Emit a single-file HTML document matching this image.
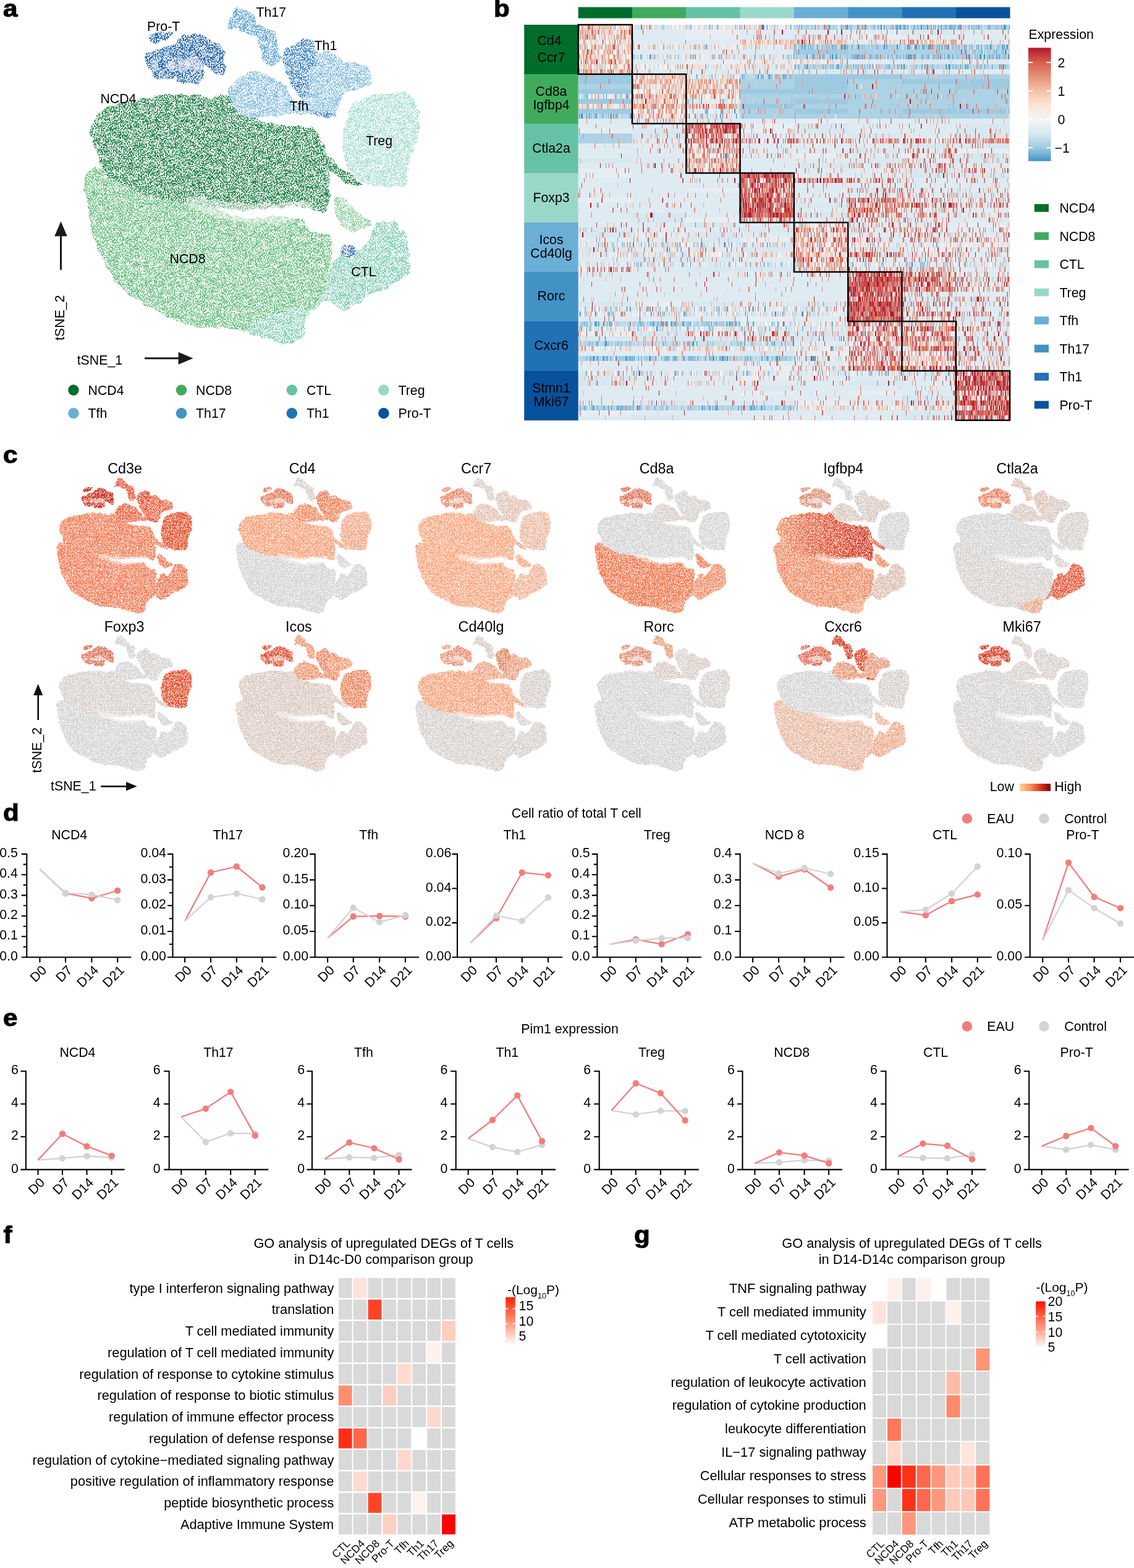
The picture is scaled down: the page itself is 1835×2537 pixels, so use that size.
<!DOCTYPE html><html><head><meta charset="utf-8"><title>Figure</title><style>
html,body{margin:0;padding:0;background:#fff;}body{width:1835px;height:2537px;overflow:hidden;}svg{display:block;}text{font-family:"Liberation Sans",Arial,Helvetica,sans-serif;fill:#000;}
</style></head><body>
<svg width="1835" height="2537" viewBox="0 0 1835 2537">
<defs>
<path id="s_ncd8" d="M136.0,298.0C135.5,288.3 137.3,286.3 140.0,282.0C142.7,277.7 146.7,273.0 152.0,272.0C157.3,271.0 164.0,273.0 172.0,276.0C180.0,279.0 190.3,285.5 200.0,290.0C209.7,294.5 219.2,299.3 230.0,303.0C240.8,306.7 253.3,309.5 265.0,312.0C276.7,314.5 287.5,315.7 300.0,318.0C312.5,320.3 330.7,322.3 340.0,326.0C349.3,329.7 346.0,335.5 356.0,340.0C366.0,344.5 386.0,351.2 400.0,353.0C414.0,354.8 428.3,351.2 440.0,351.0C451.7,350.8 461.7,351.3 470.0,352.0C478.3,352.7 485.5,352.3 490.0,355.0C494.5,357.7 493.7,364.5 497.0,368.0C500.3,371.5 504.5,374.3 510.0,376.0C515.5,377.7 525.7,375.7 530.0,378.0C534.3,380.3 534.8,384.7 536.0,390.0C537.2,395.3 537.7,401.7 537.0,410.0C536.3,418.3 533.5,430.8 532.0,440.0C530.5,449.2 530.3,456.7 528.0,465.0C525.7,473.3 522.7,483.2 518.0,490.0C513.3,496.8 504.3,499.8 500.0,506.0C495.7,512.2 493.7,520.5 492.0,527.0C490.3,533.5 495.0,540.2 490.0,545.0C485.0,549.8 470.8,555.3 462.0,556.0C453.2,556.7 445.0,551.2 437.0,549.0C429.0,546.8 423.8,545.7 414.0,543.0C404.2,540.3 390.3,535.2 378.0,533.0C365.7,530.8 351.3,530.8 340.0,530.0C328.7,529.2 320.3,530.3 310.0,528.0C299.7,525.7 288.3,520.7 278.0,516.0C267.7,511.3 258.0,505.3 248.0,500.0C238.0,494.7 227.2,490.2 218.0,484.0C208.8,477.8 200.2,471.2 193.0,463.0C185.8,454.8 180.5,444.7 175.0,435.0C169.5,425.3 164.5,415.5 160.0,405.0C155.5,394.5 150.8,382.8 148.0,372.0C145.2,361.2 145.0,352.3 143.0,340.0C141.0,327.7 136.5,307.7 136.0,298.0Z"/>
<path id="s_ncd8b" d="M540.0,322.0C541.3,318.0 546.7,317.3 550.0,318.0C553.3,318.7 555.8,322.3 560.0,326.0C564.2,329.7 570.0,335.7 575.0,340.0C580.0,344.3 585.5,349.0 590.0,352.0C594.5,355.0 600.7,355.7 602.0,358.0C603.3,360.3 601.7,363.7 598.0,366.0C594.3,368.3 586.0,371.0 580.0,372.0C574.0,373.0 567.0,374.0 562.0,372.0C557.0,370.0 553.3,365.0 550.0,360.0C546.7,355.0 543.7,348.3 542.0,342.0C540.3,335.7 538.7,326.0 540.0,322.0Z"/>
<path id="s_ctlb" d="M398.0,532.0C399.0,527.8 411.3,522.5 420.0,518.0C428.7,513.5 440.0,508.3 450.0,505.0C460.0,501.7 471.7,497.8 480.0,498.0C488.3,498.2 498.0,501.2 500.0,506.0C502.0,510.8 493.7,520.5 492.0,527.0C490.3,533.5 495.0,540.2 490.0,545.0C485.0,549.8 470.8,555.3 462.0,556.0C453.2,556.7 445.0,551.2 437.0,549.0C429.0,546.8 420.5,545.8 414.0,543.0C407.5,540.2 397.0,536.2 398.0,532.0Z"/>
<path id="s_ctl" d="M530.0,450.0C533.0,441.7 537.0,427.0 542.0,420.0C547.0,413.0 553.2,411.0 560.0,408.0C566.8,405.0 577.3,404.8 583.0,402.0C588.7,399.2 590.2,396.7 594.0,391.0C597.8,385.3 602.3,373.5 606.0,368.0C609.7,362.5 610.7,359.3 616.0,358.0C621.3,356.7 632.7,358.0 638.0,360.0C643.3,362.0 644.8,367.2 648.0,370.0C651.2,372.8 654.7,370.3 657.0,377.0C659.3,383.7 661.0,399.7 662.0,410.0C663.0,420.3 664.0,432.8 663.0,439.0C662.0,445.2 659.7,444.0 656.0,447.0C652.3,450.0 645.7,453.8 641.0,457.0C636.3,460.2 634.0,463.2 628.0,466.0C622.0,468.8 611.0,471.2 605.0,474.0C599.0,476.8 596.8,479.7 592.0,483.0C587.2,486.3 582.0,490.8 576.0,494.0C570.0,497.2 561.7,502.0 556.0,502.0C550.3,502.0 546.7,496.8 542.0,494.0C537.3,491.2 532.5,484.5 528.0,485.0C523.5,485.5 519.2,493.8 515.0,497.0C510.8,500.2 503.5,505.2 503.0,504.0C502.5,502.8 508.5,495.7 512.0,490.0C515.5,484.3 521.0,476.7 524.0,470.0C527.0,463.3 527.0,458.3 530.0,450.0Z"/>
<path id="s_ncd4" d="M147.0,215.0C147.0,209.7 147.8,205.0 150.0,200.0C152.2,195.0 155.8,189.5 160.0,185.0C164.2,180.5 168.0,176.3 175.0,173.0C182.0,169.7 192.0,167.2 202.0,165.0C212.0,162.8 225.0,161.8 235.0,160.0C245.0,158.2 254.8,155.3 262.0,154.0C269.2,152.7 271.7,152.0 278.0,152.0C284.3,152.0 292.7,153.7 300.0,154.0C307.3,154.3 315.3,152.8 322.0,154.0C328.7,155.2 335.3,160.8 340.0,161.0C344.7,161.2 346.3,156.3 350.0,155.0C353.7,153.7 358.0,152.2 362.0,153.0C366.0,153.8 370.0,156.8 374.0,160.0C378.0,163.2 381.8,168.2 386.0,172.0C390.2,175.8 394.0,179.7 399.0,183.0C404.0,186.3 409.8,189.2 416.0,192.0C422.2,194.8 428.7,198.2 436.0,200.0C443.3,201.8 451.7,202.2 460.0,203.0C468.3,203.8 478.3,204.0 486.0,205.0C493.7,206.0 501.0,207.0 506.0,209.0C511.0,211.0 513.0,212.7 516.0,217.0C519.0,221.3 521.7,228.7 524.0,235.0C526.3,241.3 528.7,247.5 530.0,255.0C531.3,262.5 531.5,271.7 532.0,280.0C532.5,288.3 533.0,296.7 533.0,305.0C533.0,313.3 533.2,323.7 532.0,330.0C530.8,336.3 528.8,340.8 526.0,343.0C523.2,345.2 521.7,344.7 515.0,343.0C508.3,341.3 496.8,334.3 486.0,333.0C475.2,331.7 462.2,334.2 450.0,335.0C437.8,335.8 424.7,337.3 413.0,338.0C401.3,338.7 392.2,339.7 380.0,339.0C367.8,338.3 353.3,336.0 340.0,334.0C326.7,332.0 312.5,329.0 300.0,327.0C287.5,325.0 276.7,324.2 265.0,322.0C253.3,319.8 240.8,317.7 230.0,314.0C219.2,310.3 209.7,305.0 200.0,300.0C190.3,295.0 178.2,289.3 172.0,284.0C165.8,278.7 165.2,273.7 163.0,268.0C160.8,262.3 161.2,256.0 159.0,250.0C156.8,244.0 152.0,237.8 150.0,232.0C148.0,226.2 147.0,220.3 147.0,215.0Z"/>
<path id="s_ncd4b" d="M512.0,246.0C513.3,243.8 516.3,241.7 522.0,245.0C527.7,248.3 537.7,259.2 546.0,266.0C554.3,272.8 565.7,280.8 572.0,286.0C578.3,291.2 583.3,294.5 584.0,297.0C584.7,299.5 581.3,302.2 576.0,301.0C570.7,299.8 560.0,294.8 552.0,290.0C544.0,285.2 534.3,277.3 528.0,272.0C521.7,266.7 516.7,262.3 514.0,258.0C511.3,253.7 510.7,248.2 512.0,246.0Z"/>
<path id="s_treg" d="M556.0,210.0C557.3,202.0 559.3,195.0 562.0,188.0C564.7,181.0 567.3,172.8 572.0,168.0C576.7,163.2 584.2,161.5 590.0,159.0C595.8,156.5 600.0,154.5 607.0,153.0C614.0,151.5 623.5,150.5 632.0,150.0C640.5,149.5 651.3,147.7 658.0,150.0C664.7,152.3 668.7,157.7 672.0,164.0C675.3,170.3 677.2,178.7 678.0,188.0C678.8,197.3 678.3,211.3 677.0,220.0C675.7,228.7 672.5,233.7 670.0,240.0C667.5,246.3 663.7,251.0 662.0,258.0C660.3,265.0 660.8,275.0 660.0,282.0C659.2,289.0 660.3,296.5 657.0,300.0C653.7,303.5 647.2,302.7 640.0,303.0C632.8,303.3 621.7,303.0 614.0,302.0C606.3,301.0 599.7,299.0 594.0,297.0C588.3,295.0 584.7,293.2 580.0,290.0C575.3,286.8 569.8,283.3 566.0,278.0C562.2,272.7 559.0,265.0 557.0,258.0C555.0,251.0 554.2,244.0 554.0,236.0C553.8,228.0 554.7,218.0 556.0,210.0Z"/>
<path id="s_tfh" d="M370.0,143.0C371.2,140.2 373.0,141.2 376.0,138.0C379.0,134.8 382.7,127.7 388.0,124.0C393.3,120.3 402.2,117.2 408.0,116.0C413.8,114.8 417.3,115.2 423.0,117.0C428.7,118.8 436.2,124.0 442.0,127.0C447.8,130.0 453.7,131.2 458.0,135.0C462.3,138.8 464.3,145.0 468.0,150.0C471.7,155.0 475.5,160.2 480.0,165.0C484.5,169.8 493.3,175.7 495.0,179.0C496.7,182.3 494.0,184.3 490.0,185.0C486.0,185.7 476.8,182.7 471.0,183.0C465.2,183.3 463.0,186.0 455.0,187.0C447.0,188.0 430.8,188.5 423.0,189.0C415.2,189.5 413.2,190.3 408.0,190.0C402.8,189.7 396.8,189.7 392.0,187.0C387.2,184.3 382.8,179.3 379.0,174.0C375.2,168.7 370.5,160.2 369.0,155.0C367.5,149.8 368.8,145.8 370.0,143.0Z"/>
<path id="s_tfh2" d="M505.0,110.0C507.5,103.2 511.5,93.7 515.0,89.0C518.5,84.3 521.5,82.0 526.0,82.0C530.5,82.0 536.7,85.8 542.0,89.0C547.3,92.2 551.8,99.0 558.0,101.0C564.2,103.0 572.8,99.3 579.0,101.0C585.2,102.7 591.2,107.0 595.0,111.0C598.8,115.0 601.5,120.8 602.0,125.0C602.5,129.2 601.3,133.0 598.0,136.0C594.7,139.0 587.8,140.8 582.0,143.0C576.2,145.2 567.8,146.5 563.0,149.0C558.2,151.5 555.2,154.3 553.0,158.0C550.8,161.7 551.8,166.7 550.0,171.0C548.2,175.3 546.0,180.8 542.0,184.0C538.0,187.2 531.2,189.5 526.0,190.0C520.8,190.5 516.2,188.8 511.0,187.0C505.8,185.2 499.3,181.8 495.0,179.0C490.7,176.2 485.0,174.8 485.0,170.0C485.0,165.2 492.5,156.7 495.0,150.0C497.5,143.3 498.3,136.7 500.0,130.0C501.7,123.3 502.5,116.8 505.0,110.0Z"/>
<path id="s_th17" d="M368.0,48.0C366.7,46.5 369.7,41.0 371.0,37.0C372.3,33.0 374.2,28.0 376.0,24.0C377.8,20.0 379.3,14.7 382.0,13.0C384.7,11.3 387.7,12.5 392.0,14.0C396.3,15.5 403.8,18.3 408.0,22.0C412.2,25.7 413.2,32.0 417.0,36.0C420.8,40.0 426.5,43.5 431.0,46.0C435.5,48.5 441.0,47.5 444.0,51.0C447.0,54.5 448.0,61.5 449.0,67.0C450.0,72.5 449.0,79.5 450.0,84.0C451.0,88.5 455.7,91.0 455.0,94.0C454.3,97.0 449.7,100.2 446.0,102.0C442.3,103.8 436.5,106.2 433.0,105.0C429.5,103.8 426.7,98.8 425.0,95.0C423.3,91.2 424.3,86.0 423.0,82.0C421.7,78.0 418.5,74.8 417.0,71.0C415.5,67.2 416.2,61.5 414.0,59.0C411.8,56.5 408.0,57.7 404.0,56.0C400.0,54.3 394.2,50.7 390.0,49.0C385.8,47.3 382.7,46.2 379.0,46.0C375.3,45.8 369.3,49.5 368.0,48.0Z"/>
<path id="s_th1" d="M460.0,82.0C462.2,78.3 466.5,75.8 471.0,73.0C475.5,70.2 482.8,66.7 487.0,65.0C491.2,63.3 492.7,62.2 496.0,63.0C499.3,63.8 504.0,65.7 507.0,70.0C510.0,74.3 513.3,83.2 514.0,89.0C514.7,94.8 512.8,101.3 511.0,105.0C509.2,108.7 504.8,107.3 503.0,111.0C501.2,114.7 500.5,121.7 500.0,127.0C499.5,132.3 500.7,138.3 500.0,143.0C499.3,147.7 498.2,152.7 496.0,155.0C493.8,157.3 490.2,158.5 487.0,157.0C483.8,155.5 480.2,151.0 477.0,146.0C473.8,141.0 470.5,132.8 468.0,127.0C465.5,121.2 463.7,116.3 462.0,111.0C460.3,105.7 458.3,99.8 458.0,95.0C457.7,90.2 457.8,85.7 460.0,82.0Z"/>
<path id="s_prot" d="M234.0,96.0C233.8,92.8 235.5,89.2 238.0,87.0C240.5,84.8 244.7,84.8 249.0,83.0C253.3,81.2 258.8,78.0 264.0,76.0C269.2,74.0 275.7,73.3 280.0,71.0C284.3,68.7 287.0,64.5 290.0,62.0C293.0,59.5 294.3,57.2 298.0,56.0C301.7,54.8 307.2,54.8 312.0,55.0C316.8,55.2 322.0,55.0 327.0,57.0C332.0,59.0 337.5,64.5 342.0,67.0C346.5,69.5 350.5,69.7 354.0,72.0C357.5,74.3 361.7,77.2 363.0,81.0C364.3,84.8 361.7,90.5 362.0,95.0C362.3,99.5 365.0,104.2 365.0,108.0C365.0,111.8 363.5,115.8 362.0,118.0C360.5,120.2 359.0,121.7 356.0,121.0C353.0,120.3 348.2,116.5 344.0,114.0C339.8,111.5 333.5,105.3 331.0,106.0C328.5,106.7 329.7,113.8 329.0,118.0C328.3,122.2 329.7,128.2 327.0,131.0C324.3,133.8 319.5,134.5 313.0,135.0C306.5,135.5 292.5,136.2 288.0,134.0C283.5,131.8 287.3,123.5 286.0,122.0C284.7,120.5 282.8,124.0 280.0,125.0C277.2,126.0 273.0,127.7 269.0,128.0C265.0,128.3 259.8,128.7 256.0,127.0C252.2,125.3 248.8,121.5 246.0,118.0C243.2,114.5 241.0,109.7 239.0,106.0C237.0,102.3 234.2,99.2 234.0,96.0Z"/>
<path id="s_prot2" d="M242.0,58.0C243.2,55.8 246.7,54.2 250.0,53.0C253.3,51.8 257.7,51.5 262.0,51.0C266.3,50.5 273.0,49.2 276.0,50.0C279.0,50.8 280.7,54.0 280.0,56.0C279.3,58.0 275.0,60.2 272.0,62.0C269.0,63.8 265.7,65.7 262.0,67.0C258.3,68.3 253.2,70.2 250.0,70.0C246.8,69.8 244.3,68.0 243.0,66.0C241.7,64.0 240.8,60.2 242.0,58.0Z"/>
<path id="h_0" d="M288.0,98.0C290.0,95.0 295.5,94.8 300.0,94.0C304.5,93.2 310.3,92.0 315.0,93.0C319.7,94.0 325.2,97.5 328.0,100.0C330.8,102.5 332.3,105.8 332.0,108.0C331.7,110.2 329.7,112.3 326.0,113.0C322.3,113.7 315.0,111.5 310.0,112.0C305.0,112.5 299.7,116.0 296.0,116.0C292.3,116.0 289.3,115.0 288.0,112.0C286.7,109.0 286.0,101.0 288.0,98.0Z"/>
<path id="h_1" d="M246.0,101.0C247.0,99.5 250.2,98.5 252.0,99.0C253.8,99.5 256.3,101.8 257.0,104.0C257.7,106.2 257.2,110.5 256.0,112.0C254.8,113.5 251.7,113.7 250.0,113.0C248.3,112.3 246.7,110.0 246.0,108.0C245.3,106.0 245.0,102.5 246.0,101.0Z"/>
<path id="h_2" d="M271.0,101.0C272.5,99.5 276.7,98.5 279.0,99.0C281.3,99.5 284.3,101.8 285.0,104.0C285.7,106.2 284.7,110.5 283.0,112.0C281.3,113.5 277.2,113.7 275.0,113.0C272.8,112.3 270.7,110.0 270.0,108.0C269.3,106.0 269.5,102.5 271.0,101.0Z"/>
<path id="e_th1s" d="M508.0,181.0C510.8,180.3 519.3,181.2 525.0,182.0C530.7,182.8 539.5,184.7 542.0,186.0C544.5,187.3 543.0,189.3 540.0,190.0C537.0,190.7 529.3,190.7 524.0,190.0C518.7,189.3 510.7,187.5 508.0,186.0C505.3,184.5 505.2,181.7 508.0,181.0Z"/>
<path id="f_0" d="M305.0,318.0C311.7,316.0 334.2,321.8 350.0,324.0C365.8,326.2 383.3,330.2 400.0,331.0C416.7,331.8 434.2,329.8 450.0,329.0C465.8,328.2 485.8,323.3 495.0,326.0C504.2,328.7 510.8,339.7 505.0,345.0C499.2,350.3 477.5,355.2 460.0,358.0C442.5,360.8 418.3,363.3 400.0,362.0C381.7,360.7 365.0,354.3 350.0,350.0C335.0,345.7 317.5,341.3 310.0,336.0C302.5,330.7 298.3,320.0 305.0,318.0Z" fill-opacity="0.45"/>
<path id="f_1" d="M492.0,352.0C494.5,347.5 508.7,345.3 515.0,345.0C521.3,344.7 526.8,345.5 530.0,350.0C533.2,354.5 535.7,367.3 534.0,372.0C532.3,376.7 525.7,378.0 520.0,378.0C514.3,378.0 504.7,376.3 500.0,372.0C495.3,367.7 489.5,356.5 492.0,352.0Z" fill-opacity="0.55"/>
<ellipse id="e_th1b" cx="563" cy="406" rx="13" ry="10"/>
<filter id="spkA" filterUnits="userSpaceOnUse" x="120" y="0" width="580" height="580" color-interpolation-filters="sRGB"><feTurbulence type="fractalNoise" baseFrequency="0.12" numOctaves="2" seed="5" result="lo"/><feTurbulence type="fractalNoise" baseFrequency="0.55" numOctaves="1" seed="9" result="hi"/><feColorMatrix in="lo" type="matrix" values="0 0 0 0 0 0 0 0 0 0 0 0 0 0 0 1 0 0 0 0" result="la"/><feColorMatrix in="hi" type="matrix" values="0 0 0 0 0 0 0 0 0 0 0 0 0 0 0 1 0 0 0 0" result="ha"/><feComposite in="la" in2="ha" operator="arithmetic" k2="0.18" k3="0.82" result="s"/><feComponentTransfer in="s" result="m"><feFuncA type="linear" slope="11" intercept="-5.0"/></feComponentTransfer><feTurbulence type="fractalNoise" baseFrequency="0.09" numOctaves="2" seed="2" result="dn"/><feDisplacementMap in="SourceGraphic" in2="dn" scale="9" xChannelSelector="R" yChannelSelector="G" result="disp"/><feComposite in="disp" in2="m" operator="in" result="o"/><feGaussianBlur in="o" stdDeviation="0.55"/></filter>
<filter id="spkC" filterUnits="userSpaceOnUse" x="80" y="760" width="1700" height="500" color-interpolation-filters="sRGB"><feTurbulence type="fractalNoise" baseFrequency="0.3" numOctaves="1" seed="4" result="lo"/><feTurbulence type="fractalNoise" baseFrequency="1.2" numOctaves="1" seed="8" result="hi"/><feColorMatrix in="lo" type="matrix" values="0 0 0 0 0 0 0 0 0 0 0 0 0 0 0 1 0 0 0 0" result="la"/><feColorMatrix in="hi" type="matrix" values="0 0 0 0 0 0 0 0 0 0 0 0 0 0 0 1 0 0 0 0" result="ha"/><feComposite in="la" in2="ha" operator="arithmetic" k2="0.15" k3="0.85" result="s"/><feComponentTransfer in="s" result="m"><feFuncA type="linear" slope="10" intercept="-4.0"/></feComponentTransfer><feTurbulence type="fractalNoise" baseFrequency="0.2" numOctaves="2" seed="2" result="dn"/><feDisplacementMap in="SourceGraphic" in2="dn" scale="4" xChannelSelector="R" yChannelSelector="G" result="disp"/><feComposite in="disp" in2="m" operator="in" result="o"/><feGaussianBlur in="o" stdDeviation="0.4"/></filter>

<linearGradient id="gExpr" x1="0" y1="0" x2="0" y2="1"><stop offset="0" stop-color="#B2182B"/><stop offset="0.129" stop-color="#D6604D"/><stop offset="0.38" stop-color="#F8C1A6"/><stop offset="0.506" stop-color="#FBE3D6"/><stop offset="0.632" stop-color="#F5F5F5"/><stop offset="0.757" stop-color="#D8E8F1"/><stop offset="0.883" stop-color="#9ECAE1"/><stop offset="1" stop-color="#4393C3"/></linearGradient>
<linearGradient id="gF" x1="0" y1="0" x2="0" y2="1"><stop offset="0" stop-color="#FF2010"/><stop offset="0.07" stop-color="#FF3018"/><stop offset="0.245" stop-color="#FE5A3E"/><stop offset="0.45" stop-color="#FE8468"/><stop offset="0.555" stop-color="#FE9A80"/><stop offset="0.73" stop-color="#FEC0AE"/><stop offset="0.87" stop-color="#FEDED4"/><stop offset="1" stop-color="#FFFAF8"/></linearGradient>
<linearGradient id="gG" x1="0" y1="0" x2="0" y2="1"><stop offset="0" stop-color="#FF1008"/><stop offset="0.33" stop-color="#FE6446"/><stop offset="0.66" stop-color="#FEA890"/><stop offset="1" stop-color="#FFF6F2"/></linearGradient>
<linearGradient id="gIgN4" x1="0" x2="1" y1="0" y2="0"><stop offset="0" stop-color="#F3966C"/><stop offset="0.45" stop-color="#E45A38"/><stop offset="1" stop-color="#CF3320"/></linearGradient>
<linearGradient id="gLH" x1="0" x2="1" y1="0" y2="0"><stop offset="0" stop-color="#FDD49E"/><stop offset="0.35" stop-color="#FC8D59"/><stop offset="0.7" stop-color="#D7301F"/><stop offset="1" stop-color="#7F0000"/></linearGradient>
</defs>
<rect width="1835" height="2537" fill="#fff"/>
<text transform="translate(5 27.3) scale(1.08 0.975)" font-size="39" font-weight="bold" stroke="#000" stroke-width="1.1">a</text>
<text transform="translate(799 27.3) scale(1.08 0.975)" font-size="39" font-weight="bold" stroke="#000" stroke-width="1.1">b</text>
<text transform="translate(5 748.5) scale(1.08 0.975)" font-size="39" font-weight="bold" stroke="#000" stroke-width="1.1">c</text>
<text transform="translate(5 1328.3) scale(1.08 0.975)" font-size="39" font-weight="bold" stroke="#000" stroke-width="1.1">d</text>
<text transform="translate(5 1659.8) scale(1.08 0.975)" font-size="39" font-weight="bold" stroke="#000" stroke-width="1.1">e</text>
<text transform="translate(5.5 2010.5) scale(1.08 0.975)" font-size="39" font-weight="bold" stroke="#000" stroke-width="1.1">f</text>
<text transform="translate(1026 2011) scale(1.08 0.975)" font-size="39" font-weight="bold" stroke="#000" stroke-width="1.1">g</text>
<g filter="url(#spkA)">
<use href="#s_ncd8" fill="#67BC7D"/>
<use href="#s_ncd8b" fill="#8DCD9E"/>
<use href="#s_ctlb" fill="#7DCBB2"/>
<use href="#s_ctl" fill="#7DCBB2"/>
<use href="#s_ncd4" fill="#1F7F45"/>
<use href="#s_ncd4b" fill="#1F7F45"/>
<use href="#s_treg" fill="#A3DCCE"/>
<use href="#s_tfh" fill="#81BADC"/>
<use href="#s_tfh2" fill="#81BADC"/>
<use href="#s_th17" fill="#599FCD"/>
<use href="#s_th1" fill="#377FBC"/>
<use href="#s_prot" fill="#1C5FA4"/>
<use href="#s_prot2" fill="#1C5FA4"/>
<use href="#e_th1s" fill="#377FBC"/>
<use href="#h_0" fill="#8AA9D6"/>
<use href="#h_1" fill="#8AA9D6"/>
<use href="#h_2" fill="#8AA9D6"/>
<use href="#e_th1b" fill="#3767AC"/>
<use href="#f_0" fill="#FFFFFF"/>
<use href="#f_1" fill="#FFFFFF"/>
</g>
<text x="238" y="49.9" font-size="21.3">Pro-T</text>
<text x="414.5" y="27.4" font-size="21.3">Th17</text>
<text x="508.6" y="80.5" font-size="21.3">Th1</text>
<text x="468.7" y="179.3" font-size="21.3">Tfh</text>
<text x="162.4" y="167.4" font-size="21.3">NCD4</text>
<text x="592" y="234.8" font-size="21.3">Treg</text>
<text x="274.6" y="426.3" font-size="21.3">NCD8</text>
<text x="568.3" y="447.2" font-size="21.3">CTL</text>
<path d="M98.5,436.7V378" stroke="#1a1a1a" stroke-width="3" fill="none"/>
<path d="M98.5,358.2L88.2,382.3L108.8,382.3Z" fill="#1a1a1a"/>
<path d="M234.1,579.7H292" stroke="#1a1a1a" stroke-width="3" fill="none"/>
<path d="M312.5,579.7L288.6,569.7L288.6,589.7Z" fill="#1a1a1a"/>
<text x="124.7" y="589.7" font-size="21.3">tSNE_1</text>
<text x="103.6" y="550.8" font-size="21.3" transform="rotate(-90 103.6 550.8)">tSNE_2</text>
<circle cx="118.9" cy="631.1" r="8.8" fill="#006D2C"/>
<text x="142.5" y="638.6" font-size="21.3">NCD4</text>
<circle cx="293.5" cy="631.1" r="8.8" fill="#41AB5D"/>
<text x="317.1" y="638.6" font-size="21.3">NCD8</text>
<circle cx="472.3" cy="631.1" r="8.8" fill="#66C2A4"/>
<text x="495.9" y="638.6" font-size="21.3">CTL</text>
<circle cx="620.9" cy="631.1" r="8.8" fill="#99D8C9"/>
<text x="644.5" y="638.6" font-size="21.3">Treg</text>
<circle cx="118.9" cy="668.6" r="8.8" fill="#6BAED6"/>
<text x="142.5" y="676.1" font-size="21.3">Tfh</text>
<circle cx="293.5" cy="668.6" r="8.8" fill="#4292C6"/>
<text x="317.1" y="676.1" font-size="21.3">Th17</text>
<circle cx="472.3" cy="668.6" r="8.8" fill="#2171B5"/>
<text x="495.9" y="676.1" font-size="21.3">Th1</text>
<circle cx="620.9" cy="668.6" r="8.8" fill="#08519C"/>
<text x="644.5" y="676.1" font-size="21.3">Pro-T</text>
<rect x="935.7" y="11.5" width="87.7" height="18" fill="#006D2C"/>
<rect x="1023" y="11.5" width="87.7" height="18" fill="#41AB5D"/>
<rect x="1110.3" y="11.5" width="87.7" height="18" fill="#66C2A4"/>
<rect x="1197.6" y="11.5" width="87.7" height="18" fill="#99D8C9"/>
<rect x="1284.9" y="11.5" width="87.7" height="18" fill="#6BAED6"/>
<rect x="1372.2" y="11.5" width="87.7" height="18" fill="#4292C6"/>
<rect x="1459.5" y="11.5" width="87.7" height="18" fill="#2171B5"/>
<rect x="1546.8" y="11.5" width="87.7" height="18" fill="#08519C"/>
<rect x="848.2" y="40" width="87.5" height="80.3" fill="#006D2C"/>
<rect x="848.2" y="120" width="87.5" height="80.3" fill="#41AB5D"/>
<rect x="848.2" y="200" width="87.5" height="80.3" fill="#66C2A4"/>
<rect x="848.2" y="280" width="87.5" height="80.3" fill="#99D8C9"/>
<rect x="848.2" y="360" width="87.5" height="80.3" fill="#6BAED6"/>
<rect x="848.2" y="440" width="87.5" height="80.3" fill="#4292C6"/>
<rect x="848.2" y="520" width="87.5" height="80.3" fill="#2171B5"/>
<rect x="848.2" y="600" width="87.5" height="80.3" fill="#08519C"/>
<text x="889" y="73" font-size="21.3" text-anchor="middle">Cd4</text>
<text x="892" y="99.8" font-size="21.3" text-anchor="middle">Ccr7</text>
<text x="892" y="155.2" font-size="21.3" text-anchor="middle">Cd8a</text>
<text x="892" y="176.7" font-size="21.3" text-anchor="middle">Igfbp4</text>
<text x="892" y="247" font-size="21.3" text-anchor="middle">Ctla2a</text>
<text x="892" y="326.5" font-size="21.3" text-anchor="middle">Foxp3</text>
<text x="892" y="394.7" font-size="21.3" text-anchor="middle">Icos</text>
<text x="892" y="417" font-size="21.3" text-anchor="middle">Cd40lg</text>
<text x="892" y="486.1" font-size="21.3" text-anchor="middle">Rorc</text>
<text x="892" y="565.9" font-size="21.3" text-anchor="middle">Cxcr6</text>
<text x="892" y="634.9" font-size="21.3" text-anchor="middle">Stmn1</text>
<text x="892" y="656.6" font-size="21.3" text-anchor="middle">Mki67</text>
<rect x="936" y="40" width="87" height="8" fill="#EEF2F4"/>
<rect x="1023" y="40" width="87" height="8" fill="#D8E8F1"/>
<rect x="1110" y="40" width="175" height="8" fill="#DFEBF2"/>
<rect x="1285" y="40" width="87" height="8" fill="#BBD9E9"/>
<rect x="1372" y="40" width="175" height="8" fill="#ACD2E5"/>
<rect x="1547" y="40" width="87" height="8" fill="#BBD9E9"/>
<rect x="936" y="48" width="87" height="8" fill="#E6EEF3"/>
<rect x="1023" y="48" width="87" height="8" fill="#DFEBF2"/>
<rect x="1110" y="48" width="88" height="8" fill="#E6EEF3"/>
<rect x="1198" y="48" width="262" height="8" fill="#DFEBF2"/>
<rect x="1460" y="48" width="87" height="8" fill="#D8E8F1"/>
<rect x="1547" y="48" width="87" height="8" fill="#DFEBF2"/>
<rect x="936" y="56" width="87" height="8" fill="#E6EEF3"/>
<rect x="1023" y="56" width="87" height="8" fill="#DFEBF2"/>
<rect x="1110" y="56" width="88" height="8" fill="#E6EEF3"/>
<rect x="1198" y="56" width="87" height="8" fill="#DFEBF2"/>
<rect x="1285" y="56" width="87" height="8" fill="#D8E8F1"/>
<rect x="1372" y="56" width="88" height="8" fill="#E6EEF3"/>
<rect x="1460" y="56" width="174" height="8" fill="#DFEBF2"/>
<rect x="936" y="64" width="87" height="8" fill="#EEF2F4"/>
<rect x="1023" y="64" width="262" height="8" fill="#DFEBF2"/>
<rect x="1285" y="64" width="87" height="8" fill="#E6EEF3"/>
<rect x="1372" y="64" width="88" height="8" fill="#DFEBF2"/>
<rect x="1460" y="64" width="87" height="8" fill="#E6EEF3"/>
<rect x="1547" y="64" width="87" height="8" fill="#DFEBF2"/>
<rect x="936" y="72" width="87" height="8" fill="#EEF2F4"/>
<rect x="1023" y="72" width="262" height="8" fill="#DFEBF2"/>
<rect x="1285" y="72" width="262" height="8" fill="#ACD2E5"/>
<rect x="1547" y="72" width="87" height="8" fill="#BBD9E9"/>
<rect x="936" y="80" width="87" height="8" fill="#F5F5F5"/>
<rect x="1023" y="80" width="262" height="8" fill="#DFEBF2"/>
<rect x="1285" y="80" width="87" height="8" fill="#9ECAE1"/>
<rect x="1372" y="80" width="262" height="8" fill="#ACD2E5"/>
<rect x="936" y="88" width="87" height="8" fill="#EEF2F4"/>
<rect x="1023" y="88" width="87" height="8" fill="#DFEBF2"/>
<rect x="1110" y="88" width="175" height="8" fill="#D8E8F1"/>
<rect x="1285" y="88" width="87" height="8" fill="#BBD9E9"/>
<rect x="1372" y="88" width="262" height="8" fill="#ACD2E5"/>
<rect x="936" y="96" width="87" height="8" fill="#EEF2F4"/>
<rect x="1023" y="96" width="87" height="8" fill="#DFEBF2"/>
<rect x="1110" y="96" width="88" height="8" fill="#E6EEF3"/>
<rect x="1198" y="96" width="262" height="8" fill="#DFEBF2"/>
<rect x="1460" y="96" width="87" height="8" fill="#D8E8F1"/>
<rect x="1547" y="96" width="87" height="8" fill="#DFEBF2"/>
<rect x="936" y="104" width="87" height="8" fill="#EEF2F4"/>
<rect x="1023" y="104" width="175" height="8" fill="#DFEBF2"/>
<rect x="1198" y="104" width="87" height="8" fill="#D8E8F1"/>
<rect x="1285" y="104" width="349" height="8" fill="#BBD9E9"/>
<rect x="936" y="112" width="87" height="8" fill="#EEF2F4"/>
<rect x="1023" y="112" width="262" height="8" fill="#DFEBF2"/>
<rect x="1285" y="112" width="175" height="8" fill="#D8E8F1"/>
<rect x="1460" y="112" width="174" height="8" fill="#DFEBF2"/>
<rect x="936" y="120" width="87" height="8" fill="#9ECAE1"/>
<rect x="1023" y="120" width="87" height="8" fill="#E6EEF3"/>
<rect x="1110" y="120" width="88" height="8" fill="#D8E8F1"/>
<rect x="1198" y="120" width="87" height="8" fill="#BBD9E9"/>
<rect x="1285" y="120" width="175" height="8" fill="#9ECAE1"/>
<rect x="1460" y="120" width="174" height="8" fill="#ACD2E5"/>
<rect x="936" y="128" width="87" height="8" fill="#9ECAE1"/>
<rect x="1023" y="128" width="175" height="8" fill="#E6EEF3"/>
<rect x="1198" y="128" width="87" height="8" fill="#ACD2E5"/>
<rect x="1285" y="128" width="87" height="8" fill="#9ECAE1"/>
<rect x="1372" y="128" width="88" height="8" fill="#ACD2E5"/>
<rect x="1460" y="128" width="174" height="8" fill="#9ECAE1"/>
<rect x="936" y="136" width="87" height="8" fill="#ACD2E5"/>
<rect x="1023" y="136" width="175" height="8" fill="#E6EEF3"/>
<rect x="1198" y="136" width="87" height="8" fill="#ACD2E5"/>
<rect x="1285" y="136" width="87" height="8" fill="#9ECAE1"/>
<rect x="1372" y="136" width="175" height="8" fill="#ACD2E5"/>
<rect x="1547" y="136" width="87" height="8" fill="#9ECAE1"/>
<rect x="936" y="144" width="87" height="8" fill="#9ECAE1"/>
<rect x="1023" y="144" width="175" height="8" fill="#EEF2F4"/>
<rect x="1198" y="144" width="174" height="8" fill="#9ECAE1"/>
<rect x="1372" y="144" width="262" height="8" fill="#ACD2E5"/>
<rect x="936" y="152" width="87" height="8" fill="#D8E8F1"/>
<rect x="1023" y="152" width="175" height="8" fill="#EEF2F4"/>
<rect x="1198" y="152" width="436" height="8" fill="#ACD2E5"/>
<rect x="936" y="160" width="87" height="8" fill="#9ECAE1"/>
<rect x="1023" y="160" width="87" height="8" fill="#EEF2F4"/>
<rect x="1110" y="160" width="88" height="8" fill="#DFEBF2"/>
<rect x="1198" y="160" width="87" height="8" fill="#ACD2E5"/>
<rect x="1285" y="160" width="87" height="8" fill="#9ECAE1"/>
<rect x="1372" y="160" width="262" height="8" fill="#ACD2E5"/>
<rect x="936" y="168" width="87" height="8" fill="#E6EEF3"/>
<rect x="1023" y="168" width="87" height="8" fill="#EEF2F4"/>
<rect x="1110" y="168" width="88" height="8" fill="#E6EEF3"/>
<rect x="1198" y="168" width="87" height="8" fill="#9ECAE1"/>
<rect x="1285" y="168" width="349" height="8" fill="#ACD2E5"/>
<rect x="936" y="176" width="87" height="8" fill="#9ECAE1"/>
<rect x="1023" y="176" width="87" height="8" fill="#EEF2F4"/>
<rect x="1110" y="176" width="88" height="8" fill="#DFEBF2"/>
<rect x="1198" y="176" width="87" height="8" fill="#ACD2E5"/>
<rect x="1285" y="176" width="87" height="8" fill="#9ECAE1"/>
<rect x="1372" y="176" width="88" height="8" fill="#ACD2E5"/>
<rect x="1460" y="176" width="174" height="8" fill="#9ECAE1"/>
<rect x="936" y="184" width="87" height="8" fill="#BBD9E9"/>
<rect x="1023" y="184" width="87" height="8" fill="#E6EEF3"/>
<rect x="1110" y="184" width="88" height="8" fill="#DFEBF2"/>
<rect x="1198" y="184" width="436" height="8" fill="#ACD2E5"/>
<rect x="936" y="192" width="349" height="8" fill="#DFEBF2"/>
<rect x="1285" y="192" width="87" height="8" fill="#E6EEF3"/>
<rect x="1372" y="192" width="262" height="8" fill="#DFEBF2"/>
<rect x="936" y="200" width="174" height="8" fill="#DFEBF2"/>
<rect x="1110" y="200" width="88" height="8" fill="#F5F5F5"/>
<rect x="1198" y="200" width="87" height="8" fill="#E6EEF3"/>
<rect x="1285" y="200" width="87" height="8" fill="#D8E8F1"/>
<rect x="1372" y="200" width="175" height="8" fill="#DFEBF2"/>
<rect x="1547" y="200" width="87" height="8" fill="#D8E8F1"/>
<rect x="936" y="208" width="87" height="8" fill="#E6EEF3"/>
<rect x="1023" y="208" width="87" height="8" fill="#D8E8F1"/>
<rect x="1110" y="208" width="88" height="8" fill="#F6F0ED"/>
<rect x="1198" y="208" width="87" height="8" fill="#E6EEF3"/>
<rect x="1285" y="208" width="87" height="8" fill="#D8E8F1"/>
<rect x="1372" y="208" width="175" height="8" fill="#DFEBF2"/>
<rect x="1547" y="208" width="87" height="8" fill="#D8E8F1"/>
<rect x="936" y="216" width="87" height="8" fill="#ACD2E5"/>
<rect x="1023" y="216" width="87" height="8" fill="#D8E8F1"/>
<rect x="1110" y="216" width="88" height="8" fill="#E6EEF3"/>
<rect x="1198" y="216" width="174" height="8" fill="#DFEBF2"/>
<rect x="1372" y="216" width="88" height="8" fill="#D8E8F1"/>
<rect x="1460" y="216" width="87" height="8" fill="#DFEBF2"/>
<rect x="1547" y="216" width="87" height="8" fill="#D8E8F1"/>
<rect x="936" y="224" width="87" height="8" fill="#ACD2E5"/>
<rect x="1023" y="224" width="87" height="8" fill="#DFEBF2"/>
<rect x="1110" y="224" width="524" height="8" fill="#E6EEF3"/>
<rect x="936" y="232" width="174" height="8" fill="#DFEBF2"/>
<rect x="1110" y="232" width="88" height="8" fill="#E6EEF3"/>
<rect x="1198" y="232" width="262" height="8" fill="#DFEBF2"/>
<rect x="1460" y="232" width="174" height="8" fill="#D8E8F1"/>
<rect x="936" y="240" width="174" height="8" fill="#DFEBF2"/>
<rect x="1110" y="240" width="88" height="8" fill="#E6EEF3"/>
<rect x="1198" y="240" width="174" height="8" fill="#DFEBF2"/>
<rect x="1372" y="240" width="88" height="8" fill="#D8E8F1"/>
<rect x="1460" y="240" width="87" height="8" fill="#DFEBF2"/>
<rect x="1547" y="240" width="87" height="8" fill="#E6EEF3"/>
<rect x="936" y="248" width="174" height="8" fill="#DFEBF2"/>
<rect x="1110" y="248" width="88" height="8" fill="#E6EEF3"/>
<rect x="1198" y="248" width="87" height="8" fill="#DFEBF2"/>
<rect x="1285" y="248" width="87" height="8" fill="#E6EEF3"/>
<rect x="1372" y="248" width="88" height="8" fill="#DFEBF2"/>
<rect x="1460" y="248" width="87" height="8" fill="#E6EEF3"/>
<rect x="1547" y="248" width="87" height="8" fill="#D8E8F1"/>
<rect x="936" y="256" width="87" height="8" fill="#D8E8F1"/>
<rect x="1023" y="256" width="87" height="8" fill="#DFEBF2"/>
<rect x="1110" y="256" width="88" height="8" fill="#EEF2F4"/>
<rect x="1198" y="256" width="174" height="8" fill="#DFEBF2"/>
<rect x="1372" y="256" width="88" height="8" fill="#D8E8F1"/>
<rect x="1460" y="256" width="87" height="8" fill="#DFEBF2"/>
<rect x="1547" y="256" width="87" height="8" fill="#D8E8F1"/>
<rect x="936" y="264" width="174" height="8" fill="#DFEBF2"/>
<rect x="1110" y="264" width="88" height="8" fill="#EEF2F4"/>
<rect x="1198" y="264" width="87" height="8" fill="#DFEBF2"/>
<rect x="1285" y="264" width="87" height="8" fill="#D8E8F1"/>
<rect x="1372" y="264" width="262" height="8" fill="#DFEBF2"/>
<rect x="936" y="272" width="87" height="8" fill="#E6EEF3"/>
<rect x="1023" y="272" width="87" height="8" fill="#DFEBF2"/>
<rect x="1110" y="272" width="88" height="8" fill="#E6EEF3"/>
<rect x="1198" y="272" width="262" height="8" fill="#DFEBF2"/>
<rect x="1460" y="272" width="87" height="8" fill="#D8E8F1"/>
<rect x="1547" y="272" width="87" height="8" fill="#DFEBF2"/>
<rect x="936" y="280" width="87" height="8" fill="#E6EEF3"/>
<rect x="1023" y="280" width="175" height="8" fill="#DFEBF2"/>
<rect x="1198" y="280" width="87" height="8" fill="#F8ECE6"/>
<rect x="1285" y="280" width="175" height="8" fill="#DFEBF2"/>
<rect x="1460" y="280" width="174" height="8" fill="#D8E8F1"/>
<rect x="936" y="288" width="262" height="8" fill="#DFEBF2"/>
<rect x="1198" y="288" width="87" height="8" fill="#F6F0ED"/>
<rect x="1285" y="288" width="87" height="8" fill="#E6EEF3"/>
<rect x="1372" y="288" width="262" height="8" fill="#DFEBF2"/>
<rect x="936" y="296" width="262" height="8" fill="#DFEBF2"/>
<rect x="1198" y="296" width="87" height="8" fill="#F8ECE6"/>
<rect x="1285" y="296" width="349" height="8" fill="#DFEBF2"/>
<rect x="936" y="304" width="174" height="8" fill="#DFEBF2"/>
<rect x="1110" y="304" width="88" height="8" fill="#E6EEF3"/>
<rect x="1198" y="304" width="87" height="8" fill="#F8ECE6"/>
<rect x="1285" y="304" width="87" height="8" fill="#DFEBF2"/>
<rect x="1372" y="304" width="88" height="8" fill="#D8E8F1"/>
<rect x="1460" y="304" width="174" height="8" fill="#DFEBF2"/>
<rect x="936" y="312" width="262" height="8" fill="#DFEBF2"/>
<rect x="1198" y="312" width="87" height="8" fill="#F6F0ED"/>
<rect x="1285" y="312" width="262" height="8" fill="#DFEBF2"/>
<rect x="1547" y="312" width="87" height="8" fill="#D8E8F1"/>
<rect x="936" y="320" width="87" height="8" fill="#E6EEF3"/>
<rect x="1023" y="320" width="175" height="8" fill="#DFEBF2"/>
<rect x="1198" y="320" width="87" height="8" fill="#F5F5F5"/>
<rect x="1285" y="320" width="87" height="8" fill="#DFEBF2"/>
<rect x="1372" y="320" width="88" height="8" fill="#E6EEF3"/>
<rect x="1460" y="320" width="174" height="8" fill="#DFEBF2"/>
<rect x="936" y="328" width="262" height="8" fill="#DFEBF2"/>
<rect x="1198" y="328" width="87" height="8" fill="#F5F5F5"/>
<rect x="1285" y="328" width="87" height="8" fill="#D8E8F1"/>
<rect x="1372" y="328" width="88" height="8" fill="#E6EEF3"/>
<rect x="1460" y="328" width="174" height="8" fill="#DFEBF2"/>
<rect x="936" y="336" width="262" height="8" fill="#DFEBF2"/>
<rect x="1198" y="336" width="87" height="8" fill="#F6F0ED"/>
<rect x="1285" y="336" width="87" height="8" fill="#DFEBF2"/>
<rect x="1372" y="336" width="88" height="8" fill="#E6EEF3"/>
<rect x="1460" y="336" width="174" height="8" fill="#DFEBF2"/>
<rect x="936" y="344" width="87" height="8" fill="#DFEBF2"/>
<rect x="1023" y="344" width="87" height="8" fill="#D8E8F1"/>
<rect x="1110" y="344" width="88" height="8" fill="#DFEBF2"/>
<rect x="1198" y="344" width="87" height="8" fill="#F6F0ED"/>
<rect x="1285" y="344" width="87" height="8" fill="#D8E8F1"/>
<rect x="1372" y="344" width="88" height="8" fill="#E6EEF3"/>
<rect x="1460" y="344" width="174" height="8" fill="#DFEBF2"/>
<rect x="936" y="352" width="87" height="8" fill="#DFEBF2"/>
<rect x="1023" y="352" width="87" height="8" fill="#D8E8F1"/>
<rect x="1110" y="352" width="88" height="8" fill="#E6EEF3"/>
<rect x="1198" y="352" width="436" height="8" fill="#DFEBF2"/>
<rect x="936" y="360" width="174" height="8" fill="#DFEBF2"/>
<rect x="1110" y="360" width="88" height="8" fill="#D8E8F1"/>
<rect x="1198" y="360" width="87" height="8" fill="#DFEBF2"/>
<rect x="1285" y="360" width="87" height="8" fill="#EEF2F4"/>
<rect x="1372" y="360" width="175" height="8" fill="#DFEBF2"/>
<rect x="1547" y="360" width="87" height="8" fill="#E6EEF3"/>
<rect x="936" y="368" width="87" height="8" fill="#D8E8F1"/>
<rect x="1023" y="368" width="175" height="8" fill="#DFEBF2"/>
<rect x="1198" y="368" width="87" height="8" fill="#D8E8F1"/>
<rect x="1285" y="368" width="87" height="8" fill="#EEF2F4"/>
<rect x="1372" y="368" width="88" height="8" fill="#DFEBF2"/>
<rect x="1460" y="368" width="87" height="8" fill="#E6EEF3"/>
<rect x="1547" y="368" width="87" height="8" fill="#DFEBF2"/>
<rect x="936" y="376" width="87" height="8" fill="#D8E8F1"/>
<rect x="1023" y="376" width="87" height="8" fill="#E6EEF3"/>
<rect x="1110" y="376" width="88" height="8" fill="#D8E8F1"/>
<rect x="1198" y="376" width="87" height="8" fill="#DFEBF2"/>
<rect x="1285" y="376" width="87" height="8" fill="#EEF2F4"/>
<rect x="1372" y="376" width="262" height="8" fill="#DFEBF2"/>
<rect x="936" y="384" width="174" height="8" fill="#DFEBF2"/>
<rect x="1110" y="384" width="88" height="8" fill="#D8E8F1"/>
<rect x="1198" y="384" width="87" height="8" fill="#E6EEF3"/>
<rect x="1285" y="384" width="87" height="8" fill="#EEF2F4"/>
<rect x="1372" y="384" width="262" height="8" fill="#DFEBF2"/>
<rect x="936" y="392" width="87" height="8" fill="#D8E8F1"/>
<rect x="1023" y="392" width="175" height="8" fill="#DFEBF2"/>
<rect x="1198" y="392" width="87" height="8" fill="#D8E8F1"/>
<rect x="1285" y="392" width="175" height="8" fill="#E6EEF3"/>
<rect x="1460" y="392" width="174" height="8" fill="#DFEBF2"/>
<rect x="936" y="400" width="87" height="8" fill="#D8E8F1"/>
<rect x="1023" y="400" width="175" height="8" fill="#DFEBF2"/>
<rect x="1198" y="400" width="87" height="8" fill="#D8E8F1"/>
<rect x="1285" y="400" width="87" height="8" fill="#EEF2F4"/>
<rect x="1372" y="400" width="88" height="8" fill="#D8E8F1"/>
<rect x="1460" y="400" width="87" height="8" fill="#E6EEF3"/>
<rect x="1547" y="400" width="87" height="8" fill="#DFEBF2"/>
<rect x="936" y="408" width="349" height="8" fill="#DFEBF2"/>
<rect x="1285" y="408" width="87" height="8" fill="#EEF2F4"/>
<rect x="1372" y="408" width="262" height="8" fill="#DFEBF2"/>
<rect x="936" y="416" width="87" height="8" fill="#DFEBF2"/>
<rect x="1023" y="416" width="175" height="8" fill="#D8E8F1"/>
<rect x="1198" y="416" width="87" height="8" fill="#DFEBF2"/>
<rect x="1285" y="416" width="87" height="8" fill="#F5F5F5"/>
<rect x="1372" y="416" width="262" height="8" fill="#DFEBF2"/>
<rect x="936" y="424" width="87" height="8" fill="#DFEBF2"/>
<rect x="1023" y="424" width="87" height="8" fill="#D8E8F1"/>
<rect x="1110" y="424" width="175" height="8" fill="#DFEBF2"/>
<rect x="1285" y="424" width="87" height="8" fill="#EEF2F4"/>
<rect x="1372" y="424" width="88" height="8" fill="#DFEBF2"/>
<rect x="1460" y="424" width="174" height="8" fill="#D8E8F1"/>
<rect x="936" y="432" width="87" height="8" fill="#E6EEF3"/>
<rect x="1023" y="432" width="87" height="8" fill="#DFEBF2"/>
<rect x="1110" y="432" width="175" height="8" fill="#D8E8F1"/>
<rect x="1285" y="432" width="87" height="8" fill="#EEF2F4"/>
<rect x="1372" y="432" width="88" height="8" fill="#DFEBF2"/>
<rect x="1460" y="432" width="87" height="8" fill="#D8E8F1"/>
<rect x="1547" y="432" width="87" height="8" fill="#DFEBF2"/>
<rect x="936" y="440" width="436" height="8" fill="#DFEBF2"/>
<rect x="1372" y="440" width="88" height="8" fill="#F6F0ED"/>
<rect x="1460" y="440" width="87" height="8" fill="#E6EEF3"/>
<rect x="1547" y="440" width="87" height="8" fill="#DFEBF2"/>
<rect x="936" y="448" width="436" height="8" fill="#DFEBF2"/>
<rect x="1372" y="448" width="88" height="8" fill="#F8ECE6"/>
<rect x="1460" y="448" width="87" height="8" fill="#E6EEF3"/>
<rect x="1547" y="448" width="87" height="8" fill="#D8E8F1"/>
<rect x="936" y="456" width="436" height="8" fill="#DFEBF2"/>
<rect x="1372" y="456" width="88" height="8" fill="#F8ECE6"/>
<rect x="1460" y="456" width="174" height="8" fill="#DFEBF2"/>
<rect x="936" y="464" width="436" height="8" fill="#DFEBF2"/>
<rect x="1372" y="464" width="88" height="8" fill="#F6F0ED"/>
<rect x="1460" y="464" width="174" height="8" fill="#E6EEF3"/>
<rect x="936" y="472" width="436" height="8" fill="#DFEBF2"/>
<rect x="1372" y="472" width="88" height="8" fill="#F6F0ED"/>
<rect x="1460" y="472" width="174" height="8" fill="#DFEBF2"/>
<rect x="936" y="480" width="436" height="8" fill="#DFEBF2"/>
<rect x="1372" y="480" width="88" height="8" fill="#F8ECE6"/>
<rect x="1460" y="480" width="87" height="8" fill="#D8E8F1"/>
<rect x="1547" y="480" width="87" height="8" fill="#DFEBF2"/>
<rect x="936" y="488" width="87" height="8" fill="#D8E8F1"/>
<rect x="1023" y="488" width="87" height="8" fill="#E6EEF3"/>
<rect x="1110" y="488" width="88" height="8" fill="#D8E8F1"/>
<rect x="1198" y="488" width="87" height="8" fill="#DFEBF2"/>
<rect x="1285" y="488" width="87" height="8" fill="#D8E8F1"/>
<rect x="1372" y="488" width="88" height="8" fill="#F6F0ED"/>
<rect x="1460" y="488" width="87" height="8" fill="#D8E8F1"/>
<rect x="1547" y="488" width="87" height="8" fill="#DFEBF2"/>
<rect x="936" y="496" width="262" height="8" fill="#D8E8F1"/>
<rect x="1198" y="496" width="174" height="8" fill="#DFEBF2"/>
<rect x="1372" y="496" width="88" height="8" fill="#F8ECE6"/>
<rect x="1460" y="496" width="174" height="8" fill="#DFEBF2"/>
<rect x="936" y="504" width="262" height="8" fill="#DFEBF2"/>
<rect x="1198" y="504" width="87" height="8" fill="#D8E8F1"/>
<rect x="1285" y="504" width="87" height="8" fill="#DFEBF2"/>
<rect x="1372" y="504" width="88" height="8" fill="#F6F0ED"/>
<rect x="1460" y="504" width="87" height="8" fill="#E6EEF3"/>
<rect x="1547" y="504" width="87" height="8" fill="#DFEBF2"/>
<rect x="936" y="512" width="262" height="8" fill="#DFEBF2"/>
<rect x="1198" y="512" width="87" height="8" fill="#E6EEF3"/>
<rect x="1285" y="512" width="87" height="8" fill="#DFEBF2"/>
<rect x="1372" y="512" width="88" height="8" fill="#F8ECE6"/>
<rect x="1460" y="512" width="87" height="8" fill="#DFEBF2"/>
<rect x="1547" y="512" width="87" height="8" fill="#D8E8F1"/>
<rect x="936" y="520" width="174" height="8" fill="#BBD9E9"/>
<rect x="1110" y="520" width="88" height="8" fill="#ACD2E5"/>
<rect x="1198" y="520" width="174" height="8" fill="#DFEBF2"/>
<rect x="1372" y="520" width="88" height="8" fill="#E6EEF3"/>
<rect x="1460" y="520" width="87" height="8" fill="#EEF2F4"/>
<rect x="1547" y="520" width="87" height="8" fill="#DFEBF2"/>
<rect x="936" y="528" width="436" height="8" fill="#D8E8F1"/>
<rect x="1372" y="528" width="175" height="8" fill="#E6EEF3"/>
<rect x="1547" y="528" width="87" height="8" fill="#DFEBF2"/>
<rect x="936" y="536" width="87" height="8" fill="#E6EEF3"/>
<rect x="1023" y="536" width="87" height="8" fill="#D8E8F1"/>
<rect x="1110" y="536" width="88" height="8" fill="#E6EEF3"/>
<rect x="1198" y="536" width="87" height="8" fill="#DFEBF2"/>
<rect x="1285" y="536" width="87" height="8" fill="#D8E8F1"/>
<rect x="1372" y="536" width="88" height="8" fill="#DFEBF2"/>
<rect x="1460" y="536" width="87" height="8" fill="#E6EEF3"/>
<rect x="1547" y="536" width="87" height="8" fill="#DFEBF2"/>
<rect x="936" y="544" width="262" height="8" fill="#D8E8F1"/>
<rect x="1198" y="544" width="87" height="8" fill="#DFEBF2"/>
<rect x="1285" y="544" width="87" height="8" fill="#D8E8F1"/>
<rect x="1372" y="544" width="175" height="8" fill="#E6EEF3"/>
<rect x="1547" y="544" width="87" height="8" fill="#D8E8F1"/>
<rect x="936" y="552" width="87" height="8" fill="#BBD9E9"/>
<rect x="1023" y="552" width="262" height="8" fill="#CAE0ED"/>
<rect x="1285" y="552" width="87" height="8" fill="#DFEBF2"/>
<rect x="1372" y="552" width="88" height="8" fill="#E6EEF3"/>
<rect x="1460" y="552" width="87" height="8" fill="#EEF2F4"/>
<rect x="1547" y="552" width="87" height="8" fill="#DFEBF2"/>
<rect x="936" y="560" width="87" height="8" fill="#D8E8F1"/>
<rect x="1023" y="560" width="349" height="8" fill="#DFEBF2"/>
<rect x="1372" y="560" width="175" height="8" fill="#E6EEF3"/>
<rect x="1547" y="560" width="87" height="8" fill="#DFEBF2"/>
<rect x="936" y="568" width="262" height="8" fill="#DFEBF2"/>
<rect x="1198" y="568" width="87" height="8" fill="#D8E8F1"/>
<rect x="1285" y="568" width="175" height="8" fill="#E6EEF3"/>
<rect x="1460" y="568" width="87" height="8" fill="#EEF2F4"/>
<rect x="1547" y="568" width="87" height="8" fill="#D8E8F1"/>
<rect x="936" y="576" width="87" height="8" fill="#ACD2E5"/>
<rect x="1023" y="576" width="262" height="8" fill="#BBD9E9"/>
<rect x="1285" y="576" width="87" height="8" fill="#D8E8F1"/>
<rect x="1372" y="576" width="88" height="8" fill="#E6EEF3"/>
<rect x="1460" y="576" width="87" height="8" fill="#EEF2F4"/>
<rect x="1547" y="576" width="87" height="8" fill="#DFEBF2"/>
<rect x="936" y="584" width="436" height="8" fill="#DFEBF2"/>
<rect x="1372" y="584" width="88" height="8" fill="#E6EEF3"/>
<rect x="1460" y="584" width="87" height="8" fill="#EEF2F4"/>
<rect x="1547" y="584" width="87" height="8" fill="#DFEBF2"/>
<rect x="936" y="592" width="262" height="8" fill="#DFEBF2"/>
<rect x="1198" y="592" width="87" height="8" fill="#E6EEF3"/>
<rect x="1285" y="592" width="175" height="8" fill="#DFEBF2"/>
<rect x="1460" y="592" width="87" height="8" fill="#E6EEF3"/>
<rect x="1547" y="592" width="87" height="8" fill="#DFEBF2"/>
<rect x="936" y="600" width="87" height="8" fill="#D8E8F1"/>
<rect x="1023" y="600" width="175" height="8" fill="#DFEBF2"/>
<rect x="1198" y="600" width="174" height="8" fill="#D8E8F1"/>
<rect x="1372" y="600" width="88" height="8" fill="#DFEBF2"/>
<rect x="1460" y="600" width="87" height="8" fill="#D8E8F1"/>
<rect x="1547" y="600" width="87" height="8" fill="#F5F5F5"/>
<rect x="936" y="608" width="87" height="8" fill="#D8E8F1"/>
<rect x="1023" y="608" width="175" height="8" fill="#DFEBF2"/>
<rect x="1198" y="608" width="87" height="8" fill="#E6EEF3"/>
<rect x="1285" y="608" width="262" height="8" fill="#DFEBF2"/>
<rect x="1547" y="608" width="87" height="8" fill="#F5F5F5"/>
<rect x="936" y="616" width="87" height="8" fill="#D8E8F1"/>
<rect x="1023" y="616" width="349" height="8" fill="#DFEBF2"/>
<rect x="1372" y="616" width="88" height="8" fill="#D8E8F1"/>
<rect x="1460" y="616" width="87" height="8" fill="#DFEBF2"/>
<rect x="1547" y="616" width="87" height="8" fill="#F5F5F5"/>
<rect x="936" y="624" width="262" height="8" fill="#DFEBF2"/>
<rect x="1198" y="624" width="87" height="8" fill="#D8E8F1"/>
<rect x="1285" y="624" width="262" height="8" fill="#DFEBF2"/>
<rect x="1547" y="624" width="87" height="8" fill="#F8ECE6"/>
<rect x="936" y="632" width="262" height="8" fill="#DFEBF2"/>
<rect x="1198" y="632" width="87" height="8" fill="#E6EEF3"/>
<rect x="1285" y="632" width="87" height="8" fill="#DFEBF2"/>
<rect x="1372" y="632" width="88" height="8" fill="#E6EEF3"/>
<rect x="1460" y="632" width="87" height="8" fill="#DFEBF2"/>
<rect x="1547" y="632" width="87" height="8" fill="#F6F0ED"/>
<rect x="936" y="640" width="524" height="8" fill="#DFEBF2"/>
<rect x="1460" y="640" width="87" height="8" fill="#D8E8F1"/>
<rect x="1547" y="640" width="87" height="8" fill="#F6F0ED"/>
<rect x="936" y="648" width="87" height="8" fill="#DFEBF2"/>
<rect x="1023" y="648" width="87" height="8" fill="#D8E8F1"/>
<rect x="1110" y="648" width="88" height="8" fill="#DFEBF2"/>
<rect x="1198" y="648" width="87" height="8" fill="#D8E8F1"/>
<rect x="1285" y="648" width="87" height="8" fill="#E6EEF3"/>
<rect x="1372" y="648" width="88" height="8" fill="#DFEBF2"/>
<rect x="1460" y="648" width="87" height="8" fill="#D8E8F1"/>
<rect x="1547" y="648" width="87" height="8" fill="#F6F0ED"/>
<rect x="936" y="656" width="87" height="8" fill="#ACD2E5"/>
<rect x="1023" y="656" width="87" height="8" fill="#BBD9E9"/>
<rect x="1110" y="656" width="88" height="8" fill="#ACD2E5"/>
<rect x="1198" y="656" width="87" height="8" fill="#BBD9E9"/>
<rect x="1285" y="656" width="262" height="8" fill="#DFEBF2"/>
<rect x="1547" y="656" width="87" height="8" fill="#F6F0ED"/>
<rect x="936" y="664" width="87" height="8" fill="#E6EEF3"/>
<rect x="1023" y="664" width="437" height="8" fill="#DFEBF2"/>
<rect x="1460" y="664" width="87" height="8" fill="#D8E8F1"/>
<rect x="1547" y="664" width="87" height="8" fill="#F6F0ED"/>
<rect x="936" y="672" width="87" height="8" fill="#DFEBF2"/>
<rect x="1023" y="672" width="87" height="8" fill="#D8E8F1"/>
<rect x="1110" y="672" width="350" height="8" fill="#DFEBF2"/>
<rect x="1460" y="672" width="87" height="8" fill="#D8E8F1"/>
<rect x="1547" y="672" width="87" height="8" fill="#F8ECE6"/>
<g stroke-width="1" shape-rendering="crispEdges" fill="none">
<path stroke="#D6887E" d="M936.5 40v8m1-8v8m215-8v8m246-8v8M964.5 48v8m624-8v8M960.5 56v8m232-8v8m1-8v8m31-8v8m1-8v8m62-8v8m12-8v8m63-8v8m189-8v8m1-8v8M945.5 64v8m360-8v8m82-8v8M963.5 72v8m1-8v8m522-8v8M987.5 80v8m1-8v8M1322.5 88v8m4-8v8m1-8v8m97-8v8m1-8v8M1075.5 96v8M1029.5 104v8m75-8v8m476-8v8m42-8v8M971.5 112v8m35-8v8m13-8v8m2-8v8m1-8v8m113-8v8m392-8v8M1031.5 120v8m426-8v8m1-8v8M985.5 128v8m1-8v8M1032.5 136v8m51-8v8m60-8v8M1141.5 144v8m1-8v8m433-8v8M1037.5 152v8m68-8v8m363-8v8m33-8v8m119-8v8m1-8v8M1051.5 160v8M1056.5 168v8m2-8v8m14-8v8m508-8v8M1231.5 176v8M1286.5 184v8m184-8v8m1-8v8M1402.5 192v8m2-8v8m131-8v8M1045.5 200v8m26-8v8m52-8v8m34-8v8m36-8v8m1-8v8m229-8v8m1-8v8m36-8v8M1124.5 208v8m1-8v8m1-8v8m1-8v8m51-8v8m1-8v8m37-8v8M1417.5 216v8M1117.5 224v8m18-8v8m13-8v8m8-8v8m48-8v8m107-8v8m36-8v8m17-8v8m16-8v8m33-8v8m22-8v8m30-8v8m16-8v8m17-8v8m28-8v8m11-8v8m1-8v8m89-8v8m4-8v8M1098.5 232v8m65-8v8m8-8v8m14-8v8m1-8v8m1-8v8m5-8v8m340-8v8M1213.5 240v8m54-8v8m50-8v8m1-8v8m113-8v8m1-8v8m95-8v8M1197.5 248v8m370-8v8m56-8v8M1122.5 256v8m33-8v8m12-8v8m295-8v8m4-8v8m17-8v8m130-8v8M980.5 264v8m474-8v8m62-8v8m22-8v8M1085.5 272v8m1-8v8m24-8v8m1-8v8m66-8v8m14-8v8m158-8v8m215-8v8m40-8v8M1258.5 280v8m14-8v8m175-8v8M1205.5 288v8m4-8v8m6-8v8m1-8v8m7-8v8m16-8v8m39-8v8m1-8v8m12-8v8m44-8v8m34-8v8m21-8v8m1-8v8m18-8v8m168-8v8m1-8v8m3-8v8M1222.5 296v8m24-8v8m5-8v8m148-8v8m1-8v8M1198.5 304v8m20-8v8m26-8v8m157-8v8m39-8v8m70-8v8M1229.5 312v8m4-8v8m3-8v8m171-8v8m1-8v8m48-8v8m31-8v8m1-8v8m1-8v8m4-8v8M1050.5 320v8m151-8v8m18-8v8m29-8v8m5-8v8m14-8v8m1-8v8m8-8v8m6-8v8m72-8v8m25-8v8m9-8v8m10-8v8m1-8v8m3-8v8m1-8v8m18-8v8m12-8v8m1-8v8m4-8v8m1-8v8m30-8v8m72-8v8m44-8v8m3-8v8m42-8v8M1209.5 328v8m1-8v8m7-8v8m5-8v8m25-8v8m4-8v8m28-8v8m116-8v8m37-8v8m1-8v8m1-8v8m7-8v8m48-8v8m13-8v8m6-8v8m22-8v8m79-8v8M1219.5 336v8m4-8v8m13-8v8m1-8v8m2-8v8m25-8v8m175-8v8m7-8v8m45-8v8m28-8v8M1224.5 344v8m25-8v8m34-8v8m103-8v8m22-8v8m171-8v8m1-8v8m8-8v8m1-8v8m3-8v8M1033.5 352v8m59-8v8m112-8v8m1-8v8m12-8v8m1-8v8m47-8v8m177-8v8m1-8v8M1041.5 360v8m34-8v8m212-8v8m94-8v8m24-8v8M978.5 368v8m5-8v8m349-8v8m1-8v8m274-8v8m16-8v8M1395.5 376v8m27-8v8m1-8v8M1439.5 384v8m1-8v8m184-8v8m1-8v8M1245.5 392v8m61-8v8m56-8v8m176-8v8M1192.5 400v8m30-8v8m69-8v8m25-8v8m21-8v8m23-8v8m186-8v8m57-8v8m16-8v8M1379.5 408v8m76-8v8m6-8v8m97-8v8m47-8v8m1-8v8M1196.5 416v8m99-8v8m1-8v8m67-8v8m191-8v8m78-8v8M1299.5 424v8m1-8v8m30-8v8m8-8v8M998.5 432v8m343-8v8m4-8v8m16-8v8m41-8v8m87-8v8m1-8v8m8-8v8m98-8v8M1318.5 440v8m66-8v8m3-8v8m2-8v8m6-8v8m16-8v8m16-8v8m11-8v8m30-8v8m70-8v8m28-8v8M1374.5 448v8m19-8v8m4-8v8m4-8v8m7-8v8m13-8v8m35-8v8m7-8v8m73-8v8m49-8v8M1238.5 456v8m68-8v8m1-8v8m13-8v8m73-8v8m2-8v8m5-8v8m13-8v8m26-8v8m1-8v8m1-8v8m1-8v8m6-8v8m85-8v8m20-8v8m68-8v8m3-8v8M1330.5 464v8m60-8v8m29-8v8m3-8v8m16-8v8m19-8v8m20-8v8m24-8v8m20-8v8m1-8v8m11-8v8m1-8v8m24-8v8m8-8v8m17-8v8m1-8v8M995.5 472v8m379-8v8m82-8v8m14-8v8M1379.5 480v8m1-8v8m1-8v8m137-8v8M1235.5 488v8m137-8v8m32-8v8m1-8v8M957.5 496v8m41-8v8m394-8v8m17-8v8m37-8v8m3-8v8m9-8v8m1-8v8m80-8v8m49-8v8M1010.5 504v8m1-8v8m361-8v8m5-8v8m70-8v8m3-8v8m4-8v8M1390.5 512v8m44-8v8m27-8v8m1-8v8m47-8v8m92-8v8M1286.5 520v8m98-8v8m98-8v8m3-8v8m39-8v8m1-8v8m62-8v8m1-8v8m10-8v8M1546.5 528v8M964.5 536v8m1-8v8m39-8v8m106-8v8m37-8v8m59-8v8m244-8v8m1-8v8m1-8v8m118-8v8m3-8v8m35-8v8M1211.5 544v8m11-8v8m7-8v8m7-8v8m141-8v8m76-8v8m8-8v8m1-8v8m75-8v8m9-8v8M1368.5 552v8m69-8v8m12-8v8m1-8v8m2-8v8m4-8v8m17-8v8m1-8v8m51-8v8m19-8v8m78-8v8M1109.5 560v8m35-8v8m244-8v8m12-8v8m12-8v8m66-8v8m2-8v8m101-8v8m34-8v8M1389.5 568v8m1-8v8m29-8v8m1-8v8M1050.5 576v8m6-8v8m62-8v8m152-8v8m103-8v8m3-8v8m44-8v8m29-8v8m6-8v8m1-8v8m89-8v8m15-8v8m10-8v8m1-8v8m4-8v8m23-8v8M1204.5 584v8m120-8v8m49-8v8m1-8v8m11-8v8m15-8v8m1-8v8m27-8v8m26-8v8m85-8v8m93-8v8M1032.5 592v8m287-8v8m6-8v8m51-8v8m30-8v8m12-8v8m2-8v8m44-8v8m29-8v8m26-8v8m5-8v8m14-8v8m1-8v8m24-8v8m1-8v8M1570.5 600v8m22-8v8m32-8v8m1-8v8m6-8v8m1-8v8M1230.5 608v8m317-8v8m37-8v8m13-8v8m6-8v8m1-8v8m14-8v8m15-8v8M1300.5 616v8m1-8v8m2-8v8m297-8v8m3-8v8M1505.5 624v8m109-8v8m1-8v8m16-8v8M1484.5 632v8m1-8v8m71-8v8m1-8v8m9-8v8m8-8v8m18-8v8M1173.5 640v8m1-8v8m184-8v8m218-8v8M1037.5 648v8m265-8v8m199-8v8m16-8v8m27-8v8m8-8v8m28-8v8m40-8v8M1541.5 656v8m1-8v8m16-8v8m2-8v8m28-8v8m9-8v8M1560.5 664v8m10-8v8m8-8v8m51-8v8M1492.5 672v8m76-8v8m19-8v8m11-8v8m1-8v8"/>
<path stroke="#E7D4CB" d="M938.5 40v8m75-8v8m205-8v8M983.5 48v8m5-8v8M1622.5 64v8m1-8v8M1010.5 72v8m38-8v8m1-8v8m15-8v8m138-8v8M1003.5 80v8m6-8v8m15-8v8M956.5 88v8m35-8v8M945.5 96v8m61-8v8m243-8v8M1207.5 104v8m408-8v8M1025.5 120v8m42-8v8M1039.5 128v8m10-8v8m47-8v8m46-8v8M1080.5 136v8m1-8v8m114-8v8m1-8v8M1099.5 144v8m76-8v8M1175.5 152v8M1025.5 160v8m28-8v8M980.5 168v8m120-8v8m18-8v8m1-8v8m28-8v8m9-8v8m17-8v8M1088.5 176v8m20-8v8M1093.5 184v8M1129.5 208v8M1452.5 224v8m169-8v8M1146.5 240v8m166-8v8M1195.5 256v8m1-8v8M1129.5 272v8M1314.5 312v8m1-8v8m310-8v8M1610.5 320v8m1-8v8M1448.5 344v8m1-8v8M1294.5 368v8m4-8v8M1403.5 376v8M1329.5 384v8M1137.5 392v8m242-8v8m74-8v8m1-8v8m1-8v8m1-8v8M1290.5 400v8M1068.5 408v8m10-8v8m95-8v8m445-8v8m1-8v8M1474.5 416v8m1-8v8M1288.5 424v8M1231.5 432v8m1-8v8m67-8v8m24-8v8m14-8v8m1-8v8M1404.5 448v8m171-8v8M1176.5 464v8M998.5 488v8M1087.5 504v8m185-8v8M1465.5 512v8M1153.5 520v8m140-8v8m174-8v8m1-8v8m28-8v8m1-8v8m3-8v8m21-8v8M1433.5 536v8m60-8v8M1452.5 544v8M1446.5 552v8m1-8v8M1161.5 560v8m90-8v8M1331.5 576v8m151-8v8m76-8v8m59-8v8m1-8v8M1060.5 600v8m55-8v8m188-8v8m240-8v8M1283.5 608v8m259-8v8M1235.5 656v8m82-8v8m174-8v8m1-8v8"/>
<path stroke="#DE7863" d="M941.5 40v8m10-8v8m1-8v8m43-8v8m9-8v8m16-8v8m170-8v8m40-8v8m107-8v8M943.5 48v8m62-8v8m5-8v8m1-8v8m213-8v8m3-8v8m25-8v8m1-8v8M946.5 56v8m5-8v8m7-8v8m5-8v8m35-8v8m6-8v8m306-8v8m14-8v8m1-8v8m103-8v8m1-8v8m197-8v8m1-8v8M994.5 64v8m1-8v8m28-8v8m1-8v8m85-8v8m143-8v8m3-8v8m1-8v8m34-8v8m1-8v8m10-8v8m1-8v8m8-8v8m25-8v8m1-8v8m74-8v8m65-8v8m2-8v8m1-8v8m28-8v8m3-8v8m46-8v8m1-8v8M992.5 72v8m8-8v8m16-8v8m3-8v8m79-8v8m27-8v8m6-8v8m25-8v8m352-8v8m1-8v8m38-8v8M951.5 80v8m1-8v8m33-8v8m6-8v8m10-8v8m16-8v8m167-8v8m11-8v8m324-8v8M949.5 88v8m5-8v8m1-8v8m20-8v8m3-8v8m15-8v8m1-8v8m64-8v8m340-8v8m1-8v8m79-8v8M950.5 96v8m6-8v8m23-8v8m15-8v8m369-8v8m219-8v8M956.5 104v8m39-8v8m24-8v8m101-8v8m92-8v8M956.5 112v8m1-8v8m17-8v8m9-8v8m3-8v8m32-8v8m13-8v8m19-8v8m191-8v8m1-8v8m127-8v8m27-8v8m1-8v8m78-8v8m97-8v8m4-8v8m1-8v8M1060.5 120v8m27-8v8m1-8v8m18-8v8m63-8v8M947.5 128v8m77-8v8m14-8v8m72-8v8m6-8v8m4-8v8m23-8v8m4-8v8m45-8v8M1027.5 136v8m1-8v8m6-8v8m80-8v8m17-8v8m43-8v8m19-8v8m63-8v8m343-8v8m1-8v8M1067.5 144v8m46-8v8m17-8v8m28-8v8m9-8v8m282-8v8m29-8v8m16-8v8m1-8v8M968.5 152v8m47-8v8m9-8v8m1-8v8m4-8v8m2-8v8m1-8v8m17-8v8m12-8v8m29-8v8m1-8v8m2-8v8m18-8v8m14-8v8m1-8v8m52-8v8m1-8v8m5-8v8m2-8v8m280-8v8m1-8v8M1091.5 160v8m93-8v8m72-8v8m371-8v8M972.5 168v8m11-8v8m70-8v8m6-8v8m1-8v8m21-8v8m5-8v8m9-8v8m12-8v8m3-8v8m32-8v8m1-8v8m24-8v8m1-8v8m3-8v8m10-8v8m218-8v8m86-8v8M1047.5 176v8m3-8v8m44-8v8m50-8v8m93-8v8m153-8v8m1-8v8m57-8v8m150-8v8m1-8v8M996.5 184v8m75-8v8m15-8v8m38-8v8m1-8v8m50-8v8m1-8v8m26-8v8M949.5 192v8m109-8v8m109-8v8m1-8v8m273-8v8m1-8v8m45-8v8M1039.5 200v8m75-8v8m3-8v8m1-8v8m13-8v8m18-8v8m20-8v8m36-8v8m348-8v8M1078.5 208v8m1-8v8m27-8v8m10-8v8m15-8v8m32-8v8m32-8v8m1-8v8m39-8v8m158-8v8m156-8v8M990.5 216v8m1-8v8m139-8v8m36-8v8m18-8v8m2-8v8m1-8v8m17-8v8m147-8v8m8-8v8m245-8v8M1025.5 224v8m62-8v8m36-8v8m7-8v8m8-8v8m37-8v8m27-8v8m74-8v8m1-8v8m1-8v8m1-8v8m5-8v8m23-8v8m67-8v8m1-8v8m58-8v8m7-8v8m1-8v8m3-8v8m31-8v8m27-8v8m27-8v8m4-8v8m14-8v8m1-8v8m47-8v8m17-8v8M1001.5 232v8m74-8v8m75-8v8m62-8v8m233-8v8m1-8v8m95-8v8M1119.5 240v8m34-8v8m1-8v8m4-8v8m18-8v8m4-8v8m1-8v8m9-8v8m29-8v8m5-8v8m86-8v8m1-8v8m20-8v8m1-8v8m169-8v8m1-8v8m27-8v8m8-8v8m1-8v8M1123.5 248v8m16-8v8m1-8v8m36-8v8m82-8v8m44-8v8m68-8v8m1-8v8m28-8v8m1-8v8m14-8v8m19-8v8m102-8v8m1-8v8m24-8v8M1153.5 256v8m32-8v8m7-8v8m59-8v8m218-8v8m1-8v8m24-8v8m19-8v8m29-8v8m1-8v8M985.5 264v8m6-8v8m91-8v8m55-8v8m10-8v8m1-8v8m269-8v8m27-8v8m61-8v8m13-8v8m11-8v8m91-8v8M997.5 272v8m90-8v8m1-8v8m81-8v8m6-8v8m1-8v8m2-8v8m10-8v8m7-8v8m1-8v8m300-8v8m12-8v8m68-8v8M948.5 280v8m11-8v8m41-8v8m121-8v8m84-8v8m9-8v8m2-8v8m49-8v8m1-8v8m11-8v8m183-8v8m80-8v8m4-8v8M1214.5 288v8m34-8v8m6-8v8m13-8v8m76-8v8m65-8v8m5-8v8m1-8v8m27-8v8m26-8v8m10-8v8m115-8v8m1-8v8m14-8v8M1200.5 296v8m2-8v8m48-8v8m3-8v8m1-8v8m26-8v8m26-8v8m9-8v8m1-8v8m148-8v8m89-8v8m59-8v8M938.5 304v8m266-8v8m28-8v8m74-8v8m1-8v8m25-8v8m59-8v8m2-8v8m39-8v8m1-8v8m106-8v8m1-8v8m62-8v8M1015.5 312v8m260-8v8m1-8v8m59-8v8m6-8v8m78-8v8m1-8v8m76-8v8m108-8v8M1166.5 320v8m39-8v8m11-8v8m1-8v8m10-8v8m10-8v8m3-8v8m1-8v8m11-8v8m10-8v8m110-8v8m8-8v8m1-8v8m9-8v8m5-8v8m1-8v8m34-8v8m10-8v8m6-8v8m1-8v8m1-8v8m1-8v8m63-8v8m5-8v8m53-8v8m1-8v8m3-8v8m31-8v8m18-8v8M1224.5 328v8m42-8v8m10-8v8m122-8v8m5-8v8m48-8v8m2-8v8m1-8v8m37-8v8m31-8v8m1-8v8m22-8v8m9-8v8m1-8v8m8-8v8m1-8v8m16-8v8m5-8v8m1-8v8m12-8v8m21-8v8m9-8v8m1-8v8M1212.5 336v8m45-8v8m1-8v8m2-8v8m12-8v8m7-8v8m94-8v8m9-8v8m6-8v8m2-8v8m42-8v8m4-8v8m7-8v8m1-8v8m19-8v8m3-8v8m57-8v8m4-8v8m1-8v8M1176.5 344v8m47-8v8m7-8v8m6-8v8m3-8v8m26-8v8m4-8v8m1-8v8m4-8v8m1-8v8m1-8v8m4-8v8m1-8v8m91-8v8m1-8v8m28-8v8m6-8v8m29-8v8m1-8v8m5-8v8m37-8v8m6-8v8m1-8v8m2-8v8m5-8v8m1-8v8m1-8v8m9-8v8m30-8v8m1-8v8m10-8v8M1257.5 352v8m3-8v8m1-8v8m8-8v8m1-8v8m6-8v8m22-8v8m39-8v8m16-8v8m6-8v8m40-8v8m1-8v8m11-8v8m1-8v8m3-8v8m75-8v8m35-8v8M1189.5 360v8m22-8v8m27-8v8m5-8v8m121-8v8m58-8v8m60-8v8m42-8v8m7-8v8M1310.5 368v8m1-8v8m10-8v8m8-8v8m2-8v8m25-8v8m77-8v8m12-8v8m1-8v8m1-8v8m27-8v8m7-8v8m1-8v8m1-8v8m67-8v8m18-8v8m1-8v8m22-8v8m38-8v8M1114.5 376v8m57-8v8m48-8v8m76-8v8m42-8v8m1-8v8m70-8v8m33-8v8m5-8v8m28-8v8m11-8v8m1-8v8m22-8v8m55-8v8m10-8v8m17-8v8M978.5 384v8m21-8v8m26-8v8m110-8v8m157-8v8m60-8v8m2-8v8m34-8v8m4-8v8m50-8v8m34-8v8m23-8v8m48-8v8m41-8v8m21-8v8M1057.5 392v8m151-8v8m115-8v8m37-8v8m18-8v8m43-8v8M979.5 400v8m2-8v8m19-8v8m22-8v8m266-8v8m4-8v8m7-8v8m6-8v8m64-8v8m23-8v8m64-8v8m5-8v8m1-8v8m87-8v8m22-8v8m46-8v8m4-8v8m8-8v8m1-8v8M1224.5 408v8m1-8v8m55-8v8m14-8v8m1-8v8m25-8v8m80-8v8m3-8v8m133-8v8m64-8v8M998.5 416v8m46-8v8m68-8v8m181-8v8m36-8v8m3-8v8m12-8v8m1-8v8m42-8v8m13-8v8m8-8v8m10-8v8m1-8v8m9-8v8m87-8v8m18-8v8m1-8v8m42-8v8M1015.5 424v8m308-8v8m82-8v8m110-8v8m23-8v8m23-8v8m1-8v8M953.5 432v8m24-8v8m1-8v8m14-8v8m295-8v8m6-8v8m1-8v8m20-8v8m147-8v8m1-8v8m22-8v8m39-8v8m94-8v8m8-8v8m1-8v8M970.5 440v8m224-8v8m11-8v8m17-8v8m1-8v8m21-8v8m53-8v8m115-8v8m1-8v8m33-8v8m15-8v8m14-8v8m1-8v8m13-8v8m6-8v8m1-8v8m22-8v8m5-8v8m4-8v8m17-8v8m1-8v8m24-8v8m24-8v8m22-8v8m1-8v8M1330.5 448v8m42-8v8m22-8v8m37-8v8m22-8v8m1-8v8m11-8v8m1-8v8m12-8v8m39-8v8m28-8v8m26-8v8M1222.5 456v8m1-8v8m152-8v8m7-8v8m27-8v8m1-8v8m14-8v8m1-8v8m1-8v8m44-8v8m1-8v8m46-8v8m76-8v8M1045.5 464v8m166-8v8m1-8v8m174-8v8m1-8v8m26-8v8m22-8v8m9-8v8m20-8v8m1-8v8m17-8v8m13-8v8m7-8v8m3-8v8m22-8v8m1-8v8m7-8v8m57-8v8m41-8v8M1372.5 472v8m11-8v8m8-8v8m39-8v8m1-8v8m17-8v8m1-8v8m4-8v8m10-8v8m12-8v8m13-8v8m47-8v8m95-8v8M1222.5 480v8m166-8v8m10-8v8m40-8v8m5-8v8m14-8v8m15-8v8m81-8v8m34-8v8m1-8v8m4-8v8m25-8v8m9-8v8m4-8v8M1006.5 488v8m58-8v8m56-8v8m80-8v8m27-8v8m105-8v8m43-8v8m15-8v8m11-8v8m16-8v8m32-8v8m130-8v8m46-8v8M1051.5 496v8m342-8v8m1-8v8m9-8v8m15-8v8m1-8v8m5-8v8m2-8v8m7-8v8m5-8v8m9-8v8m9-8v8m14-8v8m15-8v8m1-8v8m3-8v8m8-8v8m1-8v8m49-8v8M948.5 504v8m57-8v8m48-8v8m196-8v8m130-8v8m40-8v8m1-8v8m17-8v8m11-8v8m11-8v8m10-8v8m23-8v8m7-8v8m1-8v8m68-8v8m52-8v8M1136.5 512v8m231-8v8m3-8v8m6-8v8m12-8v8m1-8v8m3-8v8m22-8v8m8-8v8m16-8v8m15-8v8m83-8v8m23-8v8m18-8v8m29-8v8m1-8v8M1089.5 520v8m180-8v8m106-8v8m12-8v8m12-8v8m12-8v8m43-8v8m1-8v8m34-8v8m1-8v8m1-8v8m10-8v8m30-8v8m26-8v8m33-8v8m4-8v8M973.5 528v8m1-8v8m68-8v8m30-8v8m327-8v8m7-8v8m13-8v8m6-8v8m64-8v8m3-8v8m27-8v8m1-8v8m3-8v8m5-8v8m2-8v8m3-8v8m11-8v8m36-8v8m2-8v8m1-8v8m30-8v8m1-8v8M1027.5 536v8m111-8v8m15-8v8m22-8v8m54-8v8m24-8v8m20-8v8m33-8v8m23-8v8m18-8v8m29-8v8m5-8v8m19-8v8m21-8v8m1-8v8m15-8v8m1-8v8m5-8v8m1-8v8m3-8v8m15-8v8m3-8v8m1-8v8m9-8v8m1-8v8m31-8v8m21-8v8m3-8v8m1-8v8m2-8v8m1-8v8M1023.5 544v8m39-8v8m180-8v8m116-8v8m14-8v8m18-8v8m2-8v8m68-8v8m4-8v8m2-8v8m1-8v8m32-8v8m1-8v8m52-8v8m17-8v8M1114.5 552v8m1-8v8m155-8v8m152-8v8m29-8v8m10-8v8m8-8v8m11-8v8m22-8v8m33-8v8m7-8v8m8-8v8m46-8v8m15-8v8m1-8v8m9-8v8M947.5 560v8m115-8v8m21-8v8m24-8v8m35-8v8m38-8v8m22-8v8m69-8v8m103-8v8m23-8v8m79-8v8m22-8v8m2-8v8m21-8v8m4-8v8m8-8v8m28-8v8m1-8v8m3-8v8m9-8v8m1-8v8m16-8v8m28-8v8m4-8v8M993.5 568v8m72-8v8m378-8v8m61-8v8m75-8v8m22-8v8m16-8v8m1-8v8M1187.5 576v8m1-8v8m180-8v8m1-8v8m8-8v8m67-8v8m2-8v8m7-8v8m8-8v8m10-8v8m71-8v8m1-8v8m70-8v8M1058.5 584v8m149-8v8m79-8v8m1-8v8m10-8v8m105-8v8m27-8v8m96-8v8M1022.5 592v8m240-8v8m33-8v8m1-8v8m33-8v8m8-8v8m26-8v8m1-8v8m2-8v8m18-8v8m11-8v8m17-8v8m12-8v8m4-8v8m9-8v8m3-8v8m1-8v8m4-8v8m1-8v8m19-8v8m2-8v8m12-8v8m1-8v8m7-8v8m1-8v8m79-8v8m16-8v8m38-8v8M956.5 600v8m191-8v8m332-8v8m18-8v8m20-8v8m1-8v8m2-8v8m34-8v8m59-8v8m1-8v8m4-8v8m1-8v8m11-8v8M1004.5 608v8m4-8v8m10-8v8m261-8v8m95-8v8m86-8v8m36-8v8m15-8v8m2-8v8m35-8v8m26-8v8m17-8v8m28-8v8M997.5 616v8m78-8v8m80-8v8m49-8v8m1-8v8m276-8v8m63-8v8m17-8v8m34-8v8m23-8v8M1023.5 624v8m258-8v8m1-8v8m110-8v8m147-8v8m25-8v8m1-8v8m8-8v8m12-8v8M1234.5 632v8m213-8v8m34-8v8m126-8v8m2-8v8m21-8v8m1-8v8M973.5 640v8m266-8v8m149-8v8m80-8v8m21-8v8m11-8v8m65-8v8m7-8v8m14-8v8m24-8v8m1-8v8m14-8v8M943.5 648v8m30-8v8m144-8v8m3-8v8m1-8v8m328-8v8m2-8v8m9-8v8m88-8v8m3-8v8m6-8v8m1-8v8m28-8v8m11-8v8m1-8v8m24-8v8m1-8v8M1079.5 656v8m228-8v8m93-8v8m23-8v8m191-8v8M1004.5 664v8m554-8v8m16-8v8m8-8v8m3-8v8m3-8v8m14-8v8m5-8v8m2-8v8m8-8v8M1276.5 672v8m42-8v8m64-8v8m42-8v8m1-8v8m76-8v8m14-8v8m33-8v8m9-8v8m1-8v8m37-8v8m6-8v8m13-8v8m6-8v8m1-8v8"/>
<path stroke="#E2AA9D" d="M942.5 40v8m37-8v8m2-8v8m607-8v8m32-8v8M956.5 48v8m1-8v8m6-8v8m592-8v8M993.5 56v8m156-8v8m170-8v8m18-8v8m220-8v8M977.5 64v8m227-8v8m1-8v8m37-8v8m29-8v8m72-8v8m133-8v8m16-8v8m23-8v8M1122.5 72v8m1-8v8m70-8v8m412-8v8M942.5 80v8m2-8v8m1-8v8m62-8v8m277-8v8M985.5 88v8m132-8v8m128-8v8m1-8v8m382-8v8M1209.5 96v8m67-8v8M988.5 104v8m275-8v8M949.5 112v8m28-8v8m2-8v8m32-8v8m5-8v8m344-8v8m131-8v8m41-8v8M955.5 120v8m390-8v8m55-8v8M1043.5 128v8m8-8v8m1-8v8m6-8v8m2-8v8m1-8v8m15-8v8m21-8v8m64-8v8m30-8v8m374-8v8M1061.5 136v8m10-8v8m2-8v8m28-8v8m54-8v8m4-8v8M1042.5 144v8m85-8v8m12-8v8m1-8v8m25-8v8m328-8v8m46-8v8m6-8v8m1-8v8m2-8v8m62-8v8M1165.5 152v8m15-8v8m160-8v8M1061.5 160v8m1-8v8m17-8v8m2-8v8m378-8v8M973.5 168v8m30-8v8m35-8v8m7-8v8m38-8v8m75-8v8m18-8v8m276-8v8m1-8v8m23-8v8M1049.5 176v8m557-8v8M987.5 184v8m50-8v8m64-8v8m7-8v8m388-8v8M1090.5 192v8m1-8v8m12-8v8m1-8v8m520-8v8M1139.5 200v8m58-8v8m148-8v8m67-8v8M1139.5 208v8m1-8v8m15-8v8m122-8v8M1113.5 216v8m37-8v8m39-8v8M1111.5 224v8m9-8v8m179-8v8m1-8v8m14-8v8m1-8v8m133-8v8m16-8v8M1130.5 232v8m64-8v8m70-8v8m249-8v8M1128.5 240v8m130-8v8m145-8v8m17-8v8m1-8v8m43-8v8m80-8v8M1144.5 248v8m1-8v8m33-8v8m1-8v8m22-8v8m66-8v8m65-8v8m179-8v8m97-8v8M1128.5 256v8m40-8v8m18-8v8m278-8v8m152-8v8M1050.5 264v8m21-8v8m42-8v8m1-8v8m6-8v8m344-8v8m1-8v8M1012.5 272v8m158-8v8m1-8v8m189-8v8m83-8v8m113-8v8M1199.5 280v8m318-8v8m58-8v8m33-8v8M1212.5 288v8m6-8v8m69-8v8m133-8v8m50-8v8M1616.5 296v8m16-8v8M1208.5 304v8m1-8v8m247-8v8m37-8v8m1-8v8m40-8v8M1207.5 312v8m10-8v8M1107.5 320v8m189-8v8m13-8v8M1052.5 328v8M1318.5 336v8m35-8v8m52-8v8m1-8v8m128-8v8m81-8v8M1397.5 344v8m7-8v8M1057.5 352v8m215-8v8m1-8v8m110-8v8m116-8v8m106-8v8m1-8v8M1391.5 360v8m132-8v8M1143.5 368v8m150-8v8m44-8v8m8-8v8m10-8v8M1187.5 376v8m115-8v8m153-8v8m49-8v8m29-8v8m1-8v8m78-8v8m1-8v8M1031.5 384v8m1-8v8m23-8v8m223-8v8m10-8v8m19-8v8m1-8v8m14-8v8m97-8v8m118-8v8m47-8v8M1127.5 392v8m37-8v8m90-8v8m56-8v8m1-8v8m4-8v8m194-8v8M1027.5 400v8m47-8v8m27-8v8m100-8v8m1-8v8m91-8v8m35-8v8m65-8v8m75-8v8M1141.5 408v8m141-8v8m3-8v8m71-8v8m19-8v8M1309.5 416v8m33-8v8m7-8v8m52-8v8m47-8v8M1342.5 424v8m1-8v8m78-8v8m24-8v8M974.5 432v8m25-8v8m296-8v8m1-8v8m12-8v8m3-8v8m15-8v8m49-8v8m26-8v8m49-8v8m1-8v8m83-8v8M939.5 440v8m1-8v8m484-8v8m21-8v8m4-8v8m1-8v8M1476.5 448v8m1-8v8m12-8v8m26-8v8m19-8v8M1474.5 456v8m3-8v8m16-8v8m1-8v8m89-8v8m2-8v8m29-8v8m16-8v8M1550.5 464v8m49-8v8m24-8v8M1031.5 472v8m1-8v8m232-8v8m1-8v8m236-8v8M1529.5 480v8m16-8v8M1572.5 488v8M978.5 496v8m385-8v8m17-8v8M1192.5 504v8m195-8v8m169-8v8m1-8v8M1099.5 512v8m404-8v8M1471.5 520v8m40-8v8m59-8v8M1320.5 528v8m52-8v8m2-8v8m1-8v8m95-8v8m44-8v8m8-8v8M939.5 536v8m143-8v8m41-8v8m184-8v8m1-8v8m7-8v8m1-8v8m3-8v8m14-8v8m44-8v8m1-8v8m7-8v8m12-8v8m8-8v8m3-8v8m1-8v8m27-8v8m54-8v8M970.5 544v8m165-8v8m52-8v8m4-8v8m1-8v8m67-8v8m20-8v8m169-8v8m21-8v8m8-8v8m6-8v8m136-8v8m1-8v8M950.5 552v8m361-8v8m1-8v8m100-8v8M1128.5 560v8m261-8v8m1-8v8m79-8v8m71-8v8m53-8v8m13-8v8m12-8v8M1295.5 568v8m9-8v8m80-8v8m21-8v8m9-8v8m114-8v8M1084.5 576v8m238-8v8m58-8v8m17-8v8m40-8v8m41-8v8m25-8v8m6-8v8m84-8v8M1399.5 584v8m46-8v8m39-8v8m12-8v8m63-8v8m1-8v8m55-8v8m4-8v8M1359.5 592v8M1556.5 600v8M964.5 608v8m483-8v8m1-8v8m158-8v8M951.5 616v8m53-8v8m355-8v8M1482.5 624v8M1093.5 632v8m458-8v8m1-8v8m80-8v8m1-8v8M1175.5 640v8m332-8v8m42-8v8m64-8v8m17-8v8M1049.5 648v8m42-8v8m223-8v8m304-8v8M1278.5 656v8m124-8v8m58-8v8M1504.5 664v8M979.5 672v8m501-8v8m91-8v8m20-8v8"/>
<path stroke="#E3C8C0" d="M943.5 40v8m1-8v8m10-8v8M1016.5 48v8M1351.5 56v8M964.5 64v8m26-8v8m1-8v8m26-8v8m1-8v8m341-8v8m176-8v8m42-8v8M1053.5 72v8M948.5 80v8m35-8v8m1-8v8M961.5 88v8m1-8v8m423-8v8M951.5 96v8m1-8v8m22-8v8m33-8v8m399-8v8M941.5 104v8m28-8v8m3-8v8m1-8v8m4-8v8m198-8v8m105-8v8m144-8v8m1-8v8M1002.5 112v8M1036.5 120v8m1-8v8m71-8v8M1095.5 128v8m284-8v8M1026.5 136v8m118-8v8M1101.5 144v8m63-8v8m6-8v8m1-8v8m290-8v8M1167.5 152v8m239-8v8M1030.5 160v8m33-8v8m10-8v8m439-8v8M953.5 168v8m14-8v8m76-8v8m1-8v8M1048.5 176v8m56-8v8M1024.5 184v8M1397.5 200v8M996.5 224v8m258-8v8m338-8v8m7-8v8M1039.5 232v8M1113.5 240v8M1449.5 248v8M1125.5 256v8m68-8v8M1162.5 264v8m1-8v8m278-8v8M1109.5 272v8m303-8v8m7-8v8M1274.5 288v8m147-8v8M1368.5 296v8M1428.5 304v8m69-8v8M1066.5 312v8M1257.5 328v8m97-8v8M1293.5 336v8m71-8v8M1029.5 344v8m415-8v8m1-8v8M1009.5 360v8m53-8v8m106-8v8m182-8v8M970.5 376v8m126-8v8m271-8v8m1-8v8m177-8v8M1299.5 384v8m18-8v8M1279.5 392v8m50-8v8m1-8v8M1544.5 400v8M1022.5 408v8m108-8v8m353-8v8M1090.5 424v8m225-8v8m250-8v8M1592.5 440v8M1518.5 448v8M1579.5 456v8M1547.5 472v8M1340.5 504v8M1522.5 512v8M1250.5 520v8m237-8v8m136-8v8m1-8v8M1201.5 528v8m1-8v8m28-8v8M1507.5 544v8M983.5 560v8m12-8v8m1-8v8m16-8v8m17-8v8m59-8v8m1-8v8m3-8v8m1-8v8m225-8v8m73-8v8m1-8v8m82-8v8m67-8v8m66-8v8m1-8v8M1231.5 568v8m1-8v8m148-8v8m141-8v8m103-8v8M1501.5 576v8m124-8v8m6-8v8M1412.5 584v8m96-8v8M1477.5 592v8m35-8v8m29-8v8M1043.5 608v8M1062.5 616v8m117-8v8M1456.5 624v8M1064.5 664v8"/>
<path stroke="#E8E4E3" d="M945.5 40v8m117-8v8m1-8v8m66-8v8m80-8v8M959.5 64v8m294-8v8m15-8v8M937.5 72v8m38-8v8m7-8v8m29-8v8m143-8v8m63-8v8m1-8v8m35-8v8M1006.5 80v8M997.5 88v8m69-8v8m8-8v8m124-8v8m1-8v8m48-8v8M1020.5 96v8m1-8v8m271-8v8M1127.5 104v8m34-8v8M1041.5 112v8M1158.5 136v8m235-8v8m1-8v8M1047.5 144v8M1000.5 152v8m88-8v8m13-8v8M1173.5 176v8m456-8v8M1059.5 184v8m22-8v8m172-8v8M1129.5 240v8M1154.5 264v8m17-8v8m23-8v8m347-8v8M1438.5 272v8M1335.5 328v8M1271.5 352v8M1056.5 392v8m105-8v8m1-8v8m170-8v8m37-8v8m40-8v8m201-8v8m21-8v8m1-8v8M1097.5 408v8m138-8v8m35-8v8M1121.5 424v8M960.5 496v8m78-8v8m118-8v8m208-8v8M1215.5 520v8m108-8v8m17-8v8M1356.5 528v8m1-8v8M1091.5 560v8m63-8v8m108-8v8m106-8v8M1509.5 568v8M1347.5 576v8m1-8v8m128-8v8M1504.5 584v8m24-8v8m8-8v8M1059.5 600v8m186-8v8M1425.5 656v8m88-8v8"/>
<path stroke="#D8E8F1" d="M946.5 40v8m45-8v8m3-8v8m41-8v8m12-8v8m7-8v8m1-8v8m10-8v8m1-8v8m4-8v8m5-8v8m2-8v8m14-8v8m9-8v8m1-8v8m10-8v8m46-8v8m1-8v8m8-8v8m1-8v8m29-8v8m19-8v8m1-8v8m6-8v8m7-8v8m15-8v8m15-8v8m4-8v8m12-8v8m23-8v8m4-8v8m7-8v8m18-8v8m1-8v8m12-8v8m15-8v8m1-8v8m1-8v8m1-8v8m23-8v8m12-8v8m25-8v8m14-8v8m1-8v8m37-8v8m1-8v8m1-8v8m1-8v8m91-8v8m9-8v8m17-8v8M964.5 56v8m1-8v8M967.5 64v8m1-8v8M956.5 72v8m41-8v8m1-8v8m28-8v8m24-8v8m16-8v8m19-8v8m18-8v8m12-8v8m37-8v8m9-8v8m6-8v8m3-8v8m25-8v8m15-8v8m11-8v8m98-8v8m50-8v8m15-8v8m73-8v8m3-8v8m1-8v8m71-8v8m4-8v8m1-8v8m40-8v8m1-8v8m3-8v8m26-8v8m4-8v8M1548.5 80v8m22-8v8m6-8v8m14-8v8m1-8v8m4-8v8M947.5 88v8m24-8v8m1-8v8m59-8v8m2-8v8m2-8v8m4-8v8m4-8v8m19-8v8m5-8v8m23-8v8m11-8v8m10-8v8m1-8v8m29-8v8m14-8v8m17-8v8m22-8v8m1-8v8m2-8v8m10-8v8m7-8v8m6-8v8m14-8v8m15-8v8m1-8v8m19-8v8m1-8v8m1-8v8m1-8v8m4-8v8m20-8v8m11-8v8m1-8v8m16-8v8m95-8v8m14-8v8m1-8v8m30-8v8m20-8v8m21-8v8m15-8v8m50-8v8m5-8v8m9-8v8m38-8v8m8-8v8M1221.5 96v8m5-8v8m16-8v8m9-8v8m15-8v8m14-8v8m20-8v8m1-8v8m24-8v8m24-8v8m8-8v8m4-8v8m1-8v8m2-8v8M954.5 104v8m163-8v8m32-8v8m3-8v8m1-8v8m80-8v8m117-8v8m15-8v8m104-8v8m18-8v8m85-8v8m1-8v8m27-8v8M1110.5 120v8m7-8v8m13-8v8m18-8v8m2-8v8m5-8v8m7-8v8m6-8v8m2-8v8m2-8v8m1-8v8m30-8v8m9-8v8m16-8v8m1-8v8m7-8v8m1-8v8m2-8v8M1039.5 136v8M1079.5 144v8M960.5 152v8m1-8v8m9-8v8m1-8v8m1-8v8m5-8v8m15-8v8m9-8v8m7-8v8m1-8v8m1-8v8m6-8v8m17-8v8M1034.5 160v8m25-8v8m53-8v8m2-8v8m3-8v8m12-8v8m21-8v8m32-8v8m6-8v8m6-8v8m1-8v8M1046.5 176v8m72-8v8m2-8v8m7-8v8m4-8v8m1-8v8m5-8v8m5-8v8m33-8v8M939.5 184v8m28-8v8m35-8v8m1-8v8m125-8v8m1-8v8m3-8v8m20-8v8m2-8v8m2-8v8m1-8v8m14-8v8m8-8v8m5-8v8m6-8v8m5-8v8m1-8v8M1571.5 224v8M1159.5 240v8M1164.5 248v8m23-8v8M1117.5 264v8M1493.5 328v8m1-8v8M1449.5 336v8M1314.5 360v8m1-8v8M1327.5 368v8m35-8v8M1306.5 376v8m8-8v8M1290.5 384v8m38-8v8M944.5 392v8m9-8v8m1-8v8m2-8v8m3-8v8m7-8v8m20-8v8m8-8v8m1-8v8m19-8v8m3-8v8m55-8v8m4-8v8m5-8v8m1-8v8m16-8v8m27-8v8m7-8v8m1-8v8m13-8v8m3-8v8m7-8v8m32-8v8m8-8v8m2-8v8m16-8v8m10-8v8m3-8v8m2-8v8m11-8v8m30-8v8m4-8v8m20-8v8m9-8v8m90-8v8m27-8v8m24-8v8m1-8v8m35-8v8m1-8v8m2-8v8m20-8v8m1-8v8m13-8v8m66-8v8M1361.5 400v8m1-8v8M958.5 408v8m8-8v8m29-8v8m26-8v8m22-8v8m1-8v8m20-8v8m67-8v8m24-8v8m6-8v8m10-8v8m8-8v8m133-8v8m19-8v8M936.5 424v8m1-8v8m1-8v8m14-8v8m10-8v8m9-8v8m14-8v8m1-8v8m14-8v8m18-8v8m7-8v8m2-8v8m11-8v8m4-8v8m13-8v8m34-8v8m3-8v8m7-8v8m26-8v8m8-8v8m3-8v8m22-8v8m3-8v8m1-8v8m4-8v8m1-8v8m5-8v8m3-8v8m21-8v8m1-8v8m4-8v8m2-8v8m1-8v8m4-8v8m8-8v8m1-8v8m5-8v8m15-8v8m1-8v8m5-8v8m3-8v8m7-8v8m17-8v8m12-8v8m7-8v8m42-8v8m1-8v8m56-8v8m3-8v8m3-8v8m10-8v8m11-8v8m12-8v8m26-8v8m1-8v8m12-8v8m7-8v8m21-8v8m18-8v8m30-8v8m1-8v8m2-8v8m6-8v8m2-8v8m6-8v8m25-8v8m1-8v8m14-8v8m1-8v8m20-8v8m3-8v8m2-8v8m3-8v8m1-8v8m2-8v8M948.5 496v8m1-8v8m3-8v8m40-8v8m3-8v8m8-8v8m7-8v8m14-8v8m4-8v8m6-8v8m25-8v8m1-8v8m11-8v8m1-8v8m35-8v8m13-8v8m1-8v8m6-8v8m18-8v8m5-8v8m1-8v8m15-8v8m27-8v8m9-8v8m6-8v8m12-8v8m1-8v8m6-8v8m14-8v8m8-8v8m1-8v8m7-8v8m24-8v8m8-8v8m1-8v8m11-8v8m16-8v8m22-8v8m17-8v8m1-8v8M940.5 504v8m2-8v8m29-8v8m5-8v8m6-8v8m35-8v8m27-8v8m17-8v8m12-8v8m10-8v8m5-8v8m4-8v8m1-8v8m3-8v8m1-8v8m2-8v8m1-8v8m21-8v8m1-8v8m2-8v8m5-8v8m10-8v8m1-8v8m1-8v8m6-8v8m9-8v8m6-8v8m28-8v8m22-8v8m21-8v8m9-8v8m1-8v8m52-8v8m39-8v8M936.5 520v8m2-8v8m33-8v8m1-8v8m12-8v8m9-8v8m20-8v8m8-8v8m38-8v8m6-8v8m2-8v8m48-8v8m7-8v8m27-8v8m3-8v8m21-8v8m26-8v8m1-8v8m3-8v8m9-8v8m1-8v8m1-8v8m15-8v8m7-8v8m29-8v8m7-8v8m2-8v8m1-8v8m1-8v8m1-8v8m4-8v8m1-8v8m17-8v8m4-8v8m17-8v8m21-8v8m23-8v8m99-8v8m21-8v8m2-8v8M944.5 528v8m45-8v8m1-8v8m2-8v8m5-8v8m12-8v8m7-8v8m8-8v8m2-8v8m2-8v8m2-8v8m9-8v8m31-8v8m1-8v8m4-8v8m7-8v8m3-8v8m17-8v8m3-8v8m6-8v8m3-8v8m1-8v8m9-8v8m5-8v8m1-8v8m3-8v8m9-8v8m29-8v8m1-8v8m2-8v8m2-8v8m22-8v8m1-8v8m8-8v8m1-8v8m4-8v8m19-8v8m1-8v8m11-8v8m6-8v8m1-8v8m12-8v8m3-8v8m8-8v8m1-8v8m10-8v8m6-8v8m3-8v8m1-8v8m1-8v8m6-8v8m1-8v8m13-8v8m3-8v8m4-8v8m1-8v8m14-8v8m1-8v8m1-8v8m1-8v8m8-8v8m1-8v8m10-8v8m10-8v8M942.5 552v8m156-8v8m79-8v8m1-8v8m29-8v8m1-8v8m28-8v8m1-8v8m278-8v8M971.5 560v8m3-8v8m2-8v8m12-8v8m14-8v8m7-8v8m9-8v8m13-8v8m10-8v8m13-8v8m80-8v8m6-8v8m15-8v8m54-8v8m1-8v8m3-8v8m11-8v8m6-8v8m23-8v8m14-8v8m10-8v8m1-8v8m5-8v8m1-8v8m18-8v8m51-8v8m1-8v8M1491.5 568v8m20-8v8M938.5 576v8m3-8v8m17-8v8m15-8v8m11-8v8m1-8v8m8-8v8m1-8v8m1-8v8m32-8v8m7-8v8m10-8v8m41-8v8m5-8v8m32-8v8m3-8v8m11-8v8m7-8v8m9-8v8m11-8v8m12-8v8m69-8v8m1-8v8m26-8v8m11-8v8m13-8v8m1-8v8m2-8v8m1-8v8m31-8v8m21-8v8m1-8v8m9-8v8m5-8v8m68-8v8m1-8v8m51-8v8M1392.5 584v8m19-8v8m60-8v8m14-8v8m16-8v8m25-8v8M937.5 600v8m1-8v8m6-8v8m1-8v8m1-8v8m1-8v8m4-8v8m7-8v8m1-8v8m1-8v8m19-8v8m9-8v8m1-8v8m1-8v8m14-8v8m1-8v8m6-8v8m35-8v8m2-8v8m9-8v8m1-8v8m7-8v8m1-8v8m3-8v8m7-8v8m21-8v8m4-8v8m1-8v8m5-8v8m3-8v8m18-8v8m4-8v8m39-8v8m3-8v8m9-8v8m16-8v8m11-8v8m4-8v8m9-8v8m3-8v8m3-8v8m3-8v8m6-8v8m1-8v8m15-8v8m40-8v8m4-8v8m4-8v8m5-8v8m28-8v8m13-8v8m15-8v8m1-8v8m5-8v8m1-8v8m15-8v8m1-8v8m6-8v8m1-8v8m10-8v8m17-8v8m27-8v8m1-8v8m28-8v8m1-8v8m1-8v8m2-8v8m6-8v8m5-8v8m12-8v8m1-8v8m3-8v8m22-8v8m4-8v8M952.5 656v8m1-8v8m55-8v8m2-8v8m18-8v8m14-8v8m6-8v8m7-8v8m19-8v8m9-8v8m24-8v8m21-8v8m10-8v8m12-8v8m1-8v8m11-8v8m18-8v8m8-8v8m4-8v8m5-8v8m62-8v8m29-8v8m21-8v8m46-8v8m2-8v8m19-8v8m16-8v8m12-8v8m60-8v8m5-8v8m12-8v8m3-8v8m21-8v8m32-8v8m3-8v8"/>
<path stroke="#F8C1A6" d="M947.5 40v8m39-8v8m22-8v8m108-8v8m59-8v8m39-8v8m172-8v8m5-8v8m1-8v8M959.5 48v8m30-8v8m1-8v8m10-8v8m7-8v8m10-8v8m573-8v8M947.5 56v8m2-8v8m38-8v8m2-8v8m443-8v8M1009.5 64v8m2-8v8m1-8v8m58-8v8m177-8v8m18-8v8m1-8v8m16-8v8m5-8v8m1-8v8m53-8v8m11-8v8m1-8v8m8-8v8m3-8v8m110-8v8m47-8v8m1-8v8m5-8v8m1-8v8m16-8v8m1-8v8M946.5 72v8m12-8v8m1-8v8m8-8v8m1-8v8m3-8v8m1-8v8m9-8v8m4-8v8m5-8v8m9-8v8m5-8v8m20-8v8m13-8v8m79-8v8m1-8v8m12-8v8m74-8v8m1-8v8m3-8v8m5-8v8m39-8v8m1-8v8m90-8v8m196-8v8m15-8v8M943.5 80v8m3-8v8m35-8v8m9-8v8m367-8v8m6-8v8M966.5 88v8m2-8v8m1-8v8m44-8v8m166-8v8m213-8v8M969.5 96v8m45-8v8m8-8v8m212-8v8m6-8v8m59-8v8m8-8v8M947.5 104v8m23-8v8m1-8v8m47-8v8m5-8v8m41-8v8m70-8v8m22-8v8m85-8v8M1010.5 112v8m7-8v8M966.5 120v8m64-8v8m10-8v8m7-8v8m6-8v8m1-8v8m16-8v8m8-8v8m5-8v8m12-8v8m5-8v8m1-8v8m13-8v8m1-8v8m25-8v8m39-8v8m335-8v8m1-8v8M1046.5 128v8m9-8v8m1-8v8m8-8v8m11-8v8m6-8v8m2-8v8m7-8v8m10-8v8m2-8v8m31-8v8m13-8v8m23-8v8m6-8v8m13-8v8m1-8v8m378-8v8M1069.5 136v8m39-8v8m5-8v8m7-8v8m1-8v8m2-8v8m11-8v8m14-8v8m5-8v8m11-8v8m25-8v8m1-8v8m2-8v8M1041.5 144v8m22-8v8m42-8v8m38-8v8m1-8v8m5-8v8m3-8v8m7-8v8m3-8v8m1-8v8m3-8v8m281-8v8m105-8v8M957.5 152v8m1-8v8m105-8v8m1-8v8m11-8v8m21-8v8m1-8v8m19-8v8m36-8v8m21-8v8m4-8v8M1031.5 160v8m1-8v8m16-8v8m1-8v8m9-8v8m2-8v8m5-8v8M936.5 168v8m1-8v8m28-8v8m1-8v8m21-8v8m4-8v8m11-8v8m20-8v8m11-8v8m1-8v8m3-8v8m67-8v8m1-8v8m27-8v8m12-8v8m357-8v8m112-8v8M1064.5 176v8m1-8v8m15-8v8m176-8v8M1049.5 184v8m1-8v8m33-8v8m1-8v8m76-8v8m352-8v8M1133.5 192v8M1603.5 200v8M1093.5 216v8m377-8v8m17-8v8m128-8v8M1007.5 224v8m38-8v8m385-8v8m1-8v8m46-8v8m1-8v8m10-8v8m71-8v8m65-8v8m1-8v8M979.5 232v8m137-8v8m1-8v8M1120.5 240v8m7-8v8m45-8v8M1167.5 248v8m1-8v8m161-8v8m33-8v8m76-8v8m172-8v8M1124.5 256v8m11-8v8m8-8v8m27-8v8m1-8v8M1110.5 264v8m11-8v8m3-8v8m29-8v8m29-8v8M1150.5 272v8M1425.5 280v8M1372.5 288v8m1-8v8m52-8v8M1375.5 304v8m70-8v8m150-8v8M957.5 312v8m4-8v8m1-8v8m510-8v8m1-8v8M1020.5 328v8m67-8v8m1-8v8m305-8v8M1423.5 336v8m1-8v8M1301.5 344v8m46-8v8M982.5 360v8m1-8v8m9-8v8m1-8v8m310-8v8m33-8v8m20-8v8m56-8v8m217-8v8M947.5 368v8m1-8v8m353-8v8m51-8v8m117-8v8m115-8v8m20-8v8M1094.5 376v8m191-8v8m28-8v8m42-8v8m150-8v8M1107.5 384v8m5-8v8m1-8v8m183-8v8m13-8v8m1-8v8m13-8v8m3-8v8m59-8v8m132-8v8M972.5 392v8m116-8v8m1-8v8m199-8v8m29-8v8m18-8v8m28-8v8m7-8v8m1-8v8m21-8v8m7-8v8m20-8v8m19-8v8m1-8v8m21-8v8m5-8v8m127-8v8m23-8v8m18-8v8M1128.5 400v8m211-8v8m97-8v8M948.5 408v8m5-8v8m96-8v8m33-8v8m27-8v8m15-8v8m5-8v8m18-8v8m142-8v8m26-8v8m14-8v8m36-8v8m3-8v8M1292.5 416v8m18-8v8m1-8v8m260-8v8m25-8v8M1051.5 424v8m1-8v8m267-8v8m20-8v8m10-8v8m257-8v8M1347.5 432v8m21-8v8m137-8v8M944.5 448v8m625-8v8m12-8v8M1495.5 456v8m40-8v8M1509.5 464v8m110-8v8m1-8v8M1008.5 472v8m1-8v8m566-8v8M987.5 480v8m413-8v8M1028.5 488v8m231-8v8m16-8v8m287-8v8m1-8v8M977.5 496v8m134-8v8m163-8v8m40-8v8M955.5 504v8m589-8v8m1-8v8M994.5 520v8m1-8v8m306-8v8m54-8v8m1-8v8m93-8v8m1-8v8m15-8v8m12-8v8m3-8v8m34-8v8m26-8v8m70-8v8m1-8v8M982.5 528v8m1-8v8m201-8v8m368-8v8M1137.5 536v8M1027.5 544v8m1-8v8m13-8v8m13-8v8m1-8v8m120-8v8m420-8v8M938.5 552v8m111-8v8m366-8v8m51-8v8m15-8v8m8-8v8m2-8v8m7-8v8m15-8v8m8-8v8m5-8v8m6-8v8m5-8v8m6-8v8M1017.5 560v8m18-8v8m98-8v8m3-8v8m30-8v8m34-8v8m33-8v8m1-8v8m45-8v8m18-8v8m283-8v8M1404.5 568v8m56-8v8m9-8v8m54-8v8M1309.5 576v8m85-8v8m1-8v8m5-8v8m1-8v8m14-8v8m1-8v8m77-8v8m32-8v8m2-8v8m1-8v8m8-8v8m74-8v8m22-8v8M1386.5 584v8m1-8v8m81-8v8m1-8v8m13-8v8m1-8v8m31-8v8m3-8v8m75-8v8M1463.5 592v8m36-8v8M984.5 600v8m38-8v8m324-8v8M1336.5 608v8m262-8v8M1515.5 624v8M1137.5 640v8m1-8v8M990.5 648v8m435-8v8m18-8v8m16-8v8m72-8v8m71-8v8M1126.5 656v8m39-8v8m125-8v8m13-8v8m18-8v8m65-8v8m12-8v8m34-8v8m35-8v8M1182.5 664v8"/>
<path stroke="#FBE3D6" d="M948.5 40v8m8-8v8m43-8v8m17-8v8m77-8v8m37-8v8m3-8v8m39-8v8m7-8v8m70-8v8m1-8v8m6-8v8m1-8v8M937.5 56v8m58-8v8m1-8v8m26-8v8m83-8v8M1213.5 64v8m1-8v8m25-8v8m21-8v8m105-8v8M1044.5 72v8m45-8v8m38-8v8m3-8v8m28-8v8m22-8v8m1-8v8m32-8v8M1013.5 80v8M946.5 88v8m14-8v8m17-8v8m5-8v8m1-8v8m9-8v8m11-8v8m6-8v8m10-8v8m9-8v8m1-8v8m97-8v8m2-8v8m1-8v8m33-8v8m20-8v8m1-8v8m42-8v8m1-8v8m7-8v8M937.5 96v8m1-8v8m44-8v8m16-8v8m1-8v8m263-8v8m9-8v8m1-8v8m13-8v8m1-8v8m42-8v8m8-8v8m1-8v8m9-8v8m23-8v8M940.5 104v8m41-8v8m67-8v8m5-8v8m19-8v8m1-8v8m1-8v8m4-8v8m7-8v8m17-8v8m1-8v8m16-8v8m19-8v8m38-8v8m1-8v8m1-8v8m21-8v8m5-8v8m43-8v8m6-8v8m25-8v8M936.5 112v8m44-8v8M1043.5 120v8m122-8v8M1067.5 128v8m20-8v8m86-8v8M1088.5 136v8M1070.5 144v8m36-8v8m75-8v8m1-8v8m7-8v8m5-8v8m1-8v8M947.5 152v8m43-8v8m29-8v8m48-8v8m61-8v8M1035.5 160v8m34-8v8m1-8v8m74-8v8m12-8v8m1-8v8m7-8v8M996.5 168v8m50-8v8m3-8v8m14-8v8m36-8v8m61-8v8M1090.5 176v8m1-8v8m14-8v8m1-8v8m65-8v8M1054.5 184v8m1-8v8m40-8v8m2-8v8m254-8v8m1-8v8m280-8v8M1484.5 192v8M1434.5 224v8M1140.5 232v8M1122.5 240v8m35-8v8m20-8v8m1-8v8M1129.5 248v8m51-8v8M1178.5 256v8M1138.5 264v8m1-8v8M1145.5 272v8M1412.5 312v8m32-8v8m1-8v8m152-8v8M1387.5 320v8M1301.5 360v8M1240.5 368v8m75-8v8m48-8v8M1296.5 376v8m39-8v8m10-8v8m21-8v8m99-8v8M1305.5 384v8m60-8v8m1-8v8M943.5 392v8m75-8v8m241-8v8m36-8v8m29-8v8m1-8v8m14-8v8m26-8v8m29-8v8m1-8v8m21-8v8m36-8v8m22-8v8m58-8v8m4-8v8m1-8v8m8-8v8m1-8v8m9-8v8m15-8v8m9-8v8m17-8v8m16-8v8m8-8v8m1-8v8m6-8v8m1-8v8M1286.5 400v8m9-8v8m43-8v8M978.5 408v8m55-8v8m22-8v8m6-8v8m25-8v8m4-8v8m58-8v8m2-8v8m1-8v8m9-8v8m49-8v8m4-8v8m20-8v8m35-8v8m22-8v8m44-8v8m23-8v8m71-8v8M1326.5 416v8m1-8v8m13-8v8m17-8v8m1-8v8M983.5 424v8m95-8v8m45-8v8m63-8v8m33-8v8m125-8v8m11-8v8m45-8v8m6-8v8m14-8v8m36-8v8m52-8v8m2-8v8m104-8v8m1-8v8M938.5 432v8m1-8v8m29-8v8m384-8v8m12-8v8M1021.5 440v8M1541.5 456v8M951.5 496v8m30-8v8m109-8v8m14-8v8m81-8v8m6-8v8m1-8v8m13-8v8m9-8v8m45-8v8m33-8v8m29-8v8M943.5 504v8m34-8v8m20-8v8m1-8v8m25-8v8m15-8v8m67-8v8m6-8v8m31-8v8m187-8v8m143-8v8M1065.5 512v8M1226.5 520v8m83-8v8m7-8v8M936.5 528v8m17-8v8m59-8v8m1-8v8m34-8v8m57-8v8m50-8v8m1-8v8m25-8v8m11-8v8m150-8v8m3-8v8m22-8v8m1-8v8M1426.5 544v8m1-8v8m47-8v8m157-8v8M1462.5 552v8m45-8v8m1-8v8m31-8v8M953.5 560v8m10-8v8m7-8v8m40-8v8m6-8v8m24-8v8m5-8v8m18-8v8m11-8v8m22-8v8m4-8v8m68-8v8m3-8v8m1-8v8m21-8v8m39-8v8m27-8v8m56-8v8m1-8v8m132-8v8m1-8v8m15-8v8m73-8v8M1409.5 568v8m1-8v8m75-8v8m17-8v8m12-8v8m21-8v8m5-8v8M1097.5 576v8m407-8v8m1-8v8m1-8v8m29-8v8M1542.5 584v8m2-8v8M1508.5 592v8m18-8v8m1-8v8M1012.5 600v8m9-8v8m85-8v8m47-8v8m78-8v8m45-8v8m1-8v8m42-8v8m1-8v8m1-8v8m50-8v8m129-8v8m9-8v8m14-8v8m1-8v8M1129.5 608v8M970.5 648v8m52-8v8M1292.5 656v8m40-8v8m1-8v8m33-8v8m18-8v8m72-8v8m1-8v8m15-8v8m13-8v8m1-8v8m42-8v8"/>
<path stroke="#EECCBC" d="M949.5 40v8m1-8v8m24-8v8m1-8v8m3-8v8m2-8v8m10-8v8m2-8v8m1-8v8m66-8v8m292-8v8M948.5 48v8m1-8v8m13-8v8m20-8v8m16-8v8m1-8v8M977.5 56v8m13-8v8m7-8v8M956.5 64v8m1-8v8m9-8v8m245-8v8m52-8v8m4-8v8m8-8v8m20-8v8m38-8v8m132-8v8m24-8v8m16-8v8M1051.5 72v8m40-8v8m20-8v8m26-8v8m91-8v8m11-8v8m39-8v8m3-8v8m1-8v8M937.5 80v8m16-8v8M1177.5 88v8M941.5 96v8m14-8v8m35-8v8m270-8v8m37-8v8M939.5 104v8m59-8v8m1-8v8m9-8v8m250-8v8m6-8v8m1-8v8M952.5 112v8m1-8v8m5-8v8m11-8v8m6-8v8m1-8v8m2-8v8m23-8v8m585-8v8M1063.5 120v8m1-8v8m1-8v8m39-8v8M1070.5 128v8m12-8v8m9-8v8m1-8v8m58-8v8M1072.5 136v8m50-8v8m3-8v8m1-8v8m3-8v8m1-8v8m11-8v8m30-8v8M1131.5 144v8m45-8v8m8-8v8m1-8v8M993.5 152v8m35-8v8m17-8v8m1-8v8m24-8v8m40-8v8m28-8v8m26-8v8m17-8v8m216-8v8m21-8v8m59-8v8m1-8v8M1037.5 160v8m3-8v8m27-8v8m491-8v8m1-8v8M949.5 168v8m35-8v8m22-8v8m1-8v8m6-8v8m10-8v8m1-8v8m4-8v8m1-8v8m19-8v8m76-8v8m66-8v8M1058.5 176v8m44-8v8m82-8v8M1038.5 184v8m1-8v8m5-8v8M1237.5 200v8m327-8v8M1591.5 216v8M1096.5 224v8m515-8v8M1168.5 232v8m1-8v8m99-8v8M1155.5 240v8M1181.5 248v8m15-8v8m25-8v8M1112.5 256v8m25-8v8m331-8v8M1119.5 264v8m10-8v8m31-8v8m18-8v8m422-8v8M1104.5 272v8m453-8v8M937.5 280v8M1247.5 296v8m364-8v8M1274.5 312v8M1597.5 320v8M1521.5 328v8m35-8v8M936.5 336v8M1034.5 360v8m231-8v8M1350.5 368v8M1050.5 376v8m253-8v8m1-8v8m19-8v8M1030.5 384v8m163-8v8m18-8v8m216-8v8m75-8v8M1301.5 392v8m1-8v8m43-8v8m86-8v8m1-8v8m54-8v8M964.5 408v8m60-8v8m98-8v8m1-8v8m53-8v8m1-8v8m1-8v8m165-8v8m1-8v8M1288.5 416v8m27-8v8m26-8v8m127-8v8M1329.5 424v8m29-8v8m1-8v8M1331.5 432v8m23-8v8M965.5 440v8m532-8v8M1446.5 480v8M1395.5 488v8M1188.5 496v8m1-8v8m156-8v8m122-8v8m1-8v8M1075.5 504v8m45-8v8M1492.5 520v8M1056.5 528v8m257-8v8m208-8v8m11-8v8M1188.5 536v8m396-8v8M1251.5 544v8m25-8v8m180-8v8M1471.5 552v8m1-8v8m39-8v8m1-8v8m21-8v8M1006.5 560v8m64-8v8m106-8v8m1-8v8m114-8v8m12-8v8m54-8v8m1-8v8M1493.5 568v8m1-8v8m119-8v8M1137.5 576v8m254-8v8m123-8v8m17-8v8m25-8v8m1-8v8M1325.5 584v8m82-8v8m68-8v8M1498.5 592v8M986.5 600v8m28-8v8m141-8v8m1-8v8m26-8v8m77-8v8m1-8v8m251-8v8m11-8v8M1152.5 608v8m1-8v8m91-8v8M1575.5 624v8M991.5 648v8M1323.5 656v8m74-8v8m124-8v8"/>
<path stroke="#B31A2C" d="M953.5 40v8M958.5 48v8m307-8v8m1-8v8m73-8v8m1-8v8m21-8v8m1-8v8m89-8v8m26-8v8m40-8v8m1-8v8M1231.5 56v8m171-8v8m15-8v8m72-8v8M975.5 64v8m322-8v8m1-8v8m11-8v8m164-8v8M950.5 80v8m225-8v8m452-8v8M965.5 96v8m1-8v8m23-8v8m580-8v8M1500.5 104v8M1388.5 112v8m27-8v8m96-8v8M1411.5 136v8m1-8v8M1109.5 144v8m389-8v8m9-8v8m29-8v8m94-8v8M1051.5 152v8m316-8v8m150-8v8M1044.5 160v8m1-8v8m427-8v8m1-8v8M1089.5 168v8m57-8v8m56-8v8m98-8v8m253-8v8m1-8v8m10-8v8M1574.5 176v8M1031.5 192v8m222-8v8m246-8v8M1155.5 200v8m19-8v8m1-8v8m6-8v8m3-8v8m3-8v8m1-8v8m134-8v8m39-8v8m129-8v8M1115.5 208v8m15-8v8m11-8v8m2-8v8m5-8v8m5-8v8m4-8v8m4-8v8m5-8v8m5-8v8m2-8v8m1-8v8m1-8v8m11-8v8m1-8v8m1-8v8m2-8v8m56-8v8m1-8v8m272-8v8M1112.5 216v8m8-8v8m13-8v8m9-8v8m1-8v8m2-8v8m22-8v8m88-8v8m298-8v8m56-8v8M1114.5 224v8m4-8v8m4-8v8m21-8v8m15-8v8m1-8v8m1-8v8m5-8v8m25-8v8m1-8v8m1-8v8m2-8v8m13-8v8m5-8v8m2-8v8m14-8v8m1-8v8m12-8v8m12-8v8m5-8v8m1-8v8m24-8v8m5-8v8m34-8v8m5-8v8m27-8v8m7-8v8m1-8v8m28-8v8m22-8v8m2-8v8m10-8v8m38-8v8m1-8v8m5-8v8m14-8v8m4-8v8m3-8v8m64-8v8m9-8v8m1-8v8m39-8v8m2-8v8M1118.5 232v8m25-8v8m1-8v8m20-8v8m1-8v8m92-8v8m58-8v8m36-8v8m222-8v8M1067.5 240v8m38-8v8m11-8v8m23-8v8m6-8v8m3-8v8m13-8v8m23-8v8m8-8v8m5-8v8m5-8v8m134-8v8m133-8v8m25-8v8m42-8v8m11-8v8m57-8v8M1005.5 248v8m105-8v8m1-8v8m55-8v8m75-8v8m150-8v8m87-8v8m29-8v8M1110.5 256v8m1-8v8m4-8v8m210-8v8m171-8v8m45-8v8m23-8v8m66-8v8M971.5 264v8m88-8v8m1-8v8m108-8v8m252-8v8m28-8v8m27-8v8m22-8v8m27-8v8m4-8v8M1124.5 272v8m23-8v8m18-8v8m1-8v8m122-8v8m210-8v8m21-8v8m54-8v8m6-8v8m51-8v8M1198.5 280v8m6-8v8m6-8v8m1-8v8m1-8v8m5-8v8m2-8v8m8-8v8m10-8v8m1-8v8m11-8v8m1-8v8m4-8v8m1-8v8m4-8v8m8-8v8m1-8v8m6-8v8m2-8v8m2-8v8m137-8v8m111-8v8m1-8v8M1019.5 288v8m169-8v8m1-8v8m10-8v8m22-8v8m1-8v8m6-8v8m12-8v8m1-8v8m3-8v8m11-8v8m1-8v8m3-8v8m11-8v8m1-8v8m1-8v8m11-8v8m12-8v8m6-8v8m1-8v8m20-8v8m1-8v8m4-8v8m1-8v8m4-8v8m1-8v8m6-8v8m13-8v8m1-8v8m4-8v8m4-8v8m10-8v8m46-8v8m5-8v8m15-8v8m8-8v8m119-8v8M1196.5 296v8m8-8v8m12-8v8m1-8v8m4-8v8m12-8v8m12-8v8m4-8v8m6-8v8m10-8v8m2-8v8m1-8v8m13-8v8m167-8v8m26-8v8M1217.5 304v8m4-8v8m1-8v8m6-8v8m1-8v8m17-8v8m4-8v8m1-8v8m5-8v8m7-8v8m17-8v8m4-8v8m134-8v8m90-8v8M1081.5 312v8m123-8v8m24-8v8m13-8v8m1-8v8m1-8v8m5-8v8m2-8v8m8-8v8m15-8v8m9-8v8m128-8v8m6-8v8m13-8v8m3-8v8m1-8v8m27-8v8m73-8v8m30-8v8m30-8v8m26-8v8M1072.5 320v8m126-8v8m4-8v8m4-8v8m12-8v8m4-8v8m7-8v8m2-8v8m1-8v8m6-8v8m7-8v8m1-8v8m1-8v8m12-8v8m22-8v8m31-8v8m30-8v8m1-8v8m8-8v8m11-8v8m12-8v8m15-8v8m8-8v8m7-8v8m1-8v8m21-8v8m6-8v8m64-8v8m116-8v8m20-8v8M955.5 328v8m1-8v8m242-8v8m1-8v8m3-8v8m4-8v8m1-8v8m4-8v8m7-8v8m1-8v8m6-8v8m1-8v8m3-8v8m5-8v8m1-8v8m4-8v8m6-8v8m1-8v8m12-8v8m5-8v8m6-8v8m1-8v8m1-8v8m107-8v8m5-8v8m35-8v8m1-8v8m40-8v8m6-8v8m3-8v8m7-8v8m1-8v8m7-8v8m1-8v8m8-8v8m6-8v8m16-8v8m12-8v8m1-8v8m8-8v8m1-8v8m1-8v8m1-8v8m5-8v8m65-8v8m9-8v8M1198.5 336v8m9-8v8m6-8v8m1-8v8m7-8v8m1-8v8m22-8v8m1-8v8m1-8v8m8-8v8m16-8v8m1-8v8m2-8v8m2-8v8m1-8v8m20-8v8m78-8v8m24-8v8m5-8v8m18-8v8m1-8v8m70-8v8m50-8v8m16-8v8m1-8v8M1052.5 344v8m1-8v8m1-8v8m1-8v8m149-8v8m1-8v8m4-8v8m2-8v8m1-8v8m1-8v8m1-8v8m1-8v8m10-8v8m3-8v8m5-8v8m14-8v8m3-8v8m1-8v8m5-8v8m1-8v8m1-8v8m1-8v8m4-8v8m1-8v8m9-8v8m5-8v8m34-8v8m10-8v8m60-8v8m1-8v8m6-8v8m1-8v8m22-8v8m21-8v8m72-8v8m42-8v8m72-8v8m12-8v8M1200.5 352v8m8-8v8m35-8v8m6-8v8m14-8v8m15-8v8m86-8v8m15-8v8m1-8v8m7-8v8m32-8v8m45-8v8m136-8v8M1005.5 360v8m8-8v8m61-8v8m289-8v8m27-8v8m6-8v8m42-8v8m6-8v8m1-8v8m28-8v8m28-8v8m13-8v8m4-8v8m64-8v8M987.5 368v8m4-8v8m1-8v8m105-8v8m11-8v8m41-8v8m22-8v8m131-8v8m46-8v8m1-8v8m5-8v8m12-8v8m1-8v8m63-8v8m69-8v8m12-8v8m5-8v8M942.5 376v8m1-8v8m343-8v8m50-8v8m36-8v8m73-8v8m25-8v8m58-8v8M1077.5 384v8m204-8v8m31-8v8m1-8v8m44-8v8m12-8v8m10-8v8m4-8v8m19-8v8m1-8v8m3-8v8m5-8v8m13-8v8m49-8v8m2-8v8m11-8v8m57-8v8M960.5 400v8m1-8v8m118-8v8m252-8v8m22-8v8m58-8v8m5-8v8m135-8v8M1288.5 408v8m36-8v8m34-8v8m1-8v8m18-8v8m8-8v8m1-8v8m10-8v8m5-8v8m1-8v8m4-8v8m1-8v8m16-8v8m12-8v8m1-8v8m6-8v8m34-8v8m51-8v8m10-8v8m41-8v8M1123.5 416v8m77-8v8m99-8v8m13-8v8m1-8v8m9-8v8m21-8v8m4-8v8m15-8v8m35-8v8m90-8v8m19-8v8m92-8v8M1552.5 424v8M959.5 432v8m29-8v8m1-8v8m26-8v8m2-8v8m308-8v8m48-8v8m1-8v8m83-8v8m36-8v8m60-8v8M1047.5 440v8m107-8v8m55-8v8m55-8v8m51-8v8m12-8v8m64-8v8m1-8v8m7-8v8m1-8v8m5-8v8m10-8v8m4-8v8m2-8v8m1-8v8m1-8v8m3-8v8m5-8v8m1-8v8m1-8v8m8-8v8m1-8v8m32-8v8m26-8v8m1-8v8m14-8v8m20-8v8m1-8v8m61-8v8M1143.5 448v8m80-8v8m161-8v8m1-8v8m5-8v8m9-8v8m1-8v8m7-8v8m2-8v8m7-8v8m2-8v8m1-8v8m1-8v8m5-8v8m2-8v8m1-8v8m7-8v8m1-8v8m4-8v8m2-8v8m4-8v8m11-8v8m1-8v8m23-8v8m6-8v8m1-8v8m3-8v8m3-8v8m4-8v8m1-8v8m8-8v8m49-8v8m2-8v8m6-8v8m36-8v8m15-8v8m11-8v8M1140.5 456v8m250-8v8m4-8v8m7-8v8m2-8v8m1-8v8m1-8v8m1-8v8m8-8v8m5-8v8m1-8v8m1-8v8m8-8v8m17-8v8m10-8v8m27-8v8m8-8v8m1-8v8m8-8v8m1-8v8m1-8v8m30-8v8m4-8v8m1-8v8m9-8v8m2-8v8m9-8v8m11-8v8M1090.5 464v8m53-8v8m230-8v8m1-8v8m1-8v8m2-8v8m6-8v8m1-8v8m4-8v8m8-8v8m5-8v8m1-8v8m4-8v8m1-8v8m14-8v8m13-8v8m13-8v8m1-8v8m5-8v8m1-8v8m1-8v8m5-8v8m3-8v8m24-8v8m13-8v8m25-8v8m11-8v8m13-8v8m6-8v8M1377.5 472v8m4-8v8m1-8v8m3-8v8m15-8v8m9-8v8m2-8v8m9-8v8m1-8v8m5-8v8m1-8v8m10-8v8m4-8v8m2-8v8m7-8v8m57-8v8m8-8v8M1317.5 480v8m56-8v8m16-8v8m1-8v8m1-8v8m1-8v8m7-8v8m7-8v8m2-8v8m6-8v8m6-8v8m13-8v8m2-8v8m7-8v8m12-8v8m1-8v8m4-8v8m57-8v8m18-8v8m47-8v8m1-8v8m1-8v8M958.5 488v8m415-8v8m1-8v8m3-8v8m4-8v8m4-8v8m1-8v8m22-8v8m1-8v8m3-8v8m1-8v8m9-8v8m1-8v8m1-8v8m1-8v8m8-8v8m2-8v8m1-8v8m3-8v8m2-8v8m33-8v8m15-8v8m1-8v8m24-8v8m14-8v8m5-8v8m1-8v8m56-8v8m28-8v8m12-8v8M1365.5 496v8m12-8v8m1-8v8m3-8v8m7-8v8m1-8v8m9-8v8m16-8v8m1-8v8m1-8v8m9-8v8m2-8v8m2-8v8m2-8v8m21-8v8m40-8v8m1-8v8m97-8v8m1-8v8m30-8v8M963.5 504v8m425-8v8m7-8v8m1-8v8m11-8v8m3-8v8m1-8v8m5-8v8m1-8v8m1-8v8m5-8v8m8-8v8m1-8v8m9-8v8m1-8v8m1-8v8m1-8v8m1-8v8m23-8v8m67-8v8m12-8v8m1-8v8m4-8v8m1-8v8m26-8v8M993.5 512v8m42-8v8m324-8v8m14-8v8m2-8v8m3-8v8m1-8v8m3-8v8m21-8v8m22-8v8m20-8v8m6-8v8m4-8v8m1-8v8m16-8v8m36-8v8m34-8v8m1-8v8M1267.5 520v8m105-8v8m8-8v8m1-8v8m1-8v8m1-8v8m58-8v8m57-8v8m94-8v8m22-8v8M1385.5 528v8m2-8v8m1-8v8m1-8v8m23-8v8m18-8v8m8-8v8m36-8v8m1-8v8m10-8v8m8-8v8m4-8v8m3-8v8m1-8v8m8-8v8m33-8v8m23-8v8m1-8v8M974.5 536v8m50-8v8m109-8v8m1-8v8m34-8v8m5-8v8m16-8v8m15-8v8m9-8v8m181-8v8m22-8v8m1-8v8m32-8v8m29-8v8m120-8v8m17-8v8m1-8v8M1092.5 544v8m46-8v8m1-8v8m66-8v8m12-8v8m1-8v8m49-8v8m65-8v8m33-8v8m40-8v8m1-8v8m16-8v8m1-8v8m27-8v8m1-8v8m36-8v8m8-8v8m22-8v8m12-8v8m11-8v8m27-8v8m5-8v8m36-8v8m24-8v8M1055.5 552v8m337-8v8m1-8v8m12-8v8m1-8v8m30-8v8m86-8v8m75-8v8m34-8v8M1398.5 560v8m16-8v8m73-8v8m27-8v8m14-8v8m1-8v8m9-8v8m6-8v8m15-8v8m1-8v8m10-8v8m6-8v8m27-8v8M1266.5 568v8m112-8v8m4-8v8m6-8v8m5-8v8m43-8v8m126-8v8m1-8v8m43-8v8m16-8v8M1398.5 576v8m7-8v8m22-8v8m6-8v8m7-8v8m7-8v8m13-8v8m78-8v8m35-8v8m46-8v8m1-8v8M1426.5 584v8m1-8v8m8-8v8m35-8v8m22-8v8m1-8v8M1380.5 592v8m2-8v8m5-8v8m18-8v8m2-8v8m16-8v8m6-8v8m1-8v8m1-8v8m7-8v8m14-8v8m2-8v8m4-8v8m10-8v8m10-8v8m26-8v8m1-8v8m6-8v8m5-8v8m5-8v8m1-8v8m8-8v8m1-8v8m13-8v8m46-8v8M1000.5 600v8m143-8v8m405-8v8m1-8v8m9-8v8m1-8v8m1-8v8m4-8v8m9-8v8m1-8v8m2-8v8m1-8v8m5-8v8m5-8v8m2-8v8m7-8v8m1-8v8m8-8v8m1-8v8m14-8v8m1-8v8m1-8v8m1-8v8M1048.5 608v8m102-8v8m167-8v8m1-8v8m51-8v8m189-8v8m4-8v8m1-8v8m5-8v8m2-8v8m5-8v8m1-8v8m1-8v8m1-8v8m9-8v8m1-8v8m8-8v8m3-8v8m3-8v8m3-8v8m18-8v8m8-8v8M966.5 616v8m47-8v8m1-8v8m63-8v8m148-8v8m1-8v8m122-8v8m89-8v8m1-8v8m109-8v8m1-8v8m2-8v8m1-8v8m1-8v8m11-8v8m1-8v8m4-8v8m1-8v8m8-8v8m1-8v8m3-8v8m5-8v8m2-8v8m3-8v8m1-8v8m5-8v8m12-8v8m4-8v8m1-8v8m1-8v8m1-8v8m1-8v8m7-8v8m1-8v8m2-8v8M1185.5 624v8m366-8v8m5-8v8m11-8v8m7-8v8m8-8v8m1-8v8m8-8v8m1-8v8m3-8v8m5-8v8m1-8v8m4-8v8m1-8v8m10-8v8m2-8v8m1-8v8m5-8v8m5-8v8m1-8v8m2-8v8M1066.5 632v8m494-8v8m8-8v8m8-8v8m5-8v8m1-8v8m1-8v8m5-8v8m6-8v8m1-8v8m5-8v8m19-8v8m4-8v8m3-8v8M1552.5 640v8m6-8v8m1-8v8m4-8v8m1-8v8m3-8v8m12-8v8m8-8v8m14-8v8m1-8v8m14-8v8m1-8v8m2-8v8M1062.5 648v8m123-8v8m33-8v8m170-8v8m86-8v8m1-8v8m11-8v8m10-8v8m19-8v8m41-8v8m3-8v8m1-8v8m1-8v8m13-8v8m1-8v8m4-8v8m8-8v8m1-8v8m3-8v8m1-8v8m9-8v8m3-8v8m6-8v8m1-8v8m10-8v8m7-8v8m1-8v8m1-8v8M1031.5 656v8m544-8v8m1-8v8m10-8v8m12-8v8m5-8v8m1-8v8m3-8v8m10-8v8m3-8v8m1-8v8m4-8v8m5-8v8m1-8v8M985.5 664v8m122-8v8m440-8v8m1-8v8m4-8v8m7-8v8m10-8v8m2-8v8m1-8v8m11-8v8m6-8v8m6-8v8m4-8v8m6-8v8m5-8v8m1-8v8m2-8v8m15-8v8m5-8v8M1443.5 672v8m85-8v8m11-8v8m11-8v8m6-8v8m3-8v8m22-8v8m15-8v8m1-8v8m6-8v8m13-8v8m6-8v8"/>
<path stroke="#DC998D" d="M955.5 40v8m21-8v8m70-8v8m395-8v8m143-8v8M939.5 48v8m34-8v8m13-8v8m520-8v8M1238.5 56v8m1-8v8m69-8v8m1-8v8m6-8v8m1-8v8m59-8v8m18-8v8m40-8v8m1-8v8M999.5 64v8m318-8v8m8-8v8m115-8v8m90-8v8m74-8v8M962.5 72v8m18-8v8m4-8v8m73-8v8m1-8v8m294-8v8m1-8v8M998.5 80v8m171-8v8M950.5 88v8M961.5 96v8m1-8v8m50-8v8m3-8v8m430-8v8m1-8v8m152-8v8M993.5 104v8m4-8v8m99-8v8m1-8v8m405-8v8M955.5 112v8m18-8v8m34-8v8m1-8v8m170-8v8m300-8v8m1-8v8m21-8v8m1-8v8m2-8v8M1029.5 120v8m206-8v8M1104.5 128v8m11-8v8M1033.5 136v8m44-8v8m25-8v8m71-8v8M1050.5 144v8m1-8v8m27-8v8m2-8v8m1-8v8m6-8v8m41-8v8m1-8v8m24-8v8m33-8v8m1-8v8m9-8v8m1-8v8M1076.5 152v8m3-8v8m29-8v8m11-8v8m2-8v8m269-8v8m19-8v8M1489.5 160v8m53-8v8m1-8v8M1017.5 168v8m8-8v8m36-8v8m26-8v8m7-8v8m9-8v8m83-8v8m1-8v8m2-8v8m46-8v8m36-8v8m71-8v8m194-8v8m6-8v8M1033.5 176v8m21-8v8m142-8v8m65-8v8M1051.5 184v8m1-8v8m338-8v8m137-8v8M1046.5 192v8m54-8v8m82-8v8m55-8v8m13-8v8m88-8v8m85-8v8m58-8v8m48-8v8M1104.5 200v8m1-8v8m49-8v8m17-8v8m24-8v8m95-8v8m225-8v8M1107.5 208v8m3-8v8m37-8v8m311-8v8M1285.5 216v8m114-8v8m117-8v8m1-8v8m52-8v8M1001.5 224v8m118-8v8m5-8v8m8-8v8m22-8v8m7-8v8m17-8v8m43-8v8m49-8v8m1-8v8m30-8v8m5-8v8m37-8v8m20-8v8m127-8v8m3-8v8m11-8v8m70-8v8M1089.5 232v8m190-8v8m1-8v8m70-8v8m122-8v8m1-8v8M1064.5 240v8m4-8v8m46-8v8m57-8v8m359-8v8m1-8v8M1159.5 248v8m1-8v8m119-8v8m75-8v8m13-8v8m85-8v8m48-8v8m43-8v8M1030.5 256v8m6-8v8m38-8v8m68-8v8m20-8v8m1-8v8m213-8v8m251-8v8m1-8v8M1083.5 264v8m98-8v8m2-8v8m110-8v8m89-8v8m55-8v8m118-8v8M1193.5 272v8m23-8v8m182-8v8m134-8v8m12-8v8m81-8v8M1203.5 280v8m42-8v8m37-8v8m1-8v8m111-8v8m80-8v8m45-8v8m84-8v8M1127.5 288v8m41-8v8m1-8v8m60-8v8m29-8v8m18-8v8m23-8v8m1-8v8m6-8v8m12-8v8m1-8v8m18-8v8m11-8v8m39-8v8m16-8v8m24-8v8m1-8v8m144-8v8m1-8v8m1-8v8M1138.5 296v8m91-8v8m33-8v8M1235.5 304v8m17-8v8m2-8v8m6-8v8m1-8v8m20-8v8m1-8v8m121-8v8m56-8v8m19-8v8m75-8v8M986.5 312v8m297-8v8m9-8v8m1-8v8m65-8v8m99-8v8m5-8v8m86-8v8m1-8v8M1204.5 320v8m4-8v8m61-8v8m142-8v8m18-8v8m22-8v8m1-8v8m2-8v8m46-8v8m50-8v8m36-8v8m33-8v8m7-8v8M1255.5 328v8m1-8v8m5-8v8m121-8v8m26-8v8m1-8v8m3-8v8m1-8v8m11-8v8m4-8v8m35-8v8m25-8v8m126-8v8M1416.5 336v8m21-8v8m1-8v8M1203.5 344v8m125-8v8m67-8v8m1-8v8m60-8v8m1-8v8M1178.5 352v8m53-8v8m1-8v8m35-8v8m1-8v8m179-8v8m7-8v8m11-8v8m19-8v8m1-8v8m28-8v8M1139.5 360v8m1-8v8m2-8v8m65-8v8m95-8v8m30-8v8m5-8v8m80-8v8m134-8v8m59-8v8m1-8v8M944.5 368v8m382-8v8m4-8v8m58-8v8m12-8v8m57-8v8m5-8v8m1-8v8m13-8v8m1-8v8M1300.5 376v8m1-8v8m70-8v8m35-8v8m4-8v8m1-8v8m139-8v8m73-8v8m1-8v8M1178.5 384v8m109-8v8m10-8v8m65-8v8m6-8v8m54-8v8m74-8v8m1-8v8m65-8v8m35-8v8m6-8v8M1099.5 392v8m1-8v8m185-8v8m1-8v8m18-8v8M1055.5 400v8m40-8v8m1-8v8m201-8v8m5-8v8m8-8v8m39-8v8m126-8v8m9-8v8m46-8v8m79-8v8M1293.5 408v8m13-8v8m16-8v8m1-8v8m102-8v8m6-8v8m9-8v8m5-8v8m89-8v8m1-8v8m81-8v8M1138.5 416v8m285-8v8m10-8v8m68-8v8M993.5 424v8m325-8v8m7-8v8m130-8v8m16-8v8M952.5 432v8m106-8v8m234-8v8m91-8v8m9-8v8m111-8v8m1-8v8m4-8v8m10-8v8m11-8v8M972.5 440v8m341-8v8m1-8v8m88-8v8m52-8v8m1-8v8m49-8v8m90-8v8m28-8v8m8-8v8m1-8v8M1376.5 448v8m6-8v8m35-8v8m43-8v8m19-8v8m51-8v8m1-8v8m47-8v8M1377.5 456v8m177-8v8m23-8v8m55-8v8M1398.5 464v8m1-8v8m18-8v8m22-8v8m1-8v8m33-8v8m1-8v8m17-8v8m1-8v8m21-8v8m13-8v8m71-8v8m9-8v8m1-8v8m5-8v8M1134.5 472v8m88-8v8m180-8v8m14-8v8m123-8v8M1376.5 480v8m61-8v8m56-8v8m79-8v8m55-8v8M1106.5 488v8m79-8v8m26-8v8m27-8v8m26-8v8m96-8v8m19-8v8m37-8v8m52-8v8m71-8v8m1-8v8m45-8v8M1134.5 496v8m1-8v8m84-8v8m154-8v8m28-8v8m9-8v8m10-8v8m37-8v8m43-8v8m27-8v8m49-8v8m17-8v8M1091.5 504v8m7-8v8m226-8v8m65-8v8m23-8v8m37-8v8m6-8v8m1-8v8m24-8v8m104-8v8m41-8v8M1134.5 512v8m150-8v8m20-8v8m90-8v8m15-8v8m7-8v8m2-8v8m1-8v8m1-8v8m19-8v8m1-8v8m86-8v8m30-8v8M1093.5 520v8m1-8v8m296-8v8m54-8v8m1-8v8m96-8v8m1-8v8m58-8v8m31-8v8m1-8v8M988.5 528v8m438-8v8m73-8v8m35-8v8m63-8v8M1080.5 536v8m15-8v8m48-8v8m243-8v8m77-8v8m74-8v8M1071.5 544v8m415-8v8m4-8v8m21-8v8m1-8v8m53-8v8m1-8v8M1048.5 552v8m271-8v8m53-8v8m41-8v8m1-8v8m64-8v8m19-8v8m21-8v8m1-8v8m1-8v8m18-8v8M1198.5 560v8m217-8v8m13-8v8m14-8v8m2-8v8m1-8v8m56-8v8m101-8v8M1153.5 568v8m239-8v8m30-8v8m29-8v8m59-8v8m34-8v8m40-8v8m1-8v8M1096.5 576v8m54-8v8m1-8v8m294-8v8m27-8v8m27-8v8m24-8v8m46-8v8m64-8v8M1256.5 584v8m77-8v8m1-8v8m71-8v8m1-8v8m13-8v8m1-8v8m61-8v8m96-8v8m28-8v8M1362.5 592v8m46-8v8m11-8v8m54-8v8m3-8v8m18-8v8m1-8v8m52-8v8m52-8v8M1280.5 600v8m62-8v8m67-8v8m208-8v8M952.5 608v8m38-8v8m63-8v8m118-8v8m202-8v8m141-8v8m69-8v8M1043.5 616v8m12-8v8m88-8v8M1621.5 624v8M1586.5 632v8m25-8v8m1-8v8m1-8v8M1025.5 640v8m14-8v8M938.5 648v8m515-8v8m1-8v8m23-8v8m37-8v8m33-8v8m35-8v8m11-8v8m6-8v8m17-8v8m9-8v8M1470.5 656v8m107-8v8m31-8v8M1178.5 664v8m383-8v8m32-8v8m1-8v8m24-8v8M1043.5 672v8m536-8v8"/>
<path stroke="#E7907A" d="M957.5 40v8m1-8v8m1-8v8m3-8v8m7-8v8m50-8v8m34-8v8m563-8v8M947.5 48v8m6-8v8m14-8v8m18-8v8m21-8v8m179-8v8m106-8v8m1-8v8M939.5 56v8m3-8v8m19-8v8m1-8v8m47-8v8m1-8v8m1-8v8m1-8v8m7-8v8m200-8v8m201-8v8m1-8v8m2-8v8m94-8v8m36-8v8M944.5 64v8m58-8v8m1-8v8m199-8v8m4-8v8m9-8v8m8-8v8m4-8v8m1-8v8m2-8v8m31-8v8m1-8v8m17-8v8m1-8v8m3-8v8m16-8v8m15-8v8m31-8v8m72-8v8m16-8v8m1-8v8m65-8v8m5-8v8m114-8v8M957.5 72v8m4-8v8m27-8v8m3-8v8m32-8v8m37-8v8m13-8v8m1-8v8m32-8v8m116-8v8m1-8v8m47-8v8m2-8v8m65-8v8m168-8v8m23-8v8m1-8v8M967.5 80v8m15-8v8M936.5 88v8m1-8v8m47-8v8m20-8v8m88-8v8m18-8v8m65-8v8m12-8v8m44-8v8M944.5 96v8m15-8v8m5-8v8m11-8v8m10-8v8m1-8v8m30-8v8m1-8v8m193-8v8m150-8v8m220-8v8m17-8v8M966.5 104v8m21-8v8m57-8v8m57-8v8m91-8v8m76-8v8m149-8v8m1-8v8m41-8v8M940.5 112v8m3-8v8m1-8v8m1-8v8m3-8v8m2-8v8m16-8v8m37-8v8m1-8v8m1-8v8m9-8v8m1-8v8m69-8v8m28-8v8m83-8v8m88-8v8m117-8v8m62-8v8m45-8v8m44-8v8m1-8v8M1039.5 120v8m2-8v8m1-8v8m33-8v8m16-8v8m1-8v8m11-8v8m84-8v8m68-8v8m1-8v8m4-8v8m120-8v8m213-8v8M1028.5 128v8m8-8v8m12-8v8m20-8v8m1-8v8m10-8v8m32-8v8m18-8v8m1-8v8m5-8v8m1-8v8m3-8v8m20-8v8m7-8v8m10-8v8m1-8v8m2-8v8m1-8v8m1-8v8m1-8v8m8-8v8m6-8v8m65-8v8m1-8v8m36-8v8m119-8v8m1-8v8m43-8v8M1037.5 136v8m6-8v8m8-8v8m31-8v8m5-8v8m6-8v8m25-8v8m1-8v8m26-8v8m30-8v8m36-8v8m1-8v8m206-8v8m172-8v8M1024.5 144v8m24-8v8m4-8v8m30-8v8m39-8v8m1-8v8m15-8v8m17-8v8m336-8v8m86-8v8M937.5 152v8m58-8v8m1-8v8m17-8v8m21-8v8m1-8v8m17-8v8m3-8v8m2-8v8m5-8v8m6-8v8m41-8v8m11-8v8m3-8v8m73-8v8m1-8v8m175-8v8m162-8v8M988.5 160v8m69-8v8m17-8v8m31-8v8m154-8v8m232-8v8M942.5 168v8m8-8v8m1-8v8m18-8v8m5-8v8m56-8v8m5-8v8m1-8v8m6-8v8m5-8v8m10-8v8m12-8v8m40-8v8m24-8v8m26-8v8m10-8v8m1-8v8m9-8v8m1-8v8m2-8v8m1-8v8m1-8v8m8-8v8m78-8v8m145-8v8m89-8v8m1-8v8m61-8v8m13-8v8M1039.5 176v8m2-8v8m30-8v8m1-8v8m5-8v8m1-8v8m7-8v8m1-8v8m82-8v8m98-8v8m57-8v8m102-8v8m1-8v8m93-8v8m2-8v8m98-8v8M1063.5 184v8m3-8v8m67-8v8m201-8v8M1044.5 192v8m1-8v8m23-8v8m19-8v8m200-8v8m37-8v8m193-8v8M1042.5 200v8m47-8v8m33-8v8m10-8v8m30-8v8m10-8v8m11-8v8m125-8v8m99-8v8M1113.5 208v8m72-8v8m209-8v8m80-8v8m4-8v8m35-8v8m88-8v8m10-8v8m7-8v8M944.5 216v8m109-8v8m11-8v8m15-8v8m48-8v8m5-8v8m3-8v8m1-8v8m28-8v8m13-8v8m17-8v8m89-8v8m35-8v8m1-8v8m24-8v8m20-8v8m265-8v8m1-8v8M1136.5 224v8m3-8v8m16-8v8m33-8v8m21-8v8m28-8v8m140-8v8m20-8v8m6-8v8m82-8v8m85-8v8m3-8v8m6-8v8m6-8v8m6-8v8m17-8v8m7-8v8m1-8v8m1-8v8m15-8v8M992.5 232v8m88-8v8m58-8v8m1-8v8m19-8v8m257-8v8m59-8v8m1-8v8m10-8v8m70-8v8m1-8v8m30-8v8M1031.5 240v8m53-8v8m24-8v8m13-8v8m9-8v8m3-8v8m17-8v8m14-8v8m77-8v8m33-8v8m127-8v8m28-8v8m1-8v8m115-8v8M1120.5 248v8m18-8v8m32-8v8m1-8v8m19-8v8m3-8v8m34-8v8m132-8v8m143-8v8m21-8v8m80-8v8m3-8v8m22-8v8M1113.5 256v8m4-8v8m13-8v8m9-8v8m1-8v8m21-8v8m28-8v8m2-8v8m145-8v8m13-8v8m217-8v8m29-8v8M1047.5 264v8m43-8v8m44-8v8m6-8v8m10-8v8m9-8v8m6-8v8m1-8v8m8-8v8m11-8v8m1-8v8m157-8v8m1-8v8m41-8v8m3-8v8m65-8v8m4-8v8m16-8v8m7-8v8m50-8v8M1159.5 272v8m1-8v8m21-8v8m121-8v8m1-8v8m128-8v8m3-8v8m39-8v8m1-8v8m104-8v8m9-8v8m21-8v8m1-8v8M1279.5 280v8m1-8v8m62-8v8m1-8v8m94-8v8m152-8v8m1-8v8M1120.5 288v8m194-8v8m31-8v8m31-8v8m40-8v8m214-8v8M1257.5 296v8m21-8v8M961.5 304v8m468-8v8m31-8v8m17-8v8m92-8v8m22-8v8m22-8v8M938.5 312v8m36-8v8m1-8v8m196-8v8m73-8v8m12-8v8m8-8v8m8-8v8m210-8v8m28-8v8m26-8v8m4-8v8m6-8v8m26-8v8m35-8v8m14-8v8m1-8v8M1393.5 320v8m17-8v8m8-8v8m1-8v8m22-8v8m1-8v8m78-8v8m47-8v8M1035.5 328v8m177-8v8m4-8v8m92-8v8m68-8v8m59-8v8m1-8v8m21-8v8m42-8v8m42-8v8m1-8v8m25-8v8m1-8v8M1123.5 336v8m1-8v8m86-8v8m52-8v8m115-8v8m1-8v8m26-8v8m13-8v8m1-8v8m17-8v8m23-8v8m29-8v8m22-8v8m21-8v8m79-8v8M1208.5 344v8m26-8v8m6-8v8m1-8v8m104-8v8M1102.5 352v8m1-8v8m37-8v8m84-8v8m1-8v8m113-8v8m56-8v8m44-8v8m53-8v8m1-8v8m19-8v8m90-8v8m1-8v8m6-8v8M1153.5 360v8m1-8v8m118-8v8m1-8v8m20-8v8m4-8v8m1-8v8m26-8v8m19-8v8m97-8v8m56-8v8m17-8v8m52-8v8m67-8v8M938.5 368v8m50-8v8m44-8v8m58-8v8m9-8v8m112-8v8m86-8v8m8-8v8m3-8v8m1-8v8m60-8v8m2-8v8m96-8v8M1053.5 376v8m33-8v8m114-8v8m31-8v8m1-8v8m73-8v8m16-8v8m1-8v8m26-8v8m6-8v8m6-8v8m1-8v8m131-8v8m9-8v8m6-8v8m54-8v8m65-8v8M970.5 384v8m9-8v8m319-8v8m21-8v8m39-8v8m85-8v8m75-8v8m10-8v8m27-8v8m1-8v8m17-8v8m1-8v8m20-8v8M982.5 392v8m1-8v8m307-8v8m9-8v8m35-8v8m27-8v8m21-8v8m95-8v8m1-8v8m13-8v8m113-8v8M1016.5 400v8m64-8v8m62-8v8m14-8v8m133-8v8m20-8v8m21-8v8m11-8v8m22-8v8m38-8v8m33-8v8m149-8v8m1-8v8m21-8v8m3-8v8M999.5 408v8m217-8v8m1-8v8m79-8v8m8-8v8m4-8v8m13-8v8m4-8v8m87-8v8m6-8v8m62-8v8m50-8v8m15-8v8m4-8v8m5-8v8M1050.5 416v8m51-8v8m1-8v8m185-8v8m7-8v8m9-8v8m27-8v8m3-8v8m22-8v8m1-8v8m30-8v8m10-8v8m10-8v8m1-8v8m39-8v8m178-8v8m2-8v8M1026.5 424v8m197-8v8m1-8v8m81-8v8m1-8v8m6-8v8m24-8v8m4-8v8m5-8v8m12-8v8m13-8v8m219-8v8m30-8v8M1032.5 432v8m286-8v8m9-8v8m7-8v8m1-8v8m43-8v8m52-8v8m1-8v8m64-8v8m15-8v8m11-8v8m1-8v8m3-8v8m17-8v8m1-8v8m50-8v8m26-8v8M990.5 440v8m259-8v8m29-8v8m123-8v8m19-8v8m39-8v8m50-8v8m115-8v8M1262.5 448v8m78-8v8m48-8v8m3-8v8m39-8v8m42-8v8m1-8v8m1-8v8m8-8v8m1-8v8m43-8v8m13-8v8m1-8v8m3-8v8m6-8v8m4-8v8m66-8v8M1438.5 456v8m24-8v8m1-8v8m2-8v8m10-8v8m50-8v8m2-8v8m13-8v8m31-8v8M1063.5 464v8m6-8v8m351-8v8m55-8v8m6-8v8m5-8v8m22-8v8m65-8v8m28-8v8M1392.5 472v8m90-8v8m5-8v8m29-8v8M1394.5 480v8m13-8v8m9-8v8m1-8v8m39-8v8m25-8v8m1-8v8m64-8v8m2-8v8M1034.5 488v8m384-8v8m81-8v8m4-8v8m50-8v8m1-8v8m24-8v8M1056.5 496v8m5-8v8m49-8v8m227-8v8m1-8v8m64-8v8m15-8v8m19-8v8m42-8v8m1-8v8m70-8v8m31-8v8M951.5 504v8m143-8v8m12-8v8m69-8v8m93-8v8m37-8v8m80-8v8m1-8v8m11-8v8m1-8v8m8-8v8m28-8v8m4-8v8m19-8v8m4-8v8m32-8v8m18-8v8m17-8v8m100-8v8m1-8v8M1383.5 512v8m1-8v8m48-8v8m4-8v8m89-8v8m20-8v8M1353.5 520v8m40-8v8m33-8v8m31-8v8m5-8v8m41-8v8m27-8v8m2-8v8m40-8v8m19-8v8m38-8v8M954.5 528v8m256-8v8m1-8v8m4-8v8m1-8v8m180-8v8m1-8v8m91-8v8m15-8v8m1-8v8m47-8v8m11-8v8m27-8v8m15-8v8M991.5 536v8m67-8v8m1-8v8m134-8v8m39-8v8m4-8v8m90-8v8m5-8v8m1-8v8m42-8v8m19-8v8m18-8v8m16-8v8m4-8v8m1-8v8m3-8v8m7-8v8m37-8v8m12-8v8m1-8v8m29-8v8m72-8v8m2-8v8M937.5 544v8m32-8v8m60-8v8m1-8v8m12-8v8m34-8v8m144-8v8m20-8v8m1-8v8m43-8v8m90-8v8m17-8v8m43-8v8m31-8v8m10-8v8m48-8v8m59-8v8m8-8v8M1145.5 552v8m150-8v8m113-8v8m1-8v8m12-8v8m46-8v8m1-8v8m24-8v8m54-8v8M942.5 560v8m37-8v8m137-8v8m30-8v8m17-8v8m58-8v8m99-8v8m43-8v8m24-8v8m7-8v8m41-8v8m56-8v8m1-8v8m15-8v8m23-8v8m41-8v8m28-8v8m1-8v8m27-8v8M1103.5 568v8m1-8v8m297-8v8m26-8v8m13-8v8m1-8v8m65-8v8M1293.5 576v8m12-8v8m163-8v8m22-8v8m17-8v8m1-8v8m10-8v8m1-8v8m84-8v8M941.5 584v8m284-8v8m93-8v8m90-8v8m1-8v8m38-8v8m1-8v8m42-8v8m16-8v8m17-8v8m11-8v8m22-8v8m51-8v8m5-8v8m1-8v8M1195.5 592v8m89-8v8m20-8v8m110-8v8m39-8v8m31-8v8m88-8v8m8-8v8m1-8v8m13-8v8M1038.5 600v8m254-8v8m39-8v8m92-8v8m128-8v8m47-8v8M1080.5 608v8m148-8v8m7-8v8m18-8v8m68-8v8m11-8v8m123-8v8m13-8v8m69-8v8m79-8v8m1-8v8M1002.5 616v8m132-8v8m12-8v8m52-8v8m19-8v8m259-8v8m34-8v8m1-8v8m34-8v8m53-8v8m1-8v8M1491.5 624v8m119-8v8m23-8v8M1205.5 632v8m12-8v8m325-8v8m55-8v8M1485.5 640v8m39-8v8m56-8v8m26-8v8M1024.5 648v8m1-8v8m61-8v8m1-8v8m58-8v8m12-8v8m218-8v8m23-8v8m70-8v8m50-8v8m1-8v8m50-8v8m12-8v8m25-8v8m1-8v8m10-8v8M1011.5 656v8m4-8v8m314-8v8m31-8v8m61-8v8m6-8v8m8-8v8m71-8v8m3-8v8m1-8v8m8-8v8m4-8v8M1200.5 664v8m75-8v8m290-8v8m31-8v8m1-8v8M1248.5 672v8m1-8v8m97-8v8m220-8v8"/>
<path stroke="#F0E4DE" d="M963.5 40v8m39-8v8m7-8v8m83-8v8m12-8v8m19-8v8m9-8v8m56-8v8m15-8v8m71-8v8M942.5 64v8m79-8v8m251-8v8m40-8v8m155-8v8m5-8v8m64-8v8m1-8v8M1013.5 72v8m87-8v8m1-8v8m17-8v8m31-8v8m25-8v8m1-8v8m3-8v8m9-8v8m58-8v8m1-8v8m9-8v8M994.5 80v8M1017.5 88v8m1-8v8m80-8v8m36-8v8m129-8v8M976.5 96v8m271-8v8m42-8v8m14-8v8m51-8v8m5-8v8M968.5 104v8m114-8v8m9-8v8m1-8v8m41-8v8m90-8v8m14-8v8m2-8v8m13-8v8m24-8v8m8-8v8M1077.5 120v8m54-8v8m1-8v8m44-8v8M1089.5 128v8m32-8v8m51-8v8M1151.5 144v8M1026.5 152v8M1041.5 160v8m1-8v8M1042.5 176v8M1140.5 184v8m1-8v8M1365.5 224v8M1120.5 232v8M1151.5 240v8m34-8v8M1118.5 248v8m71-8v8M1179.5 264v8m8-8v8M1131.5 272v8M1501.5 280v8M1409.5 304v8m1-8v8M1438.5 344v8M1251.5 352v8m1-8v8M1317.5 360v8m1-8v8M1342.5 368v8m1-8v8M1127.5 376v8m205-8v8M996.5 392v8m106-8v8m41-8v8m1-8v8m99-8v8m19-8v8m87-8v8m40-8v8m46-8v8m49-8v8m16-8v8m1-8v8m33-8v8m47-8v8m41-8v8M1317.5 400v8M1054.5 408v8m57-8v8m73-8v8m30-8v8m87-8v8m1-8v8M941.5 424v8m64-8v8m91-8v8m58-8v8m29-8v8m168-8v8m63-8v8m22-8v8m121-8v8M936.5 432v8m383-8v8m1-8v8M944.5 496v8m6-8v8m356-8v8m16-8v8M1066.5 504v8m78-8v8m1-8v8M1283.5 520v8m1-8v8m215-8v8m19-8v8M975.5 528v8m206-8v8m53-8v8m75-8v8m143-8v8M1418.5 536v8M1475.5 552v8m12-8v8m36-8v8M987.5 560v8m79-8v8m16-8v8m21-8v8m82-8v8m14-8v8m6-8v8m42-8v8m35-8v8m48-8v8m31-8v8m165-8v8m1-8v8M1470.5 576v8m7-8v8M974.5 600v8m18-8v8m11-8v8m20-8v8m146-8v8m59-8v8m36-8v8m17-8v8m1-8v8m51-8v8m1-8v8m24-8v8m1-8v8m168-8v8M1297.5 656v8m65-8v8m7-8v8m169-8v8m1-8v8"/>
<path stroke="#DEBBB5" d="M965.5 40v8M960.5 48v8m1-8v8m247-8v8m1-8v8M957.5 56v8m37-8v8m12-8v8m317-8v8m92-8v8M1344.5 64v8m71-8v8m132-8v8M1276.5 72v8M1321.5 80v8M952.5 88v8m69-8v8m16-8v8m223-8v8M977.5 96v8M1024.5 104v8m136-8v8m82-8v8m1-8v8M985.5 112v8m173-8v8M1035.5 120v8m27-8v8m47-8v8M1078.5 128v8m54-8v8m61-8v8m59-8v8M1042.5 136v8m53-8v8m8-8v8m51-8v8m12-8v8M1084.5 144v8m106-8v8M1065.5 152v8m27-8v8m10-8v8m271-8v8m102-8v8M986.5 168v8m79-8v8m23-8v8m40-8v8m46-8v8m1-8v8m16-8v8M1093.5 176v8m14-8v8m141-8v8m160-8v8M1023.5 184v8m83-8v8m366-8v8M1082.5 192v8m55-8v8m349-8v8M1127.5 200v8m17-8v8m179-8v8m1-8v8M1125.5 216v8m211-8v8m102-8v8m126-8v8M1047.5 224v8m1-8v8m168-8v8m1-8v8m1-8v8m184-8v8m185-8v8M1175.5 232v8m202-8v8M1416.5 240v8m101-8v8m47-8v8m18-8v8M1254.5 248v8M1144.5 256v8m1-8v8m343-8v8M1151.5 264v8m21-8v8m314-8v8m5-8v8M1137.5 272v8M1218.5 280v8m57-8v8m345-8v8M1238.5 288v8m14-8v8m37-8v8m113-8v8M1163.5 296v8M962.5 304v8m252-8v8M1439.5 312v8M1301.5 320v8m114-8v8m188-8v8m1-8v8M1201.5 336v8M1235.5 344v8m135-8v8m1-8v8m51-8v8m1-8v8m201-8v8M1048.5 352v8m1-8v8m207-8v8m256-8v8M1234.5 360v8M1287.5 368v8m27-8v8m8-8v8m1-8v8m35-8v8M1126.5 376v8m161-8v8m77-8v8M1295.5 384v8m29-8v8m1-8v8m137-8v8m1-8v8M1494.5 392v8M1021.5 400v8m346-8v8m1-8v8M942.5 408v8m445-8v8m60-8v8m1-8v8M1328.5 416v8m231-8v8m28-8v8M993.5 432v8m1-8v8m365-8v8m1-8v8m5-8v8m91-8v8m79-8v8M1234.5 440v8m313-8v8M1234.5 448v8m177-8v8m1-8v8m194-8v8M1454.5 456v8m1-8v8M1611.5 464v8M1075.5 472v8m371-8v8M1007.5 480v8m562-8v8M1471.5 488v8M1405.5 504v8m34-8v8m14-8v8m166-8v8M1385.5 512v8m14-8v8m93-8v8M1328.5 520v8m109-8v8m73-8v8M1400.5 528v8m64-8v8m49-8v8m116-8v8M970.5 536v8m81-8v8m94-8v8m1-8v8M1088.5 544v8m121-8v8m4-8v8m275-8v8m1-8v8M1228.5 560v8m1-8v8m152-8v8m1-8v8m69-8v8m150-8v8m28-8v8M1457.5 568v8m1-8v8m5-8v8M1174.5 576v8m24-8v8m1-8v8m264-8v8m145-8v8M1379.5 584v8M1209.5 592v8m40-8v8m139-8v8M1052.5 600v8m374-8v8m1-8v8M996.5 608v8m73-8v8m128-8v8M1127.5 616v8m3-8v8m1-8v8m159-8v8m266-8v8M1350.5 632v8m153-8v8m84-8v8M1633.5 640v8M939.5 648v8M1388.5 656v8m74-8v8m1-8v8M1444.5 664v8m159-8v8M1295.5 672v8m1-8v8"/>
<path stroke="#E8BBAD" d="M967.5 40v8m6-8v8m11-8v8m77-8v8m159-8v8m87-8v8m296-8v8m1-8v8M975.5 48v8m39-8v8m6-8v8m2-8v8m377-8v8M962.5 64v8m239-8v8m42-8v8m1-8v8m59-8v8m13-8v8m22-8v8m20-8v8m102-8v8m1-8v8m18-8v8m11-8v8m1-8v8m20-8v8M941.5 72v8m1-8v8M958.5 80v8m1-8v8m17-8v8m1-8v8m1-8v8m43-8v8m1-8v8m551-8v8m1-8v8M974.5 88v8m632-8v8M946.5 96v8m45-8v8m22-8v8m185-8v8m340-8v8m52-8v8m1-8v8M937.5 104v8m106-8v8m140-8v8m1-8v8m120-8v8M960.5 112v8m1-8v8m179-8v8m97-8v8m1-8v8M1072.5 120v8m27-8v8m474-8v8M1053.5 128v8m72-8v8m1-8v8M1046.5 136v8m78-8v8m13-8v8m1-8v8m22-8v8m37-8v8M995.5 144v8m66-8v8m49-8v8m58-8v8m25-8v8m317-8v8m114-8v8m1-8v8M1041.5 152v8m30-8v8m6-8v8m7-8v8m22-8v8m24-8v8m10-8v8m9-8v8m209-8v8m43-8v8m6-8v8m159-8v8M1024.5 160v8m14-8v8m1-8v8m15-8v8m232-8v8m15-8v8M947.5 168v8m61-8v8m23-8v8m19-8v8m5-8v8m22-8v8m68-8v8M1185.5 176v8M1025.5 184v8m15-8v8m49-8v8m1-8v8m1-8v8m18-8v8M1145.5 192v8m1-8v8m15-8v8M1278.5 208v8m1-8v8M1020.5 224v8m29-8v8m49-8v8m1-8v8m10-8v8m180-8v8m252-8v8m52-8v8M1132.5 232v8m469-8v8M1110.5 240v8m375-8v8m122-8v8M1114.5 248v8m500-8v8M1116.5 256v8m7-8v8m6-8v8m52-8v8M1116.5 264v8m11-8v8m1-8v8m3-8v8m1-8v8m64-8v8m423-8v8M1138.5 272v8m412-8v8m36-8v8M1449.5 280v8M1264.5 288v8M1236.5 296v8m25-8v8m102-8v8m118-8v8m124-8v8M1227.5 304v8m11-8v8m135-8v8m1-8v8m231-8v8M1435.5 312v8m1-8v8M1361.5 320v8m17-8v8m120-8v8m80-8v8m9-8v8M1373.5 328v8m228-8v8M1544.5 336v8m1-8v8M1188.5 344v8m132-8v8m213-8v8M1277.5 352v8m174-8v8m2-8v8m18-8v8m3-8v8m144-8v8M1105.5 360v8m191-8v8m13-8v8m20-8v8m24-8v8M1299.5 368v8m1-8v8M1228.5 376v8m116-8v8m124-8v8m72-8v8m85-8v8M1243.5 384v8m91-8v8m5-8v8m144-8v8m109-8v8m1-8v8M1060.5 392v8m205-8v8m1-8v8m21-8v8m68-8v8m176-8v8m59-8v8M954.5 400v8m63-8v8m1-8v8m334-8v8m68-8v8m40-8v8m122-8v8M1091.5 408v8m1-8v8m104-8v8m49-8v8m62-8v8m10-8v8m1-8v8m102-8v8M1297.5 416v8m41-8v8m109-8v8m63-8v8m123-8v8M1132.5 424v8m38-8v8m171-8v8m200-8v8M1324.5 432v8m18-8v8m1-8v8m10-8v8m13-8v8M986.5 440v8m146-8v8m69-8v8m264-8v8m72-8v8m47-8v8M1492.5 448v8M1060.5 456v8m450-8v8m1-8v8M1614.5 464v8m1-8v8M1406.5 472v8m84-8v8M1577.5 480v8m1-8v8M1172.5 488v8M1162.5 496v8m34-8v8m329-8v8m28-8v8M1323.5 504v8m198-8v8M1615.5 512v8M1385.5 520v8m57-8v8m1-8v8m27-8v8M1089.5 528v8M979.5 536v8m58-8v8m431-8v8M1496.5 544v8M1418.5 552v8m1-8v8m110-8v8M945.5 560v8m1-8v8m96-8v8m125-8v8m77-8v8m70-8v8m45-8v8m1-8v8m53-8v8m52-8v8m37-8v8m1-8v8M1259.5 568v8m202-8v8m34-8v8m46-8v8M1192.5 576v8m225-8v8m1-8v8m77-8v8m29-8v8m8-8v8m19-8v8M1376.5 584v8m86-8v8m24-8v8M1326.5 592v8m134-8v8m23-8v8M968.5 600v8m8-8v8m1-8v8m47-8v8m211-8v8m116-8v8m163-8v8m22-8v8m1-8v8M1322.5 608v8m1-8v8M1008.5 616v8m1-8v8m115-8v8M1509.5 624v8M1462.5 640v8m35-8v8m125-8v8M1056.5 648v8m439-8v8M1459.5 656v8m167-8v8"/>
<path stroke="#E8DCD7" d="M968.5 40v8m352-8v8m1-8v8M970.5 48v8M1240.5 64v8M1006.5 72v8m236-8v8m29-8v8M970.5 80v8M939.5 88v8M1019.5 96v8m200-8v8m100-8v8m1-8v8m2-8v8M964.5 104v8m1-8v8m271-8v8m214-8v8M991.5 112v8m5-8v8M1079.5 120v8m1-8v8M1045.5 128v8M1032.5 144v8M1023.5 152v8m55-8v8M1087.5 160v8m16-8v8m1-8v8M944.5 168v8m1-8v8m322-8v8M1550.5 176v8M1045.5 184v8m31-8v8m46-8v8m1-8v8M1387.5 216v8M1123.5 240v8m1-8v8m72-8v8M1147.5 256v8M1431.5 288v8M1070.5 328v8M1111.5 376v8m208-8v8M1321.5 384v8M1548.5 392v8m1-8v8m74-8v8M1151.5 400v8m1-8v8M943.5 408v8m34-8v8m57-8v8m38-8v8m65-8v8m45-8v8m1-8v8m16-8v8m43-8v8m91-8v8M947.5 424v8m1-8v8m163-8v8m1-8v8m108-8v8m100-8v8m220-8v8M1477.5 432v8m1-8v8M1468.5 448v8M1600.5 464v8M1532.5 488v8M1108.5 496v8M1138.5 504v8m208-8v8m1-8v8m124-8v8M1307.5 520v8m1-8v8m175-8v8m36-8v8M962.5 528v8m414-8v8m1-8v8m176-8v8M1056.5 560v8m48-8v8m1-8v8m47-8v8m1-8v8m54-8v8m56-8v8M1422.5 584v8M1372.5 592v8M1482.5 656v8m13-8v8"/>
<path stroke="#F0A990" d="M970.5 40v8m13-8v8m34-8v8m25-8v8m151-8v8m78-8v8m1-8v8M936.5 48v8m1-8v8m3-8v8m1-8v8m5-8v8m4-8v8m1-8v8m18-8v8m8-8v8m1-8v8m9-8v8m17-8v8m5-8v8m4-8v8m413-8v8m133-8v8M943.5 56v8m1-8v8m26-8v8m4-8v8m4-8v8m1-8v8m5-8v8m32-8v8m229-8v8m93-8v8m57-8v8M947.5 64v8m69-8v8m182-8v8m22-8v8m13-8v8m40-8v8m19-8v8m1-8v8m1-8v8m34-8v8m4-8v8m17-8v8m6-8v8m1-8v8m1-8v8m3-8v8m2-8v8m4-8v8m2-8v8m38-8v8m41-8v8m35-8v8m56-8v8m1-8v8M938.5 72v8m7-8v8m5-8v8m19-8v8m4-8v8m6-8v8m17-8v8m18-8v8m7-8v8m1-8v8m3-8v8m59-8v8m59-8v8m1-8v8m18-8v8m30-8v8m33-8v8m4-8v8m50-8v8M962.5 80v8m6-8v8m11-8v8m41-8v8m307-8v8m63-8v8m115-8v8M938.5 88v8m3-8v8m22-8v8m10-8v8m25-8v8m1-8v8m13-8v8m52-8v8m87-8v8m324-8v8m1-8v8M973.5 96v8m11-8v8m3-8v8m5-8v8m9-8v8m1-8v8m1-8v8m1-8v8m291-8v8m1-8v8m183-8v8M944.5 104v8m1-8v8m3-8v8m4-8v8m1-8v8m2-8v8m7-8v8m49-8v8m82-8v8m48-8v8m18-8v8m30-8v8m55-8v8m128-8v8m54-8v8M954.5 112v8m9-8v8m1-8v8m20-8v8m6-8v8m40-8v8m22-8v8m167-8v8m1-8v8m73-8v8m43-8v8m135-8v8m86-8v8m64-8v8m1-8v8M957.5 120v8m98-8v8m6-8v8m5-8v8m7-8v8m25-8v8m84-8v8m1-8v8m74-8v8m1-8v8m8-8v8m14-8v8m1-8v8M1005.5 128v8m29-8v8m1-8v8m2-8v8m4-8v8m13-8v8m3-8v8m2-8v8m3-8v8m9-8v8m6-8v8m3-8v8m4-8v8m19-8v8m4-8v8m6-8v8m21-8v8m6-8v8m1-8v8m12-8v8m1-8v8m334-8v8m138-8v8M1074.5 136v8m1-8v8m1-8v8m13-8v8m1-8v8m8-8v8m35-8v8m2-8v8m26-8v8m16-8v8m14-8v8m267-8v8m87-8v8m50-8v8M1033.5 144v8m13-8v8m44-8v8m7-8v8m10-8v8m10-8v8m21-8v8m12-8v8m6-8v8m1-8v8m12-8v8m11-8v8m3-8v8m116-8v8m314-8v8M1047.5 152v8m7-8v8m35-8v8m28-8v8m5-8v8m10-8v8m19-8v8m34-8v8m5-8v8m152-8v8m79-8v8m105-8v8m12-8v8M1026.5 160v8m20-8v8m9-8v8m28-8v8m5-8v8M959.5 168v8m1-8v8m52-8v8m8-8v8m6-8v8m13-8v8m15-8v8m10-8v8m16-8v8m2-8v8m2-8v8m14-8v8m8-8v8m7-8v8m8-8v8m1-8v8m1-8v8m3-8v8m26-8v8m33-8v8m11-8v8M1023.5 176v8m1-8v8m45-8v8m23-8v8m495-8v8M1026.5 184v8m36-8v8m7-8v8m1-8v8m37-8v8m28-8v8M1505.5 192v8M1313.5 200v8m1-8v8m233-8v8M1164.5 208v8m73-8v8m44-8v8m3-8v8m80-8v8m34-8v8M1215.5 216v8m143-8v8m107-8v8m118-8v8M1030.5 224v8m7-8v8m137-8v8m2-8v8m1-8v8m12-8v8m150-8v8m1-8v8m195-8v8m16-8v8m15-8v8m28-8v8m2-8v8m1-8v8m1-8v8M1154.5 232v8m262-8v8M1138.5 240v8m37-8v8m4-8v8m8-8v8m286-8v8M1136.5 248v8m107-8v8m165-8v8m104-8v8m60-8v8m16-8v8M1119.5 256v8m12-8v8m2-8v8m32-8v8m23-8v8m114-8v8m158-8v8m137-8v8M1152.5 264v8m17-8v8m8-8v8m184-8v8m118-8v8m21-8v8m118-8v8M1100.5 272v8m349-8v8m1-8v8m16-8v8M1231.5 280v8m1-8v8m152-8v8m28-8v8m211-8v8M1438.5 288v8M999.5 296v8m270-8v8m13-8v8m153-8v8m136-8v8M1201.5 304v8m1-8v8m229-8v8m68-8v8m50-8v8m81-8v8M1112.5 312v8m1-8v8m118-8v8m1-8v8m226-8v8m19-8v8M1239.5 320v8m63-8v8m1-8v8m46-8v8m123-8v8m1-8v8m11-8v8m23-8v8m26-8v8m1-8v8m56-8v8M1138.5 328v8m220-8v8m69-8v8m33-8v8m6-8v8m1-8v8m7-8v8m7-8v8M1164.5 336v8m212-8v8M956.5 344v8m1-8v8m89-8v8m173-8v8m127-8v8m32-8v8m1-8v8m110-8v8m64-8v8m14-8v8m34-8v8M1239.5 352v8m167-8v8m10-8v8M1069.5 360v8m273-8v8m57-8v8m10-8v8m10-8v8m197-8v8M1182.5 368v8m110-8v8m44-8v8m186-8v8m45-8v8M1017.5 376v8m15-8v8m257-8v8m5-8v8m30-8v8m2-8v8m8-8v8m25-8v8m192-8v8m1-8v8M1285.5 384v8m4-8v8m42-8v8m6-8v8m34-8v8m143-8v8m1-8v8m65-8v8M949.5 392v8m25-8v8m35-8v8m1-8v8m82-8v8m1-8v8m137-8v8m1-8v8m67-8v8m18-8v8m50-8v8m38-8v8m33-8v8m73-8v8m79-8v8M1342.5 400v8m1-8v8m7-8v8m1-8v8m74-8v8m32-8v8m55-8v8m29-8v8m1-8v8M1014.5 408v8m1-8v8m10-8v8m35-8v8m7-8v8m20-8v8m136-8v8m14-8v8m2-8v8m1-8v8m8-8v8m1-8v8m7-8v8m16-8v8m6-8v8m49-8v8m9-8v8m3-8v8m42-8v8m1-8v8m11-8v8m2-8v8m13-8v8m1-8v8m99-8v8M1072.5 416v8m1-8v8m9-8v8m47-8v8m224-8v8m1-8v8m170-8v8m16-8v8m46-8v8M1020.5 424v8m186-8v8m1-8v8m18-8v8m62-8v8m3-8v8m156-8v8m2-8v8m81-8v8M1059.5 432v8m1-8v8m246-8v8m40-8v8m88-8v8m1-8v8m8-8v8m16-8v8m41-8v8M1237.5 440v8m89-8v8m16-8v8m169-8v8m18-8v8m1-8v8M980.5 448v8m465-8v8m60-8v8m1-8v8m73-8v8m1-8v8m48-8v8M1594.5 456v8M1009.5 464v8m1-8v8m245-8v8m211-8v8m30-8v8m36-8v8m6-8v8M1046.5 472v8m1-8v8M957.5 480v8m3-8v8m195-8v8m249-8v8m1-8v8m170-8v8m9-8v8m38-8v8M1103.5 488v8m1-8v8m5-8v8m205-8v8m181-8v8m5-8v8m1-8v8M1037.5 496v8m75-8v8m2-8v8m376-8v8m1-8v8M1262.5 504v8m267-8v8m1-8v8m16-8v8m52-8v8m1-8v8M1479.5 512v8m68-8v8M1165.5 520v8m46-8v8m133-8v8m53-8v8m32-8v8m1-8v8m10-8v8m48-8v8m5-8v8m34-8v8m1-8v8m10-8v8m82-8v8M996.5 528v8m50-8v8m129-8v8m44-8v8m40-8v8m32-8v8m246-8v8m6-8v8M1013.5 536v8m79-8v8m29-8v8m230-8v8m163-8v8M948.5 544v8m218-8v8m49-8v8m1-8v8m7-8v8m32-8v8m1-8v8m24-8v8m33-8v8m37-8v8m53-8v8m107-8v8m26-8v8M1099.5 552v8m121-8v8m308-8v8M936.5 560v8m23-8v8m1-8v8m104-8v8m1-8v8m19-8v8m1-8v8m36-8v8m29-8v8m19-8v8m1-8v8m91-8v8m91-8v8m65-8v8m22-8v8m33-8v8m7-8v8m10-8v8m1-8v8m6-8v8M1481.5 568v8m1-8v8m4-8v8m1-8v8m2-8v8m18-8v8m49-8v8M1317.5 576v8m115-8v8m37-8v8m6-8v8m9-8v8m1-8v8m27-8v8m1-8v8m74-8v8M955.5 584v8m261-8v8m93-8v8m66-8v8m49-8v8m1-8v8m18-8v8m7-8v8m1-8v8m1-8v8m59-8v8m1-8v8m87-8v8m34-8v8M1351.5 592v8m48-8v8m157-8v8M1127.5 600v8m53-8v8m150-8v8m101-8v8m13-8v8m27-8v8M945.5 608v8m11-8v8m70-8v8m1-8v8m453-8v8m101-8v8M964.5 616v8m62-8v8m93-8v8m78-8v8m223-8v8M944.5 632v8m448-8v8m1-8v8M1389.5 640v8m1-8v8m233-8v8M1077.5 648v8m147-8v8m127-8v8m1-8v8m30-8v8m1-8v8m179-8v8m1-8v8M1118.5 656v8m206-8v8m57-8v8m68-8v8m34-8v8m48-8v8M1562.5 664v8m14-8v8m1-8v8M1088.5 672v8m494-8v8"/>
<path stroke="#FAD2BE" d="M971.5 40v8m1-8v8m15-8v8m14-8v8m5-8v8m6-8v8m28-8v8m1-8v8m45-8v8m56-8v8m1-8v8m11-8v8m327-8v8M942.5 48v8m2-8v8m1-8v8m31-8v8m15-8v8m1-8v8M941.5 64v8m7-8v8m6-8v8m1-8v8m30-8v8m22-8v8m227-8v8m2-8v8m1-8v8m78-8v8m14-8v8m1-8v8m39-8v8m1-8v8M970.5 72v8m50-8v8m48-8v8m80-8v8m29-8v8m57-8v8m35-8v8m106-8v8m33-8v8M941.5 80v8m13-8v8m6-8v8m1-8v8m376-8v8m293-8v8M945.5 88v8m35-8v8m15-8v8m10-8v8m17-8v8M983.5 96v8m223-8v8m8-8v8m1-8v8m26-8v8m36-8v8m1-8v8m27-8v8m1-8v8m15-8v8m20-8v8m2-8v8m1-8v8m148-8v8M936.5 104v8m73-8v8m25-8v8m71-8v8m9-8v8m4-8v8m5-8v8m1-8v8m5-8v8m56-8v8m10-8v8m15-8v8m6-8v8m4-8v8m8-8v8m7-8v8m39-8v8M995.5 112v8m5-8v8m210-8v8M1048.5 120v8m3-8v8m30-8v8m1-8v8m2-8v8m1-8v8m4-8v8M1025.5 128v8m1-8v8m4-8v8m17-8v8m19-8v8m56-8v8m1-8v8m32-8v8m12-8v8m1-8v8m3-8v8m12-8v8m40-8v8M1050.5 136v8m6-8v8m1-8v8m90-8v8m10-8v8M1085.5 144v8m1-8v8m9-8v8m3-8v8m2-8v8m26-8v8M1053.5 152v8m41-8v8m1-8v8m36-8v8m273-8v8m47-8v8m1-8v8M1092.5 160v8m1-8v8m16-8v8m109-8v8m112-8v8M952.5 168v8m16-8v8m2-8v8m109-8v8m6-8v8m32-8v8m38-8v8m142-8v8M1032.5 176v8m49-8v8m3-8v8M1060.5 184v8m18-8v8m1-8v8m23-8v8m37-8v8m33-8v8M1250.5 200v8m1-8v8m187-8v8M980.5 224v8m47-8v8m504-8v8M1136.5 232v8m278-8v8M1019.5 240v8m128-8v8m46-8v8m1-8v8M1143.5 248v8m133-8v8M1183.5 256v8m173-8v8m146-8v8M1167.5 264v8m17-8v8M1361.5 272v8M1297.5 288v8m1-8v8m43-8v8m59-8v8m62-8v8M1431.5 312v8M1151.5 328v8M1412.5 336v8M1546.5 344v8M1241.5 352v8m45-8v8m131-8v8M1300.5 360v8m7-8v8m3-8v8m36-8v8m20-8v8M1286.5 368v8m18-8v8m53-8v8m27-8v8m28-8v8M1260.5 376v8m87-8v8M1306.5 384v8m50-8v8M1044.5 392v8m43-8v8m134-8v8m4-8v8m96-8v8m1-8v8m25-8v8m20-8v8m1-8v8m54-8v8m6-8v8m51-8v8m8-8v8m1-8v8m55-8v8m44-8v8m19-8v8m1-8v8M1312.5 400v8m1-8v8M937.5 408v8m45-8v8m1-8v8m20-8v8m4-8v8m33-8v8m62-8v8m1-8v8m97-8v8m1-8v8m49-8v8m5-8v8m50-8v8m9-8v8m12-8v8M1301.5 416v8m1-8v8m22-8v8m1-8v8m42-8v8m1-8v8m13-8v8M950.5 424v8m1-8v8m21-8v8m69-8v8m18-8v8m1-8v8m67-8v8m54-8v8m46-8v8m119-8v8m1-8v8m9-8v8m28-8v8m1-8v8m228-8v8M1310.5 432v8M1189.5 440v8m188-8v8M1149.5 448v8m388-8v8m1-8v8M1514.5 456v8M1562.5 464v8M1019.5 480v8M1335.5 488v8m1-8v8M1091.5 496v8m25-8v8m115-8v8m66-8v8m52-8v8M988.5 504v8m249-8v8m226-8v8M1230.5 520v8m105-8v8m7-8v8m19-8v8m1-8v8m268-8v8M943.5 528v8m24-8v8m151-8v8m136-8v8m7-8v8M1196.5 536v8m285-8v8m2-8v8m36-8v8M1414.5 544v8M1490.5 552v8m6-8v8m10-8v8m10-8v8m1-8v8m17-8v8m6-8v8M1013.5 560v8m7-8v8m30-8v8m1-8v8m27-8v8m34-8v8m50-8v8m34-8v8m56-8v8m71-8v8m55-8v8m58-8v8M1462.5 568v8m10-8v8M1144.5 576v8m119-8v8m94-8v8m52-8v8m55-8v8m1-8v8m15-8v8m1-8v8M1244.5 584v8m1-8v8m231-8v8M1591.5 592v8M955.5 600v8m16-8v8m12-8v8m98-8v8m1-8v8m16-8v8m118-8v8m120-8v8m114-8v8m10-8v8m12-8v8m1-8v8m52-8v8M1163.5 608v8m1-8v8M1186.5 616v8M947.5 648v8M1302.5 656v8m24-8v8m15-8v8m1-8v8m3-8v8m2-8v8m1-8v8m8-8v8m3-8v8m8-8v8m1-8v8m22-8v8m4-8v8m2-8v8m14-8v8m8-8v8m16-8v8m2-8v8m44-8v8m28-8v8m9-8v8m28-8v8M1342.5 664v8"/>
<path stroke="#D6604D" d="M988.5 40v8m382-8v8m1-8v8m130-8v8M968.5 48v8m262-8v8m147-8v8m9-8v8M948.5 56v8m6-8v8m46-8v8m302-8v8m25-8v8m194-8v8m71-8v8m6-8v8m1-8v8M1022.5 64v8m317-8v8m92-8v8m32-8v8m21-8v8m1-8v8m41-8v8m17-8v8M947.5 72v8m613-8v8M956.5 80v8m1-8v8m214-8v8m121-8v8m46-8v8m109-8v8m68-8v8M944.5 88v8m4-8v8m103-8v8m102-8v8m254-8v8m13-8v8m49-8v8m49-8v8m45-8v8m1-8v8M940.5 96v8m7-8v8m1-8v8m40-8v8m7-8v8m1-8v8m174-8v8M1017.5 104v8m188-8v8m13-8v8m177-8v8m96-8v8M947.5 112v8m25-8v8m16-8v8m1-8v8m217-8v8m93-8v8m22-8v8m44-8v8M1278.5 120v8m320-8v8M1085.5 128v8m99-8v8m13-8v8m174-8v8m228-8v8M971.5 136v8m53-8v8m1-8v8m86-8v8m75-8v8m310-8v8m23-8v8M1071.5 144v8m1-8v8m21-8v8m23-8v8M1043.5 152v8m113-8v8m1-8v8m227-8v8m99-8v8m143-8v8M987.5 160v8m88-8v8m1-8v8m19-8v8m1-8v8m69-8v8m247-8v8m86-8v8m131-8v8M1027.5 168v8m89-8v8m4-8v8m7-8v8m4-8v8m6-8v8m1-8v8m1-8v8m26-8v8m1-8v8m37-8v8m149-8v8M1066.5 176v8m75-8v8m28-8v8m58-8v8m114-8v8m242-8v8M1087.5 184v8m1-8v8M1048.5 192v8m1-8v8m14-8v8m14-8v8M964.5 200v8m164-8v8m2-8v8m20-8v8m2-8v8m1-8v8m10-8v8m10-8v8m16-8v8m12-8v8m14-8v8m218-8v8M1060.5 208v8m52-8v8m11-8v8m9-8v8m3-8v8m1-8v8m13-8v8m1-8v8m10-8v8m5-8v8m16-8v8m1-8v8m93-8v8m16-8v8m11-8v8m300-8v8m1-8v8M1080.5 216v8m19-8v8m23-8v8m7-8v8m8-8v8m14-8v8m1-8v8m2-8v8m1-8v8m7-8v8m3-8v8m27-8v8m1-8v8m26-8v8m111-8v8m1-8v8m60-8v8m1-8v8m15-8v8m56-8v8m1-8v8m81-8v8m2-8v8m55-8v8M1063.5 224v8m1-8v8m46-8v8m5-8v8m14-8v8m13-8v8m21-8v8m22-8v8m1-8v8m11-8v8m25-8v8m20-8v8m25-8v8m7-8v8m1-8v8m38-8v8m8-8v8m48-8v8m3-8v8m75-8v8m14-8v8m12-8v8m1-8v8m31-8v8m14-8v8m33-8v8m23-8v8m1-8v8m2-8v8m4-8v8m8-8v8m29-8v8m3-8v8m6-8v8M962.5 232v8m93-8v8m45-8v8m1-8v8m9-8v8m36-8v8m239-8v8m149-8v8m48-8v8m8-8v8M1170.5 240v8m18-8v8m7-8v8m41-8v8m144-8v8m7-8v8m91-8v8m6-8v8m2-8v8m1-8v8m59-8v8M1121.5 248v8m16-8v8m78-8v8m44-8v8m133-8v8m90-8v8m46-8v8m1-8v8m10-8v8m1-8v8m25-8v8m34-8v8M1132.5 256v8m16-8v8m8-8v8m18-8v8m336-8v8m28-8v8m15-8v8m1-8v8m38-8v8M1057.5 264v8m13-8v8m34-8v8m11-8v8m61-8v8m19-8v8m97-8v8m33-8v8m66-8v8m80-8v8m1-8v8m22-8v8m27-8v8m1-8v8m54-8v8m3-8v8M1011.5 272v8m27-8v8m77-8v8m1-8v8m14-8v8m23-8v8m1-8v8m1-8v8m28-8v8m7-8v8m377-8v8m1-8v8m9-8v8m13-8v8m41-8v8M1201.5 280v8m1-8v8m24-8v8m27-8v8m7-8v8m31-8v8m37-8v8m16-8v8m188-8v8M1117.5 288v8m44-8v8m39-8v8m3-8v8m14-8v8m3-8v8m53-8v8m21-8v8m2-8v8m7-8v8m37-8v8m6-8v8m1-8v8m11-8v8m23-8v8m1-8v8m54-8v8m3-8v8m1-8v8m16-8v8m43-8v8m1-8v8m7-8v8M1203.5 296v8m4-8v8m8-8v8m10-8v8m1-8v8m22-8v8m4-8v8m4-8v8m29-8v8m47-8v8m5-8v8m68-8v8M1169.5 304v8m36-8v8m1-8v8m18-8v8m1-8v8m8-8v8m1-8v8m3-8v8m36-8v8m123-8v8m56-8v8m3-8v8m171-8v8M1020.5 312v8m192-8v8m1-8v8m2-8v8m6-8v8m5-8v8m4-8v8m4-8v8m12-8v8m1-8v8m14-8v8m10-8v8m10-8v8m82-8v8m1-8v8m89-8v8m18-8v8M1199.5 320v8m1-8v8m3-8v8m4-8v8m16-8v8m26-8v8m11-8v8m1-8v8m13-8v8m1-8v8m102-8v8m17-8v8m34-8v8m3-8v8m29-8v8m28-8v8m33-8v8m2-8v8M999.5 328v8m92-8v8m117-8v8m20-8v8m2-8v8m2-8v8m10-8v8m7-8v8m128-8v8m34-8v8m44-8v8m6-8v8m18-8v8m1-8v8m31-8v8m2-8v8m59-8v8m16-8v8m1-8v8m23-8v8m10-8v8M1199.5 336v8m1-8v8m4-8v8m2-8v8m2-8v8m8-8v8m10-8v8m1-8v8m8-8v8m3-8v8m4-8v8m1-8v8m13-8v8m3-8v8m2-8v8m19-8v8m1-8v8m91-8v8m8-8v8m1-8v8m5-8v8m5-8v8m5-8v8m3-8v8m1-8v8m2-8v8m6-8v8m1-8v8m1-8v8m1-8v8m22-8v8m1-8v8m7-8v8m10-8v8m63-8v8m77-8v8M1031.5 344v8m53-8v8m25-8v8m91-8v8m17-8v8m28-8v8m10-8v8m11-8v8m6-8v8m10-8v8m106-8v8m46-8v8m16-8v8m1-8v8m2-8v8m1-8v8m1-8v8m3-8v8m56-8v8m1-8v8m100-8v8m1-8v8m10-8v8m2-8v8M1203.5 352v8m17-8v8m185-8v8m2-8v8m11-8v8m97-8v8m19-8v8m1-8v8M1125.5 360v8m62-8v8m141-8v8m99-8v8m16-8v8M979.5 368v8m42-8v8m1-8v8m18-8v8m1-8v8m9-8v8m126-8v8m114-8v8m1-8v8m69-8v8m22-8v8m32-8v8m44-8v8m6-8v8m4-8v8m21-8v8m25-8v8m10-8v8m32-8v8m29-8v8M976.5 376v8m26-8v8m7-8v8m1-8v8m49-8v8m84-8v8m174-8v8m8-8v8m117-8v8m38-8v8m1-8v8m19-8v8m86-8v8m42-8v8m4-8v8m1-8v8M1048.5 384v8m1-8v8m55-8v8m207-8v8m21-8v8m1-8v8m15-8v8m1-8v8m33-8v8M978.5 392v8m1-8v8m45-8v8m1-8v8m85-8v8m24-8v8m100-8v8m112-8v8m2-8v8m5-8v8m55-8v8m197-8v8M1042.5 400v8m72-8v8m1-8v8m26-8v8m13-8v8m1-8v8m28-8v8m213-8v8m1-8v8m11-8v8m71-8v8m76-8v8m59-8v8m6-8v8M971.5 408v8m143-8v8m19-8v8m2-8v8m1-8v8m145-8v8m28-8v8m64-8v8m10-8v8m1-8v8m4-8v8m16-8v8m1-8v8m10-8v8m24-8v8m14-8v8m1-8v8m2-8v8m36-8v8m10-8v8m39-8v8m5-8v8m7-8v8M1057.5 416v8m1-8v8m17-8v8m9-8v8m68-8v8m34-8v8m121-8v8m1-8v8m38-8v8m13-8v8m1-8v8m89-8v8m65-8v8m32-8v8m42-8v8m23-8v8m20-8v8M1294.5 424v8m13-8v8m1-8v8m42-8v8m4-8v8m6-8v8m1-8v8m143-8v8M996.5 432v8m12-8v8m12-8v8m61-8v8m240-8v8m1-8v8m41-8v8m43-8v8m67-8v8m46-8v8m8-8v8m11-8v8M1049.5 440v8m66-8v8m115-8v8m76-8v8m1-8v8m5-8v8m29-8v8m18-8v8m13-8v8m7-8v8m2-8v8m16-8v8m1-8v8m5-8v8m6-8v8m7-8v8m12-8v8m1-8v8m8-8v8m10-8v8m15-8v8m8-8v8m18-8v8m4-8v8m1-8v8m15-8v8m14-8v8m58-8v8M1057.5 448v8m121-8v8m106-8v8m91-8v8m8-8v8m12-8v8m28-8v8m1-8v8m2-8v8m17-8v8m1-8v8m5-8v8m1-8v8m5-8v8m25-8v8m4-8v8m9-8v8m3-8v8m1-8v8m4-8v8m2-8v8m6-8v8m1-8v8m1-8v8m2-8v8m1-8v8m5-8v8m9-8v8m14-8v8m49-8v8m23-8v8m16-8v8m1-8v8M1184.5 456v8m99-8v8m119-8v8m9-8v8m1-8v8m3-8v8m1-8v8m1-8v8m1-8v8m4-8v8m8-8v8m6-8v8m1-8v8m27-8v8m40-8v8m1-8v8m8-8v8m18-8v8m78-8v8M1385.5 464v8m7-8v8m1-8v8m1-8v8m3-8v8m12-8v8m6-8v8m3-8v8m7-8v8m3-8v8m1-8v8m3-8v8m11-8v8m60-8v8m1-8v8m26-8v8m14-8v8m1-8v8m18-8v8m1-8v8m27-8v8M1384.5 472v8m11-8v8m12-8v8m1-8v8m9-8v8m34-8v8m3-8v8m1-8v8m25-8v8m4-8v8m33-8v8m1-8v8m67-8v8M944.5 480v8m457-8v8m27-8v8m1-8v8m15-8v8m57-8v8m19-8v8m15-8v8m1-8v8m22-8v8m2-8v8m11-8v8m20-8v8m21-8v8M1214.5 488v8m32-8v8m10-8v8m62-8v8m79-8v8m1-8v8m12-8v8m5-8v8m12-8v8m1-8v8m2-8v8m12-8v8m2-8v8m2-8v8m1-8v8m12-8v8m26-8v8m1-8v8m34-8v8m1-8v8m73-8v8M1055.5 496v8m163-8v8m70-8v8m65-8v8m19-8v8m2-8v8m1-8v8m4-8v8m8-8v8m4-8v8m8-8v8m1-8v8m4-8v8m7-8v8m1-8v8m36-8v8m68-8v8M1006.5 504v8m68-8v8m132-8v8m104-8v8m70-8v8m4-8v8m16-8v8m15-8v8m11-8v8m1-8v8m8-8v8m1-8v8m22-8v8m9-8v8m11-8v8m9-8v8m7-8v8m10-8v8m13-8v8m6-8v8m9-8v8m1-8v8m36-8v8m13-8v8M954.5 512v8m31-8v8m204-8v8m218-8v8m1-8v8m3-8v8m2-8v8m4-8v8m4-8v8m8-8v8m8-8v8m15-8v8m7-8v8m17-8v8m6-8v8m2-8v8m39-8v8m11-8v8m1-8v8M1020.5 520v8m164-8v8m152-8v8m41-8v8m18-8v8m5-8v8m6-8v8m1-8v8m18-8v8m8-8v8m19-8v8m29-8v8m25-8v8m42-8v8m54-8v8M938.5 528v8m441-8v8m1-8v8m40-8v8m13-8v8m1-8v8m13-8v8m20-8v8m2-8v8m9-8v8m1-8v8m11-8v8m6-8v8m14-8v8m21-8v8m4-8v8m3-8v8m1-8v8m18-8v8m1-8v8m11-8v8m1-8v8m21-8v8M963.5 536v8m3-8v8m57-8v8m139-8v8m14-8v8m1-8v8m4-8v8m37-8v8m1-8v8m38-8v8m1-8v8m18-8v8m111-8v8m17-8v8m54-8v8m1-8v8m39-8v8m14-8v8m1-8v8m5-8v8m4-8v8m75-8v8m30-8v8m1-8v8M1210.5 544v8m21-8v8m37-8v8m30-8v8m85-8v8m12-8v8m23-8v8m1-8v8m12-8v8m7-8v8m16-8v8m19-8v8m3-8v8m4-8v8m1-8v8m25-8v8m14-8v8m12-8v8m1-8v8m59-8v8m5-8v8m12-8v8m1-8v8m20-8v8M1094.5 552v8m18-8v8m271-8v8m11-8v8m3-8v8m27-8v8m1-8v8m2-8v8m13-8v8m23-8v8m101-8v8m11-8v8m6-8v8m18-8v8M1174.5 560v8m1-8v8m200-8v8m9-8v8m1-8v8m11-8v8m28-8v8m6-8v8m2-8v8m1-8v8m1-8v8m24-8v8m1-8v8m25-8v8m2-8v8m7-8v8m4-8v8m2-8v8m9-8v8m4-8v8m3-8v8m2-8v8m1-8v8m59-8v8m44-8v8M1237.5 568v8m142-8v8m4-8v8m24-8v8m23-8v8m2-8v8m1-8v8m1-8v8m5-8v8m3-8v8m3-8v8m7-8v8m18-8v8m5-8v8m76-8v8m26-8v8m1-8v8M1339.5 576v8m1-8v8m41-8v8m3-8v8m2-8v8m16-8v8m12-8v8m5-8v8m10-8v8m13-8v8m1-8v8m15-8v8m1-8v8m51-8v8m23-8v8m1-8v8m32-8v8m22-8v8M1000.5 584v8m1-8v8m37-8v8m343-8v8m12-8v8m1-8v8m24-8v8m3-8v8m19-8v8m1-8v8m1-8v8m67-8v8m6-8v8m36-8v8m49-8v8M1315.5 592v8m59-8v8m15-8v8m1-8v8m6-8v8m1-8v8m3-8v8m1-8v8m20-8v8m5-8v8m10-8v8m11-8v8m1-8v8m3-8v8m5-8v8m1-8v8m9-8v8m40-8v8m1-8v8m25-8v8m10-8v8m4-8v8m20-8v8M978.5 600v8m162-8v8m1-8v8m86-8v8m289-8v8m46-8v8m23-8v8m14-8v8m10-8v8m1-8v8M1090.5 608v8m194-8v8m12-8v8m31-8v8m138-8v8m42-8v8m36-8v8m18-8v8m19-8v8m27-8v8m1-8v8m2-8v8m18-8v8M990.5 616v8m66-8v8m57-8v8m107-8v8m1-8v8m142-8v8m174-8v8m18-8v8m10-8v8m1-8v8m8-8v8m1-8v8m9-8v8m6-8v8m4-8v8m11-8v8m15-8v8m2-8v8m4-8v8M1049.5 624v8m523-8v8m14-8v8m42-8v8M1321.5 632v8m113-8v8m109-8v8m1-8v8m5-8v8m1-8v8m11-8v8m1-8v8m5-8v8m53-8v8m1-8v8M1548.5 640v8m12-8v8m1-8v8m47-8v8M957.5 648v8m97-8v8m20-8v8m86-8v8m104-8v8m5-8v8m17-8v8m41-8v8m5-8v8m24-8v8m62-8v8m1-8v8m71-8v8m36-8v8m41-8v8m1-8v8m9-8v8m18-8v8m10-8v8m8-8v8M1380.5 656v8m119-8v8m73-8v8m1-8v8m1-8v8m7-8v8m15-8v8m10-8v8m4-8v8m18-8v8M969.5 664v8m361-8v8m1-8v8m135-8v8m73-8v8m16-8v8m1-8v8m25-8v8m3-8v8m2-8v8m1-8v8m5-8v8m8-8v8m1-8v8m3-8v8m11-8v8m6-8v8m1-8v8m5-8v8m3-8v8m1-8v8m1-8v8M1236.5 672v8m9-8v8m206-8v8m1-8v8m100-8v8m15-8v8m51-8v8m6-8v8m7-8v8"/>
<path stroke="#E6EEF3" d="M996.5 40v8m1-8v8m13-8v8m4-8v8m1-8v8m42-8v8m1-8v8m18-8v8m11-8v8m2-8v8m1-8v8m12-8v8m12-8v8m6-8v8m1-8v8m4-8v8m20-8v8m18-8v8m1-8v8m6-8v8m17-8v8m4-8v8m4-8v8m26-8v8m3-8v8m19-8v8m11-8v8m30-8v8m118-8v8m45-8v8m61-8v8m1-8v8m6-8v8m54-8v8M946.5 64v8m6-8v8m13-8v8m6-8v8m13-8v8m16-8v8m5-8v8M1039.5 72v8m8-8v8m47-8v8m1-8v8m10-8v8m4-8v8m12-8v8m15-8v8m5-8v8m5-8v8m1-8v8m24-8v8m5-8v8m6-8v8m4-8v8m4-8v8m1-8v8m7-8v8m1-8v8m6-8v8m6-8v8m38-8v8m1-8v8m6-8v8m3-8v8m30-8v8m1-8v8m20-8v8m17-8v8m30-8v8m120-8v8m1-8v8m12-8v8m58-8v8m42-8v8M1012.5 80v8m585-8v8m14-8v8M1002.5 88v8m6-8v8m2-8v8m13-8v8m11-8v8m14-8v8m17-8v8m10-8v8m1-8v8m12-8v8m60-8v8m9-8v8m13-8v8m40-8v8m1-8v8m1-8v8m6-8v8m23-8v8m1-8v8m6-8v8m9-8v8m17-8v8m185-8v8M978.5 96v8m19-8v8m13-8v8m194-8v8m1-8v8m12-8v8m1-8v8m6-8v8m3-8v8m2-8v8m1-8v8m2-8v8m16-8v8m15-8v8m5-8v8m26-8v8m15-8v8m20-8v8m2-8v8m19-8v8m3-8v8m2-8v8m1-8v8M946.5 104v8m79-8v8m24-8v8m1-8v8m1-8v8m17-8v8m2-8v8m17-8v8m26-8v8m31-8v8m23-8v8m1-8v8m5-8v8m6-8v8m21-8v8m1-8v8m7-8v8m1-8v8m10-8v8m32-8v8m3-8v8m43-8v8m81-8v8m1-8v8m17-8v8m9-8v8m9-8v8m56-8v8m20-8v8m43-8v8m27-8v8m43-8v8M1129.5 120v8m24-8v8m1-8v8m30-8v8M1146.5 136v8M939.5 152v8m1-8v8m3-8v8m8-8v8m2-8v8m27-8v8m5-8v8m36-8v8m37-8v8m1-8v8m1-8v8m38-8v8m73-8v8M1089.5 160v8m34-8v8m7-8v8m6-8v8m1-8v8m18-8v8m8-8v8m4-8v8m1-8v8m13-8v8m4-8v8m5-8v8m1-8v8M982.5 168v8M1056.5 176v8m19-8v8m14-8v8m8-8v8m16-8v8m10-8v8m2-8v8m3-8v8m10-8v8m11-8v8m1-8v8m1-8v8m10-8v8m11-8v8m18-8v8m2-8v8m5-8v8M1028.5 184v8m1-8v8m1-8v8m34-8v8m8-8v8m38-8v8m3-8v8m3-8v8m1-8v8m30-8v8m20-8v8m14-8v8m1-8v8M1121.5 224v8m109-8v8m95-8v8m1-8v8m30-8v8M1174.5 240v8M1124.5 248v8m2-8v8m20-8v8m15-8v8m1-8v8m1-8v8m20-8v8M1133.5 264v8m42-8v8M1317.5 288v8M1268.5 312v8M1471.5 328v8M1321.5 360v8m30-8v8M1295.5 368v8m22-8v8m11-8v8m6-8v8m6-8v8M1329.5 376v8M992.5 384v8m309-8v8M941.5 392v8m10-8v8m1-8v8m8-8v8m3-8v8m36-8v8m1-8v8m1-8v8m1-8v8m9-8v8m1-8v8m4-8v8m16-8v8m10-8v8m4-8v8m5-8v8m13-8v8m10-8v8m5-8v8m26-8v8m1-8v8m12-8v8m1-8v8m7-8v8m4-8v8m48-8v8m7-8v8m1-8v8m1-8v8m3-8v8m4-8v8m7-8v8m5-8v8m1-8v8m31-8v8m6-8v8m17-8v8m2-8v8m28-8v8m86-8v8m6-8v8m22-8v8m8-8v8m29-8v8m1-8v8m59-8v8m9-8v8m1-8v8m1-8v8m31-8v8m3-8v8m12-8v8m1-8v8m24-8v8m1-8v8m32-8v8m1-8v8M957.5 408v8m5-8v8m1-8v8m6-8v8m10-8v8m6-8v8m1-8v8m5-8v8m1-8v8m1-8v8m20-8v8m39-8v8m1-8v8m26-8v8m27-8v8m2-8v8m24-8v8m22-8v8m4-8v8m40-8v8m9-8v8m21-8v8m4-8v8m41-8v8m2-8v8m17-8v8m21-8v8m15-8v8M1316.5 416v8m19-8v8M940.5 424v8m3-8v8m2-8v8m1-8v8m9-8v8m3-8v8m3-8v8m7-8v8m1-8v8m20-8v8m1-8v8m17-8v8m32-8v8m5-8v8m21-8v8m3-8v8m15-8v8m12-8v8m18-8v8m9-8v8m2-8v8m4-8v8m10-8v8m3-8v8m2-8v8m1-8v8m5-8v8m3-8v8m1-8v8m23-8v8m8-8v8m4-8v8m5-8v8m6-8v8m3-8v8m13-8v8m3-8v8m10-8v8m1-8v8m26-8v8m3-8v8m1-8v8m2-8v8m1-8v8m54-8v8m1-8v8m4-8v8m47-8v8m1-8v8m3-8v8m1-8v8m1-8v8m7-8v8m2-8v8m19-8v8m1-8v8m6-8v8m4-8v8m3-8v8m1-8v8m25-8v8m1-8v8m19-8v8m15-8v8m7-8v8m1-8v8m17-8v8m12-8v8m20-8v8m29-8v8m28-8v8m3-8v8m15-8v8m9-8v8m12-8v8M1288.5 432v8m10-8v8m59-8v8M1498.5 440v8m1-8v8M943.5 496v8m20-8v8m8-8v8m4-8v8m1-8v8m21-8v8m2-8v8m5-8v8m4-8v8m1-8v8m16-8v8m41-8v8m7-8v8m2-8v8m8-8v8m11-8v8m6-8v8m9-8v8m13-8v8m2-8v8m4-8v8m1-8v8m24-8v8m12-8v8m22-8v8m11-8v8m1-8v8m1-8v8m1-8v8m32-8v8m6-8v8m1-8v8m6-8v8m1-8v8m1-8v8m16-8v8m1-8v8m1-8v8m1-8v8m10-8v8m1-8v8m16-8v8m6-8v8m10-8v8m6-8v8m7-8v8m4-8v8m1-8v8m1-8v8m1-8v8m5-8v8m7-8v8m1-8v8m9-8v8M985.5 504v8m5-8v8m3-8v8m7-8v8m1-8v8m1-8v8m1-8v8m12-8v8m4-8v8m1-8v8m5-8v8m4-8v8m2-8v8m1-8v8m1-8v8m3-8v8m6-8v8m6-8v8m1-8v8m9-8v8m1-8v8m8-8v8m13-8v8m38-8v8m7-8v8m11-8v8m1-8v8m16-8v8m13-8v8m4-8v8m1-8v8m11-8v8m1-8v8m2-8v8m16-8v8m7-8v8m14-8v8m2-8v8m22-8v8m1-8v8m3-8v8m1-8v8m14-8v8m16-8v8m15-8v8m5-8v8m1-8v8m9-8v8m30-8v8m1-8v8m1-8v8m1-8v8m4-8v8m6-8v8m1-8v8m9-8v8M959.5 520v8m1-8v8m62-8v8m22-8v8m38-8v8m1-8v8m5-8v8m31-8v8m1-8v8m82-8v8m3-8v8m1-8v8m22-8v8m4-8v8m1-8v8m1-8v8m3-8v8m36-8v8m12-8v8m2-8v8m1-8v8m23-8v8m6-8v8m4-8v8m29-8v8m4-8v8m119-8v8m21-8v8m1-8v8M945.5 528v8m2-8v8m3-8v8m1-8v8m13-8v8m12-8v8m1-8v8m4-8v8m23-8v8m29-8v8m11-8v8m1-8v8m10-8v8m5-8v8m31-8v8m17-8v8m8-8v8m5-8v8m6-8v8m5-8v8m24-8v8m6-8v8m1-8v8m6-8v8m10-8v8m11-8v8m4-8v8m1-8v8m33-8v8m12-8v8m1-8v8m12-8v8m13-8v8m1-8v8m16-8v8m59-8v8m1-8v8m2-8v8m20-8v8m40-8v8M1382.5 536v8M1417.5 544v8m87-8v8m14-8v8m1-8v8M1102.5 552v8m132-8v8m1-8v8m195-8v8m63-8v8m31-8v8M937.5 560v8m6-8v8m1-8v8m34-8v8m21-8v8m1-8v8m1-8v8m4-8v8m27-8v8m1-8v8m5-8v8m57-8v8m3-8v8m1-8v8m30-8v8m1-8v8m5-8v8m3-8v8m11-8v8m24-8v8m13-8v8m8-8v8m3-8v8m4-8v8m17-8v8m9-8v8m4-8v8m11-8v8m16-8v8m2-8v8m5-8v8m11-8v8m10-8v8m1-8v8m40-8v8m4-8v8m4-8v8m15-8v8m21-8v8m99-8v8m75-8v8m1-8v8M1431.5 568v8m42-8v8m1-8v8m6-8v8M1064.5 576v8m2-8v8m1-8v8m33-8v8m56-8v8m48-8v8m17-8v8m5-8v8m62-8v8m1-8v8m2-8v8m6-8v8m9-8v8m14-8v8m12-8v8m12-8v8m6-8v8m20-8v8m169-8v8m1-8v8M940.5 600v8m1-8v8m24-8v8m5-8v8m2-8v8m44-8v8m1-8v8m15-8v8m17-8v8m7-8v8m15-8v8m1-8v8m8-8v8m6-8v8m9-8v8m17-8v8m1-8v8m1-8v8m11-8v8m5-8v8m1-8v8m14-8v8m12-8v8m13-8v8m7-8v8m1-8v8m11-8v8m1-8v8m5-8v8m11-8v8m18-8v8m6-8v8m19-8v8m9-8v8m8-8v8m1-8v8m1-8v8m1-8v8m18-8v8m1-8v8m7-8v8m31-8v8m17-8v8m1-8v8m1-8v8m5-8v8m7-8v8m4-8v8m1-8v8m4-8v8m6-8v8m5-8v8m2-8v8m1-8v8m2-8v8m15-8v8m1-8v8m4-8v8m51-8v8m2-8v8m2-8v8m6-8v8m2-8v8m2-8v8m2-8v8m14-8v8m9-8v8m7-8v8m13-8v8m1-8v8M1578.5 632v8M987.5 656v8m54-8v8m23-8v8m34-8v8m12-8v8m31-8v8m31-8v8m80-8v8m54-8v8m4-8v8m3-8v8m1-8v8m16-8v8m19-8v8m25-8v8m1-8v8m41-8v8m1-8v8m7-8v8m14-8v8m1-8v8m12-8v8m1-8v8m37-8v8m4-8v8m8-8v8m14-8v8m1-8v8m9-8v8m1-8v8m6-8v8m2-8v8m1-8v8M1628.5 672v8m1-8v8"/>
<path stroke="#F5F5F5" d="M998.5 40v8m24-8v8m2-8v8m1-8v8m6-8v8m12-8v8m41-8v8m4-8v8m8-8v8m1-8v8m1-8v8m5-8v8m16-8v8m3-8v8m4-8v8m1-8v8m8-8v8m1-8v8m2-8v8m3-8v8m3-8v8m9-8v8m2-8v8m14-8v8m2-8v8m2-8v8m12-8v8m9-8v8m8-8v8m5-8v8m6-8v8m6-8v8m23-8v8m10-8v8m9-8v8m1-8v8m6-8v8m138-8v8m21-8v8M953.5 64v8m384-8v8m161-8v8M936.5 72v8m66-8v8m6-8v8m1-8v8m21-8v8m5-8v8m1-8v8m16-8v8m15-8v8m2-8v8m1-8v8m7-8v8m9-8v8m10-8v8m1-8v8m2-8v8m8-8v8m3-8v8m43-8v8m2-8v8m5-8v8m8-8v8m1-8v8m16-8v8m11-8v8m1-8v8m4-8v8m18-8v8m1-8v8m4-8v8m7-8v8m4-8v8m1-8v8m8-8v8m22-8v8m7-8v8m1-8v8m300-8v8M947.5 80v8m8-8v8m8-8v8m1-8v8M989.5 88v8m1-8v8m21-8v8m34-8v8m12-8v8m14-8v8m7-8v8m25-8v8m1-8v8m11-8v8m12-8v8m10-8v8m1-8v8m12-8v8m2-8v8m7-8v8m12-8v8m15-8v8m29-8v8m2-8v8m10-8v8m13-8v8m18-8v8m1-8v8m2-8v8m1-8v8M993.5 96v8m229-8v8m21-8v8m47-8v8m1-8v8m11-8v8m9-8v8m6-8v8m13-8v8m5-8v8M992.5 104v8m2-8v8m6-8v8m15-8v8m7-8v8m4-8v8m13-8v8m1-8v8m1-8v8m5-8v8m1-8v8m7-8v8m1-8v8m7-8v8m4-8v8m1-8v8m8-8v8m1-8v8m1-8v8m11-8v8m2-8v8m5-8v8m27-8v8m13-8v8m1-8v8m11-8v8m10-8v8m1-8v8m12-8v8m4-8v8m12-8v8m4-8v8m1-8v8m22-8v8m32-8v8m28-8v8m10-8v8m132-8v8m1-8v8M959.5 112v8M1026.5 120v8m1-8v8m5-8v8m1-8v8m79-8v8m1-8v8m8-8v8m12-8v8m8-8v8m4-8v8m13-8v8m31-8v8m5-8v8m1-8v8m56-8v8M1170.5 136v8M1177.5 144v8M938.5 152v8m24-8v8m24-8v8m3-8v8m5-8v8m56-8v8m30-8v8m7-8v8m61-8v8m13-8v8m362-8v8M1100.5 160v8m6-8v8m32-8v8m7-8v8m7-8v8m34-8v8m1-8v8m5-8v8M1067.5 168v8m1-8v8m33-8v8m24-8v8m16-8v8M1027.5 176v8m11-8v8m15-8v8m17-8v8m3-8v8m1-8v8m38-8v8m18-8v8m17-8v8m1-8v8m4-8v8m24-8v8m5-8v8m1-8v8m4-8v8m1-8v8M1048.5 184v8m27-8v8m24-8v8m1-8v8m19-8v8m7-8v8m35-8v8m2-8v8m30-8v8m1-8v8M1110.5 216v8M1157.5 224v8m78-8v8m11-8v8m82-8v8m108-8v8m20-8v8M1125.5 240v8m16-8v8M1182.5 248v8M1146.5 256v8M1125.5 264v8m1-8v8m67-8v8M1128.5 272v8M1477.5 328v8M1419.5 336v8m35-8v8M1305.5 360v8m30-8v8m35-8v8M1338.5 368v8m1-8v8M1293.5 376v8m53-8v8m16-8v8m1-8v8M936.5 392v8m9-8v8m16-8v8m1-8v8m3-8v8m15-8v8m5-8v8m2-8v8m21-8v8m15-8v8m6-8v8m2-8v8m4-8v8m6-8v8m44-8v8m12-8v8m6-8v8m1-8v8m10-8v8m1-8v8m33-8v8m4-8v8m1-8v8m7-8v8m22-8v8m17-8v8m11-8v8m1-8v8m1-8v8m20-8v8m20-8v8m28-8v8m56-8v8m1-8v8m38-8v8m1-8v8m4-8v8m18-8v8m9-8v8m10-8v8m1-8v8m11-8v8m32-8v8m1-8v8m14-8v8m19-8v8m13-8v8m16-8v8m1-8v8m4-8v8m1-8v8m9-8v8m1-8v8m1-8v8m15-8v8m9-8v8m6-8v8m3-8v8m6-8v8m13-8v8m1-8v8m5-8v8m1-8v8m11-8v8M1354.5 400v8m1-8v8M938.5 408v8m2-8v8m5-8v8m16-8v8m9-8v8m17-8v8m1-8v8m8-8v8m20-8v8m2-8v8m1-8v8m4-8v8m23-8v8m1-8v8m23-8v8m4-8v8m9-8v8m36-8v8m1-8v8m1-8v8m5-8v8m1-8v8m12-8v8m5-8v8m5-8v8m10-8v8m3-8v8m1-8v8m1-8v8m1-8v8m1-8v8m1-8v8m7-8v8m30-8v8m1-8v8m17-8v8m35-8v8m3-8v8m1-8v8m2-8v8m37-8v8m40-8v8m1-8v8m29-8v8m1-8v8m21-8v8m60-8v8M942.5 424v8m14-8v8m8-8v8m1-8v8m17-8v8m12-8v8m2-8v8m8-8v8m8-8v8m11-8v8m1-8v8m21-8v8m5-8v8m3-8v8m18-8v8m1-8v8m22-8v8m8-8v8m12-8v8m1-8v8m4-8v8m18-8v8m3-8v8m10-8v8m18-8v8m1-8v8m18-8v8m4-8v8m3-8v8m4-8v8m12-8v8m64-8v8m4-8v8m3-8v8m43-8v8m42-8v8m16-8v8m5-8v8m3-8v8m28-8v8m1-8v8m6-8v8m25-8v8m40-8v8m13-8v8m2-8v8m1-8v8m38-8v8m2-8v8m2-8v8m8-8v8m11-8v8m6-8v8m1-8v8m16-8v8m6-8v8m5-8v8m1-8v8m1-8v8m1-8v8m7-8v8m5-8v8m5-8v8m5-8v8M1303.5 432v8m6-8v8m7-8v8m20-8v8m8-8v8M937.5 496v8m5-8v8m23-8v8m1-8v8m1-8v8m17-8v8m16-8v8m1-8v8m10-8v8m63-8v8m7-8v8m55-8v8m10-8v8m15-8v8m19-8v8m1-8v8m16-8v8m12-8v8m1-8v8m5-8v8m9-8v8m1-8v8m7-8v8m4-8v8m25-8v8m1-8v8m13-8v8m1-8v8m17-8v8m26-8v8m1-8v8m13-8v8m21-8v8m4-8v8m1-8v8m2-8v8m1-8v8m6-8v8M941.5 504v8m3-8v8m1-8v8m2-8v8m11-8v8m14-8v8m37-8v8m3-8v8m12-8v8m16-8v8m7-8v8m8-8v8m9-8v8m38-8v8m24-8v8m23-8v8m8-8v8m1-8v8m23-8v8m8-8v8m4-8v8m10-8v8m11-8v8m11-8v8m7-8v8m12-8v8m29-8v8m7-8v8m23-8v8m1-8v8m41-8v8m5-8v8m7-8v8m10-8v8m4-8v8m145-8v8M992.5 520v8m140-8v8m69-8v8m3-8v8m34-8v8m1-8v8m1-8v8m1-8v8m3-8v8m2-8v8m18-8v8m25-8v8m1-8v8m16-8v8m20-8v8m6-8v8m7-8v8m4-8v8m6-8v8m9-8v8M939.5 528v8m3-8v8m16-8v8m1-8v8m1-8v8m6-8v8m4-8v8m8-8v8m1-8v8m14-8v8m5-8v8m1-8v8m8-8v8m7-8v8m1-8v8m7-8v8m14-8v8m4-8v8m3-8v8m7-8v8m1-8v8m1-8v8m17-8v8m11-8v8m4-8v8m9-8v8m3-8v8m1-8v8m6-8v8m16-8v8m15-8v8m1-8v8m26-8v8m4-8v8m1-8v8m19-8v8m18-8v8m14-8v8m1-8v8m2-8v8m1-8v8m1-8v8m14-8v8m10-8v8m29-8v8m7-8v8m5-8v8m1-8v8m4-8v8m18-8v8m4-8v8m7-8v8m3-8v8m1-8v8m1-8v8m3-8v8m21-8v8m32-8v8m1-8v8M1520.5 536v8m16-8v8M1396.5 544v8m1-8v8m111-8v8M955.5 560v8m1-8v8m5-8v8m3-8v8m1-8v8m3-8v8m5-8v8m8-8v8m1-8v8m2-8v8m1-8v8m1-8v8m6-8v8m1-8v8m37-8v8m4-8v8m10-8v8m2-8v8m2-8v8m1-8v8m8-8v8m1-8v8m1-8v8m17-8v8m51-8v8m21-8v8m9-8v8m25-8v8m1-8v8m4-8v8m2-8v8m17-8v8m5-8v8m1-8v8m5-8v8m3-8v8m3-8v8m14-8v8m2-8v8m1-8v8m10-8v8m24-8v8m1-8v8m18-8v8m1-8v8m10-8v8m1-8v8m14-8v8m22-8v8m1-8v8m23-8v8m102-8v8m1-8v8M1399.5 568v8m7-8v8m59-8v8M1157.5 576v8m168-8v8m3-8v8m6-8v8m30-8v8m1-8v8m126-8v8m20-8v8m5-8v8m1-8v8M1466.5 584v8m13-8v8m28-8v8m11-8v8m4-8v8m5-8v8M1517.5 592v8M936.5 600v8m17-8v8m1-8v8m7-8v8m12-8v8m20-8v8m2-8v8m1-8v8m14-8v8m17-8v8m37-8v8m10-8v8m16-8v8m10-8v8m19-8v8m1-8v8m24-8v8m7-8v8m15-8v8m1-8v8m37-8v8m21-8v8m30-8v8m1-8v8m6-8v8m10-8v8m1-8v8m2-8v8m26-8v8m10-8v8m6-8v8m1-8v8m14-8v8m6-8v8m1-8v8m1-8v8m1-8v8m6-8v8m31-8v8m11-8v8m30-8v8m20-8v8m4-8v8m53-8v8m30-8v8m6-8v8M1580.5 624v8m1-8v8M1319.5 632v8M1304.5 656v8m30-8v8m57-8v8m2-8v8m40-8v8m4-8v8m5-8v8m1-8v8m1-8v8m4-8v8m2-8v8m5-8v8m3-8v8m17-8v8m1-8v8m31-8v8m12-8v8"/>
<path stroke="#F8ECE6" d="M1000.5 40v8m23-8v8m7-8v8m14-8v8m1-8v8m4-8v8m7-8v8m4-8v8m34-8v8m1-8v8m10-8v8m23-8v8m37-8v8m33-8v8m12-8v8m1-8v8m20-8v8m29-8v8m9-8v8m4-8v8m8-8v8m1-8v8M1001.5 48v8m1-8v8M940.5 56v8m27-8v8M1014.5 64v8m1-8v8m194-8v8m1-8v8m71-8v8m32-8v8m11-8v8m2-8v8m14-8v8m124-8v8m38-8v8m1-8v8m26-8v8M960.5 72v8m17-8v8m51-8v8m1-8v8m13-8v8m1-8v8m11-8v8m5-8v8m33-8v8m1-8v8m15-8v8m4-8v8m1-8v8m6-8v8m13-8v8m2-8v8m1-8v8m37-8v8m16-8v8m1-8v8m71-8v8m1-8v8M940.5 80v8m49-8v8m13-8v8m3-8v8m3-8v8M958.5 88v8m1-8v8m5-8v8m12-8v8m20-8v8m11-8v8m8-8v8m29-8v8m6-8v8m30-8v8m1-8v8m6-8v8m13-8v8m7-8v8m6-8v8m1-8v8m16-8v8m5-8v8m1-8v8m3-8v8m1-8v8m2-8v8m1-8v8m1-8v8m2-8v8m45-8v8m5-8v8m4-8v8m30-8v8M943.5 96v8m10-8v8m1-8v8m6-8v8m58-8v8m184-8v8m1-8v8m4-8v8m1-8v8m3-8v8m35-8v8m10-8v8m3-8v8m2-8v8m6-8v8m6-8v8m10-8v8m1-8v8m26-8v8m17-8v8M961.5 104v8m29-8v8m11-8v8m1-8v8m18-8v8m8-8v8m3-8v8m6-8v8m5-8v8m27-8v8m2-8v8m15-8v8m30-8v8m5-8v8m27-8v8m32-8v8m1-8v8m6-8v8m11-8v8m26-8v8m3-8v8m2-8v8m30-8v8m1-8v8m2-8v8m9-8v8m1-8v8m3-8v8M987.5 112v8M1045.5 120v8m26-8v8m23-8v8m28-8v8m34-8v8m8-8v8m2-8v8m14-8v8m10-8v8m1-8v8M1029.5 128v8m127-8v8m39-8v8M1136.5 136v8m52-8v8M1049.5 144v8m65-8v8M954.5 152v8m1-8v8m4-8v8m6-8v8m1-8v8m16-8v8m1-8v8m4-8v8m20-8v8m13-8v8m2-8v8m20-8v8m39-8v8m1-8v8m63-8v8m272-8v8M1028.5 160v8m1-8v8m23-8v8m20-8v8m5-8v8m1-8v8m62-8v8m18-8v8m4-8v8m16-8v8m2-8v8m13-8v8M957.5 168v8m1-8v8m19-8v8m8-8v8m19-8v8m1-8v8m11-8v8m60-8v8m53-8v8m1-8v8m47-8v8M1029.5 176v8m1-8v8m4-8v8m1-8v8m17-8v8m7-8v8m9-8v8m27-8v8m1-8v8M1035.5 184v8m45-8v8m32-8v8m8-8v8m1-8v8m27-8v8m25-8v8m1-8v8M1184.5 224v8m111-8v8m1-8v8M1134.5 240v8m10-8v8m47-8v8M1134.5 248v8m1-8v8M1120.5 256v8m1-8v8m51-8v8M1197.5 264v8M1379.5 328v8m122-8v8M1398.5 344v8m18-8v8m1-8v8M1258.5 352v8m1-8v8M1290.5 360v8m22-8v8m1-8v8m9-8v8m18-8v8m1-8v8m17-8v8m1-8v8m8-8v8m1-8v8M1351.5 368v8m10-8v8M1356.5 376v8m9-8v8m5-8v8M1291.5 384v8m44-8v8M937.5 392v8m1-8v8m4-8v8m15-8v8m10-8v8m38-8v8m17-8v8m5-8v8m1-8v8m8-8v8m3-8v8m9-8v8m6-8v8m4-8v8m1-8v8m7-8v8m29-8v8m14-8v8m11-8v8m3-8v8m5-8v8m3-8v8m78-8v8m10-8v8m9-8v8m8-8v8m3-8v8m21-8v8m8-8v8m21-8v8m8-8v8m34-8v8m11-8v8m1-8v8m53-8v8m1-8v8m4-8v8m5-8v8m20-8v8m10-8v8m21-8v8m6-8v8m33-8v8m2-8v8m8-8v8m1-8v8m26-8v8m9-8v8m19-8v8m1-8v8m1-8v8m6-8v8m28-8v8m16-8v8m1-8v8M1287.5 400v8m49-8v8M951.5 408v8m4-8v8m10-8v8m2-8v8m1-8v8m26-8v8m3-8v8m1-8v8m8-8v8m50-8v8m3-8v8m17-8v8m1-8v8m16-8v8m3-8v8m42-8v8m2-8v8m12-8v8m1-8v8m3-8v8m1-8v8m13-8v8m15-8v8m5-8v8m16-8v8m20-8v8m1-8v8m14-8v8m2-8v8m1-8v8m27-8v8m5-8v8m1-8v8m60-8v8m12-8v8m1-8v8m4-8v8m1-8v8M1350.5 416v8m1-8v8M954.5 424v8m13-8v8m54-8v8m22-8v8m3-8v8m15-8v8m2-8v8m1-8v8m3-8v8m2-8v8m1-8v8m6-8v8m17-8v8m17-8v8m16-8v8m4-8v8m59-8v8m23-8v8m27-8v8m13-8v8m16-8v8m3-8v8m4-8v8m1-8v8m7-8v8m20-8v8m1-8v8m44-8v8m23-8v8m15-8v8m7-8v8m4-8v8m1-8v8m46-8v8m5-8v8m15-8v8m19-8v8m26-8v8m14-8v8m1-8v8m1-8v8m2-8v8m8-8v8m4-8v8m15-8v8m22-8v8m36-8v8M991.5 432v8m316-8v8m8-8v8m2-8v8m13-8v8M1543.5 440v8M1498.5 456v8m8-8v8M1559.5 488v8M955.5 496v8m1-8v8m3-8v8m9-8v8m4-8v8m14-8v8m1-8v8m45-8v8m1-8v8m12-8v8m9-8v8m10-8v8m5-8v8m1-8v8m6-8v8m8-8v8m1-8v8m2-8v8m9-8v8m29-8v8m1-8v8m11-8v8m11-8v8m1-8v8m21-8v8m5-8v8m7-8v8m1-8v8m11-8v8m1-8v8m9-8v8m49-8v8m3-8v8m26-8v8m2-8v8m7-8v8m7-8v8m10-8v8m3-8v8m56-8v8M960.5 504v8m1-8v8m3-8v8m5-8v8m1-8v8m3-8v8m23-8v8m26-8v8m4-8v8m20-8v8m57-8v8m29-8v8m16-8v8m24-8v8m15-8v8m9-8v8m1-8v8m2-8v8m1-8v8m28-8v8m1-8v8m50-8v8m4-8v8m42-8v8m2-8v8m1-8v8m23-8v8m1-8v8m13-8v8m3-8v8m1-8v8M974.5 520v8m289-8v8m31-8v8m19-8v8m1-8v8m1-8v8m3-8v8m7-8v8m4-8v8m4-8v8m15-8v8m12-8v8m156-8v8m1-8v8m9-8v8m3-8v8M948.5 528v8m8-8v8m30-8v8m14-8v8m3-8v8m50-8v8m20-8v8m1-8v8m2-8v8m1-8v8m1-8v8m3-8v8m25-8v8m14-8v8m6-8v8m11-8v8m1-8v8m1-8v8m2-8v8m10-8v8m6-8v8m1-8v8m15-8v8m4-8v8m15-8v8m14-8v8m17-8v8m2-8v8m17-8v8m9-8v8m1-8v8m8-8v8m17-8v8m8-8v8m11-8v8m11-8v8m12-8v8m13-8v8m1-8v8m19-8v8m6-8v8m6-8v8M1437.5 544v8m108-8v8M1457.5 552v8M949.5 560v8m1-8v8m19-8v8m11-8v8m17-8v8m1-8v8m9-8v8m1-8v8m3-8v8m13-8v8m1-8v8m3-8v8m9-8v8m16-8v8m15-8v8m1-8v8m3-8v8m1-8v8m29-8v8m8-8v8m8-8v8m1-8v8m1-8v8m17-8v8m4-8v8m2-8v8m8-8v8m8-8v8m5-8v8m20-8v8m42-8v8m12-8v8m3-8v8m8-8v8m15-8v8m17-8v8m20-8v8m9-8v8m1-8v8m2-8v8m15-8v8m4-8v8m1-8v8m5-8v8m1-8v8m30-8v8m1-8v8M1373.5 568v8m50-8v8m75-8v8m1-8v8m9-8v8m22-8v8M1040.5 576v8m286-8v8m10-8v8m9-8v8m1-8v8m3-8v8M1395.5 584v8m99-8v8m6-8v8m21-8v8M952.5 600v8m10-8v8m23-8v8m13-8v8m20-8v8m32-8v8m12-8v8m59-8v8m16-8v8m25-8v8m2-8v8m1-8v8m3-8v8m20-8v8m24-8v8m5-8v8m3-8v8m1-8v8m19-8v8m1-8v8m10-8v8m10-8v8m2-8v8m45-8v8m1-8v8m7-8v8m36-8v8m1-8v8m30-8v8m1-8v8m4-8v8m8-8v8m8-8v8m8-8v8m18-8v8m19-8v8m32-8v8m9-8v8m4-8v8m25-8v8m21-8v8M1585.5 640v8M1308.5 656v8m3-8v8m1-8v8m6-8v8m1-8v8m8-8v8m1-8v8m16-8v8m2-8v8m8-8v8m28-8v8m1-8v8m18-8v8m4-8v8m1-8v8m9-8v8m11-8v8m21-8v8m14-8v8m10-8v8m6-8v8m11-8v8m2-8v8m10-8v8m29-8v8m1-8v8m16-8v8m8-8v8M1547.5 672v8"/>
<path stroke="#EFD8CD" d="M1018.5 40v8m119-8v8M952.5 48v8M1008.5 56v8m372-8v8M987.5 64v8m19-8v8m219-8v8m1-8v8m48-8v8m72-8v8m185-8v8M983.5 72v8m58-8v8m15-8v8m82-8v8m146-8v8M966.5 80v8m450-8v8M1109.5 88v8m11-8v8m44-8v8m9-8v8m16-8v8m12-8v8m63-8v8m262-8v8M980.5 96v8m1-8v8m252-8v8m37-8v8m11-8v8m27-8v8m6-8v8m2-8v8m24-8v8M1014.5 104v8m101-8v8m15-8v8m1-8v8m6-8v8m60-8v8m72-8v8M939.5 112v8m58-8v8m1-8v8M1046.5 120v8M1040.5 128v8m146-8v8m1-8v8M1044.5 136v8m1-8v8m3-8v8m44-8v8m80-8v8m12-8v8m208-8v8M1111.5 144v8m12-8v8m1-8v8m9-8v8m1-8v8M1073.5 152v8m1-8v8m80-8v8m5-8v8m28-8v8m1-8v8m428-8v8M1064.5 160v8m4-8v8m16-8v8m1-8v8m23-8v8m31-8v8m364-8v8M1114.5 168v8m80-8v8m281-8v8M1051.5 176v8m31-8v8M1036.5 184v8m58-8v8m420-8v8M1153.5 192v8M1505.5 208v8M1335.5 216v8M1423.5 224v8M1066.5 232v8m1-8v8M1115.5 240v8m16-8v8M1117.5 248v8m77-8v8m269-8v8M1152.5 256v8M1415.5 264v8M1538.5 320v8M1528.5 328v8M1397.5 336v8M1362.5 360v8M1314.5 384v8m56-8v8m198-8v8M1062.5 392v8m219-8v8m1-8v8m108-8v8m1-8v8m12-8v8m65-8v8m46-8v8m68-8v8M1324.5 400v8m8-8v8M1069.5 408v8m124-8v8m1-8v8m25-8v8m11-8v8m1-8v8m7-8v8m8-8v8m153-8v8M1306.5 416v8m30-8v8m16-8v8M978.5 424v8m256-8v8m59-8v8m165-8v8m121-8v8M1329.5 432v8m38-8v8M1336.5 440v8M1088.5 496v8m17-8v8m236-8v8M1152.5 504v8m71-8v8M1486.5 512v8M1242.5 520v8m233-8v8M937.5 528v8m352-8v8m41-8v8m1-8v8m22-8v8M1464.5 552v8M952.5 560v8m119-8v8m51-8v8m1-8v8m67-8v8m1-8v8m55-8v8m54-8v8m7-8v8m10-8v8m29-8v8m9-8v8M1536.5 568v8M1462.5 576v8m35-8v8M1377.5 584v8m1-8v8m94-8v8m1-8v8M1001.5 600v8m30-8v8m128-8v8m1-8v8m16-8v8m17-8v8m1-8v8m197-8v8m60-8v8m34-8v8M1316.5 608v8m10-8v8M976.5 616v8m22-8v8m1-8v8M1603.5 640v8m1-8v8M1295.5 656v8m1-8v8m5-8v8m30-8v8m77-8v8m1-8v8m21-8v8m1-8v8"/>
<path stroke="#BBD9E9" d="M1028.5 40v8m1-8v8m4-8v8m52-8v8m14-8v8m7-8v8m6-8v8m1-8v8m2-8v8m16-8v8m8-8v8m1-8v8m6-8v8m3-8v8m37-8v8m20-8v8m42-8v8m7-8v8m25-8v8m6-8v8m8-8v8m1-8v8m4-8v8m23-8v8m9-8v8m14-8v8m2-8v8m5-8v8m20-8v8m10-8v8m1-8v8m1-8v8m23-8v8m3-8v8m1-8v8m2-8v8m10-8v8m5-8v8m7-8v8m1-8v8m1-8v8m1-8v8m1-8v8m1-8v8m52-8v8m1-8v8m10-8v8m9-8v8m2-8v8m5-8v8m26-8v8m2-8v8m16-8v8m13-8v8m6-8v8m5-8v8m5-8v8m1-8v8m1-8v8m11-8v8m10-8v8m16-8v8M938.5 64v8m66-8v8M949.5 72v8m37-8v8m1-8v8m20-8v8m73-8v8m1-8v8m6-8v8m1-8v8m45-8v8m18-8v8m55-8v8m9-8v8m1-8v8m21-8v8m27-8v8m31-8v8m4-8v8m1-8v8m4-8v8m1-8v8m12-8v8m1-8v8m6-8v8m1-8v8m23-8v8m7-8v8m1-8v8m20-8v8m1-8v8m3-8v8m14-8v8m7-8v8m17-8v8m3-8v8m16-8v8m10-8v8m17-8v8m2-8v8m13-8v8m47-8v8m1-8v8m13-8v8m9-8v8m2-8v8m4-8v8m3-8v8m7-8v8m5-8v8m17-8v8m9-8v8m3-8v8m19-8v8m9-8v8M949.5 80v8m611-8v8m6-8v8m5-8v8m1-8v8m10-8v8m17-8v8m5-8v8M1027.5 88v8m3-8v8m2-8v8m14-8v8m1-8v8m6-8v8m1-8v8m1-8v8m1-8v8m3-8v8m23-8v8m1-8v8m1-8v8m1-8v8m1-8v8m13-8v8m3-8v8m16-8v8m5-8v8m1-8v8m25-8v8m5-8v8m27-8v8m22-8v8m10-8v8m9-8v8m1-8v8m28-8v8m5-8v8m22-8v8m1-8v8m8-8v8m1-8v8m4-8v8m6-8v8m23-8v8m7-8v8m1-8v8m10-8v8m11-8v8m1-8v8m5-8v8m16-8v8m2-8v8m7-8v8m19-8v8m6-8v8m24-8v8m8-8v8m1-8v8m6-8v8m3-8v8m4-8v8m1-8v8m3-8v8m31-8v8m20-8v8m1-8v8m24-8v8m11-8v8m1-8v8m2-8v8m33-8v8m9-8v8m1-8v8m1-8v8m4-8v8m2-8v8m7-8v8m6-8v8m1-8v8m14-8v8m9-8v8M1244.5 96v8m6-8v8m2-8v8m36-8v8m38-8v8m12-8v8m9-8v8m1-8v8M974.5 104v8m1-8v8m77-8v8m5-8v8m8-8v8m35-8v8m65-8v8m1-8v8m45-8v8m27-8v8m60-8v8m1-8v8m2-8v8m8-8v8m1-8v8m10-8v8m1-8v8m1-8v8m1-8v8m50-8v8m9-8v8m49-8v8m3-8v8m37-8v8m1-8v8m2-8v8m6-8v8m4-8v8m2-8v8m7-8v8m1-8v8m1-8v8m11-8v8m8-8v8m1-8v8m2-8v8m10-8v8m36-8v8m5-8v8m10-8v8m1-8v8m5-8v8m8-8v8m12-8v8m5-8v8m1-8v8m3-8v8m1-8v8m2-8v8m5-8v8m10-8v8m1-8v8m1-8v8M1181.5 120v8m27-8v8m1-8v8m4-8v8m4-8v8m3-8v8m20-8v8m2-8v8m10-8v8m1-8v8m10-8v8m12-8v8m2-8v8M942.5 152v8m14-8v8m43-8v8m5-8v8m32-8v8m63-8v8M1066.5 160v8m24-8v8m26-8v8m5-8v8m1-8v8m9-8v8m1-8v8m2-8v8m37-8v8m1-8v8m4-8v8M1145.5 176v8m1-8v8m13-8v8m11-8v8m4-8v8m3-8v8m1-8v8m13-8v8M936.5 184v8m19-8v8m2-8v8m1-8v8m1-8v8m12-8v8m10-8v8m4-8v8m9-8v8m1-8v8m4-8v8m8-8v8m6-8v8m1-8v8m100-8v8m28-8v8m1-8v8m10-8v8m2-8v8m9-8v8m4-8v8m12-8v8m3-8v8M1130.5 248v8M1166.5 256v8m31-8v8M1122.5 264v8M1304.5 360v8m2-8v8M1324.5 368v8m44-8v8M1358.5 376v8M1364.5 384v8M939.5 392v8m1-8v8m35-8v8m2-8v8m11-8v8m4-8v8m1-8v8m27-8v8m13-8v8m1-8v8m31-8v8m10-8v8m2-8v8m1-8v8m5-8v8m3-8v8m22-8v8m30-8v8m7-8v8m30-8v8m17-8v8m11-8v8m1-8v8m22-8v8m7-8v8m2-8v8m7-8v8m5-8v8m9-8v8m27-8v8m61-8v8m28-8v8m9-8v8m3-8v8m66-8v8m1-8v8m137-8v8M952.5 408v8m8-8v8m48-8v8m1-8v8m2-8v8m16-8v8m1-8v8m53-8v8m26-8v8m21-8v8m6-8v8m8-8v8m33-8v8m37-8v8m8-8v8m77-8v8M1364.5 416v8m1-8v8M939.5 424v8m18-8v8m3-8v8m3-8v8m13-8v8m8-8v8m13-8v8m17-8v8m2-8v8m33-8v8m28-8v8m4-8v8m5-8v8m2-8v8m32-8v8m31-8v8m9-8v8m22-8v8m27-8v8m4-8v8m34-8v8m1-8v8m16-8v8m15-8v8m1-8v8m12-8v8m18-8v8m42-8v8m1-8v8m22-8v8m1-8v8m2-8v8m17-8v8m12-8v8m1-8v8m60-8v8m4-8v8m2-8v8m7-8v8m1-8v8m18-8v8m16-8v8m33-8v8m19-8v8m1-8v8m1-8v8m22-8v8m1-8v8m31-8v8M1369.5 432v8m1-8v8M1485.5 448v8M936.5 496v8m10-8v8m18-8v8m9-8v8m20-8v8m87-8v8m12-8v8m1-8v8m2-8v8m7-8v8m1-8v8m28-8v8m1-8v8m1-8v8m51-8v8m6-8v8m13-8v8m25-8v8m17-8v8m26-8v8m1-8v8m1-8v8m12-8v8m1-8v8m1-8v8m8-8v8m4-8v8m3-8v8m7-8v8m17-8v8m8-8v8m6-8v8m4-8v8m16-8v8m6-8v8M954.5 504v8m24-8v8m5-8v8m11-8v8m1-8v8m26-8v8m20-8v8m37-8v8m8-8v8m15-8v8m11-8v8m3-8v8m8-8v8m71-8v8m1-8v8m3-8v8m6-8v8m12-8v8m4-8v8m15-8v8m1-8v8m3-8v8m13-8v8m1-8v8m5-8v8m1-8v8m11-8v8m15-8v8m1-8v8m21-8v8m1-8v8m6-8v8m2-8v8m2-8v8m12-8v8m1-8v8m6-8v8M951.5 520v8m3-8v8m47-8v8m4-8v8m1-8v8m1-8v8m1-8v8m23-8v8m25-8v8m25-8v8m18-8v8m1-8v8m1-8v8m6-8v8m18-8v8m1-8v8m21-8v8m3-8v8m11-8v8m31-8v8m1-8v8m1-8v8m26-8v8m4-8v8m11-8v8m8-8v8m5-8v8m3-8v8m2-8v8m13-8v8m12-8v8m1-8v8m1-8v8m12-8v8m8-8v8m22-8v8m46-8v8m136-8v8m3-8v8m1-8v8M952.5 528v8m9-8v8m26-8v8m23-8v8m1-8v8m9-8v8m1-8v8m14-8v8m2-8v8m1-8v8m20-8v8m6-8v8m1-8v8m21-8v8m1-8v8m5-8v8m25-8v8m32-8v8m29-8v8m8-8v8m1-8v8m1-8v8m8-8v8m1-8v8m17-8v8m12-8v8m3-8v8m27-8v8m1-8v8m7-8v8m7-8v8m10-8v8m5-8v8m61-8v8m4-8v8m11-8v8m1-8v8m5-8v8M1489.5 536v8M959.5 552v8m11-8v8m1-8v8m1-8v8m1-8v8m1-8v8m3-8v8m26-8v8m3-8v8m6-8v8m3-8v8m1-8v8m1-8v8m34-8v8m1-8v8m33-8v8m7-8v8m1-8v8m7-8v8m18-8v8m13-8v8m25-8v8m5-8v8m9-8v8m1-8v8m11-8v8m7-8v8m22-8v8m21-8v8m36-8v8m10-8v8m3-8v8m1-8v8m121-8v8M939.5 560v8m104-8v8m37-8v8m1-8v8m107-8v8m15-8v8m51-8v8m1-8v8m40-8v8m1-8v8m2-8v8m1-8v8m7-8v8m160-8v8M937.5 576v8m8-8v8m5-8v8m30-8v8m11-8v8m1-8v8m25-8v8m30-8v8m7-8v8m1-8v8m7-8v8m1-8v8m39-8v8m1-8v8m5-8v8m4-8v8m4-8v8m14-8v8m2-8v8m29-8v8m11-8v8m11-8v8m11-8v8m7-8v8m1-8v8m13-8v8m19-8v8m1-8v8m3-8v8m1-8v8m35-8v8m2-8v8m9-8v8m9-8v8m13-8v8m4-8v8m22-8v8m2-8v8m23-8v8m2-8v8m66-8v8M1540.5 584v8m1-8v8M939.5 600v8m3-8v8m7-8v8m20-8v8m28-8v8m2-8v8m14-8v8m24-8v8m2-8v8m1-8v8m1-8v8m3-8v8m31-8v8m3-8v8m16-8v8m22-8v8m7-8v8m10-8v8m21-8v8m18-8v8m3-8v8m9-8v8m1-8v8m1-8v8m10-8v8m5-8v8m21-8v8m14-8v8m42-8v8m1-8v8m12-8v8m5-8v8m64-8v8m5-8v8m9-8v8m20-8v8m11-8v8m11-8v8m12-8v8m4-8v8m4-8v8m2-8v8m30-8v8m2-8v8m4-8v8m1-8v8m20-8v8m6-8v8m4-8v8m16-8v8m10-8v8m15-8v8M937.5 656v8m7-8v8m6-8v8m1-8v8m12-8v8m1-8v8m6-8v8m13-8v8m12-8v8m1-8v8m30-8v8m17-8v8m1-8v8m16-8v8m20-8v8m4-8v8m4-8v8m1-8v8m4-8v8m11-8v8m4-8v8m3-8v8m1-8v8m7-8v8m1-8v8m1-8v8m4-8v8m7-8v8m10-8v8m4-8v8m20-8v8m1-8v8m8-8v8m1-8v8m3-8v8m11-8v8m3-8v8m5-8v8m7-8v8m2-8v8m15-8v8m4-8v8m25-8v8m13-8v8m18-8v8m1-8v8m39-8v8m28-8v8m21-8v8m2-8v8m67-8v8m14-8v8m12-8v8m12-8v8m1-8v8m17-8v8m7-8v8m1-8v8m7-8v8m1-8v8m11-8v8"/>
<path stroke="#9ECAE1" d="M1032.5 40v8m18-8v8m21-8v8m2-8v8m1-8v8m43-8v8m44-8v8m1-8v8m46-8v8m15-8v8m13-8v8m15-8v8m7-8v8m27-8v8m5-8v8m11-8v8m2-8v8m1-8v8m2-8v8m2-8v8m5-8v8m1-8v8m10-8v8m2-8v8m6-8v8m1-8v8m2-8v8m13-8v8m1-8v8m4-8v8m16-8v8m4-8v8m17-8v8m7-8v8m15-8v8m3-8v8m15-8v8m13-8v8m1-8v8m19-8v8m4-8v8m7-8v8m12-8v8m10-8v8m8-8v8m1-8v8m15-8v8m8-8v8m1-8v8m2-8v8m1-8v8m2-8v8m5-8v8m3-8v8m1-8v8m19-8v8m4-8v8m15-8v8m5-8v8m16-8v8m4-8v8m3-8v8m1-8v8m1-8v8m1-8v8m7-8v8m8-8v8M979.5 64v8M974.5 72v8m57-8v8m95-8v8m13-8v8m1-8v8m147-8v8m5-8v8m36-8v8m1-8v8m1-8v8m1-8v8m8-8v8m11-8v8m9-8v8m39-8v8m1-8v8m6-8v8m4-8v8m3-8v8m1-8v8m3-8v8m6-8v8m10-8v8m4-8v8m8-8v8m2-8v8m9-8v8m1-8v8m7-8v8m2-8v8m7-8v8m15-8v8m1-8v8m1-8v8m9-8v8m1-8v8m2-8v8m9-8v8m1-8v8m14-8v8m17-8v8m15-8v8m4-8v8m1-8v8m9-8v8m8-8v8m14-8v8m1-8v8m6-8v8m1-8v8m3-8v8m4-8v8m6-8v8m3-8v8m6-8v8m3-8v8m2-8v8M1000.5 80v8m549-8v8m1-8v8m33-8v8m1-8v8m1-8v8m8-8v8m3-8v8m11-8v8m1-8v8m1-8v8m12-8v8m1-8v8m3-8v8m1-8v8m7-8v8M1026.5 88v8m34-8v8m12-8v8m47-8v8m3-8v8m10-8v8m33-8v8m23-8v8m18-8v8m10-8v8m12-8v8m7-8v8m38-8v8m7-8v8m14-8v8m1-8v8m2-8v8m2-8v8m4-8v8m6-8v8m21-8v8m12-8v8m6-8v8m1-8v8m14-8v8m4-8v8m6-8v8m3-8v8m14-8v8m3-8v8m15-8v8m2-8v8m2-8v8m1-8v8m8-8v8m5-8v8m3-8v8m21-8v8m4-8v8m1-8v8m3-8v8m10-8v8m4-8v8m8-8v8m2-8v8m17-8v8m1-8v8m3-8v8m1-8v8m8-8v8m1-8v8m1-8v8m1-8v8m1-8v8m1-8v8m2-8v8m4-8v8m1-8v8m12-8v8m1-8v8m15-8v8m1-8v8m2-8v8m3-8v8m1-8v8m1-8v8m23-8v8m15-8v8m1-8v8m1-8v8m2-8v8m2-8v8m4-8v8m3-8v8m3-8v8m1-8v8m5-8v8m1-8v8m6-8v8m2-8v8M1027.5 104v8m53-8v8m1-8v8m65-8v8m36-8v8m73-8v8m1-8v8m34-8v8m3-8v8m14-8v8m1-8v8m3-8v8m1-8v8m3-8v8m1-8v8m1-8v8m1-8v8m1-8v8m5-8v8m4-8v8m9-8v8m1-8v8m5-8v8m5-8v8m1-8v8m4-8v8m2-8v8m5-8v8m1-8v8m1-8v8m6-8v8m1-8v8m1-8v8m4-8v8m9-8v8m1-8v8m1-8v8m1-8v8m5-8v8m1-8v8m2-8v8m27-8v8m1-8v8m1-8v8m9-8v8m1-8v8m4-8v8m16-8v8m2-8v8m1-8v8m9-8v8m14-8v8m4-8v8m5-8v8m4-8v8m5-8v8m1-8v8m7-8v8m4-8v8m1-8v8m6-8v8m3-8v8m13-8v8m8-8v8m1-8v8m4-8v8m1-8v8m3-8v8m2-8v8m6-8v8m1-8v8m13-8v8m3-8v8m7-8v8m1-8v8m1-8v8m2-8v8m17-8v8m28-8v8M1128.5 120v8m6-8v8m3-8v8m10-8v8m4-8v8m26-8v8m9-8v8m12-8v8m13-8v8m19-8v8m1-8v8m15-8v8m3-8v8m5-8v8m5-8v8m2-8v8m1-8v8m6-8v8m8-8v8m6-8v8M941.5 152v8m3-8v8m1-8v8m1-8v8m2-8v8m19-8v8m30-8v8m5-8v8M1166.5 160v8m23-8v8M1055.5 176v8M952.5 184v8m8-8v8m1-8v8m1-8v8m4-8v8m7-8v8m7-8v8m21-8v8m5-8v8m16-8v8m105-8v8m7-8v8m3-8v8m7-8v8m1-8v8m4-8v8M1177.5 248v8M1138.5 256v8m35-8v8M1295.5 360v8M964.5 392v8m34-8v8m32-8v8m8-8v8m5-8v8m10-8v8m17-8v8m24-8v8m7-8v8m23-8v8m16-8v8m14-8v8m1-8v8m42-8v8m60-8v8m1-8v8m208-8v8m86-8v8M1325.5 400v8M980.5 408v8m1-8v8m90-8v8m13-8v8m1-8v8m20-8v8m10-8v8m1-8v8m52-8v8m1-8v8m11-8v8m54-8v8M1361.5 416v8M953.5 424v8m20-8v8m28-8v8m31-8v8m1-8v8m3-8v8m11-8v8m1-8v8m6-8v8m2-8v8m1-8v8m18-8v8m9-8v8m21-8v8m1-8v8m28-8v8m14-8v8m9-8v8m8-8v8m65-8v8m1-8v8m13-8v8m10-8v8m11-8v8m1-8v8m6-8v8m37-8v8m28-8v8m86-8v8m6-8v8m36-8v8m27-8v8m1-8v8m35-8v8m3-8v8m29-8v8m15-8v8m2-8v8m40-8v8m10-8v8M1313.5 432v8M985.5 496v8m28-8v8m18-8v8m18-8v8m16-8v8m2-8v8m1-8v8m33-8v8m37-8v8m21-8v8m12-8v8m1-8v8m45-8v8m5-8v8m90-8v8m1-8v8m11-8v8m1-8v8M937.5 504v8m19-8v8m1-8v8m32-8v8m15-8v8m39-8v8m20-8v8m8-8v8m1-8v8m10-8v8m26-8v8m8-8v8m27-8v8m11-8v8m6-8v8m7-8v8m42-8v8m21-8v8m52-8v8m6-8v8m78-8v8m4-8v8M939.5 520v8m2-8v8m1-8v8m1-8v8m1-8v8m1-8v8m5-8v8m5-8v8m1-8v8m5-8v8m8-8v8m1-8v8m28-8v8m1-8v8m18-8v8m9-8v8m6-8v8m1-8v8m9-8v8m5-8v8m14-8v8m7-8v8m8-8v8m9-8v8m10-8v8m1-8v8m7-8v8m7-8v8m1-8v8m1-8v8m5-8v8m1-8v8m3-8v8m16-8v8m2-8v8m1-8v8m16-8v8m1-8v8m1-8v8m10-8v8m1-8v8m1-8v8m5-8v8m8-8v8m2-8v8m1-8v8m1-8v8m1-8v8m7-8v8m57-8v8m7-8v8m1-8v8m8-8v8m59-8v8m40-8v8M957.5 528v8m8-8v8m3-8v8m50-8v8m7-8v8m69-8v8m1-8v8m5-8v8m22-8v8m1-8v8m8-8v8m9-8v8m42-8v8m22-8v8m1-8v8m22-8v8m6-8v8m4-8v8m2-8v8m16-8v8m21-8v8m23-8v8m12-8v8m1-8v8m15-8v8m8-8v8M945.5 552v8m9-8v8m1-8v8m9-8v8m18-8v8m7-8v8m7-8v8m2-8v8m1-8v8m5-8v8m17-8v8m1-8v8m4-8v8m6-8v8m1-8v8m5-8v8m18-8v8m4-8v8m1-8v8m4-8v8m7-8v8m2-8v8m2-8v8m1-8v8m2-8v8m8-8v8m4-8v8m15-8v8m11-8v8m27-8v8m5-8v8m3-8v8m1-8v8m30-8v8m1-8v8m4-8v8m4-8v8m1-8v8m22-8v8m1-8v8m23-8v8m3-8v8m6-8v8m2-8v8m15-8v8m9-8v8M1003.5 560v8m1-8v8m15-8v8m48-8v8m23-8v8m25-8v8m233-8v8M1538.5 568v8M939.5 576v8m3-8v8m11-8v8m1-8v8m8-8v8m2-8v8m1-8v8m9-8v8m5-8v8m7-8v8m1-8v8m11-8v8m3-8v8m1-8v8m1-8v8m1-8v8m1-8v8m1-8v8m1-8v8m1-8v8m1-8v8m2-8v8m13-8v8m1-8v8m12-8v8m1-8v8m1-8v8m14-8v8m12-8v8m5-8v8m1-8v8m3-8v8m1-8v8m2-8v8m17-8v8m1-8v8m24-8v8m1-8v8m6-8v8m7-8v8m6-8v8m26-8v8m2-8v8m13-8v8m1-8v8m1-8v8m3-8v8m6-8v8m2-8v8m14-8v8m1-8v8m8-8v8m6-8v8m3-8v8m12-8v8m16-8v8m7-8v8m4-8v8m9-8v8m5-8v8m1-8v8m45-8v8M957.5 600v8m34-8v8m38-8v8m1-8v8m21-8v8m41-8v8m11-8v8m1-8v8m1-8v8m47-8v8m6-8v8m23-8v8m30-8v8m2-8v8m29-8v8m1-8v8m1-8v8m45-8v8m1-8v8m33-8v8m4-8v8m46-8v8m22-8v8m11-8v8m1-8v8m1-8v8m2-8v8m1-8v8m10-8v8m1-8v8m32-8v8m44-8v8m12-8v8m32-8v8m3-8v8M954.5 656v8m2-8v8m5-8v8m1-8v8m5-8v8m8-8v8m1-8v8m4-8v8m17-8v8m4-8v8m1-8v8m14-8v8m1-8v8m1-8v8m2-8v8m1-8v8m4-8v8m7-8v8m3-8v8m15-8v8m12-8v8m4-8v8m2-8v8m2-8v8m8-8v8m3-8v8m21-8v8m22-8v8m6-8v8m13-8v8m2-8v8m8-8v8m2-8v8m1-8v8m12-8v8m1-8v8m1-8v8m1-8v8m7-8v8m3-8v8m3-8v8m7-8v8m11-8v8m12-8v8m15-8v8m8-8v8m1-8v8m8-8v8m3-8v8m8-8v8m3-8v8m10-8v8m2-8v8m64-8v8m28-8v8m1-8v8"/>
<path stroke="#4393C3" d="M1037.5 40v8m1-8v8m13-8v8m97-8v8m49-8v8m35-8v8m1-8v8m8-8v8m38-8v8m18-8v8m22-8v8m22-8v8m20-8v8m7-8v8m32-8v8m1-8v8m24-8v8m1-8v8m5-8v8m26-8v8m5-8v8m2-8v8m5-8v8m21-8v8m1-8v8m9-8v8m7-8v8m3-8v8m13-8v8m7-8v8m10-8v8m4-8v8m24-8v8m15-8v8m41-8v8m1-8v8m1-8v8m7-8v8M1142.5 72v8m143-8v8m13-8v8m13-8v8m50-8v8m1-8v8m5-8v8m1-8v8m10-8v8m10-8v8m31-8v8m11-8v8m1-8v8m20-8v8m1-8v8m16-8v8m3-8v8m9-8v8m1-8v8m1-8v8m20-8v8m2-8v8m2-8v8m18-8v8m7-8v8m2-8v8m1-8v8m39-8v8m15-8v8m9-8v8m5-8v8m1-8v8m19-8v8m7-8v8m1-8v8M1555.5 80v8m1-8v8m5-8v8m51-8v8M1052.5 88v8m27-8v8m46-8v8m31-8v8m11-8v8m54-8v8m54-8v8m9-8v8m21-8v8m1-8v8m9-8v8m1-8v8m27-8v8m3-8v8m1-8v8m5-8v8m1-8v8m33-8v8m1-8v8m2-8v8m2-8v8m60-8v8m19-8v8m1-8v8m2-8v8m1-8v8m5-8v8m2-8v8m40-8v8m14-8v8m32-8v8m1-8v8m1-8v8m16-8v8m1-8v8m1-8v8m5-8v8m1-8v8m8-8v8m30-8v8m1-8v8M1213.5 96v8m126-8v8M1112.5 104v8m190-8v8m3-8v8m1-8v8m48-8v8m2-8v8m24-8v8m27-8v8m5-8v8m40-8v8m6-8v8m4-8v8m1-8v8m33-8v8m35-8v8m4-8v8m1-8v8m18-8v8m8-8v8m2-8v8m2-8v8m21-8v8m6-8v8m12-8v8m18-8v8m1-8v8M1127.5 120v8m99-8v8m1-8v8m7-8v8m11-8v8m22-8v8m2-8v8M981.5 152v8m33-8v8M1113.5 160v8m7-8v8m15-8v8M1057.5 176v8m64-8v8m22-8v8m45-8v8m1-8v8M940.5 184v8m1-8v8m1-8v8m7-8v8m26-8v8m13-8v8m10-8v8m22-8v8m1-8v8m90-8v8m58-8v8M1173.5 248v8m1-8v8m1-8v8M968.5 392v8m39-8v8m12-8v8m77-8v8m76-8v8m1-8v8m32-8v8m13-8v8m23-8v8M1104.5 408v8m98-8v8m1-8v8M1037.5 424v8m80-8v8m97-8v8m22-8v8m165-8v8m66-8v8m8-8v8m1-8v8m13-8v8m6-8v8m31-8v8m84-8v8M980.5 496v8m8-8v8m26-8v8m34-8v8m38-8v8m54-8v8m23-8v8m74-8v8m1-8v8m30-8v8M984.5 504v8m51-8v8m33-8v8m39-8v8m147-8v8m1-8v8m11-8v8m32-8v8m1-8v8m7-8v8M964.5 520v8m4-8v8m8-8v8m1-8v8m9-8v8m3-8v8m63-8v8m3-8v8m2-8v8m1-8v8m6-8v8m6-8v8m7-8v8m9-8v8m1-8v8m19-8v8m10-8v8m35-8v8m25-8v8m4-8v8m1-8v8m9-8v8m20-8v8m9-8v8m39-8v8M949.5 528v8m68-8v8m15-8v8m30-8v8m1-8v8m50-8v8m34-8v8m6-8v8m47-8v8m45-8v8M980.5 552v8m1-8v8m140-8v8m1-8v8m5-8v8m71-8v8m55-8v8m30-8v8m1-8v8m204-8v8M1219.5 560v8m128-8v8M1533.5 568v8m1-8v8M959.5 576v8m1-8v8m1-8v8m6-8v8m10-8v8m4-8v8m2-8v8m13-8v8m1-8v8m15-8v8m1-8v8m13-8v8m7-8v8m18-8v8m1-8v8m26-8v8m3-8v8m8-8v8m2-8v8m30-8v8m3-8v8m5-8v8m19-8v8m5-8v8m1-8v8m1-8v8m3-8v8m6-8v8m4-8v8m1-8v8m4-8v8m3-8v8m1-8v8m28-8v8m9-8v8m43-8v8m1-8v8m3-8v8m25-8v8m32-8v8m1-8v8m22-8v8M948.5 600v8m19-8v8m41-8v8m85-8v8m25-8v8m85-8v8m5-8v8m179-8v8m50-8v8m47-8v8M959.5 656v8m1-8v8m17-8v8m7-8v8m23-8v8m5-8v8m22-8v8m25-8v8m77-8v8m1-8v8m3-8v8m9-8v8m9-8v8m1-8v8m40-8v8m16-8v8m18-8v8m35-8v8m11-8v8"/>
<path stroke="#D6A39E" d="M1110.5 40v8M1575.5 48v8m1-8v8M1226.5 56v8m144-8v8m99-8v8m1-8v8M986.5 64v8m395-8v8M939.5 72v8M999.5 80v8m11-8v8m1-8v8M957.5 88v8m43-8v8m1-8v8m490-8v8m66-8v8M1220.5 96v8m337-8v8M1010.5 104v8M1431.5 112v8m160-8v8M1502.5 120v8M1147.5 144v8m1-8v8M1511.5 152v8m30-8v8m1-8v8M1204.5 176v8m1-8v8M1158.5 184v8m1-8v8m298-8v8M1083.5 192v8m1-8v8M1096.5 200v8m39-8v8m101-8v8M1162.5 208v8M1062.5 216v8m46-8v8m62-8v8M1072.5 224v8m41-8v8m20-8v8m1-8v8m171-8v8m150-8v8m150-8v8M1191.5 232v8m110-8v8M1117.5 240v8m39-8v8m133-8v8m1-8v8M939.5 256v8m158-8v8m1-8v8m36-8v8M1049.5 264v8m81-8v8m288-8v8m5-8v8M1113.5 272v8m36-8v8m19-8v8m194-8v8m147-8v8m15-8v8m1-8v8M954.5 280v8m275-8v8m109-8v8m128-8v8m94-8v8m1-8v8M1124.5 288v8m118-8v8m43-8v8m31-8v8m20-8v8m2-8v8m6-8v8m188-8v8m1-8v8M1208.5 296v8m30-8v8m35-8v8M1275.5 304v8m1-8v8m196-8v8m1-8v8M1237.5 312v8m12-8v8m8-8v8m69-8v8m75-8v8m50-8v8m77-8v8M1224.5 320v8m1-8v8m17-8v8m131-8v8m19-8v8m162-8v8M967.5 328v8m1-8v8m284-8v8m119-8v8m50-8v8m10-8v8m13-8v8m135-8v8M1232.5 336v8m52-8v8m158-8v8m83-8v8M1199.5 344v8m178-8v8m53-8v8m67-8v8M1468.5 352v8m1-8v8m92-8v8M1276.5 360v8M1385.5 368v8m70-8v8m1-8v8m52-8v8M1236.5 376v8m1-8v8m96-8v8m36-8v8m121-8v8M1259.5 384v8m279-8v8m1-8v8m91-8v8M1171.5 392v8m134-8v8m52-8v8M980.5 400v8m392-8v8m259-8v8M1298.5 408v8m1-8v8m61-8v8m1-8v8M1304.5 416v8m1-8v8m85-8v8M1291.5 424v8m76-8v8M1076.5 432v8m1-8v8M950.5 440v8m424-8v8m34-8v8m63-8v8m60-8v8m22-8v8M1004.5 448v8m46-8v8m40-8v8m1-8v8m220-8v8m307-8v8M1388.5 456v8m1-8v8m61-8v8m19-8v8m65-8v8M1103.5 464v8m297-8v8m31-8v8m129-8v8m1-8v8M1418.5 472v8m1-8v8M1160.5 480v8m224-8v8m1-8v8m33-8v8m3-8v8m176-8v8m19-8v8M1323.5 488v8m128-8v8m150-8v8M982.5 496v8M1399.5 504v8m3-8v8m134-8v8M1070.5 512v8m304-8v8m21-8v8m1-8v8m27-8v8m1-8v8m11-8v8m9-8v8m14-8v8m23-8v8M1509.5 520v8m84-8v8M1498.5 528v8M1148.5 536v8m39-8v8m168-8v8m1-8v8m32-8v8M1271.5 544v8m1-8v8m101-8v8m5-8v8m153-8v8M1200.5 552v8m373-8v8m1-8v8M957.5 560v8m1-8v8m97-8v8m458-8v8M1412.5 568v8m1-8v8m3-8v8m1-8v8m33-8v8m55-8v8m41-8v8m21-8v8M1228.5 584v8m100-8v8m137-8v8m98-8v8m1-8v8m6-8v8M1398.5 592v8m57-8v8m78-8v8m1-8v8M1237.5 600v8m131-8v8m184-8v8m1-8v8m19-8v8m14-8v8M1029.5 608v8m263-8v8m1-8v8m276-8v8m21-8v8M1170.5 616v8m249-8v8m166-8v8M1497.5 624v8m66-8v8m21-8v8m6-8v8m13-8v8m1-8v8M1593.5 632v8m8-8v8M1323.5 640v8m234-8v8M1450.5 648v8m99-8v8m1-8v8m15-8v8m31-8v8M1601.5 656v8M1554.5 672v8m1-8v8m33-8v8m1-8v8m11-8v8"/>
<path stroke="#6DADD1" d="M1118.5 40v8m42-8v8m40-8v8m12-8v8m16-8v8m25-8v8m40-8v8m46-8v8m3-8v8m1-8v8m21-8v8m12-8v8m11-8v8m1-8v8m1-8v8m5-8v8m1-8v8m19-8v8m7-8v8m13-8v8m11-8v8m4-8v8m1-8v8m1-8v8m1-8v8m1-8v8m2-8v8m1-8v8m23-8v8m1-8v8m5-8v8m9-8v8m19-8v8m5-8v8m18-8v8m1-8v8m1-8v8m8-8v8m4-8v8m1-8v8m1-8v8m1-8v8m19-8v8m2-8v8m3-8v8m3-8v8m18-8v8m2-8v8m1-8v8m12-8v8m8-8v8m7-8v8M1288.5 72v8m8-8v8m5-8v8m1-8v8m1-8v8m5-8v8m7-8v8m7-8v8m1-8v8m18-8v8m5-8v8m1-8v8m2-8v8m14-8v8m2-8v8m1-8v8m4-8v8m1-8v8m19-8v8m5-8v8m39-8v8m1-8v8m34-8v8m1-8v8m13-8v8m9-8v8m1-8v8m1-8v8m1-8v8m8-8v8m13-8v8m3-8v8m1-8v8m15-8v8m6-8v8m9-8v8m2-8v8m11-8v8m6-8v8m11-8v8m2-8v8m1-8v8m32-8v8m6-8v8m3-8v8m1-8v8M1547.5 80v8m15-8v8m1-8v8m12-8v8m2-8v8m11-8v8m1-8v8m9-8v8m12-8v8m13-8v8M1024.5 88v8m12-8v8m61-8v8m19-8v8m5-8v8m115-8v8m53-8v8m29-8v8m7-8v8m6-8v8m1-8v8m2-8v8m21-8v8m5-8v8m10-8v8m8-8v8m2-8v8m2-8v8m1-8v8m1-8v8m10-8v8m1-8v8m1-8v8m13-8v8m8-8v8m1-8v8m14-8v8m4-8v8m1-8v8m6-8v8m14-8v8m5-8v8m3-8v8m1-8v8m26-8v8m1-8v8m8-8v8m1-8v8m8-8v8m1-8v8m11-8v8m6-8v8m5-8v8m1-8v8m7-8v8m1-8v8m6-8v8m30-8v8m3-8v8m24-8v8m2-8v8m5-8v8m1-8v8m3-8v8m1-8v8m6-8v8m2-8v8M1370.5 96v8m1-8v8M1142.5 104v8m150-8v8m40-8v8m3-8v8m9-8v8m3-8v8m10-8v8m14-8v8m6-8v8m11-8v8m10-8v8m6-8v8m31-8v8m3-8v8m1-8v8m7-8v8m36-8v8m26-8v8m22-8v8m4-8v8m3-8v8m5-8v8m5-8v8m14-8v8m37-8v8m21-8v8m1-8v8m7-8v8M1152.5 120v8m5-8v8m44-8v8m1-8v8m2-8v8m19-8v8m9-8v8m11-8v8m1-8v8m4-8v8m23-8v8m1-8v8M949.5 152v8m1-8v8m13-8v8m13-8v8m29-8v8m12-8v8M1169.5 160v8m1-8v8M1110.5 176v8m1-8v8m55-8v8m1-8v8m13-8v8M937.5 184v8m1-8v8m15-8v8m1-8v8m2-8v8m7-8v8m1-8v8m1-8v8m19-8v8m5-8v8m3-8v8m1-8v8m26-8v8m15-8v8m102-8v8m29-8v8m1-8v8m25-8v8m1-8v8M1115.5 248v8M1126.5 256v8M1344.5 368v8M1307.5 376v8m1-8v8m23-8v8M991.5 392v8m46-8v8m12-8v8m1-8v8m21-8v8m2-8v8m7-8v8m42-8v8m7-8v8m6-8v8m1-8v8m43-8v8m4-8v8m1-8v8m18-8v8m49-8v8m18-8v8m59-8v8m84-8v8m2-8v8m76-8v8m25-8v8m1-8v8m75-8v8M972.5 408v8m1-8v8m58-8v8m10-8v8m180-8v8m125-8v8M1030.5 424v8m36-8v8m37-8v8m1-8v8m27-8v8m48-8v8m1-8v8m10-8v8m52-8v8m21-8v8m21-8v8m95-8v8m1-8v8m19-8v8m27-8v8m2-8v8m63-8v8m10-8v8m32-8v8m4-8v8m85-8v8M1301.5 432v8M947.5 496v8m15-8v8m34-8v8m6-8v8m17-8v8m1-8v8m32-8v8m25-8v8m2-8v8m44-8v8m37-8v8m14-8v8m32-8v8m5-8v8m1-8v8m1-8v8m92-8v8m13-8v8M938.5 504v8m1-8v8m7-8v8m19-8v8m26-8v8m1-8v8m62-8v8m56-8v8m41-8v8m12-8v8m23-8v8M946.5 520v8m3-8v8m13-8v8m1-8v8m2-8v8m18-8v8m4-8v8m32-8v8m16-8v8m1-8v8m2-8v8m2-8v8m26-8v8m3-8v8m4-8v8m5-8v8m1-8v8m1-8v8m11-8v8m1-8v8m12-8v8m1-8v8m9-8v8m29-8v8m3-8v8m2-8v8m11-8v8m32-8v8m5-8v8m12-8v8m10-8v8m31-8v8m97-8v8m1-8v8m129-8v8m44-8v8M940.5 528v8m1-8v8m14-8v8m113-8v8m11-8v8m33-8v8m38-8v8m108-8v8m14-8v8m26-8v8m48-8v8M953.5 552v8m5-8v8m7-8v8m1-8v8m1-8v8m11-8v8m1-8v8m5-8v8m16-8v8m5-8v8m8-8v8m5-8v8m23-8v8m3-8v8m29-8v8m16-8v8m7-8v8m24-8v8m74-8v8m10-8v8m1-8v8m12-8v8m24-8v8m8-8v8m3-8v8m12-8v8M941.5 560v8M949.5 576v8m6-8v8m1-8v8m10-8v8m9-8v8m1-8v8m12-8v8m26-8v8m2-8v8m2-8v8m1-8v8m1-8v8m2-8v8m1-8v8m20-8v8m3-8v8m14-8v8m1-8v8m15-8v8m4-8v8m12-8v8m1-8v8m12-8v8m1-8v8m1-8v8m7-8v8m1-8v8m2-8v8m24-8v8m1-8v8m24-8v8m4-8v8m1-8v8m38-8v8m1-8v8m22-8v8m1-8v8m7-8v8m1-8v8m1-8v8m1-8v8m6-8v8m6-8v8m1-8v8m6-8v8m4-8v8m6-8v8m31-8v8m1-8v8m10-8v8m1-8v8m27-8v8M1002.5 600v8m23-8v8m1-8v8m7-8v8m14-8v8m7-8v8m37-8v8m5-8v8m67-8v8m28-8v8m1-8v8m17-8v8m48-8v8m67-8v8m32-8v8m11-8v8m66-8v8m1-8v8m22-8v8m3-8v8m3-8v8m46-8v8m26-8v8m1-8v8M938.5 656v8m7-8v8m1-8v8m20-8v8m22-8v8m1-8v8m9-8v8m1-8v8m1-8v8m3-8v8m1-8v8m2-8v8m3-8v8m10-8v8m5-8v8m12-8v8m11-8v8m25-8v8m41-8v8m4-8v8m30-8v8m1-8v8m4-8v8m8-8v8m1-8v8m33-8v8m1-8v8m18-8v8m3-8v8m1-8v8m2-8v8m1-8v8m1-8v8m3-8v8m7-8v8m1-8v8m4-8v8m19-8v8m3-8v8m18-8v8m8-8v8m5-8v8m208-8v8m1-8v8"/>
<path stroke="#C53D3C" d="M1204.5 40v8m30-8v8m1-8v8m99-8v8M1018.5 48v8m1-8v8m21-8v8m264-8v8m87-8v8m152-8v8M950.5 56v8m278-8v8m108-8v8m14-8v8m151-8v8m1-8v8m57-8v8M1470.5 64v8M993.5 72v8m1-8v8m39-8v8m1-8v8M1237.5 96v8M1016.5 104v8m95-8v8m506-8v8M937.5 112v8m55-8v8m126-8v8m18-8v8m93-8v8m191-8v8m23-8v8m56-8v8M1149.5 128v8m398-8v8M1386.5 136v8M1155.5 144v8m459-8v8M1038.5 152v8m1-8v8m46-8v8m1-8v8m49-8v8m20-8v8m211-8v8m75-8v8M1040.5 168v8m1-8v8m122-8v8m9-8v8m130-8v8m99-8v8M1103.5 176v8m369-8v8M1033.5 184v8m32-8v8m50-8v8M1073.5 192v8m161-8v8m290-8v8M1024.5 200v8m71-8v8m15-8v8m5-8v8m11-8v8m3-8v8m4-8v8m1-8v8m2-8v8m4-8v8m2-8v8m16-8v8m1-8v8m1-8v8m5-8v8m3-8v8m2-8v8m8-8v8m14-8v8m4-8v8m3-8v8m19-8v8m74-8v8m60-8v8M1137.5 208v8m5-8v8m9-8v8m8-8v8m44-8v8m36-8v8m10-8v8m160-8v8m152-8v8m17-8v8M1095.5 216v8m16-8v8m28-8v8m19-8v8m1-8v8m118-8v8m307-8v8M1126.5 224v8m26-8v8m1-8v8m14-8v8m1-8v8m1-8v8m18-8v8m13-8v8m27-8v8m53-8v8m11-8v8m41-8v8m1-8v8m84-8v8m25-8v8m41-8v8m1-8v8m41-8v8m18-8v8m11-8v8m46-8v8m14-8v8M1137.5 232v8m35-8v8m4-8v8m402-8v8M1052.5 240v8m59-8v8m51-8v8m109-8v8m92-8v8m1-8v8m11-8v8m1-8v8m78-8v8m39-8v8M1186.5 248v8m5-8v8m1-8v8m56-8v8m14-8v8m106-8v8m108-8v8m1-8v8m33-8v8m28-8v8m55-8v8m1-8v8M1151.5 256v8m7-8v8m21-8v8m220-8v8m106-8v8M1170.5 264v8m22-8v8m124-8v8m58-8v8m20-8v8m2-8v8m14-8v8m6-8v8m120-8v8m27-8v8m25-8v8M1123.5 272v8m2-8v8m1-8v8m7-8v8m53-8v8m1-8v8m136-8v8m2-8v8m4-8v8m113-8v8m72-8v8m1-8v8m13-8v8m1-8v8m32-8v8m8-8v8m23-8v8m1-8v8M1101.5 280v8m1-8v8m62-8v8m42-8v8m2-8v8m1-8v8m11-8v8m3-8v8m10-8v8m3-8v8m3-8v8m1-8v8m1-8v8m1-8v8m1-8v8m1-8v8m3-8v8m10-8v8m6-8v8m21-8v8m267-8v8m1-8v8M1201.5 288v8m1-8v8m17-8v8m6-8v8m1-8v8m19-8v8m5-8v8m3-8v8m22-8v8m11-8v8m23-8v8m1-8v8m5-8v8m11-8v8m29-8v8m5-8v8m14-8v8m1-8v8m2-8v8m1-8v8m135-8v8m35-8v8m28-8v8m37-8v8M941.5 296v8m277-8v8m1-8v8m11-8v8m7-8v8m5-8v8m17-8v8m5-8v8m130-8v8m46-8v8m89-8v8M972.5 304v8m227-8v8m1-8v8m7-8v8m13-8v8m3-8v8m17-8v8m8-8v8m1-8v8m19-8v8m9-8v8m95-8v8m6-8v8m9-8v8m32-8v8m1-8v8m10-8v8m28-8v8m10-8v8m24-8v8m92-8v8m1-8v8M936.5 312v8m18-8v8m252-8v8m2-8v8m8-8v8m6-8v8m2-8v8m1-8v8m13-8v8m21-8v8m243-8v8m24-8v8M1220.5 320v8m1-8v8m7-8v8m5-8v8m10-8v8m1-8v8m10-8v8m11-8v8m5-8v8m1-8v8m99-8v8m5-8v8m48-8v8m22-8v8m16-8v8m47-8v8m1-8v8m84-8v8m23-8v8M1078.5 328v8m2-8v8m21-8v8m17-8v8m85-8v8m28-8v8m6-8v8m1-8v8m10-8v8m26-8v8m1-8v8m6-8v8m2-8v8m101-8v8m32-8v8m1-8v8m6-8v8m24-8v8m1-8v8m22-8v8m12-8v8m4-8v8m1-8v8m9-8v8m43-8v8m64-8v8m15-8v8m12-8v8M1211.5 336v8m6-8v8m1-8v8m7-8v8m5-8v8m1-8v8m2-8v8m36-8v8m8-8v8m108-8v8m8-8v8m2-8v8m55-8v8m39-8v8m67-8v8M1082.5 344v8m124-8v8m1-8v8m13-8v8m26-8v8m6-8v8m1-8v8m8-8v8m7-8v8m3-8v8m6-8v8m2-8v8m123-8v8m1-8v8m26-8v8m61-8v8m23-8v8m61-8v8m1-8v8M1213.5 352v8m16-8v8m1-8v8m16-8v8m1-8v8m15-8v8m2-8v8m114-8v8m8-8v8m24-8v8m23-8v8m48-8v8M965.5 360v8m303-8v8m1-8v8m88-8v8m53-8v8m46-8v8m13-8v8m50-8v8m1-8v8m87-8v8M996.5 368v8m52-8v8m148-8v8m48-8v8m31-8v8m13-8v8m1-8v8m75-8v8m26-8v8m141-8v8m1-8v8m85-8v8m4-8v8M1058.5 376v8m19-8v8m1-8v8m52-8v8m261-8v8m72-8v8m1-8v8m23-8v8m72-8v8M1224.5 384v8m94-8v8m9-8v8m23-8v8m1-8v8m10-8v8m20-8v8m23-8v8m57-8v8m18-8v8m9-8v8m18-8v8m4-8v8m1-8v8m35-8v8m3-8v8m32-8v8m1-8v8M1307.5 392v8m49-8v8M993.5 400v8m61-8v8m122-8v8m24-8v8m114-8v8m1-8v8m11-8v8m38-8v8m19-8v8m47-8v8m65-8v8m7-8v8m15-8v8m1-8v8m46-8v8M1372.5 408v8m4-8v8m22-8v8m43-8v8m56-8v8m27-8v8m1-8v8m42-8v8m63-8v8M1233.5 416v8m52-8v8m1-8v8m14-8v8m70-8v8m1-8v8m34-8v8m24-8v8m50-8v8m18-8v8m33-8v8m1-8v8m32-8v8M966.5 424v8m108-8v8m222-8v8M940.5 432v8m32-8v8m13-8v8m2-8v8m19-8v8m298-8v8m46-8v8m8-8v8m27-8v8m37-8v8m18-8v8m12-8v8m57-8v8M1385.5 440v8m3-8v8m2-8v8m3-8v8m1-8v8m24-8v8m21-8v8m1-8v8m16-8v8m10-8v8m15-8v8m6-8v8m15-8v8m8-8v8m9-8v8m1-8v8m26-8v8M1380.5 448v8m16-8v8m6-8v8m8-8v8m5-8v8m7-8v8m10-8v8m5-8v8m1-8v8m9-8v8m4-8v8m1-8v8m7-8v8m11-8v8m1-8v8m15-8v8m22-8v8m4-8v8m4-8v8m19-8v8m15-8v8m46-8v8m36-8v8M957.5 456v8m422-8v8m7-8v8m1-8v8m10-8v8m1-8v8m1-8v8m28-8v8m1-8v8m3-8v8m4-8v8m23-8v8m27-8v8m5-8v8m13-8v8m13-8v8m4-8v8m9-8v8m37-8v8m21-8v8m38-8v8m3-8v8m1-8v8M1006.5 464v8m34-8v8m332-8v8m8-8v8m1-8v8m1-8v8m13-8v8m8-8v8m1-8v8m6-8v8m6-8v8m7-8v8m1-8v8m21-8v8m1-8v8m12-8v8m1-8v8m8-8v8m17-8v8m4-8v8m10-8v8m1-8v8m13-8v8m27-8v8m74-8v8m3-8v8m5-8v8M1380.5 472v8m10-8v8m7-8v8m1-8v8m5-8v8m1-8v8m8-8v8m1-8v8m16-8v8m13-8v8m49-8v8M1015.5 480v8m380-8v8m1-8v8m6-8v8m1-8v8m7-8v8m5-8v8m10-8v8m5-8v8m11-8v8m7-8v8m1-8v8m1-8v8m61-8v8m88-8v8m24-8v8M1086.5 488v8m112-8v8m169-8v8m21-8v8m1-8v8m3-8v8m1-8v8m14-8v8m4-8v8m9-8v8m9-8v8m9-8v8m2-8v8m8-8v8m5-8v8m1-8v8m7-8v8m1-8v8m21-8v8m27-8v8m1-8v8M958.5 496v8m77-8v8m11-8v8m269-8v8m71-8v8m10-8v8m1-8v8m31-8v8m2-8v8m2-8v8m7-8v8m1-8v8m1-8v8m1-8v8m3-8v8m10-8v8m11-8v8m38-8v8m70-8v8M1065.5 504v8m309-8v8m7-8v8m1-8v8m12-8v8m27-8v8m7-8v8m12-8v8m6-8v8m37-8v8m1-8v8m11-8v8m13-8v8m5-8v8m11-8v8m13-8v8m14-8v8m24-8v8m1-8v8m19-8v8m35-8v8m1-8v8M978.5 512v8m231-8v8m96-8v8m76-8v8m5-8v8m1-8v8m4-8v8m6-8v8m8-8v8m7-8v8m34-8v8m4-8v8m4-8v8m92-8v8M1072.5 520v8m230-8v8m71-8v8m1-8v8m12-8v8m12-8v8m7-8v8m12-8v8m5-8v8m1-8v8m8-8v8m1-8v8m3-8v8m1-8v8m179-8v8M1435.5 528v8m13-8v8m1-8v8m14-8v8m3-8v8m75-8v8m33-8v8m44-8v8M949.5 536v8m164-8v8m1-8v8m28-8v8m2-8v8m46-8v8m1-8v8m58-8v8m1-8v8m1-8v8m1-8v8m3-8v8m14-8v8m1-8v8m20-8v8m30-8v8m52-8v8m1-8v8m2-8v8m4-8v8m1-8v8m65-8v8m1-8v8m21-8v8m28-8v8m1-8v8m13-8v8m8-8v8m7-8v8m1-8v8m37-8v8M979.5 544v8m145-8v8m111-8v8m4-8v8m44-8v8m42-8v8m36-8v8m23-8v8m1-8v8m17-8v8m28-8v8m38-8v8m24-8v8m23-8v8m9-8v8m1-8v8m1-8v8M1334.5 552v8m66-8v8m23-8v8m11-8v8m48-8v8m1-8v8M1438.5 560v8m43-8v8m1-8v8m24-8v8m13-8v8m12-8v8m3-8v8m34-8v8m14-8v8M1289.5 568v8m68-8v8m18-8v8m33-8v8m27-8v8m21-8v8m8-8v8m24-8v8m34-8v8m60-8v8m1-8v8M1312.5 576v8m1-8v8m3-8v8m62-8v8m7-8v8m23-8v8m113-8v8m20-8v8m3-8v8m33-8v8M1219.5 584v8m38-8v8m65-8v8m93-8v8m130-8v8m46-8v8m32-8v8m2-8v8M1230.5 592v8m62-8v8m28-8v8m55-8v8m6-8v8m63-8v8m15-8v8m2-8v8m20-8v8m33-8v8m1-8v8m20-8v8m1-8v8m7-8v8m35-8v8m22-8v8m1-8v8m7-8v8M1034.5 600v8m1-8v8m35-8v8m520-8v8m12-8v8m9-8v8m18-8v8m4-8v8M1057.5 608v8m220-8v8m186-8v8m1-8v8m90-8v8m5-8v8m8-8v8m12-8v8m7-8v8m14-8v8m1-8v8m10-8v8m1-8v8m10-8v8m2-8v8m1-8v8m1-8v8M996.5 616v8m450-8v8m108-8v8m3-8v8m19-8v8m11-8v8m2-8v8m7-8v8m16-8v8m7-8v8m10-8v8m1-8v8M1045.5 624v8m502-8v8m1-8v8m1-8v8m4-8v8m13-8v8m3-8v8m8-8v8m21-8v8m10-8v8m5-8v8m9-8v8m1-8v8m3-8v8M1295.5 632v8m213-8v8m65-8v8m16-8v8m7-8v8M1241.5 640v8m95-8v8m180-8v8m34-8v8m12-8v8m45-8v8m8-8v8m12-8v8m1-8v8M1187.5 648v8m78-8v8m1-8v8m131-8v8m30-8v8m51-8v8m56-8v8m20-8v8m1-8v8m11-8v8m4-8v8m1-8v8m1-8v8m1-8v8m3-8v8m18-8v8m21-8v8m4-8v8m12-8v8m1-8v8M1203.5 656v8m1-8v8m408-8v8m1-8v8m10-8v8m1-8v8M1549.5 664v8m59-8v8m8-8v8m3-8v8m7-8v8M1220.5 672v8m291-8v8m8-8v8m50-8v8m1-8v8m6-8v8m1-8v8m1-8v8m7-8v8m9-8v8m10-8v8m28-8v8"/>
<path stroke="#DAAFAA" d="M1323.5 40v8M938.5 56v8m67-8v8M1020.5 64v8m265-8v8m211-8v8m1-8v8m21-8v8M1015.5 80v8m321-8v8M1313.5 88v8m45-8v8M957.5 96v8m1-8v8m614-8v8M979.5 104v8m243-8v8m108-8v8m1-8v8m146-8v8M951.5 112v8m323-8v8m1-8v8m102-8v8m1-8v8M1038.5 120v8m539-8v8M1101.5 128v8m338-8v8m129-8v8m59-8v8M1132.5 136v8m24-8v8m29-8v8M1030.5 152v8m77-8v8m292-8v8m3-8v8M1205.5 160v8m75-8v8m1-8v8m76-8v8M1062.5 168v8m8-8v8m1-8v8m20-8v8m11-8v8m60-8v8m436-8v8m13-8v8m1-8v8M1036.5 176v8m1-8v8m30-8v8m195-8v8m1-8v8M1080.5 192v8m26-8v8m41-8v8M1112.5 200v8m25-8v8m43-8v8M1074.5 208v8m1-8v8m69-8v8m1-8v8m7-8v8m15-8v8M1060.5 216v8m36-8v8m72-8v8m1-8v8m3-8v8m30-8v8m9-8v8m86-8v8m1-8v8M1125.5 224v8m12-8v8m231-8v8m23-8v8m34-8v8m1-8v8m61-8v8M1166.5 240v8m311-8v8M1032.5 248v8m174-8v8m324-8v8m1-8v8m1-8v8M1141.5 256v8m16-8v8m27-8v8m107-8v8m40-8v8M1037.5 264v8m1-8v8m34-8v8m197-8v8m306-8v8M1156.5 272v8m16-8v8m136-8v8M1246.5 280v8m15-8v8m183-8v8m61-8v8m102-8v8M1206.5 288v8m2-8v8m126-8v8m22-8v8m3-8v8m85-8v8M1562.5 304v8M1316.5 312v8m20-8v8m158-8v8m44-8v8M1279.5 320v8m1-8v8m9-8v8m102-8v8m18-8v8m48-8v8M1012.5 328v8m12-8v8m27-8v8m211-8v8m11-8v8m89-8v8m34-8v8m46-8v8m1-8v8m42-8v8m24-8v8M1209.5 336v8m11-8v8m31-8v8m95-8v8m1-8v8m67-8v8M1221.5 344v8m1-8v8m15-8v8m23-8v8m199-8v8m39-8v8m1-8v8M1414.5 352v8m42-8v8m157-8v8m1-8v8M1454.5 360v8m110-8v8M1498.5 368v8m3-8v8m4-8v8M1011.5 376v8m1-8v8m14-8v8m36-8v8m1-8v8m228-8v8m1-8v8M1072.5 384v8m166-8v8m105-8v8m164-8v8m38-8v8M1061.5 392v8m239-8v8M1319.5 400v8M1029.5 408v8m60-8v8m381-8v8m49-8v8m1-8v8M992.5 416v8m322-8v8m260-8v8M1298.5 424v8M1300.5 432v8m48-8v8m23-8v8m101-8v8m61-8v8M958.5 440v8m1-8v8m1-8v8m503-8v8m17-8v8m101-8v8M1441.5 448v8M1372.5 456v8m75-8v8m120-8v8m44-8v8M1196.5 464v8m215-8v8m1-8v8m60-8v8m8-8v8m14-8v8m24-8v8m106-8v8M1633.5 472v8M1382.5 480v8m1-8v8m10-8v8m69-8v8m1-8v8m62-8v8m32-8v8M993.5 488v8m45-8v8m1-8v8m45-8v8m30-8v8m37-8v8m94-8v8m200-8v8m34-8v8m140-8v8M1155.5 496v8m268-8v8M1007.5 504v8m1-8v8m101-8v8m281-8v8m1-8v8m13-8v8m72-8v8m43-8v8m1-8v8m71-8v8m1-8v8M1024.5 520v8m50-8v8m238-8v8m203-8v8m62-8v8M1536.5 528v8M986.5 536v8m36-8v8m555-8v8M1265.5 544v8m135-8v8m1-8v8m34-8v8m1-8v8m11-8v8m102-8v8M1453.5 552v8m1-8v8m1-8v8m134-8v8M1131.5 560v8m316-8v8m85-8v8m73-8v8m11-8v8M1303.5 568v8m226-8v8M1412.5 576v8m1-8v8M1258.5 584v8m1-8v8M1425.5 592v8M1550.5 600v8m30-8v8m32-8v8M1555.5 608v8M1601.5 616v8M1552.5 624v8M1230.5 632v8m40-8v8m1-8v8m246-8v8m1-8v8M1502.5 648v8m110-8v8M940.5 656v8m93-8v8m16-8v8m57-8v8M1575.5 664v8m15-8v8M1509.5 672v8m1-8v8m22-8v8m93-8v8m1-8v8"/>
<path stroke="#CA7072" d="M1554.5 40v8m1-8v8M1354.5 48v8m169-8v8m108-8v8M1021.5 56v8m369-8v8m104-8v8M1546.5 64v8m86-8v8M1389.5 72v8M1038.5 88v8m125-8v8M1191.5 112v8m118-8v8m227-8v8M948.5 120v8M1030.5 136v8m1-8v8M1314.5 144v8M1083.5 152v8M1008.5 160v8M1078.5 168v8m332-8v8m59-8v8M1083.5 176v8m356-8v8M1328.5 192v8m1-8v8m277-8v8M1151.5 200v8m5-8v8m34-8v8M1114.5 208v8m8-8v8m48-8v8M1134.5 216v8m4-8v8m8-8v8m126-8v8m156-8v8m110-8v8M1077.5 224v8m1-8v8m71-8v8m30-8v8m1-8v8m3-8v8m60-8v8m47-8v8m4-8v8m41-8v8m15-8v8m1-8v8m33-8v8m36-8v8m9-8v8m9-8v8m1-8v8m56-8v8m1-8v8m110-8v8m1-8v8M1465.5 240v8m48-8v8M1445.5 248v8m75-8v8m5-8v8M1127.5 256v8m258-8v8m20-8v8m72-8v8m27-8v8M1112.5 264v8m266-8v8m3-8v8m54-8v8M1121.5 272v8m42-8v8m21-8v8m271-8v8m134-8v8m37-8v8M1234.5 280v8m14-8v8m8-8v8m8-8v8m6-8v8m85-8v8m1-8v8M945.5 288v8m232-8v8m27-8v8m3-8v8m6-8v8m22-8v8m8-8v8m18-8v8m7-8v8m1-8v8m24-8v8m19-8v8m9-8v8m42-8v8m25-8v8m1-8v8m63-8v8M1198.5 296v8m1-8v8m10-8v8m22-8v8m1-8v8m7-8v8m1-8v8m20-8v8m167-8v8m1-8v8M1243.5 304v8m26-8v8m175-8v8M1125.5 312v8m19-8v8m58-8v8m3-8v8m55-8v8m2-8v8m22-8v8m90-8v8m16-8v8m153-8v8m15-8v8m72-8v8m1-8v8M1209.5 320v8m1-8v8m2-8v8m24-8v8m42-8v8m122-8v8m6-8v8m14-8v8m16-8v8m1-8v8m7-8v8m19-8v8m51-8v8m1-8v8M966.5 328v8m248-8v8m7-8v8m22-8v8m7-8v8m28-8v8m2-8v8m94-8v8m166-8v8M991.5 336v8m1-8v8m223-8v8m25-8v8m1-8v8m22-8v8m19-8v8m1-8v8m92-8v8m32-8v8m67-8v8m1-8v8m7-8v8M1201.5 344v8m1-8v8m8-8v8m17-8v8m4-8v8m17-8v8m56-8v8m76-8v8M1226.5 352v8m1-8v8m7-8v8m140-8v8m2-8v8m1-8v8m154-8v8M1101.5 360v8m233-8v8m138-8v8m34-8v8M957.5 368v8m111-8v8m228-8v8m20-8v8m37-8v8m25-8v8m62-8v8m69-8v8m1-8v8m84-8v8m24-8v8m1-8v8M974.5 376v8m265-8v8m307-8v8m32-8v8m1-8v8M965.5 384v8m113-8v8m208-8v8m50-8v8m31-8v8m202-8v8m1-8v8m45-8v8M1015.5 392v8m281-8v8m18-8v8m116-8v8M1102.5 400v8m264-8v8m260-8v8M1291.5 408v8m123-8v8m35-8v8m1-8v8m9-8v8m23-8v8m127-8v8m1-8v8m3-8v8M1197.5 416v8m93-8v8m1-8v8m46-8v8m126-8v8m1-8v8m12-8v8M950.5 432v8m16-8v8m1-8v8m500-8v8m4-8v8M1163.5 440v8m99-8v8m12-8v8m130-8v8m30-8v8m17-8v8m1-8v8m55-8v8m9-8v8m1-8v8M1377.5 448v8m15-8v8m6-8v8m15-8v8m1-8v8m19-8v8m6-8v8m22-8v8m1-8v8m28-8v8m35-8v8m74-8v8m23-8v8M1035.5 456v8m338-8v8m7-8v8m5-8v8m22-8v8m25-8v8m2-8v8m10-8v8m1-8v8m4-8v8m3-8v8m15-8v8m11-8v8m8-8v8m29-8v8m4-8v8m2-8v8m31-8v8M1271.5 464v8m9-8v8m96-8v8m3-8v8m35-8v8m12-8v8m1-8v8m41-8v8m39-8v8m35-8v8m32-8v8M1399.5 472v8m23-8v8m1-8v8m12-8v8m4-8v8m1-8v8M1458.5 480v8m122-8v8M1378.5 488v8m2-8v8m4-8v8m3-8v8m4-8v8m3-8v8m5-8v8m1-8v8m3-8v8m16-8v8m7-8v8m6-8v8m18-8v8m167-8v8M1176.5 496v8m1-8v8m213-8v8m15-8v8m1-8v8m1-8v8m1-8v8m5-8v8m8-8v8m1-8v8m31-8v8m48-8v8m27-8v8m18-8v8M1297.5 504v8m76-8v8m3-8v8m2-8v8m5-8v8m20-8v8m5-8v8m5-8v8m1-8v8m8-8v8m7-8v8m1-8v8m3-8v8m68-8v8m1-8v8m32-8v8M1380.5 512v8m24-8v8m11-8v8m11-8v8m4-8v8m1-8v8m10-8v8m1-8v8m6-8v8m1-8v8m175-8v8M1404.5 520v8m20-8v8m14-8v8m18-8v8m18-8v8m127-8v8M1456.5 528v8m3-8v8m9-8v8m3-8v8m24-8v8m11-8v8m1-8v8m18-8v8m15-8v8m5-8v8M1117.5 536v8m22-8v8m309-8v8m67-8v8M1388.5 544v8m94-8v8m3-8v8m8-8v8m34-8v8m1-8v8m35-8v8m1-8v8m6-8v8m3-8v8m1-8v8M1107.5 552v8m292-8v8m27-8v8m39-8v8m34-8v8m1-8v8m104-8v8M1204.5 560v8m105-8v8m71-8v8m25-8v8m15-8v8m55-8v8m19-8v8m1-8v8m27-8v8m17-8v8M1331.5 568v8m5-8v8m1-8v8m57-8v8m6-8v8m115-8v8M1448.5 576v8m130-8v8m1-8v8M1246.5 584v8m134-8v8m69-8v8m4-8v8m63-8v8m13-8v8m23-8v8M1348.5 592v8m37-8v8m26-8v8m16-8v8m45-8v8m2-8v8m22-8v8m119-8v8M1578.5 600v8m1-8v8m4-8v8m20-8v8m4-8v8M957.5 608v8m1-8v8m89-8v8m29-8v8m439-8v8m15-8v8m1-8v8m20-8v8m34-8v8m4-8v8m3-8v8m1-8v8m20-8v8m1-8v8m1-8v8m14-8v8m1-8v8M994.5 616v8m302-8v8m266-8v8m21-8v8m19-8v8m2-8v8m17-8v8M1221.5 624v8m373-8v8m8-8v8m9-8v8m1-8v8m5-8v8m3-8v8M1571.5 632v8m28-8v8m3-8v8m1-8v8M1569.5 640v8m36-8v8m16-8v8M953.5 648v8m117-8v8m220-8v8m235-8v8m53-8v8m11-8v8m1-8v8m18-8v8m1-8v8M1557.5 656v8m12-8v8m33-8v8M1553.5 664v8m11-8v8m9-8v8m6-8v8m19-8v8m16-8v8M1267.5 672v8m273-8v8m20-8v8m1-8v8"/>
<path stroke="#C4808E" d="M1021.5 48v8m487-8v8m114-8v8m1-8v8M1252.5 56v8M1456.5 64v8m1-8v8M1267.5 88v8M1563.5 120v8M1381.5 128v8M1309.5 144v8M1113.5 200v8m306-8v8m72-8v8M973.5 208v8m144-8v8m21-8v8m31-8v8m3-8v8m17-8v8M1224.5 216v8m1-8v8m385-8v8M1128.5 224v8m153-8v8m146-8v8m1-8v8m140-8v8m1-8v8M1181.5 232v8M1409.5 240v8M1451.5 248v8M1606.5 256v8M1247.5 272v8m197-8v8m1-8v8M1215.5 280v8m15-8v8m51-8v8M1246.5 288v8m5-8v8m56-8v8m55-8v8m209-8v8M1194.5 296v8m7-8v8m12-8v8m1-8v8m13-8v8m7-8v8m1-8v8m28-8v8m8-8v8m1-8v8m338-8v8M1212.5 304v8m1-8v8m28-8v8m17-8v8m12-8v8m168-8v8m1-8v8M1239.5 312v8m1-8v8m5-8v8m22-8v8m12-8v8m190-8v8m1-8v8m20-8v8m1-8v8M1211.5 320v8m15-8v8m29-8v8m172-8v8M1205.5 328v8m18-8v8m18-8v8m19-8v8m4-8v8m1-8v8m110-8v8M1234.5 336v8m16-8v8m5-8v8m19-8v8m4-8v8m137-8v8m32-8v8m1-8v8m121-8v8M1142.5 344v8m56-8v8m18-8v8m13-8v8m33-8v8m5-8v8m28-8v8m1-8v8m95-8v8m1-8v8m34-8v8m1-8v8m40-8v8M1532.5 360v8M1306.5 368v8M1045.5 376v8m443-8v8M1359.5 384v8m226-8v8M1329.5 400v8m270-8v8M1351.5 408v8m1-8v8m38-8v8m29-8v8M1321.5 416v8m70-8v8m1-8v8m98-8v8m61-8v8M1005.5 432v8M1155.5 440v8m1-8v8m274-8v8m82-8v8M1068.5 448v8m319-8v8m42-8v8m91-8v8M1374.5 456v8m59-8v8m26-8v8M1062.5 464v8m374-8v8m33-8v8m41-8v8m21-8v8M1379.5 472v8m26-8v8m5-8v8m22-8v8m1-8v8m1-8v8m106-8v8M1374.5 480v8m1-8v8m49-8v8m10-8v8m2-8v8m11-8v8m5-8v8m1-8v8m98-8v8m35-8v8M1353.5 488v8m81-8v8m18-8v8m5-8v8M969.5 496v8m413-8v8m2-8v8m50-8v8m3-8v8m6-8v8m1-8v8m10-8v8m123-8v8M1401.5 504v8m121-8v8m38-8v8m5-8v8m52-8v8M1433.5 512v8m14-8v8m10-8v8M1376.5 520v8m25-8v8M1238.5 528v8m180-8v8m32-8v8m1-8v8M1119.5 536v8m1-8v8m303-8v8m1-8v8m1-8v8m15-8v8m76-8v8M1266.5 544v8m206-8v8m22-8v8m7-8v8M1381.5 552v8m6-8v8m73-8v8m106-8v8M1403.5 560v8m1-8v8m6-8v8m8-8v8m23-8v8m176-8v8M1066.5 568v8m77-8v8m153-8v8m1-8v8m80-8v8m155-8v8M1290.5 576v8m262-8v8m1-8v8m1-8v8M968.5 584v8m455-8v8m145-8v8M1282.5 592v8m131-8v8m56-8v8m124-8v8M1571.5 600v8M1338.5 608v8m141-8v8m81-8v8m4-8v8m1-8v8m1-8v8m43-8v8m18-8v8M1567.5 616v8m12-8v8m1-8v8m2-8v8M1550.5 624v8m5-8v8m70-8v8m2-8v8M1580.5 632v8m25-8v8m9-8v8m13-8v8m1-8v8M1597.5 640v8m1-8v8m20-8v8M1204.5 648v8m172-8v8m177-8v8m50-8v8m11-8v8m10-8v8M1578.5 656v8m33-8v8m21-8v8m1-8v8M1550.5 664v8m1-8v8m16-8v8m1-8v8m12-8v8M1574.5 672v8m16-8v8m15-8v8m1-8v8m7-8v8m6-8v8"/>
<path stroke="#BE5767" d="M1435.5 48v8M1324.5 80v8M1204.5 88v8M1286.5 104v8M1509.5 112v8m1-8v8M1179.5 144v8M1236.5 160v8M1010.5 168v8m63-8v8M1212.5 176v8M1128.5 192v8m29-8v8M1111.5 200v8m8-8v8m1-8v8m1-8v8m4-8v8m36-8v8m3-8v8m12-8v8m1-8v8m2-8v8m3-8v8m3-8v8m1-8v8m12-8v8m69-8v8m53-8v8m151-8v8M937.5 208v8m49-8v8m118-8v8m7-8v8m8-8v8m9-8v8m5-8v8m43-8v8m1-8v8m3-8v8m4-8v8m8-8v8m5-8v8M1038.5 216v8m1-8v8m84-8v8m72-8v8m2-8v8m53-8v8m1-8v8m58-8v8m254-8v8m15-8v8M1066.5 224v8m42-8v8m42-8v8m1-8v8m21-8v8m113-8v8m164-8v8m2-8v8m2-8v8m41-8v8m19-8v8m29-8v8m25-8v8m56-8v8m7-8v8M1112.5 232v8m19-8v8m2-8v8m45-8v8M1534.5 240v8m1-8v8M1147.5 248v8m337-8v8m1-8v8M1439.5 264v8m1-8v8m20-8v8m29-8v8m1-8v8m29-8v8m1-8v8m22-8v8M1017.5 272v8m54-8v8m65-8v8m386-8v8m100-8v8M1200.5 280v8m13-8v8m11-8v8m4-8v8m23-8v8m1-8v8m10-8v8m7-8v8m2-8v8m2-8v8m153-8v8m78-8v8M1104.5 288v8m1-8v8m27-8v8m95-8v8m50-8v8m3-8v8m12-8v8m58-8v8m1-8v8m67-8v8m5-8v8m187-8v8m1-8v8M1206.5 296v8m70-8v8m1-8v8m6-8v8m1-8v8m182-8v8m1-8v8m38-8v8M1226.5 304v8m19-8v8m10-8v8m2-8v8m10-8v8m180-8v8m43-8v8m1-8v8m31-8v8m1-8v8m76-8v8m15-8v8M1199.5 312v8m1-8v8m1-8v8m9-8v8m1-8v8m24-8v8m42-8v8m3-8v8M973.5 320v8m1-8v8m256-8v8m4-8v8m1-8v8m22-8v8m7-8v8m119-8v8m1-8v8m30-8v8m64-8v8m1-8v8m49-8v8M1204.5 328v8m23-8v8m6-8v8m39-8v8m89-8v8m31-8v8m13-8v8m124-8v8m18-8v8m1-8v8m21-8v8m54-8v8M1014.5 336v8m182-8v8m1-8v8m5-8v8m1-8v8m2-8v8m23-8v8m1-8v8m18-8v8m1-8v8m1-8v8m179-8v8m120-8v8M1218.5 344v8m20-8v8m5-8v8m1-8v8m10-8v8m30-8v8m7-8v8m1-8v8m70-8v8m130-8v8m19-8v8m1-8v8m66-8v8M1294.5 352v8m168-8v8M1040.5 360v8m245-8v8m41-8v8m49-8v8M1393.5 368v8m4-8v8m1-8v8m6-8v8m1-8v8m26-8v8m1-8v8m54-8v8m26-8v8m1-8v8m61-8v8M1168.5 376v8m23-8v8m121-8v8m184-8v8m1-8v8m22-8v8m1-8v8m111-8v8M1414.5 384v8m1-8v8m98-8v8m83-8v8m3-8v8m30-8v8M1326.5 392v8M1083.5 400v8m50-8v8m4-8v8m394-8v8m32-8v8M1410.5 408v8m1-8v8m35-8v8m72-8v8m77-8v8m9-8v8M1042.5 416v8m117-8v8m189-8v8m61-8v8m1-8v8m56-8v8m46-8v8m92-8v8M954.5 432v8m7-8v8m52-8v8m5-8v8m406-8v8m82-8v8m73-8v8M1247.5 440v8m90-8v8m38-8v8m5-8v8m6-8v8m10-8v8m14-8v8m4-8v8m58-8v8m1-8v8m13-8v8m38-8v8m36-8v8m1-8v8M1373.5 448v8m8-8v8m8-8v8m14-8v8m2-8v8m1-8v8m28-8v8m30-8v8m5-8v8m77-8v8M1126.5 456v8m250-8v8m2-8v8m5-8v8m1-8v8m7-8v8m1-8v8m4-8v8m12-8v8m15-8v8m20-8v8m8-8v8m21-8v8m1-8v8m36-8v8m3-8v8m10-8v8m76-8v8m1-8v8M1011.5 464v8m394-8v8m28-8v8m8-8v8m8-8v8m1-8v8m12-8v8m21-8v8m36-8v8m18-8v8m4-8v8M1373.5 472v8m3-8v8m2-8v8m9-8v8m1-8v8m1-8v8m12-8v8m23-8v8m33-8v8m52-8v8m28-8v8M1411.5 480v8m1-8v8m52-8v8m1-8v8m27-8v8m122-8v8M1376.5 488v8m6-8v8m1-8v8m13-8v8m10-8v8m15-8v8m10-8v8m6-8v8m18-8v8m1-8v8m2-8v8m19-8v8m131-8v8M1089.5 496v8m137-8v8m124-8v8m26-8v8m7-8v8m2-8v8m50-8v8m15-8v8m1-8v8m11-8v8M986.5 504v8m406-8v8m1-8v8m16-8v8m15-8v8m1-8v8m26-8v8m1-8v8m36-8v8m1-8v8m18-8v8m2-8v8m1-8v8m78-8v8m1-8v8m13-8v8m1-8v8M1094.5 512v8m278-8v8m5-8v8m21-8v8m2-8v8m1-8v8m1-8v8m4-8v8m4-8v8m33-8v8m85-8v8M1388.5 520v8m228-8v8m1-8v8m1-8v8M1386.5 528v8m35-8v8m2-8v8m5-8v8m1-8v8m2-8v8m53-8v8m7-8v8m11-8v8M936.5 536v8m335-8v8m112-8v8m13-8v8m3-8v8m7-8v8m14-8v8m88-8v8m15-8v8m37-8v8m1-8v8M1056.5 544v8m189-8v8m1-8v8m35-8v8m139-8v8m1-8v8m23-8v8m58-8v8m36-8v8m5-8v8M1398.5 552v8m78-8v8m1-8v8m50-8v8M1344.5 560v8m1-8v8m143-8v8m22-8v8m1-8v8m5-8v8m19-8v8m7-8v8m69-8v8M1147.5 568v8m227-8v8m29-8v8m8-8v8m4-8v8m29-8v8m98-8v8m1-8v8m5-8v8m5-8v8M1393.5 576v8m74-8v8M1396.5 584v8m59-8v8m44-8v8M1014.5 592v8m327-8v8m32-8v8m44-8v8m25-8v8m1-8v8m32-8v8m34-8v8m1-8v8m38-8v8m22-8v8M1458.5 600v8m97-8v8m26-8v8m19-8v8m4-8v8m4-8v8m8-8v8m10-8v8m1-8v8M1191.5 608v8m1-8v8m59-8v8m1-8v8m330-8v8M954.5 616v8m571-8v8m13-8v8m20-8v8m14-8v8m1-8v8m20-8v8m14-8v8m16-8v8m8-8v8M1223.5 624v8m1-8v8m334-8v8m1-8v8m1-8v8m1-8v8m1-8v8m8-8v8m1-8v8m8-8v8m8-8v8m1-8v8m8-8v8M1489.5 632v8m58-8v8M1570.5 640v8m18-8v8m5-8v8m6-8v8m1-8v8m12-8v8m14-8v8M1405.5 648v8m159-8v8m36-8v8m26-8v8M1550.5 656v8m11-8v8m2-8v8m16-8v8m1-8v8m3-8v8m6-8v8m2-8v8m4-8v8m21-8v8m2-8v8m9-8v8m2-8v8M1554.5 664v8m3-8v8m6-8v8m3-8v8m25-8v8m34-8v8M1534.5 672v8m39-8v8m44-8v8m6-8v8"/>
<path stroke="#CE9296" d="M1376.5 56v8m38-8v8M1540.5 64v8m1-8v8M1222.5 80v8m178-8v8M1202.5 88v8M936.5 96v8M1374.5 152v8M1164.5 168v8M1056.5 184v8m1-8v8m466-8v8M988.5 192v8m46-8v8m355-8v8m121-8v8M1116.5 200v8m25-8v8m50-8v8m264-8v8M1168.5 208v8m174-8v8m23-8v8M1121.5 216v8m32-8v8m10-8v8m100-8v8M1173.5 224v8m78-8v8m1-8v8m124-8v8m61-8v8m128-8v8m45-8v8m8-8v8m8-8v8m3-8v8M1119.5 232v8m22-8v8m38-8v8m18-8v8m201-8v8M1217.5 240v8M1122.5 248v8m314-8v8m43-8v8m1-8v8M1175.5 256v8m1-8v8M1191.5 264v8m120-8v8m245-8v8m1-8v8M1207.5 280v8m14-8v8m1-8v8m3-8v8m10-8v8m338-8v8M1247.5 288v8m15-8v8m1-8v8m21-8v8m182-8v8M1055.5 304v8m155-8v8m1-8v8m36-8v8M1091.5 312v8m129-8v8m35-8v8m173-8v8M1071.5 320v8m142-8v8m43-8v8m2-8v8m15-8v8m162-8v8m101-8v8m58-8v8M1201.5 328v8m12-8v8m23-8v8m31-8v8m1-8v8m9-8v8m7-8v8m96-8v8m17-8v8m42-8v8m1-8v8M1004.5 336v8m1-8v8m378-8v8M1226.5 344v8m6-8v8m10-8v8m171-8v8m1-8v8m6-8v8m1-8v8m87-8v8m35-8v8M1284.5 352v8M1352.5 360v8m37-8v8M1165.5 368v8m181-8v8m104-8v8M1537.5 376v8M1163.5 384v8m137-8v8m20-8v8m237-8v8M1333.5 392v8m221-8v8M967.5 400v8M1004.5 408v8m430-8v8m67-8v8M1116.5 416v8m182-8v8m240-8v8m14-8v8M1474.5 432v8m1-8v8M1443.5 440v8m1-8v8m23-8v8m104-8v8M1448.5 448v8m96-8v8m11-8v8M1381.5 456v8m72-8v8m4-8v8m22-8v8m29-8v8M1378.5 464v8m13-8v8m132-8v8m1-8v8M1425.5 472v8m11-8v8m193-8v8M1372.5 480v8m47-8v8M1029.5 488v8m279-8v8m1-8v8m93-8v8m12-8v8m29-8v8m82-8v8m1-8v8m105-8v8M1395.5 496v8m76-8v8M1057.5 504v8m318-8v8M1427.5 512v8m1-8v8m72-8v8M1414.5 520v8M1443.5 528v8m1-8v8m39-8v8m22-8v8m54-8v8M1152.5 536v8m11-8v8m1-8v8m228-8v8m232-8v8M1044.5 544v8m413-8v8m1-8v8m76-8v8m1-8v8M939.5 552v8m499-8v8M1427.5 560v8m96-8v8M1426.5 568v8M1399.5 576v8m7-8v8m17-8v8M1431.5 584v8M1392.5 592v8m1-8v8m104-8v8M1544.5 600v8m40-8v8m9-8v8M1451.5 608v8m102-8v8m41-8v8m38-8v8M1608.5 616v8m25-8v8M1554.5 624v8m3-8v8m21-8v8M1591.5 632v8M1594.5 640v8M1236.5 648v8m185-8v8m68-8v8m96-8v8M938.5 664v8m1-8v8m673-8v8m11-8v8m1-8v8M1402.5 672v8m89-8v8m89-8v8m6-8v8m24-8v8"/>
</g>
<rect x="935.7" y="40" width="87.3" height="80" fill="none" stroke="#000" stroke-width="2.4"/>
<rect x="1023" y="120" width="87.3" height="80" fill="none" stroke="#000" stroke-width="2.4"/>
<rect x="1110.3" y="200" width="87.3" height="80" fill="none" stroke="#000" stroke-width="2.4"/>
<rect x="1197.6" y="280" width="87.3" height="80" fill="none" stroke="#000" stroke-width="2.4"/>
<rect x="1284.9" y="360" width="87.3" height="80" fill="none" stroke="#000" stroke-width="2.4"/>
<rect x="1372.2" y="440" width="87.3" height="80" fill="none" stroke="#000" stroke-width="2.4"/>
<rect x="1459.5" y="520" width="87.3" height="80" fill="none" stroke="#000" stroke-width="2.4"/>
<rect x="1546.8" y="600" width="87.3" height="80" fill="none" stroke="#000" stroke-width="2.4"/>
<text x="1664.5" y="63" font-size="21.3">Expression</text>
<rect x="1664" y="77.3" width="36.6" height="183.4" fill="url(#gExpr)"/>
<path d="M1664,101h7M1693.6,101h7" stroke="#fff" stroke-width="2"/>
<text x="1711.5" y="108.6" font-size="21.3">2</text>
<path d="M1664,147.1h7M1693.6,147.1h7" stroke="#fff" stroke-width="2"/>
<text x="1711.5" y="154.7" font-size="21.3">1</text>
<path d="M1664,193.1h7M1693.6,193.1h7" stroke="#fff" stroke-width="2"/>
<text x="1711.5" y="200.7" font-size="21.3">0</text>
<path d="M1664,239.1h7M1693.6,239.1h7" stroke="#fff" stroke-width="2"/>
<text x="1706.5" y="246.7" font-size="21.3">−1</text>
<rect x="1673.8" y="330.2" width="23.2" height="12.6" fill="#006D2C"/>
<text x="1714.4" y="344.1" font-size="21.3">NCD4</text>
<rect x="1673.8" y="375.7" width="23.2" height="12.6" fill="#41AB5D"/>
<text x="1714.4" y="389.6" font-size="21.3">NCD8</text>
<rect x="1673.8" y="421.2" width="23.2" height="12.6" fill="#66C2A4"/>
<text x="1714.4" y="435.1" font-size="21.3">CTL</text>
<rect x="1673.8" y="466.7" width="23.2" height="12.6" fill="#99D8C9"/>
<text x="1714.4" y="480.6" font-size="21.3">Treg</text>
<rect x="1673.8" y="512.2" width="23.2" height="12.6" fill="#6BAED6"/>
<text x="1714.4" y="526.1" font-size="21.3">Tfh</text>
<rect x="1673.8" y="557.7" width="23.2" height="12.6" fill="#4292C6"/>
<text x="1714.4" y="571.6" font-size="21.3">Th17</text>
<rect x="1673.8" y="603.2" width="23.2" height="12.6" fill="#2171B5"/>
<text x="1714.4" y="617.1" font-size="21.3">Th1</text>
<rect x="1673.8" y="648.7" width="23.2" height="12.6" fill="#08519C"/>
<text x="1714.4" y="662.6" font-size="21.3">Pro-T</text>
<g filter="url(#spkC)">
<g transform="translate(36.75 768.04) scale(0.4035)">
<use href="#s_ncd8" fill="#F47E58"/>
<use href="#s_ncd8b" fill="#F47E58"/>
<use href="#s_ctlb" fill="#F47E58"/>
<use href="#s_ctl" fill="#F07550"/>
<use href="#s_ncd4" fill="#F47E58"/>
<use href="#s_ncd4b" fill="#F47E58"/>
<use href="#s_treg" fill="#E4532F"/>
<use href="#s_tfh" fill="#EC6040"/>
<use href="#s_tfh2" fill="#EC6040"/>
<use href="#s_th17" fill="#E65636"/>
<use href="#s_th1" fill="#E25032"/>
<use href="#s_prot" fill="#C92A1A"/>
<use href="#s_prot2" fill="#C92A1A"/>
<use href="#e_th1s" fill="#E25032"/>
<use href="#h_0" fill="#E79F98"/>
<use href="#h_1" fill="#E79F98"/>
<use href="#h_2" fill="#E79F98"/>
<use href="#e_th1b" fill="#F07550"/>
<use href="#f_0" fill="#FFFFFF"/>
<use href="#f_1" fill="#FFFFFF"/>
</g>
<g transform="translate(326.95 768.04) scale(0.4035)">
<use href="#s_ncd8" fill="#D3D3D3"/>
<use href="#s_ncd8b" fill="#D3D3D3"/>
<use href="#s_ctlb" fill="#D3D3D3"/>
<use href="#s_ctl" fill="#D3D3D3"/>
<use href="#s_ncd4" fill="#F9A077"/>
<use href="#s_ncd4b" fill="#F9A077"/>
<use href="#s_treg" fill="#F3A888"/>
<use href="#s_tfh" fill="#F48A62"/>
<use href="#s_tfh2" fill="#F48A62"/>
<use href="#s_th17" fill="#D6CECA"/>
<use href="#s_th1" fill="#EE7E58"/>
<use href="#s_prot" fill="#E87858"/>
<use href="#s_prot2" fill="#E87858"/>
<use href="#e_th1s" fill="#EE7E58"/>
<use href="#h_0" fill="#F5C2B4"/>
<use href="#h_1" fill="#F5C2B4"/>
<use href="#h_2" fill="#F5C2B4"/>
<use href="#e_th1b" fill="#D3D3D3"/>
<use href="#f_0" fill="#FFFFFF"/>
<use href="#f_1" fill="#FFFFFF"/>
</g>
<g transform="translate(617.15 768.04) scale(0.4035)">
<use href="#s_ncd8" fill="#FAA67E"/>
<use href="#s_ncd8b" fill="#FAA67E"/>
<use href="#s_ctlb" fill="#F4AA88"/>
<use href="#s_ctl" fill="#F2B398"/>
<use href="#s_ncd4" fill="#FAA67E"/>
<use href="#s_ncd4b" fill="#FAA67E"/>
<use href="#s_treg" fill="#EDB9A2"/>
<use href="#s_tfh" fill="#E3C1B2"/>
<use href="#s_tfh2" fill="#E3C1B2"/>
<use href="#s_th17" fill="#D8CDC8"/>
<use href="#s_th1" fill="#DCC6BA"/>
<use href="#s_prot" fill="#EC8A6A"/>
<use href="#s_prot2" fill="#EC8A6A"/>
<use href="#e_th1s" fill="#DCC6BA"/>
<use href="#h_0" fill="#F6CABC"/>
<use href="#h_1" fill="#F6CABC"/>
<use href="#h_2" fill="#F6CABC"/>
<use href="#e_th1b" fill="#F2B398"/>
<use href="#f_0" fill="#FFFFFF"/>
<use href="#f_1" fill="#FFFFFF"/>
</g>
<g transform="translate(907.35 768.04) scale(0.4035)">
<use href="#s_ncd8" fill="#F27850"/>
<use href="#s_ncd8b" fill="#F27850"/>
<use href="#s_ctlb" fill="#F48A64"/>
<use href="#s_ctl" fill="#F48C66"/>
<use href="#s_ncd4" fill="#D3D3D3"/>
<use href="#s_ncd4b" fill="#D3D3D3"/>
<use href="#s_treg" fill="#D3D3D3"/>
<use href="#s_tfh" fill="#D6CFCB"/>
<use href="#s_tfh2" fill="#D6CFCB"/>
<use href="#s_th17" fill="#D3D3D3"/>
<use href="#s_th1" fill="#D3D3D3"/>
<use href="#s_prot" fill="#E46F52"/>
<use href="#s_prot2" fill="#E46F52"/>
<use href="#e_th1s" fill="#D3D3D3"/>
<use href="#h_0" fill="#F3BEB1"/>
<use href="#h_1" fill="#F3BEB1"/>
<use href="#h_2" fill="#F3BEB1"/>
<use href="#e_th1b" fill="#F48C66"/>
<use href="#f_0" fill="#FFFFFF"/>
<use href="#f_1" fill="#FFFFFF"/>
</g>
<g transform="translate(1197.55 768.04) scale(0.4035)">
<use href="#s_ncd8" fill="#F48C64"/>
<use href="#s_ncd8b" fill="#F48C64"/>
<use href="#s_ctlb" fill="#F5A27E"/>
<use href="#s_ctl" fill="#DCBEB1"/>
<use href="#s_ncd4" fill="url(#gIgN4)"/>
<use href="#s_ncd4b" fill="url(#gIgN4)"/>
<use href="#s_treg" fill="#D3D3D3"/>
<use href="#s_tfh" fill="#D8C7BE"/>
<use href="#s_tfh2" fill="#D8C7BE"/>
<use href="#s_th17" fill="#D3D3D3"/>
<use href="#s_th1" fill="#D6CCC6"/>
<use href="#s_prot" fill="#DE8C72"/>
<use href="#s_prot2" fill="#DE8C72"/>
<use href="#e_th1s" fill="#D6CCC6"/>
<use href="#h_0" fill="#F0CBC0"/>
<use href="#h_1" fill="#F0CBC0"/>
<use href="#h_2" fill="#F0CBC0"/>
<use href="#e_th1b" fill="#DCBEB1"/>
<use href="#f_0" fill="#FFFFFF"/>
<use href="#f_1" fill="#FFFFFF"/>
</g>
<g transform="translate(1487.75 768.04) scale(0.4035)">
<use href="#s_ncd8" fill="#D5D0CE"/>
<use href="#s_ncd8b" fill="#D5D0CE"/>
<use href="#s_ctlb" fill="#EFA586"/>
<use href="#s_ctl" fill="#E45838"/>
<use href="#s_ncd4" fill="#D3D3D3"/>
<use href="#s_ncd4b" fill="#D3D3D3"/>
<use href="#s_treg" fill="#D6CFCB"/>
<use href="#s_tfh" fill="#D8C8C0"/>
<use href="#s_tfh2" fill="#D8C8C0"/>
<use href="#s_th17" fill="#DDBFB2"/>
<use href="#s_th1" fill="#DCC0B4"/>
<use href="#s_prot" fill="#EA7E5E"/>
<use href="#s_prot2" fill="#EA7E5E"/>
<use href="#e_th1s" fill="#DCC0B4"/>
<use href="#h_0" fill="#F6C5B7"/>
<use href="#h_1" fill="#F6C5B7"/>
<use href="#h_2" fill="#F6C5B7"/>
<use href="#e_th1b" fill="#E45838"/>
<use href="#f_0" fill="#FFFFFF"/>
<use href="#f_1" fill="#FFFFFF"/>
</g>
<g transform="translate(36.75 1023.44) scale(0.4035)">
<use href="#s_ncd8" fill="#D3D3D3"/>
<use href="#s_ncd8b" fill="#D3D3D3"/>
<use href="#s_ctlb" fill="#D3D3D3"/>
<use href="#s_ctl" fill="#D3D3D3"/>
<use href="#s_ncd4" fill="#D6D0CD"/>
<use href="#s_ncd4b" fill="#D6D0CD"/>
<use href="#s_treg" fill="#E0502F"/>
<use href="#s_tfh" fill="#D3D3D3"/>
<use href="#s_tfh2" fill="#D3D3D3"/>
<use href="#s_th17" fill="#D3D3D3"/>
<use href="#s_th1" fill="#D6CFCB"/>
<use href="#s_prot" fill="#DE6A50"/>
<use href="#s_prot2" fill="#DE6A50"/>
<use href="#e_th1s" fill="#D6CFCB"/>
<use href="#h_0" fill="#F0BCB0"/>
<use href="#h_1" fill="#F0BCB0"/>
<use href="#h_2" fill="#F0BCB0"/>
<use href="#e_th1b" fill="#D3D3D3"/>
<use href="#f_0" fill="#FFFFFF"/>
<use href="#f_1" fill="#FFFFFF"/>
</g>
<g transform="translate(326.95 1023.44) scale(0.4035)">
<use href="#s_ncd8" fill="#DAC9C1"/>
<use href="#s_ncd8b" fill="#DAC9C1"/>
<use href="#s_ctlb" fill="#DCC5B9"/>
<use href="#s_ctl" fill="#DACBC4"/>
<use href="#s_ncd4" fill="#DAC8BF"/>
<use href="#s_ncd4b" fill="#DAC8BF"/>
<use href="#s_treg" fill="#EE8860"/>
<use href="#s_tfh" fill="#F3946C"/>
<use href="#s_tfh2" fill="#F3946C"/>
<use href="#s_th17" fill="#F2946E"/>
<use href="#s_th1" fill="#EC8460"/>
<use href="#s_prot" fill="#DE4E2E"/>
<use href="#s_prot2" fill="#DE4E2E"/>
<use href="#e_th1s" fill="#EC8460"/>
<use href="#h_0" fill="#F0AFA1"/>
<use href="#h_1" fill="#F0AFA1"/>
<use href="#h_2" fill="#F0AFA1"/>
<use href="#e_th1b" fill="#DACBC4"/>
<use href="#f_0" fill="#FFFFFF"/>
<use href="#f_1" fill="#FFFFFF"/>
</g>
<g transform="translate(617.15 1023.44) scale(0.4035)">
<use href="#s_ncd8" fill="#D5D0CD"/>
<use href="#s_ncd8b" fill="#D5D0CD"/>
<use href="#s_ctlb" fill="#D7CCC7"/>
<use href="#s_ctl" fill="#D5D0CD"/>
<use href="#s_ncd4" fill="#F6A47D"/>
<use href="#s_ncd4b" fill="#F6A47D"/>
<use href="#s_treg" fill="#D6CECA"/>
<use href="#s_tfh" fill="#EEA282"/>
<use href="#s_tfh2" fill="#EEA282"/>
<use href="#s_th17" fill="#D8CAC3"/>
<use href="#s_th1" fill="#E6845F"/>
<use href="#s_prot" fill="#E98E72"/>
<use href="#s_prot2" fill="#E98E72"/>
<use href="#e_th1s" fill="#E6845F"/>
<use href="#h_0" fill="#F5CCC0"/>
<use href="#h_1" fill="#F5CCC0"/>
<use href="#h_2" fill="#F5CCC0"/>
<use href="#e_th1b" fill="#D5D0CD"/>
<use href="#f_0" fill="#FFFFFF"/>
<use href="#f_1" fill="#FFFFFF"/>
</g>
<g transform="translate(907.35 1023.44) scale(0.4035)">
<use href="#s_ncd8" fill="#D3D3D3"/>
<use href="#s_ncd8b" fill="#D3D3D3"/>
<use href="#s_ctlb" fill="#D3D3D3"/>
<use href="#s_ctl" fill="#D3D3D3"/>
<use href="#s_ncd4" fill="#D3D3D3"/>
<use href="#s_ncd4b" fill="#D3D3D3"/>
<use href="#s_treg" fill="#D5D1CF"/>
<use href="#s_tfh" fill="#D8CAC3"/>
<use href="#s_tfh2" fill="#D8CAC3"/>
<use href="#s_th17" fill="#EC9A78"/>
<use href="#s_th1" fill="#D3D3D3"/>
<use href="#s_prot" fill="#E08A70"/>
<use href="#s_prot2" fill="#E08A70"/>
<use href="#e_th1s" fill="#D3D3D3"/>
<use href="#h_0" fill="#F1CABF"/>
<use href="#h_1" fill="#F1CABF"/>
<use href="#h_2" fill="#F1CABF"/>
<use href="#e_th1b" fill="#D3D3D3"/>
<use href="#f_0" fill="#FFFFFF"/>
<use href="#f_1" fill="#FFFFFF"/>
</g>
<g transform="translate(1197.55 1023.44) scale(0.4035)">
<use href="#s_ncd8" fill="#E9B8A2"/>
<use href="#s_ncd8b" fill="#E9B8A2"/>
<use href="#s_ctlb" fill="#EBB098"/>
<use href="#s_ctl" fill="#ECA888"/>
<use href="#s_ncd4" fill="#D3D3D3"/>
<use href="#s_ncd4b" fill="#D3D3D3"/>
<use href="#s_treg" fill="#D6CFCB"/>
<use href="#s_tfh" fill="#EA9676"/>
<use href="#s_tfh2" fill="#EA9676"/>
<use href="#s_th17" fill="#D6381E"/>
<use href="#s_th1" fill="#DE4A2C"/>
<use href="#s_prot" fill="#E2644A"/>
<use href="#s_prot2" fill="#E2644A"/>
<use href="#e_th1s" fill="#DE4A2C"/>
<use href="#h_0" fill="#F2B9AE"/>
<use href="#h_1" fill="#F2B9AE"/>
<use href="#h_2" fill="#F2B9AE"/>
<use href="#e_th1b" fill="#ECA888"/>
<use href="#f_0" fill="#FFFFFF"/>
<use href="#f_1" fill="#FFFFFF"/>
</g>
<g transform="translate(1487.75 1023.44) scale(0.4035)">
<use href="#s_ncd8" fill="#D5D2D0"/>
<use href="#s_ncd8b" fill="#D5D2D0"/>
<use href="#s_ctlb" fill="#D6D1CE"/>
<use href="#s_ctl" fill="#D5D2D0"/>
<use href="#s_ncd4" fill="#D5D2D0"/>
<use href="#s_ncd4b" fill="#D5D2D0"/>
<use href="#s_treg" fill="#D5D2D0"/>
<use href="#s_tfh" fill="#D7CFCB"/>
<use href="#s_tfh2" fill="#D7CFCB"/>
<use href="#s_th17" fill="#D7CFCB"/>
<use href="#s_th1" fill="#D7CFCB"/>
<use href="#s_prot" fill="#D63820"/>
<use href="#s_prot2" fill="#D63820"/>
<use href="#e_th1s" fill="#D7CFCB"/>
<use href="#h_0" fill="#EDA59B"/>
<use href="#h_1" fill="#EDA59B"/>
<use href="#h_2" fill="#EDA59B"/>
<use href="#e_th1b" fill="#D5D2D0"/>
<use href="#f_0" fill="#FFFFFF"/>
<use href="#f_1" fill="#FFFFFF"/>
</g>
</g>
<text x="202" y="766.3" font-size="23.3" text-anchor="middle">Cd3e</text>
<text x="489" y="766.3" font-size="23.3" text-anchor="middle">Cd4</text>
<text x="770.7" y="766.3" font-size="23.3" text-anchor="middle">Ccr7</text>
<text x="1062.6" y="766.3" font-size="23.3" text-anchor="middle">Cd8a</text>
<text x="1364.7" y="766.3" font-size="23.3" text-anchor="middle">Igfbp4</text>
<text x="1646" y="766.3" font-size="23.3" text-anchor="middle">Ctla2a</text>
<text x="201" y="1021.7" font-size="23.3" text-anchor="middle">Foxp3</text>
<text x="483.4" y="1021.7" font-size="23.3" text-anchor="middle">Icos</text>
<text x="778.5" y="1021.7" font-size="23.3" text-anchor="middle">Cd40lg</text>
<text x="1066" y="1021.7" font-size="23.3" text-anchor="middle">Rorc</text>
<text x="1364.3" y="1021.7" font-size="23.3" text-anchor="middle">Cxcr6</text>
<text x="1653.6" y="1021.7" font-size="23.3" text-anchor="middle">Mki67</text>
<path d="M61.7,1165V1122" stroke="#111" stroke-width="2.7" fill="none"/>
<path d="M61.7,1106.5L54.1,1125L69.3,1125Z" fill="#111"/>
<path d="M163.2,1272.3H206" stroke="#111" stroke-width="2.7" fill="none"/>
<path d="M221.7,1272.3L204,1265L204,1279.6Z" fill="#111"/>
<text x="82.1" y="1279" font-size="21.3">tSNE_1</text>
<text x="66.9" y="1250.4" font-size="21.3" transform="rotate(-90 66.9 1250.4)">tSNE_2</text>
<text x="1601.7" y="1280" font-size="21.3">Low</text>
<rect x="1650" y="1268" width="50" height="12" fill="url(#gLH)"/>
<text x="1706.3" y="1280" font-size="21.3">High</text>
<polyline points="64.4,1406.4 106,1445.4 148.4,1453.3 190.2,1441" fill="none" stroke="#F47C7C" stroke-width="2.3" stroke-linejoin="round"/>
<circle cx="106" cy="1445.4" r="5.2" fill="#F47C7C"/>
<circle cx="148.4" cy="1453.3" r="5.2" fill="#F47C7C"/>
<circle cx="190.2" cy="1441" r="5.2" fill="#F47C7C"/>
<polyline points="64.4,1406.4 106,1444.8 148.4,1447.4 190.2,1456.2" fill="none" stroke="#D3D3D3" stroke-width="2.3" stroke-linejoin="round"/>
<circle cx="106" cy="1444.8" r="5.2" fill="#D3D3D3"/>
<circle cx="148.4" cy="1447.4" r="5.2" fill="#D3D3D3"/>
<circle cx="190.2" cy="1456.2" r="5.2" fill="#D3D3D3"/>
<path d="M43.3,1381.9V1548.7H211.3M35.8,1548.7H43.3M35.8,1515.3H43.3M35.8,1482H43.3M35.8,1448.6H43.3M35.8,1415.3H43.3M35.8,1381.9H43.3M38.8,1398.6H43.3M38.8,1431.9H43.3M38.8,1465.3H43.3M38.8,1498.7H43.3M38.8,1532H43.3M64.4,1548.7V1556.2M106,1548.7V1556.2M148.4,1548.7V1556.2M190.2,1548.7V1556.2" stroke="#000" stroke-width="2.1" fill="none" stroke-linecap="square"/>
<text x="28.8" y="1553.8" font-size="21.3" text-anchor="end">0.0</text>
<text x="28.8" y="1520.4" font-size="21.3" text-anchor="end">0.1</text>
<text x="28.8" y="1487.1" font-size="21.3" text-anchor="end">0.2</text>
<text x="28.8" y="1453.7" font-size="21.3" text-anchor="end">0.3</text>
<text x="28.8" y="1420.4" font-size="21.3" text-anchor="end">0.4</text>
<text x="28.8" y="1387" font-size="21.3" text-anchor="end">0.5</text>
<text x="76.6" y="1571" font-size="21.3" text-anchor="end" transform="rotate(-45 76.6 1571)">D0</text>
<text x="118.2" y="1571" font-size="21.3" text-anchor="end" transform="rotate(-45 118.2 1571)">D7</text>
<text x="160.6" y="1571" font-size="21.3" text-anchor="end" transform="rotate(-45 160.6 1571)">D14</text>
<text x="202.4" y="1571" font-size="21.3" text-anchor="end" transform="rotate(-45 202.4 1571)">D21</text>
<text x="112.2" y="1358.4" font-size="21.3" text-anchor="middle">NCD4</text>
<polyline points="299.1,1490.1 341,1411.7 382.8,1402 424.4,1435.7" fill="none" stroke="#F47C7C" stroke-width="2.3" stroke-linejoin="round"/>
<circle cx="341" cy="1411.7" r="5.2" fill="#F47C7C"/>
<circle cx="382.8" cy="1402" r="5.2" fill="#F47C7C"/>
<circle cx="424.4" cy="1435.7" r="5.2" fill="#F47C7C"/>
<polyline points="299.1,1490.1 341,1451.8 382.8,1445.7 424.4,1455" fill="none" stroke="#D3D3D3" stroke-width="2.3" stroke-linejoin="round"/>
<circle cx="341" cy="1451.8" r="5.2" fill="#D3D3D3"/>
<circle cx="382.8" cy="1445.7" r="5.2" fill="#D3D3D3"/>
<circle cx="424.4" cy="1455" r="5.2" fill="#D3D3D3"/>
<path d="M279.5,1381.9V1548.7H446.3M272,1548.7H279.5M272,1507H279.5M272,1465.3H279.5M272,1423.6H279.5M272,1381.9H279.5M275,1402.8H279.5M275,1444.5H279.5M275,1486.2H279.5M275,1527.8H279.5M299.1,1548.7V1556.2M341,1548.7V1556.2M382.8,1548.7V1556.2M424.4,1548.7V1556.2" stroke="#000" stroke-width="2.1" fill="none" stroke-linecap="square"/>
<text x="268.9" y="1553.8" font-size="21.3" text-anchor="end">0.00</text>
<text x="268.9" y="1512.1" font-size="21.3" text-anchor="end">0.01</text>
<text x="268.9" y="1470.4" font-size="21.3" text-anchor="end">0.02</text>
<text x="268.9" y="1428.7" font-size="21.3" text-anchor="end">0.03</text>
<text x="268.9" y="1387" font-size="21.3" text-anchor="end">0.04</text>
<text x="311.3" y="1571" font-size="21.3" text-anchor="end" transform="rotate(-45 311.3 1571)">D0</text>
<text x="353.2" y="1571" font-size="21.3" text-anchor="end" transform="rotate(-45 353.2 1571)">D7</text>
<text x="395" y="1571" font-size="21.3" text-anchor="end" transform="rotate(-45 395 1571)">D14</text>
<text x="436.6" y="1571" font-size="21.3" text-anchor="end" transform="rotate(-45 436.6 1571)">D21</text>
<text x="368.8" y="1358.4" font-size="21.3" text-anchor="middle">Th17</text>
<polyline points="530.1,1517.7 571.7,1482.8 614.1,1482 656,1482.8" fill="none" stroke="#F47C7C" stroke-width="2.3" stroke-linejoin="round"/>
<circle cx="571.7" cy="1482.8" r="5.2" fill="#F47C7C"/>
<circle cx="614.1" cy="1482" r="5.2" fill="#F47C7C"/>
<circle cx="656" cy="1482.8" r="5.2" fill="#F47C7C"/>
<polyline points="530.1,1517.7 571.7,1468.8 614.1,1491.9 656,1480.8" fill="none" stroke="#D3D3D3" stroke-width="2.3" stroke-linejoin="round"/>
<circle cx="571.7" cy="1468.8" r="5.2" fill="#D3D3D3"/>
<circle cx="614.1" cy="1491.9" r="5.2" fill="#D3D3D3"/>
<circle cx="656" cy="1480.8" r="5.2" fill="#D3D3D3"/>
<path d="M509.7,1381.9V1548.7H677M502.2,1548.7H509.7M502.2,1507H509.7M502.2,1465.3H509.7M502.2,1423.6H509.7M502.2,1381.9H509.7M530.1,1548.7V1556.2M571.7,1548.7V1556.2M614.1,1548.7V1556.2M656,1548.7V1556.2" stroke="#000" stroke-width="2.1" fill="none" stroke-linecap="square"/>
<text x="499" y="1553.8" font-size="21.3" text-anchor="end">0.00</text>
<text x="499" y="1512.1" font-size="21.3" text-anchor="end">0.05</text>
<text x="499" y="1470.4" font-size="21.3" text-anchor="end">0.10</text>
<text x="499" y="1428.7" font-size="21.3" text-anchor="end">0.15</text>
<text x="499" y="1387" font-size="21.3" text-anchor="end">0.20</text>
<text x="542.3" y="1571" font-size="21.3" text-anchor="end" transform="rotate(-45 542.3 1571)">D0</text>
<text x="583.9" y="1571" font-size="21.3" text-anchor="end" transform="rotate(-45 583.9 1571)">D7</text>
<text x="626.3" y="1571" font-size="21.3" text-anchor="end" transform="rotate(-45 626.3 1571)">D14</text>
<text x="668.2" y="1571" font-size="21.3" text-anchor="end" transform="rotate(-45 668.2 1571)">D21</text>
<text x="596.6" y="1358.4" font-size="21.3" text-anchor="middle">Tfh</text>
<polyline points="761.4,1525.3 803,1485.5 844.8,1411.7 887,1416.1" fill="none" stroke="#F47C7C" stroke-width="2.3" stroke-linejoin="round"/>
<circle cx="803" cy="1485.5" r="5.2" fill="#F47C7C"/>
<circle cx="844.8" cy="1411.7" r="5.2" fill="#F47C7C"/>
<circle cx="887" cy="1416.1" r="5.2" fill="#F47C7C"/>
<polyline points="761.4,1525.3 803,1481.4 844.8,1489.9 887,1452.1" fill="none" stroke="#D3D3D3" stroke-width="2.3" stroke-linejoin="round"/>
<circle cx="803" cy="1481.4" r="5.2" fill="#D3D3D3"/>
<circle cx="844.8" cy="1489.9" r="5.2" fill="#D3D3D3"/>
<circle cx="887" cy="1452.1" r="5.2" fill="#D3D3D3"/>
<path d="M740,1381.9V1548.7H909.2M732.5,1548.7H740M732.5,1493.1H740M732.5,1437.5H740M732.5,1381.9H740M761.4,1548.7V1556.2M803,1548.7V1556.2M844.8,1548.7V1556.2M887,1548.7V1556.2" stroke="#000" stroke-width="2.1" fill="none" stroke-linecap="square"/>
<text x="730.3" y="1553.8" font-size="21.3" text-anchor="end">0.00</text>
<text x="730.3" y="1498.2" font-size="21.3" text-anchor="end">0.02</text>
<text x="730.3" y="1442.6" font-size="21.3" text-anchor="end">0.04</text>
<text x="730.3" y="1387" font-size="21.3" text-anchor="end">0.06</text>
<text x="773.6" y="1571" font-size="21.3" text-anchor="end" transform="rotate(-45 773.6 1571)">D0</text>
<text x="815.2" y="1571" font-size="21.3" text-anchor="end" transform="rotate(-45 815.2 1571)">D7</text>
<text x="857" y="1571" font-size="21.3" text-anchor="end" transform="rotate(-45 857 1571)">D14</text>
<text x="899.2" y="1571" font-size="21.3" text-anchor="end" transform="rotate(-45 899.2 1571)">D21</text>
<text x="832.8" y="1358.4" font-size="21.3" text-anchor="middle">Th1</text>
<polyline points="987.2,1527.9 1028.8,1520 1070.6,1527.6 1112.8,1511.8" fill="none" stroke="#F47C7C" stroke-width="2.3" stroke-linejoin="round"/>
<circle cx="1028.8" cy="1520" r="5.2" fill="#F47C7C"/>
<circle cx="1070.6" cy="1527.6" r="5.2" fill="#F47C7C"/>
<circle cx="1112.8" cy="1511.8" r="5.2" fill="#F47C7C"/>
<polyline points="987.2,1527.9 1028.8,1522 1070.6,1518 1112.8,1517.7" fill="none" stroke="#D3D3D3" stroke-width="2.3" stroke-linejoin="round"/>
<circle cx="1028.8" cy="1522" r="5.2" fill="#D3D3D3"/>
<circle cx="1070.6" cy="1518" r="5.2" fill="#D3D3D3"/>
<circle cx="1112.8" cy="1517.7" r="5.2" fill="#D3D3D3"/>
<path d="M966.4,1381.9V1548.7H1134.1M958.9,1548.7H966.4M958.9,1515.3H966.4M958.9,1482H966.4M958.9,1448.6H966.4M958.9,1415.3H966.4M958.9,1381.9H966.4M961.9,1398.6H966.4M961.9,1431.9H966.4M961.9,1465.3H966.4M961.9,1498.7H966.4M961.9,1532H966.4M987.2,1548.7V1556.2M1028.8,1548.7V1556.2M1070.6,1548.7V1556.2M1112.8,1548.7V1556.2" stroke="#000" stroke-width="2.1" fill="none" stroke-linecap="square"/>
<text x="954.6" y="1553.8" font-size="21.3" text-anchor="end">0.0</text>
<text x="954.6" y="1520.4" font-size="21.3" text-anchor="end">0.1</text>
<text x="954.6" y="1487.1" font-size="21.3" text-anchor="end">0.2</text>
<text x="954.6" y="1453.7" font-size="21.3" text-anchor="end">0.3</text>
<text x="954.6" y="1420.4" font-size="21.3" text-anchor="end">0.4</text>
<text x="954.6" y="1387" font-size="21.3" text-anchor="end">0.5</text>
<text x="999.4" y="1571" font-size="21.3" text-anchor="end" transform="rotate(-45 999.4 1571)">D0</text>
<text x="1041" y="1571" font-size="21.3" text-anchor="end" transform="rotate(-45 1041 1571)">D7</text>
<text x="1082.8" y="1571" font-size="21.3" text-anchor="end" transform="rotate(-45 1082.8 1571)">D14</text>
<text x="1125" y="1571" font-size="21.3" text-anchor="end" transform="rotate(-45 1125 1571)">D21</text>
<text x="1063.2" y="1358.4" font-size="21.3" text-anchor="middle">Treg</text>
<polyline points="1218.1,1396.5 1260,1418.4 1301.8,1406.7 1344,1436" fill="none" stroke="#F47C7C" stroke-width="2.3" stroke-linejoin="round"/>
<circle cx="1260" cy="1418.4" r="5.2" fill="#F47C7C"/>
<circle cx="1301.8" cy="1406.7" r="5.2" fill="#F47C7C"/>
<circle cx="1344" cy="1436" r="5.2" fill="#F47C7C"/>
<polyline points="1218.1,1396.5 1260,1413.2 1301.8,1404.4 1344,1414" fill="none" stroke="#D3D3D3" stroke-width="2.3" stroke-linejoin="round"/>
<circle cx="1260" cy="1413.2" r="5.2" fill="#D3D3D3"/>
<circle cx="1301.8" cy="1404.4" r="5.2" fill="#D3D3D3"/>
<circle cx="1344" cy="1414" r="5.2" fill="#D3D3D3"/>
<path d="M1197.7,1381.9V1548.7H1365.4M1190.2,1548.7H1197.7M1190.2,1507H1197.7M1190.2,1465.3H1197.7M1190.2,1423.6H1197.7M1190.2,1381.9H1197.7M1218.1,1548.7V1556.2M1260,1548.7V1556.2M1301.8,1548.7V1556.2M1344,1548.7V1556.2" stroke="#000" stroke-width="2.1" fill="none" stroke-linecap="square"/>
<text x="1184.4" y="1553.8" font-size="21.3" text-anchor="end">0.0</text>
<text x="1184.4" y="1512.1" font-size="21.3" text-anchor="end">0.1</text>
<text x="1184.4" y="1470.4" font-size="21.3" text-anchor="end">0.2</text>
<text x="1184.4" y="1428.7" font-size="21.3" text-anchor="end">0.3</text>
<text x="1184.4" y="1387" font-size="21.3" text-anchor="end">0.4</text>
<text x="1230.3" y="1571" font-size="21.3" text-anchor="end" transform="rotate(-45 1230.3 1571)">D0</text>
<text x="1272.2" y="1571" font-size="21.3" text-anchor="end" transform="rotate(-45 1272.2 1571)">D7</text>
<text x="1314" y="1571" font-size="21.3" text-anchor="end" transform="rotate(-45 1314 1571)">D14</text>
<text x="1356.2" y="1571" font-size="21.3" text-anchor="end" transform="rotate(-45 1356.2 1571)">D21</text>
<text x="1269.7" y="1358.4" font-size="21.3" text-anchor="middle">NCD 8</text>
<polyline points="1456,1475.2 1497.8,1480.8 1540,1458 1581.8,1447.4" fill="none" stroke="#F47C7C" stroke-width="2.3" stroke-linejoin="round"/>
<circle cx="1497.8" cy="1480.8" r="5.2" fill="#F47C7C"/>
<circle cx="1540" cy="1458" r="5.2" fill="#F47C7C"/>
<circle cx="1581.8" cy="1447.4" r="5.2" fill="#F47C7C"/>
<polyline points="1456,1475.2 1497.8,1472 1540,1446 1581.8,1402" fill="none" stroke="#D3D3D3" stroke-width="2.3" stroke-linejoin="round"/>
<circle cx="1497.8" cy="1472" r="5.2" fill="#D3D3D3"/>
<circle cx="1540" cy="1446" r="5.2" fill="#D3D3D3"/>
<circle cx="1581.8" cy="1402" r="5.2" fill="#D3D3D3"/>
<path d="M1435.5,1381.9V1548.7H1603.8M1428,1548.7H1435.5M1428,1493.1H1435.5M1428,1437.5H1435.5M1428,1381.9H1435.5M1456,1548.7V1556.2M1497.8,1548.7V1556.2M1540,1548.7V1556.2M1581.8,1548.7V1556.2" stroke="#000" stroke-width="2.1" fill="none" stroke-linecap="square"/>
<text x="1422.8" y="1553.8" font-size="21.3" text-anchor="end">0.00</text>
<text x="1422.8" y="1498.2" font-size="21.3" text-anchor="end">0.05</text>
<text x="1422.8" y="1442.6" font-size="21.3" text-anchor="end">0.10</text>
<text x="1422.8" y="1387" font-size="21.3" text-anchor="end">0.15</text>
<text x="1468.2" y="1571" font-size="21.3" text-anchor="end" transform="rotate(-45 1468.2 1571)">D0</text>
<text x="1510" y="1571" font-size="21.3" text-anchor="end" transform="rotate(-45 1510 1571)">D7</text>
<text x="1552.2" y="1571" font-size="21.3" text-anchor="end" transform="rotate(-45 1552.2 1571)">D14</text>
<text x="1594" y="1571" font-size="21.3" text-anchor="end" transform="rotate(-45 1594 1571)">D21</text>
<text x="1529" y="1358.4" font-size="21.3" text-anchor="middle">CTL</text>
<polyline points="1687.2,1521.5 1729,1395.6 1770.6,1451.2 1813,1469.4" fill="none" stroke="#F47C7C" stroke-width="2.3" stroke-linejoin="round"/>
<circle cx="1729" cy="1395.6" r="5.2" fill="#F47C7C"/>
<circle cx="1770.6" cy="1451.2" r="5.2" fill="#F47C7C"/>
<circle cx="1813" cy="1469.4" r="5.2" fill="#F47C7C"/>
<polyline points="1687.2,1521.5 1729,1440.1 1770.6,1469.4 1813,1494.2" fill="none" stroke="#D3D3D3" stroke-width="2.3" stroke-linejoin="round"/>
<circle cx="1729" cy="1440.1" r="5.2" fill="#D3D3D3"/>
<circle cx="1770.6" cy="1469.4" r="5.2" fill="#D3D3D3"/>
<circle cx="1813" cy="1494.2" r="5.2" fill="#D3D3D3"/>
<path d="M1666.7,1381.9V1548.7H1834.5M1659.2,1548.7H1666.7M1659.2,1465.3H1666.7M1659.2,1381.9H1666.7M1687.2,1548.7V1556.2M1729,1548.7V1556.2M1770.6,1548.7V1556.2M1813,1548.7V1556.2" stroke="#000" stroke-width="2.1" fill="none" stroke-linecap="square"/>
<text x="1654" y="1553.8" font-size="21.3" text-anchor="end">0.00</text>
<text x="1654" y="1470.4" font-size="21.3" text-anchor="end">0.05</text>
<text x="1654" y="1387" font-size="21.3" text-anchor="end">0.10</text>
<text x="1699.4" y="1571" font-size="21.3" text-anchor="end" transform="rotate(-45 1699.4 1571)">D0</text>
<text x="1741.2" y="1571" font-size="21.3" text-anchor="end" transform="rotate(-45 1741.2 1571)">D7</text>
<text x="1782.8" y="1571" font-size="21.3" text-anchor="end" transform="rotate(-45 1782.8 1571)">D14</text>
<text x="1825.2" y="1571" font-size="21.3" text-anchor="end" transform="rotate(-45 1825.2 1571)">D21</text>
<text x="1751.9" y="1358.4" font-size="21.3" text-anchor="middle">Pro-T</text>
<text x="827.8" y="1323.3" font-size="21.3">Cell ratio of total T cell</text>
<circle cx="1564.9" cy="1324.5" r="8.3" fill="#F47C7C"/>
<text x="1597.3" y="1332.2" font-size="21.3">EAU</text>
<circle cx="1689.5" cy="1324.5" r="8.3" fill="#D3D3D3"/>
<text x="1722.3" y="1332.2" font-size="21.3">Control</text>
<circle cx="1564.9" cy="1660.6" r="8.3" fill="#F47C7C"/>
<text x="1597.3" y="1668.4" font-size="21.3">EAU</text>
<circle cx="1689.5" cy="1660.6" r="8.3" fill="#D3D3D3"/>
<text x="1722.3" y="1668.4" font-size="21.3">Control</text>
<polyline points="61.5,1876.9 101,1874 140.5,1870.5 180.6,1872.8" fill="none" stroke="#D3D3D3" stroke-width="2.3" stroke-linejoin="round"/>
<circle cx="101" cy="1874" r="5.2" fill="#D3D3D3"/>
<circle cx="140.5" cy="1870.5" r="5.2" fill="#D3D3D3"/>
<circle cx="180.6" cy="1872.8" r="5.2" fill="#D3D3D3"/>
<polyline points="61.5,1876.9 101,1834.5 140.5,1854.7 180.6,1869.9" fill="none" stroke="#F47C7C" stroke-width="2.3" stroke-linejoin="round"/>
<circle cx="101" cy="1834.5" r="5.2" fill="#F47C7C"/>
<circle cx="140.5" cy="1854.7" r="5.2" fill="#F47C7C"/>
<circle cx="180.6" cy="1869.9" r="5.2" fill="#F47C7C"/>
<path d="M41.9,1733.2V1892.4H200.5M34.4,1892.4H41.9M34.4,1839.3H41.9M34.4,1786.3H41.9M34.4,1733.2H41.9M61.5,1892.4V1899.9M101,1892.4V1899.9M140.5,1892.4V1899.9M180.6,1892.4V1899.9" stroke="#000" stroke-width="2.1" fill="none" stroke-linecap="square"/>
<text x="29.8" y="1897.5" font-size="21.3" text-anchor="end">0</text>
<text x="29.8" y="1844.4" font-size="21.3" text-anchor="end">2</text>
<text x="29.8" y="1791.4" font-size="21.3" text-anchor="end">4</text>
<text x="29.8" y="1738.3" font-size="21.3" text-anchor="end">6</text>
<text x="73.7" y="1914.7" font-size="21.3" text-anchor="end" transform="rotate(-45 73.7 1914.7)">D0</text>
<text x="113.2" y="1914.7" font-size="21.3" text-anchor="end" transform="rotate(-45 113.2 1914.7)">D7</text>
<text x="152.7" y="1914.7" font-size="21.3" text-anchor="end" transform="rotate(-45 152.7 1914.7)">D14</text>
<text x="192.8" y="1914.7" font-size="21.3" text-anchor="end" transform="rotate(-45 192.8 1914.7)">D21</text>
<text x="125.4" y="1710.4" font-size="21.3" text-anchor="middle">NCD4</text>
<polyline points="293.3,1807 332.8,1847.7 373.2,1833.6 412.7,1833.9" fill="none" stroke="#D3D3D3" stroke-width="2.3" stroke-linejoin="round"/>
<circle cx="332.8" cy="1847.7" r="5.2" fill="#D3D3D3"/>
<circle cx="373.2" cy="1833.6" r="5.2" fill="#D3D3D3"/>
<circle cx="412.7" cy="1833.9" r="5.2" fill="#D3D3D3"/>
<polyline points="293.3,1807 332.8,1793.8 373.2,1766.6 412.7,1837.4" fill="none" stroke="#F47C7C" stroke-width="2.3" stroke-linejoin="round"/>
<circle cx="332.8" cy="1793.8" r="5.2" fill="#F47C7C"/>
<circle cx="373.2" cy="1766.6" r="5.2" fill="#F47C7C"/>
<circle cx="412.7" cy="1837.4" r="5.2" fill="#F47C7C"/>
<path d="M273.7,1733.2V1892.4H433.2M266.2,1892.4H273.7M266.2,1839.3H273.7M266.2,1786.3H273.7M266.2,1733.2H273.7M293.3,1892.4V1899.9M332.8,1892.4V1899.9M373.2,1892.4V1899.9M412.7,1892.4V1899.9" stroke="#000" stroke-width="2.1" fill="none" stroke-linecap="square"/>
<text x="259.5" y="1897.5" font-size="21.3" text-anchor="end">0</text>
<text x="259.5" y="1844.4" font-size="21.3" text-anchor="end">2</text>
<text x="259.5" y="1791.4" font-size="21.3" text-anchor="end">4</text>
<text x="259.5" y="1738.3" font-size="21.3" text-anchor="end">6</text>
<text x="305.5" y="1914.7" font-size="21.3" text-anchor="end" transform="rotate(-45 305.5 1914.7)">D0</text>
<text x="345" y="1914.7" font-size="21.3" text-anchor="end" transform="rotate(-45 345 1914.7)">D7</text>
<text x="385.4" y="1914.7" font-size="21.3" text-anchor="end" transform="rotate(-45 385.4 1914.7)">D14</text>
<text x="424.9" y="1914.7" font-size="21.3" text-anchor="end" transform="rotate(-45 424.9 1914.7)">D21</text>
<text x="353.4" y="1710.4" font-size="21.3" text-anchor="middle">Th17</text>
<polyline points="525.5,1875.5 565.3,1872.5 605.4,1873.4 645.5,1868.7" fill="none" stroke="#D3D3D3" stroke-width="2.3" stroke-linejoin="round"/>
<circle cx="565.3" cy="1872.5" r="5.2" fill="#D3D3D3"/>
<circle cx="605.4" cy="1873.4" r="5.2" fill="#D3D3D3"/>
<circle cx="645.5" cy="1868.7" r="5.2" fill="#D3D3D3"/>
<polyline points="525.5,1875.5 565.3,1848.5 605.4,1857.9 645.5,1875.8" fill="none" stroke="#F47C7C" stroke-width="2.3" stroke-linejoin="round"/>
<circle cx="565.3" cy="1848.5" r="5.2" fill="#F47C7C"/>
<circle cx="605.4" cy="1857.9" r="5.2" fill="#F47C7C"/>
<circle cx="645.5" cy="1875.8" r="5.2" fill="#F47C7C"/>
<path d="M505,1733.2V1892.4H665.4M497.5,1892.4H505M497.5,1839.3H505M497.5,1786.3H505M497.5,1733.2H505M525.5,1892.4V1899.9M565.3,1892.4V1899.9M605.4,1892.4V1899.9M645.5,1892.4V1899.9" stroke="#000" stroke-width="2.1" fill="none" stroke-linecap="square"/>
<text x="493.2" y="1897.5" font-size="21.3" text-anchor="end">0</text>
<text x="493.2" y="1844.4" font-size="21.3" text-anchor="end">2</text>
<text x="493.2" y="1791.4" font-size="21.3" text-anchor="end">4</text>
<text x="493.2" y="1738.3" font-size="21.3" text-anchor="end">6</text>
<text x="537.7" y="1914.7" font-size="21.3" text-anchor="end" transform="rotate(-45 537.7 1914.7)">D0</text>
<text x="577.5" y="1914.7" font-size="21.3" text-anchor="end" transform="rotate(-45 577.5 1914.7)">D7</text>
<text x="617.6" y="1914.7" font-size="21.3" text-anchor="end" transform="rotate(-45 617.6 1914.7)">D14</text>
<text x="657.7" y="1914.7" font-size="21.3" text-anchor="end" transform="rotate(-45 657.7 1914.7)">D21</text>
<text x="588.4" y="1710.4" font-size="21.3" text-anchor="middle">Tfh</text>
<polyline points="757.6,1842.1 797,1855.9 837.2,1864 877,1852.3" fill="none" stroke="#D3D3D3" stroke-width="2.3" stroke-linejoin="round"/>
<circle cx="797" cy="1855.9" r="5.2" fill="#D3D3D3"/>
<circle cx="837.2" cy="1864" r="5.2" fill="#D3D3D3"/>
<circle cx="877" cy="1852.3" r="5.2" fill="#D3D3D3"/>
<polyline points="757.6,1842.1 797,1812 837.2,1772.4 877,1846.2" fill="none" stroke="#F47C7C" stroke-width="2.3" stroke-linejoin="round"/>
<circle cx="797" cy="1812" r="5.2" fill="#F47C7C"/>
<circle cx="837.2" cy="1772.4" r="5.2" fill="#F47C7C"/>
<circle cx="877" cy="1846.2" r="5.2" fill="#F47C7C"/>
<path d="M737.7,1733.2V1892.4H898M730.2,1892.4H737.7M730.2,1839.3H737.7M730.2,1786.3H737.7M730.2,1733.2H737.7M757.6,1892.4V1899.9M797,1892.4V1899.9M837.2,1892.4V1899.9M877,1892.4V1899.9" stroke="#000" stroke-width="2.1" fill="none" stroke-linecap="square"/>
<text x="724.4" y="1897.5" font-size="21.3" text-anchor="end">0</text>
<text x="724.4" y="1844.4" font-size="21.3" text-anchor="end">2</text>
<text x="724.4" y="1791.4" font-size="21.3" text-anchor="end">4</text>
<text x="724.4" y="1738.3" font-size="21.3" text-anchor="end">6</text>
<text x="769.8" y="1914.7" font-size="21.3" text-anchor="end" transform="rotate(-45 769.8 1914.7)">D0</text>
<text x="809.2" y="1914.7" font-size="21.3" text-anchor="end" transform="rotate(-45 809.2 1914.7)">D7</text>
<text x="849.4" y="1914.7" font-size="21.3" text-anchor="end" transform="rotate(-45 849.4 1914.7)">D14</text>
<text x="889.2" y="1914.7" font-size="21.3" text-anchor="end" transform="rotate(-45 889.2 1914.7)">D21</text>
<text x="820.8" y="1710.4" font-size="21.3" text-anchor="middle">Th1</text>
<polyline points="989.3,1796.7 1028.8,1803.2 1068.9,1797.3 1108.7,1797.6" fill="none" stroke="#D3D3D3" stroke-width="2.3" stroke-linejoin="round"/>
<circle cx="1028.8" cy="1803.2" r="5.2" fill="#D3D3D3"/>
<circle cx="1068.9" cy="1797.3" r="5.2" fill="#D3D3D3"/>
<circle cx="1108.7" cy="1797.6" r="5.2" fill="#D3D3D3"/>
<polyline points="989.3,1796.7 1028.8,1752.8 1068.9,1768.6 1108.7,1812.8" fill="none" stroke="#F47C7C" stroke-width="2.3" stroke-linejoin="round"/>
<circle cx="1028.8" cy="1752.8" r="5.2" fill="#F47C7C"/>
<circle cx="1068.9" cy="1768.6" r="5.2" fill="#F47C7C"/>
<circle cx="1108.7" cy="1812.8" r="5.2" fill="#F47C7C"/>
<path d="M969.7,1733.2V1892.4H1129.8M962.2,1892.4H969.7M962.2,1839.3H969.7M962.2,1786.3H969.7M962.2,1733.2H969.7M989.3,1892.4V1899.9M1028.8,1892.4V1899.9M1068.9,1892.4V1899.9M1108.7,1892.4V1899.9" stroke="#000" stroke-width="2.1" fill="none" stroke-linecap="square"/>
<text x="956.1" y="1897.5" font-size="21.3" text-anchor="end">0</text>
<text x="956.1" y="1844.4" font-size="21.3" text-anchor="end">2</text>
<text x="956.1" y="1791.4" font-size="21.3" text-anchor="end">4</text>
<text x="956.1" y="1738.3" font-size="21.3" text-anchor="end">6</text>
<text x="1001.5" y="1914.7" font-size="21.3" text-anchor="end" transform="rotate(-45 1001.5 1914.7)">D0</text>
<text x="1041" y="1914.7" font-size="21.3" text-anchor="end" transform="rotate(-45 1041 1914.7)">D7</text>
<text x="1081.1" y="1914.7" font-size="21.3" text-anchor="end" transform="rotate(-45 1081.1 1914.7)">D14</text>
<text x="1120.9" y="1914.7" font-size="21.3" text-anchor="end" transform="rotate(-45 1120.9 1914.7)">D21</text>
<text x="1054.4" y="1710.4" font-size="21.3" text-anchor="middle">Treg</text>
<polyline points="1221.4,1882.2 1260.9,1880.7 1301.6,1877.2 1341.1,1878.1" fill="none" stroke="#D3D3D3" stroke-width="2.3" stroke-linejoin="round"/>
<circle cx="1260.9" cy="1880.7" r="5.2" fill="#D3D3D3"/>
<circle cx="1301.6" cy="1877.2" r="5.2" fill="#D3D3D3"/>
<circle cx="1341.1" cy="1878.1" r="5.2" fill="#D3D3D3"/>
<polyline points="1221.4,1882.2 1260.9,1864.6 1301.6,1869.6 1341.1,1882.2" fill="none" stroke="#F47C7C" stroke-width="2.3" stroke-linejoin="round"/>
<circle cx="1260.9" cy="1864.6" r="5.2" fill="#F47C7C"/>
<circle cx="1301.6" cy="1869.6" r="5.2" fill="#F47C7C"/>
<circle cx="1341.1" cy="1882.2" r="5.2" fill="#F47C7C"/>
<path d="M1201.5,1733.2V1892.4H1361.8M1194,1892.4H1201.5M1194,1839.3H1201.5M1194,1786.3H1201.5M1194,1733.2H1201.5M1221.4,1892.4V1899.9M1260.9,1892.4V1899.9M1301.6,1892.4V1899.9M1341.1,1892.4V1899.9" stroke="#000" stroke-width="2.1" fill="none" stroke-linecap="square"/>
<text x="1188.8" y="1897.5" font-size="21.3" text-anchor="end">0</text>
<text x="1188.8" y="1844.4" font-size="21.3" text-anchor="end">2</text>
<text x="1188.8" y="1791.4" font-size="21.3" text-anchor="end">4</text>
<text x="1188.8" y="1738.3" font-size="21.3" text-anchor="end">6</text>
<text x="1233.6" y="1914.7" font-size="21.3" text-anchor="end" transform="rotate(-45 1233.6 1914.7)">D0</text>
<text x="1273.1" y="1914.7" font-size="21.3" text-anchor="end" transform="rotate(-45 1273.1 1914.7)">D7</text>
<text x="1313.8" y="1914.7" font-size="21.3" text-anchor="end" transform="rotate(-45 1313.8 1914.7)">D14</text>
<text x="1353.3" y="1914.7" font-size="21.3" text-anchor="end" transform="rotate(-45 1353.3 1914.7)">D21</text>
<text x="1281.2" y="1710.4" font-size="21.3" text-anchor="middle">NCD8</text>
<polyline points="1453.6,1871.1 1493.4,1873.4 1533,1874 1573,1868.1" fill="none" stroke="#D3D3D3" stroke-width="2.3" stroke-linejoin="round"/>
<circle cx="1493.4" cy="1873.4" r="5.2" fill="#D3D3D3"/>
<circle cx="1533" cy="1874" r="5.2" fill="#D3D3D3"/>
<circle cx="1573" cy="1868.1" r="5.2" fill="#D3D3D3"/>
<polyline points="1453.6,1871.1 1493.4,1850.3 1533,1853.8 1573,1875.5" fill="none" stroke="#F47C7C" stroke-width="2.3" stroke-linejoin="round"/>
<circle cx="1493.4" cy="1850.3" r="5.2" fill="#F47C7C"/>
<circle cx="1533" cy="1853.8" r="5.2" fill="#F47C7C"/>
<circle cx="1573" cy="1875.5" r="5.2" fill="#F47C7C"/>
<path d="M1433.4,1733.2V1892.4H1594.4M1425.9,1892.4H1433.4M1425.9,1839.3H1433.4M1425.9,1786.3H1433.4M1425.9,1733.2H1433.4M1453.6,1892.4V1899.9M1493.4,1892.4V1899.9M1533,1892.4V1899.9M1573,1892.4V1899.9" stroke="#000" stroke-width="2.1" fill="none" stroke-linecap="square"/>
<text x="1419.9" y="1897.5" font-size="21.3" text-anchor="end">0</text>
<text x="1419.9" y="1844.4" font-size="21.3" text-anchor="end">2</text>
<text x="1419.9" y="1791.4" font-size="21.3" text-anchor="end">4</text>
<text x="1419.9" y="1738.3" font-size="21.3" text-anchor="end">6</text>
<text x="1465.8" y="1914.7" font-size="21.3" text-anchor="end" transform="rotate(-45 1465.8 1914.7)">D0</text>
<text x="1505.6" y="1914.7" font-size="21.3" text-anchor="end" transform="rotate(-45 1505.6 1914.7)">D7</text>
<text x="1545.2" y="1914.7" font-size="21.3" text-anchor="end" transform="rotate(-45 1545.2 1914.7)">D14</text>
<text x="1585.2" y="1914.7" font-size="21.3" text-anchor="end" transform="rotate(-45 1585.2 1914.7)">D21</text>
<text x="1514" y="1710.4" font-size="21.3" text-anchor="middle">CTL</text>
<polyline points="1685.7,1854.4 1725.2,1860.2 1765.3,1852.3 1805.1,1860.2" fill="none" stroke="#D3D3D3" stroke-width="2.3" stroke-linejoin="round"/>
<circle cx="1725.2" cy="1860.2" r="5.2" fill="#D3D3D3"/>
<circle cx="1765.3" cy="1852.3" r="5.2" fill="#D3D3D3"/>
<circle cx="1805.1" cy="1860.2" r="5.2" fill="#D3D3D3"/>
<polyline points="1685.7,1854.4 1725.2,1838 1765.3,1825.1 1805.1,1854.4" fill="none" stroke="#F47C7C" stroke-width="2.3" stroke-linejoin="round"/>
<circle cx="1725.2" cy="1838" r="5.2" fill="#F47C7C"/>
<circle cx="1765.3" cy="1825.1" r="5.2" fill="#F47C7C"/>
<circle cx="1805.1" cy="1854.4" r="5.2" fill="#F47C7C"/>
<path d="M1665.2,1733.2V1892.4H1825.6M1657.7,1892.4H1665.2M1657.7,1839.3H1665.2M1657.7,1786.3H1665.2M1657.7,1733.2H1665.2M1685.7,1892.4V1899.9M1725.2,1892.4V1899.9M1765.3,1892.4V1899.9M1805.1,1892.4V1899.9" stroke="#000" stroke-width="2.1" fill="none" stroke-linecap="square"/>
<text x="1652.6" y="1897.5" font-size="21.3" text-anchor="end">0</text>
<text x="1652.6" y="1844.4" font-size="21.3" text-anchor="end">2</text>
<text x="1652.6" y="1791.4" font-size="21.3" text-anchor="end">4</text>
<text x="1652.6" y="1738.3" font-size="21.3" text-anchor="end">6</text>
<text x="1697.9" y="1914.7" font-size="21.3" text-anchor="end" transform="rotate(-45 1697.9 1914.7)">D0</text>
<text x="1737.4" y="1914.7" font-size="21.3" text-anchor="end" transform="rotate(-45 1737.4 1914.7)">D7</text>
<text x="1777.5" y="1914.7" font-size="21.3" text-anchor="end" transform="rotate(-45 1777.5 1914.7)">D14</text>
<text x="1817.3" y="1914.7" font-size="21.3" text-anchor="end" transform="rotate(-45 1817.3 1914.7)">D21</text>
<text x="1742.2" y="1710.4" font-size="21.3" text-anchor="middle">Pro-T</text>
<text x="843.3" y="1672.1" font-size="21.3">Pim1 expression</text>
<text x="620.8" y="2019" font-size="21.8" text-anchor="middle">GO analysis of upregulated DEGs of T cells</text>
<text x="620.9" y="2045" font-size="21.8" text-anchor="middle">in D14c-D0 comparison group</text>
<rect x="547.8" y="2067.9" width="21.8" height="32.3" fill="#D9D9D9"/>
<rect x="571.7" y="2067.9" width="21.8" height="32.3" fill="#FEE3DA"/>
<rect x="595.6" y="2067.9" width="21.8" height="32.3" fill="#D9D9D9"/>
<rect x="619.5" y="2067.9" width="21.8" height="32.3" fill="#D9D9D9"/>
<rect x="643.4" y="2067.9" width="21.8" height="32.3" fill="#D9D9D9"/>
<rect x="667.3" y="2067.9" width="21.8" height="32.3" fill="#D9D9D9"/>
<rect x="691.2" y="2067.9" width="21.8" height="32.3" fill="#D9D9D9"/>
<rect x="715.1" y="2067.9" width="21.8" height="32.3" fill="#D9D9D9"/>
<rect x="547.8" y="2102.7" width="21.8" height="32.3" fill="#D9D9D9"/>
<rect x="571.7" y="2102.7" width="21.8" height="32.3" fill="#D9D9D9"/>
<rect x="595.6" y="2102.7" width="21.8" height="32.3" fill="#FE4426"/>
<rect x="619.5" y="2102.7" width="21.8" height="32.3" fill="#D9D9D9"/>
<rect x="643.4" y="2102.7" width="21.8" height="32.3" fill="#D9D9D9"/>
<rect x="667.3" y="2102.7" width="21.8" height="32.3" fill="#D9D9D9"/>
<rect x="691.2" y="2102.7" width="21.8" height="32.3" fill="#D9D9D9"/>
<rect x="715.1" y="2102.7" width="21.8" height="32.3" fill="#D9D9D9"/>
<rect x="547.8" y="2137.4" width="21.8" height="32.3" fill="#D9D9D9"/>
<rect x="571.7" y="2137.4" width="21.8" height="32.3" fill="#D9D9D9"/>
<rect x="595.6" y="2137.4" width="21.8" height="32.3" fill="#D9D9D9"/>
<rect x="619.5" y="2137.4" width="21.8" height="32.3" fill="#D9D9D9"/>
<rect x="643.4" y="2137.4" width="21.8" height="32.3" fill="#D9D9D9"/>
<rect x="667.3" y="2137.4" width="21.8" height="32.3" fill="#D9D9D9"/>
<rect x="691.2" y="2137.4" width="21.8" height="32.3" fill="#D9D9D9"/>
<rect x="715.1" y="2137.4" width="21.8" height="32.3" fill="#FECEBF"/>
<rect x="547.8" y="2172.2" width="21.8" height="32.3" fill="#D9D9D9"/>
<rect x="571.7" y="2172.2" width="21.8" height="32.3" fill="#D9D9D9"/>
<rect x="595.6" y="2172.2" width="21.8" height="32.3" fill="#D9D9D9"/>
<rect x="619.5" y="2172.2" width="21.8" height="32.3" fill="#D9D9D9"/>
<rect x="643.4" y="2172.2" width="21.8" height="32.3" fill="#D9D9D9"/>
<rect x="667.3" y="2172.2" width="21.8" height="32.3" fill="#D9D9D9"/>
<rect x="691.2" y="2172.2" width="21.8" height="32.3" fill="#FEF1EC"/>
<rect x="715.1" y="2172.2" width="21.8" height="32.3" fill="#D9D9D9"/>
<rect x="547.8" y="2206.9" width="21.8" height="32.3" fill="#D9D9D9"/>
<rect x="571.7" y="2206.9" width="21.8" height="32.3" fill="#D9D9D9"/>
<rect x="595.6" y="2206.9" width="21.8" height="32.3" fill="#D9D9D9"/>
<rect x="619.5" y="2206.9" width="21.8" height="32.3" fill="#D9D9D9"/>
<rect x="643.4" y="2206.9" width="21.8" height="32.3" fill="#FEDBD0"/>
<rect x="667.3" y="2206.9" width="21.8" height="32.3" fill="#D9D9D9"/>
<rect x="691.2" y="2206.9" width="21.8" height="32.3" fill="#D9D9D9"/>
<rect x="715.1" y="2206.9" width="21.8" height="32.3" fill="#D9D9D9"/>
<rect x="547.8" y="2241.7" width="21.8" height="32.3" fill="#FE8E72"/>
<rect x="571.7" y="2241.7" width="21.8" height="32.3" fill="#D9D9D9"/>
<rect x="595.6" y="2241.7" width="21.8" height="32.3" fill="#D9D9D9"/>
<rect x="619.5" y="2241.7" width="21.8" height="32.3" fill="#FECDBE"/>
<rect x="643.4" y="2241.7" width="21.8" height="32.3" fill="#D9D9D9"/>
<rect x="667.3" y="2241.7" width="21.8" height="32.3" fill="#D9D9D9"/>
<rect x="691.2" y="2241.7" width="21.8" height="32.3" fill="#D9D9D9"/>
<rect x="715.1" y="2241.7" width="21.8" height="32.3" fill="#D9D9D9"/>
<rect x="547.8" y="2276.5" width="21.8" height="32.3" fill="#D9D9D9"/>
<rect x="571.7" y="2276.5" width="21.8" height="32.3" fill="#D9D9D9"/>
<rect x="595.6" y="2276.5" width="21.8" height="32.3" fill="#D9D9D9"/>
<rect x="619.5" y="2276.5" width="21.8" height="32.3" fill="#D9D9D9"/>
<rect x="643.4" y="2276.5" width="21.8" height="32.3" fill="#D9D9D9"/>
<rect x="667.3" y="2276.5" width="21.8" height="32.3" fill="#D9D9D9"/>
<rect x="691.2" y="2276.5" width="21.8" height="32.3" fill="#FED9CD"/>
<rect x="715.1" y="2276.5" width="21.8" height="32.3" fill="#D9D9D9"/>
<rect x="547.8" y="2311.2" width="21.8" height="32.3" fill="#FF2E16"/>
<rect x="571.7" y="2311.2" width="21.8" height="32.3" fill="#FE674A"/>
<rect x="595.6" y="2311.2" width="21.8" height="32.3" fill="#D9D9D9"/>
<rect x="619.5" y="2311.2" width="21.8" height="32.3" fill="#D9D9D9"/>
<rect x="643.4" y="2311.2" width="21.8" height="32.3" fill="#D9D9D9"/>
<rect x="691.2" y="2311.2" width="21.8" height="32.3" fill="#D9D9D9"/>
<rect x="715.1" y="2311.2" width="21.8" height="32.3" fill="#D9D9D9"/>
<rect x="547.8" y="2346" width="21.8" height="32.3" fill="#D9D9D9"/>
<rect x="571.7" y="2346" width="21.8" height="32.3" fill="#D9D9D9"/>
<rect x="595.6" y="2346" width="21.8" height="32.3" fill="#D9D9D9"/>
<rect x="619.5" y="2346" width="21.8" height="32.3" fill="#D9D9D9"/>
<rect x="643.4" y="2346" width="21.8" height="32.3" fill="#FED8CC"/>
<rect x="667.3" y="2346" width="21.8" height="32.3" fill="#D9D9D9"/>
<rect x="691.2" y="2346" width="21.8" height="32.3" fill="#D9D9D9"/>
<rect x="715.1" y="2346" width="21.8" height="32.3" fill="#D9D9D9"/>
<rect x="547.8" y="2380.7" width="21.8" height="32.3" fill="#D9D9D9"/>
<rect x="571.7" y="2380.7" width="21.8" height="32.3" fill="#FEDAD0"/>
<rect x="595.6" y="2380.7" width="21.8" height="32.3" fill="#D9D9D9"/>
<rect x="619.5" y="2380.7" width="21.8" height="32.3" fill="#D9D9D9"/>
<rect x="643.4" y="2380.7" width="21.8" height="32.3" fill="#D9D9D9"/>
<rect x="667.3" y="2380.7" width="21.8" height="32.3" fill="#D9D9D9"/>
<rect x="691.2" y="2380.7" width="21.8" height="32.3" fill="#D9D9D9"/>
<rect x="715.1" y="2380.7" width="21.8" height="32.3" fill="#D9D9D9"/>
<rect x="547.8" y="2415.5" width="21.8" height="32.3" fill="#D9D9D9"/>
<rect x="571.7" y="2415.5" width="21.8" height="32.3" fill="#D9D9D9"/>
<rect x="595.6" y="2415.5" width="21.8" height="32.3" fill="#FE4426"/>
<rect x="619.5" y="2415.5" width="21.8" height="32.3" fill="#D9D9D9"/>
<rect x="643.4" y="2415.5" width="21.8" height="32.3" fill="#D9D9D9"/>
<rect x="667.3" y="2415.5" width="21.8" height="32.3" fill="#FEF2EE"/>
<rect x="691.2" y="2415.5" width="21.8" height="32.3" fill="#D9D9D9"/>
<rect x="715.1" y="2415.5" width="21.8" height="32.3" fill="#D9D9D9"/>
<rect x="547.8" y="2450.3" width="21.8" height="32.3" fill="#D9D9D9"/>
<rect x="571.7" y="2450.3" width="21.8" height="32.3" fill="#D9D9D9"/>
<rect x="595.6" y="2450.3" width="21.8" height="32.3" fill="#D9D9D9"/>
<rect x="619.5" y="2450.3" width="21.8" height="32.3" fill="#FED0C2"/>
<rect x="643.4" y="2450.3" width="21.8" height="32.3" fill="#D9D9D9"/>
<rect x="667.3" y="2450.3" width="21.8" height="32.3" fill="#D9D9D9"/>
<rect x="691.2" y="2450.3" width="21.8" height="32.3" fill="#D9D9D9"/>
<rect x="715.1" y="2450.3" width="21.8" height="32.3" fill="#FF0000"/>
<text x="540.3" y="2091.6" font-size="21.8" text-anchor="end">type I interferon signaling pathway</text>
<text x="540.3" y="2126.3" font-size="21.8" text-anchor="end">translation</text>
<text x="540.3" y="2161.1" font-size="21.8" text-anchor="end">T cell mediated immunity</text>
<text x="540.3" y="2195.8" font-size="21.8" text-anchor="end">regulation of T cell mediated immunity</text>
<text x="540.3" y="2230.6" font-size="21.8" text-anchor="end">regulation of response to cytokine stimulus</text>
<text x="540.3" y="2265.4" font-size="21.8" text-anchor="end">regulation of response to biotic stimulus</text>
<text x="540.3" y="2300.1" font-size="21.8" text-anchor="end">regulation of immune effector process</text>
<text x="540.3" y="2334.9" font-size="21.8" text-anchor="end">regulation of defense response</text>
<text x="540.3" y="2369.6" font-size="21.8" text-anchor="end">regulation of cytokine−mediated signaling pathway</text>
<text x="540.3" y="2404.4" font-size="21.8" text-anchor="end">positive regulation of inflammatory response</text>
<text x="540.3" y="2439.2" font-size="21.8" text-anchor="end">peptide biosynthetic process</text>
<text x="540.3" y="2473.9" font-size="21.8" text-anchor="end">Adaptive Immune System</text>
<text x="567.5" y="2498.4" font-size="17.4" text-anchor="end" transform="rotate(-45 567.5 2498.4)">CTL</text>
<text x="591.4" y="2498.4" font-size="17.4" text-anchor="end" transform="rotate(-45 591.4 2498.4)">NCD4</text>
<text x="615.3" y="2498.4" font-size="17.4" text-anchor="end" transform="rotate(-45 615.3 2498.4)">NCD8</text>
<text x="639.2" y="2498.4" font-size="17.4" text-anchor="end" transform="rotate(-45 639.2 2498.4)">Pro-T</text>
<text x="663.1" y="2498.4" font-size="17.4" text-anchor="end" transform="rotate(-45 663.1 2498.4)">Tfh</text>
<text x="687" y="2498.4" font-size="17.4" text-anchor="end" transform="rotate(-45 687 2498.4)">Th1</text>
<text x="710.9" y="2498.4" font-size="17.4" text-anchor="end" transform="rotate(-45 710.9 2498.4)">Th17</text>
<text x="734.8" y="2498.4" font-size="17.4" text-anchor="end" transform="rotate(-45 734.8 2498.4)">Treg</text>
<text x="820.9" y="2093.8" font-size="21"><tspan>-(Log</tspan><tspan font-size="12.6" dy="7.2">10</tspan><tspan dy="-7.2">P)</tspan></text>
<rect x="818.1" y="2098.8" width="15.7" height="76.8" fill="url(#gF)"/>
<path d="M818.1,2117.4h4M829.8,2117.4h4" stroke="#fff" stroke-width="1.6"/>
<text x="839.6" y="2120.4" font-size="21.3">15</text>
<path d="M818.1,2141.6h4M829.8,2141.6h4" stroke="#fff" stroke-width="1.6"/>
<text x="839.6" y="2144.6" font-size="21.3">10</text>
<path d="M818.1,2165.7h4M829.8,2165.7h4" stroke="#fff" stroke-width="1.6"/>
<text x="839.6" y="2168.7" font-size="21.3">5</text>
<text x="1475.6" y="2019" font-size="21.8" text-anchor="middle">GO analysis of upregulated DEGs of T cells</text>
<text x="1475.5" y="2045" font-size="21.8" text-anchor="middle">in D14-D14c comparison group</text>
<rect x="1435.9" y="2067.8" width="22" height="36" fill="#FEF0EB"/>
<rect x="1459.8" y="2067.8" width="22" height="36" fill="#D9D9D9"/>
<rect x="1483.7" y="2067.8" width="22" height="36" fill="#FEF0EB"/>
<rect x="1531.5" y="2067.8" width="22" height="36" fill="#D9D9D9"/>
<rect x="1555.4" y="2067.8" width="22" height="36" fill="#D9D9D9"/>
<rect x="1579.3" y="2067.8" width="22" height="36" fill="#D9D9D9"/>
<rect x="1412" y="2105.7" width="22" height="36" fill="#FEE3DA"/>
<rect x="1435.9" y="2105.7" width="22" height="36" fill="#D9D9D9"/>
<rect x="1459.8" y="2105.7" width="22" height="36" fill="#D9D9D9"/>
<rect x="1483.7" y="2105.7" width="22" height="36" fill="#D9D9D9"/>
<rect x="1507.6" y="2105.7" width="22" height="36" fill="#D9D9D9"/>
<rect x="1531.5" y="2105.7" width="22" height="36" fill="#FEF0EB"/>
<rect x="1555.4" y="2105.7" width="22" height="36" fill="#D9D9D9"/>
<rect x="1579.3" y="2105.7" width="22" height="36" fill="#D9D9D9"/>
<rect x="1435.9" y="2143.6" width="22" height="36" fill="#D9D9D9"/>
<rect x="1459.8" y="2143.6" width="22" height="36" fill="#D9D9D9"/>
<rect x="1483.7" y="2143.6" width="22" height="36" fill="#D9D9D9"/>
<rect x="1507.6" y="2143.6" width="22" height="36" fill="#D9D9D9"/>
<rect x="1531.5" y="2143.6" width="22" height="36" fill="#D9D9D9"/>
<rect x="1555.4" y="2143.6" width="22" height="36" fill="#D9D9D9"/>
<rect x="1579.3" y="2143.6" width="22" height="36" fill="#D9D9D9"/>
<rect x="1412" y="2181.6" width="22" height="36" fill="#D9D9D9"/>
<rect x="1435.9" y="2181.6" width="22" height="36" fill="#D9D9D9"/>
<rect x="1459.8" y="2181.6" width="22" height="36" fill="#D9D9D9"/>
<rect x="1483.7" y="2181.6" width="22" height="36" fill="#D9D9D9"/>
<rect x="1507.6" y="2181.6" width="22" height="36" fill="#D9D9D9"/>
<rect x="1531.5" y="2181.6" width="22" height="36" fill="#D9D9D9"/>
<rect x="1555.4" y="2181.6" width="22" height="36" fill="#D9D9D9"/>
<rect x="1579.3" y="2181.6" width="22" height="36" fill="#FE9577"/>
<rect x="1412" y="2219.5" width="22" height="36" fill="#D9D9D9"/>
<rect x="1435.9" y="2219.5" width="22" height="36" fill="#D9D9D9"/>
<rect x="1459.8" y="2219.5" width="22" height="36" fill="#D9D9D9"/>
<rect x="1483.7" y="2219.5" width="22" height="36" fill="#D9D9D9"/>
<rect x="1507.6" y="2219.5" width="22" height="36" fill="#D9D9D9"/>
<rect x="1531.5" y="2219.5" width="22" height="36" fill="#FEBCA6"/>
<rect x="1555.4" y="2219.5" width="22" height="36" fill="#D9D9D9"/>
<rect x="1579.3" y="2219.5" width="22" height="36" fill="#D9D9D9"/>
<rect x="1412" y="2257.4" width="22" height="36" fill="#D9D9D9"/>
<rect x="1435.9" y="2257.4" width="22" height="36" fill="#D9D9D9"/>
<rect x="1459.8" y="2257.4" width="22" height="36" fill="#D9D9D9"/>
<rect x="1483.7" y="2257.4" width="22" height="36" fill="#D9D9D9"/>
<rect x="1507.6" y="2257.4" width="22" height="36" fill="#D9D9D9"/>
<rect x="1531.5" y="2257.4" width="22" height="36" fill="#FE8A6A"/>
<rect x="1555.4" y="2257.4" width="22" height="36" fill="#D9D9D9"/>
<rect x="1579.3" y="2257.4" width="22" height="36" fill="#D9D9D9"/>
<rect x="1412" y="2295.3" width="22" height="36" fill="#D9D9D9"/>
<rect x="1435.9" y="2295.3" width="22" height="36" fill="#FE7859"/>
<rect x="1459.8" y="2295.3" width="22" height="36" fill="#D9D9D9"/>
<rect x="1483.7" y="2295.3" width="22" height="36" fill="#D9D9D9"/>
<rect x="1507.6" y="2295.3" width="22" height="36" fill="#D9D9D9"/>
<rect x="1531.5" y="2295.3" width="22" height="36" fill="#D9D9D9"/>
<rect x="1555.4" y="2295.3" width="22" height="36" fill="#D9D9D9"/>
<rect x="1579.3" y="2295.3" width="22" height="36" fill="#D9D9D9"/>
<rect x="1412" y="2333.2" width="22" height="36" fill="#D9D9D9"/>
<rect x="1435.9" y="2333.2" width="22" height="36" fill="#FFD8CC"/>
<rect x="1459.8" y="2333.2" width="22" height="36" fill="#D9D9D9"/>
<rect x="1483.7" y="2333.2" width="22" height="36" fill="#D9D9D9"/>
<rect x="1507.6" y="2333.2" width="22" height="36" fill="#D9D9D9"/>
<rect x="1531.5" y="2333.2" width="22" height="36" fill="#D9D9D9"/>
<rect x="1555.4" y="2333.2" width="22" height="36" fill="#FFE5DC"/>
<rect x="1579.3" y="2333.2" width="22" height="36" fill="#D9D9D9"/>
<rect x="1412" y="2371.2" width="22" height="36" fill="#FE977C"/>
<rect x="1435.9" y="2371.2" width="22" height="36" fill="#FF0000"/>
<rect x="1459.8" y="2371.2" width="22" height="36" fill="#FE3218"/>
<rect x="1483.7" y="2371.2" width="22" height="36" fill="#FE684C"/>
<rect x="1507.6" y="2371.2" width="22" height="36" fill="#FE977C"/>
<rect x="1531.5" y="2371.2" width="22" height="36" fill="#FECABB"/>
<rect x="1555.4" y="2371.2" width="22" height="36" fill="#FEC8B8"/>
<rect x="1579.3" y="2371.2" width="22" height="36" fill="#FE7358"/>
<rect x="1412" y="2409.1" width="22" height="36" fill="#FE977C"/>
<rect x="1435.9" y="2409.1" width="22" height="36" fill="#D9D9D9"/>
<rect x="1459.8" y="2409.1" width="22" height="36" fill="#FE3218"/>
<rect x="1483.7" y="2409.1" width="22" height="36" fill="#FE684C"/>
<rect x="1507.6" y="2409.1" width="22" height="36" fill="#FE977C"/>
<rect x="1531.5" y="2409.1" width="22" height="36" fill="#FECABB"/>
<rect x="1555.4" y="2409.1" width="22" height="36" fill="#FEC8B8"/>
<rect x="1579.3" y="2409.1" width="22" height="36" fill="#FE7358"/>
<rect x="1412" y="2447" width="22" height="36" fill="#D9D9D9"/>
<rect x="1435.9" y="2447" width="22" height="36" fill="#D9D9D9"/>
<rect x="1459.8" y="2447" width="22" height="36" fill="#FE977C"/>
<rect x="1483.7" y="2447" width="22" height="36" fill="#D9D9D9"/>
<rect x="1507.6" y="2447" width="22" height="36" fill="#D9D9D9"/>
<rect x="1531.5" y="2447" width="22" height="36" fill="#D9D9D9"/>
<rect x="1555.4" y="2447" width="22" height="36" fill="#D9D9D9"/>
<rect x="1579.3" y="2447" width="22" height="36" fill="#D9D9D9"/>
<text x="1401.7" y="2091.8" font-size="21.8" text-anchor="end">TNF signaling pathway</text>
<text x="1401.7" y="2129.7" font-size="21.8" text-anchor="end">T cell mediated immunity</text>
<text x="1401.7" y="2167.6" font-size="21.8" text-anchor="end">T cell mediated cytotoxicity</text>
<text x="1401.7" y="2205.6" font-size="21.8" text-anchor="end">T cell activation</text>
<text x="1401.7" y="2243.5" font-size="21.8" text-anchor="end">regulation of leukocyte activation</text>
<text x="1401.7" y="2281.4" font-size="21.8" text-anchor="end">regulation of cytokine production</text>
<text x="1401.7" y="2319.3" font-size="21.8" text-anchor="end">leukocyte differentiation</text>
<text x="1401.7" y="2357.2" font-size="21.8" text-anchor="end">IL−17 signaling pathway</text>
<text x="1401.7" y="2395.2" font-size="21.8" text-anchor="end">Cellular responses to stress</text>
<text x="1401.7" y="2433.1" font-size="21.8" text-anchor="end">Cellular responses to stimuli</text>
<text x="1401.7" y="2471" font-size="21.8" text-anchor="end">ATP metabolic process</text>
<text x="1431.8" y="2498.8" font-size="17.4" text-anchor="end" transform="rotate(-45 1431.8 2498.8)">CTL</text>
<text x="1455.7" y="2498.8" font-size="17.4" text-anchor="end" transform="rotate(-45 1455.7 2498.8)">NCD4</text>
<text x="1479.6" y="2498.8" font-size="17.4" text-anchor="end" transform="rotate(-45 1479.6 2498.8)">NCD8</text>
<text x="1503.5" y="2498.8" font-size="17.4" text-anchor="end" transform="rotate(-45 1503.5 2498.8)">Pro-T</text>
<text x="1527.4" y="2498.8" font-size="17.4" text-anchor="end" transform="rotate(-45 1527.4 2498.8)">Tfh</text>
<text x="1551.3" y="2498.8" font-size="17.4" text-anchor="end" transform="rotate(-45 1551.3 2498.8)">Th1</text>
<text x="1575.2" y="2498.8" font-size="17.4" text-anchor="end" transform="rotate(-45 1575.2 2498.8)">Th17</text>
<text x="1599.1" y="2498.8" font-size="17.4" text-anchor="end" transform="rotate(-45 1599.1 2498.8)">Treg</text>
<text x="1676.5" y="2089.6" font-size="21"><tspan>-(Log</tspan><tspan font-size="12.6" dy="7.2">10</tspan><tspan dy="-7.2">P)</tspan></text>
<rect x="1676.1" y="2105.4" width="15.5" height="73.5" rx="2" fill="url(#gG)"/>
<text x="1695.6" y="2112.7" font-size="21.3">20</text>
<path d="M1676.1,2129.9h3.5M1688.1,2129.9h3.5" stroke="#fff" stroke-width="1.6"/>
<text x="1695.6" y="2137.6" font-size="21.3">15</text>
<path d="M1676.1,2154.8h3.5M1688.1,2154.8h3.5" stroke="#fff" stroke-width="1.6"/>
<text x="1695.6" y="2162.5" font-size="21.3">10</text>
<text x="1695.6" y="2187.4" font-size="21.3">5</text>
</svg></body></html>
